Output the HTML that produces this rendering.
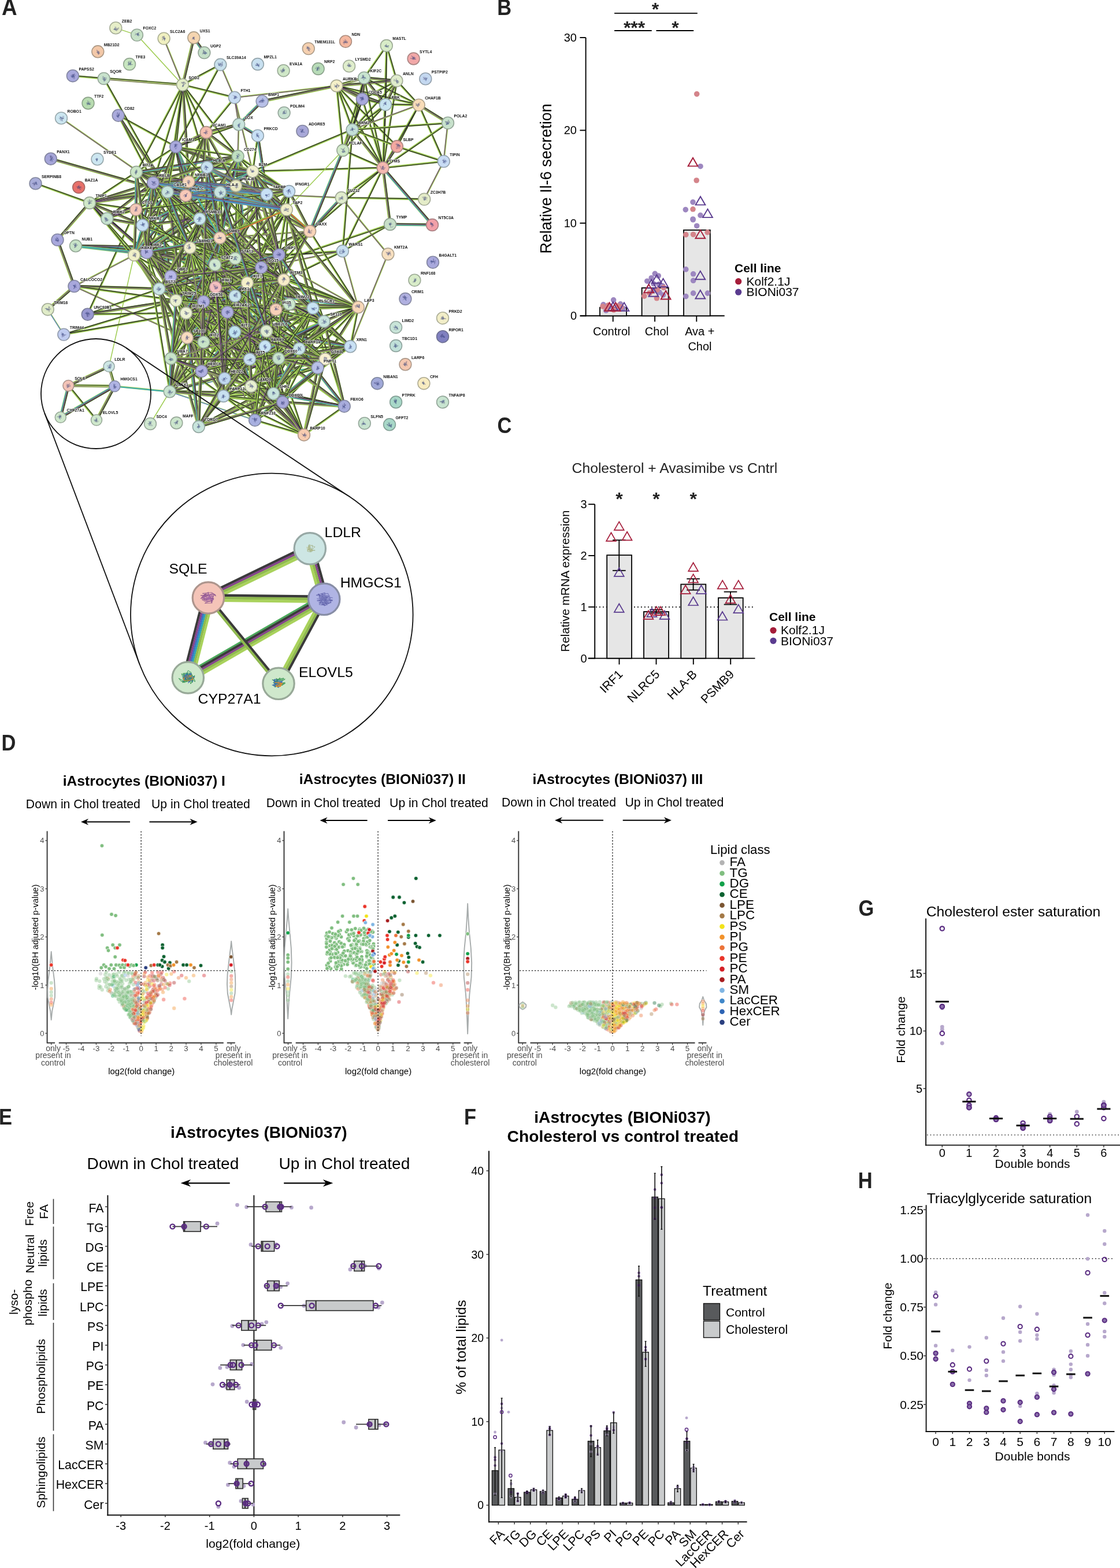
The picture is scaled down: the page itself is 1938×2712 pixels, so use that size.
<!DOCTYPE html>
<html><head><meta charset="utf-8"><title>Figure</title>
<style>html,body{margin:0;padding:0;background:#fff;} svg{display:block;} text{font-family:"Liberation Sans",Arial,Helvetica,sans-serif;}.n{r:3.3px;fill-opacity:.4;stroke:#fff;stroke-opacity:.45;stroke-width:.6}.s{r:3.3px;stroke:#fff;stroke-width:.7}.c0{fill:#b3b3b3}.c1{fill:#80be80}.c2{fill:#12a14a}.c3{fill:#0b6130}.c4{fill:#7b5532}.c5{fill:#a47947}.c6{fill:#f2e319}.c7{fill:#f2922b}.c8{fill:#ec7339}.c9{fill:#ea3429}.c10{fill:#d42027}.c11{fill:#a81d1f}.c12{fill:#7fb5e3}.c13{fill:#3f87c9}.c14{fill:#2d63b4}.c15{fill:#2b3f7f}</style>
</head><body>
<svg width="1938" height="2712" viewBox="0 0 1938 2712">
<rect width="1938" height="2712" fill="#fff"/>
<text x="0" y="0" font-size="35.5" font-weight="bold" fill="#222" transform="translate(860.3 25.7) scale(0.97 1.08)">B</text>
<line x1="1013.6" y1="65.0" x2="1013.6" y2="547.2" stroke="#000" stroke-width="1.9"/>
<line x1="1004.0" y1="546.3" x2="1253.7" y2="546.3" stroke="#000" stroke-width="1.9"/>
<line x1="1003.4" y1="546.3" x2="1013.6" y2="546.3" stroke="#000" stroke-width="1.9"/>
<text x="998.0" y="553.3" font-size="20" text-anchor="end">0</text>
<line x1="1003.4" y1="385.9" x2="1013.6" y2="385.9" stroke="#000" stroke-width="1.9"/>
<text x="998.0" y="392.9" font-size="20" text-anchor="end">10</text>
<line x1="1003.4" y1="225.4" x2="1013.6" y2="225.4" stroke="#000" stroke-width="1.9"/>
<text x="998.0" y="232.4" font-size="20" text-anchor="end">20</text>
<line x1="1003.4" y1="65.0" x2="1013.6" y2="65.0" stroke="#000" stroke-width="1.9"/>
<text x="998.0" y="72.0" font-size="20" text-anchor="end">30</text>
<line x1="1060.7" y1="546.3" x2="1060.7" y2="556.4" stroke="#000" stroke-width="1.9"/>
<line x1="1133.1" y1="546.3" x2="1133.1" y2="556.4" stroke="#000" stroke-width="1.9"/>
<line x1="1205.3" y1="546.3" x2="1205.3" y2="556.4" stroke="#000" stroke-width="1.9"/>
<text x="1058.3" y="580.4" font-size="20" text-anchor="middle">Control</text>
<text x="1136.4" y="580.4" font-size="20" text-anchor="middle">Chol</text>
<text x="1210.8" y="580.4" font-size="20" text-anchor="middle">Ava +</text>
<text x="1211.0" y="605.7" font-size="20" text-anchor="middle">Chol</text>
<text x="953.5" y="309.0" font-size="27" text-anchor="middle" transform="rotate(-90 953.5 309.0)">Relative Il-6 secretion</text>
<rect x="1038.0" y="531.8" width="46.1" height="14.5" fill="#e6e6e6" stroke="#000" stroke-width="1.8"/>
<rect x="1110.6" y="497.9" width="46.1" height="48.4" fill="#e6e6e6" stroke="#000" stroke-width="1.8"/>
<rect x="1183.0" y="397.9" width="45.8" height="148.4" fill="#e6e6e6" stroke="#000" stroke-width="1.8"/>
<line x1="1063.1" y1="22.9" x2="1206.8" y2="22.9" stroke="#000" stroke-width="1.9"/>
<line x1="1063.1" y1="53.0" x2="1127.7" y2="53.0" stroke="#000" stroke-width="1.9"/>
<line x1="1135.5" y1="53.0" x2="1200.2" y2="53.0" stroke="#000" stroke-width="1.9"/>
<text x="1134.0" y="26.5" font-size="32" text-anchor="middle" font-weight="bold" fill="#222">*</text>
<text x="1097.6" y="58.5" font-size="32" text-anchor="middle" font-weight="bold" fill="#222">***</text>
<text x="1168.4" y="58.5" font-size="32" text-anchor="middle" font-weight="bold" fill="#222">*</text>
<circle cx="1199.2" cy="380.0" r="4.8" fill="#9d87c0"/>
<circle cx="1205.7" cy="390.7" r="4.8" fill="#9d87c0"/>
<circle cx="1212.0" cy="287.7" r="4.8" fill="#9d87c0"/>
<circle cx="1199.0" cy="349.6" r="4.8" fill="#9d87c0"/>
<circle cx="1186.3" cy="362.6" r="4.8" fill="#9d87c0"/>
<circle cx="1212.0" cy="372.4" r="4.8" fill="#9d87c0"/>
<circle cx="1199.0" cy="379.0" r="4.8" fill="#9d87c0"/>
<circle cx="1186.8" cy="465.9" r="4.8" fill="#9d87c0"/>
<circle cx="1199.6" cy="473.8" r="4.8" fill="#9d87c0"/>
<circle cx="1199.6" cy="485.3" r="4.8" fill="#9d87c0"/>
<circle cx="1186.8" cy="512.6" r="4.8" fill="#9d87c0"/>
<circle cx="1199.6" cy="507.1" r="4.8" fill="#9d87c0"/>
<circle cx="1224.5" cy="507.1" r="4.8" fill="#9d87c0"/>
<circle cx="1133.3" cy="473.3" r="4.8" fill="#9d87c0"/>
<circle cx="1127.2" cy="480.7" r="4.8" fill="#9d87c0"/>
<circle cx="1139.2" cy="477.0" r="4.8" fill="#9d87c0"/>
<circle cx="1119.8" cy="486.2" r="4.8" fill="#9d87c0"/>
<circle cx="1130.9" cy="490.8" r="4.8" fill="#9d87c0"/>
<circle cx="1140.0" cy="491.8" r="4.8" fill="#9d87c0"/>
<circle cx="1146.6" cy="494.5" r="4.8" fill="#9d87c0"/>
<circle cx="1141.0" cy="505.6" r="4.8" fill="#9d87c0"/>
<circle cx="1147.5" cy="510.2" r="4.8" fill="#9d87c0"/>
<circle cx="1130.9" cy="502.8" r="4.8" fill="#9d87c0"/>
<circle cx="1044.0" cy="526.9" r="4.8" fill="#9d87c0"/>
<circle cx="1061.6" cy="518.9" r="4.8" fill="#9d87c0"/>
<circle cx="1073.6" cy="525.9" r="4.8" fill="#9d87c0"/>
<circle cx="1048.7" cy="537.0" r="4.8" fill="#9d87c0"/>
<circle cx="1078.2" cy="533.3" r="4.8" fill="#9d87c0"/>
<circle cx="1056.0" cy="530.0" r="4.8" fill="#9d87c0"/>
<circle cx="1068.0" cy="534.0" r="4.8" fill="#9d87c0"/>
<circle cx="1205.7" cy="162.6" r="4.8" fill="#d4848a"/>
<circle cx="1205.2" cy="312.0" r="4.8" fill="#d4848a"/>
<circle cx="1199.0" cy="361.8" r="4.8" fill="#d4848a"/>
<circle cx="1186.8" cy="405.9" r="4.8" fill="#d4848a"/>
<circle cx="1199.6" cy="405.5" r="4.8" fill="#d4848a"/>
<circle cx="1224.2" cy="401.8" r="4.8" fill="#d4848a"/>
<circle cx="1114.8" cy="512.1" r="4.8" fill="#d4848a"/>
<circle cx="1136.4" cy="515.8" r="4.8" fill="#d4848a"/>
<circle cx="1148.4" cy="497.3" r="4.8" fill="#d4848a"/>
<circle cx="1137.3" cy="501.0" r="4.8" fill="#d4848a"/>
<circle cx="1124.0" cy="507.0" r="4.8" fill="#d4848a"/>
<circle cx="1043.0" cy="530.0" r="4.8" fill="#d4848a"/>
<circle cx="1052.4" cy="528.0" r="4.8" fill="#d4848a"/>
<circle cx="1069.0" cy="529.0" r="4.8" fill="#d4848a"/>
<circle cx="1074.5" cy="531.0" r="4.8" fill="#d4848a"/>
<circle cx="1062.0" cy="536.0" r="4.8" fill="#d4848a"/>
<circle cx="1050.0" cy="534.0" r="4.8" fill="#d4848a"/>
<path d="M1203.6,354.4L1220.4,354.4L1212.0,339.9Z" fill="none" stroke="#5a3b8f" stroke-width="1.9" stroke-linejoin="miter"/>
<path d="M1216.1,376.1L1232.9,376.1L1224.5,361.6Z" fill="none" stroke="#5a3b8f" stroke-width="1.9" stroke-linejoin="miter"/>
<path d="M1203.4,483.3L1220.2,483.3L1211.8,468.8Z" fill="none" stroke="#5a3b8f" stroke-width="1.9" stroke-linejoin="miter"/>
<path d="M1203.4,516.5L1220.2,516.5L1211.8,502.0Z" fill="none" stroke="#5a3b8f" stroke-width="1.9" stroke-linejoin="miter"/>
<path d="M1128.0,489.8L1144.8,489.8L1136.4,475.3Z" fill="none" stroke="#5a3b8f" stroke-width="1.9" stroke-linejoin="miter"/>
<path d="M1139.1,496.3L1155.9,496.3L1147.5,481.8Z" fill="none" stroke="#5a3b8f" stroke-width="1.9" stroke-linejoin="miter"/>
<path d="M1118.8,498.2L1135.6,498.2L1127.2,483.7Z" fill="none" stroke="#5a3b8f" stroke-width="1.9" stroke-linejoin="miter"/>
<path d="M1122.5,512.8L1139.3,512.8L1130.9,498.3Z" fill="none" stroke="#5a3b8f" stroke-width="1.9" stroke-linejoin="miter"/>
<path d="M1052.3,537.0L1069.1,537.0L1060.7,522.5Z" fill="none" stroke="#5a3b8f" stroke-width="1.9" stroke-linejoin="miter"/>
<path d="M1071.6,537.8L1088.4,537.8L1080.0,523.3Z" fill="none" stroke="#5a3b8f" stroke-width="1.9" stroke-linejoin="miter"/>
<path d="M1190.6,287.4L1207.4,287.4L1199.0,272.9Z" fill="none" stroke="#a51d3a" stroke-width="1.9" stroke-linejoin="miter"/>
<path d="M1203.4,412.3L1220.2,412.3L1211.8,397.8Z" fill="none" stroke="#a51d3a" stroke-width="1.9" stroke-linejoin="miter"/>
<path d="M1114.2,506.3L1131.0,506.3L1122.6,491.8Z" fill="none" stroke="#a51d3a" stroke-width="1.9" stroke-linejoin="miter"/>
<path d="M1143.7,517.5L1160.5,517.5L1152.1,503.0Z" fill="none" stroke="#a51d3a" stroke-width="1.9" stroke-linejoin="miter"/>
<path d="M1046.2,537.8L1063.0,537.8L1054.6,523.3Z" fill="none" stroke="#a51d3a" stroke-width="1.9" stroke-linejoin="miter"/>
<path d="M1056.9,537.8L1073.7,537.8L1065.3,523.3Z" fill="none" stroke="#a51d3a" stroke-width="1.9" stroke-linejoin="miter"/>
<text x="1271.0" y="471.0" font-size="21" font-weight="bold">Cell line</text>
<circle cx="1277.7" cy="486.7" r="5.6" fill="#a51d3a"/>
<text x="1291.5" y="493.5" font-size="21">Kolf2.1J</text>
<circle cx="1277.7" cy="505.2" r="5.6" fill="#5a3b8f"/>
<text x="1291.5" y="512.0" font-size="21">BIONi037</text>
<text x="0" y="0" font-size="35.5" font-weight="bold" fill="#222" transform="translate(860.6 748.7) scale(0.97 1.08)">C</text>
<text x="1167.4" y="818.0" font-size="24.7" text-anchor="middle" fill="#222">Cholesterol + Avasimibe vs Cntrl</text>
<line x1="1029.2" y1="872.2" x2="1029.2" y2="1139.5" stroke="#000" stroke-width="1.9"/>
<line x1="1017.6" y1="1138.6" x2="1306.5" y2="1138.6" stroke="#000" stroke-width="1.9"/>
<line x1="1018.1" y1="1138.6" x2="1029.2" y2="1138.6" stroke="#000" stroke-width="1.9"/>
<text x="1015.5" y="1145.6" font-size="20" text-anchor="end">0</text>
<line x1="1018.1" y1="1049.8" x2="1029.2" y2="1049.8" stroke="#000" stroke-width="1.9"/>
<text x="1015.5" y="1056.8" font-size="20" text-anchor="end">1</text>
<line x1="1018.1" y1="961.0" x2="1029.2" y2="961.0" stroke="#000" stroke-width="1.9"/>
<text x="1015.5" y="968.0" font-size="20" text-anchor="end">2</text>
<line x1="1018.1" y1="872.2" x2="1029.2" y2="872.2" stroke="#000" stroke-width="1.9"/>
<text x="1015.5" y="879.2" font-size="20" text-anchor="end">3</text>
<line x1="1071.5" y1="1138.6" x2="1071.5" y2="1149.3" stroke="#000" stroke-width="1.9"/>
<line x1="1135.5" y1="1138.6" x2="1135.5" y2="1149.3" stroke="#000" stroke-width="1.9"/>
<line x1="1199.8" y1="1138.6" x2="1199.8" y2="1149.3" stroke="#000" stroke-width="1.9"/>
<line x1="1264.2" y1="1138.6" x2="1264.2" y2="1149.3" stroke="#000" stroke-width="1.9"/>
<line x1="1031.0" y1="1049.8" x2="1306.5" y2="1049.8" stroke="#000" stroke-width="1.8" stroke-dasharray="1.8 4.2"/>
<rect x="1050.2" y="960.2" width="42.8" height="178.4" fill="#e6e6e6" stroke="#000" stroke-width="1.8"/>
<rect x="1114.0" y="1058.0" width="43.0" height="80.6" fill="#e6e6e6" stroke="#000" stroke-width="1.8"/>
<rect x="1178.3" y="1010.6" width="43.0" height="128.0" fill="#e6e6e6" stroke="#000" stroke-width="1.8"/>
<rect x="1243.0" y="1034.1" width="42.7" height="104.5" fill="#e6e6e6" stroke="#000" stroke-width="1.8"/>
<text x="1071.5" y="874.0" font-size="32" text-anchor="middle" font-weight="bold" fill="#222">*</text>
<text x="1135.5" y="874.0" font-size="32" text-anchor="middle" font-weight="bold" fill="#222">*</text>
<text x="1199.8" y="874.0" font-size="32" text-anchor="middle" font-weight="bold" fill="#222">*</text>
<text x="984.5" y="1005.0" font-size="20.6" text-anchor="middle" transform="rotate(-90 984.5 1005.0)">Relative mRNA expression</text>
<line x1="1071.3" y1="986.8" x2="1071.3" y2="934.2" stroke="#000" stroke-width="1.8"/>
<line x1="1060.0" y1="986.8" x2="1082.6" y2="986.8" stroke="#000" stroke-width="1.8"/>
<line x1="1060.0" y1="934.2" x2="1082.6" y2="934.2" stroke="#000" stroke-width="1.8"/>
<line x1="1135.5" y1="1060.5" x2="1135.5" y2="1054.5" stroke="#000" stroke-width="1.8"/>
<line x1="1124.2" y1="1060.5" x2="1146.8" y2="1060.5" stroke="#000" stroke-width="1.8"/>
<line x1="1124.2" y1="1054.5" x2="1146.8" y2="1054.5" stroke="#000" stroke-width="1.8"/>
<line x1="1199.6" y1="1020.5" x2="1199.6" y2="1001.2" stroke="#000" stroke-width="1.8"/>
<line x1="1188.3" y1="1020.5" x2="1210.9" y2="1020.5" stroke="#000" stroke-width="1.8"/>
<line x1="1188.3" y1="1001.2" x2="1210.9" y2="1001.2" stroke="#000" stroke-width="1.8"/>
<line x1="1264.0" y1="1045.5" x2="1264.0" y2="1023.6" stroke="#000" stroke-width="1.8"/>
<line x1="1252.7" y1="1045.5" x2="1275.3" y2="1045.5" stroke="#000" stroke-width="1.8"/>
<line x1="1252.7" y1="1023.6" x2="1275.3" y2="1023.6" stroke="#000" stroke-width="1.8"/>
<path d="M1062.9,996.8L1079.7,996.8L1071.3,982.3Z" fill="none" stroke="#5a3b8f" stroke-width="1.7" stroke-linejoin="miter"/>
<path d="M1062.9,1058.8L1079.7,1058.8L1071.3,1044.3Z" fill="none" stroke="#5a3b8f" stroke-width="1.7" stroke-linejoin="miter"/>
<path d="M1205.0,1026.8L1221.8,1026.8L1213.4,1012.3Z" fill="none" stroke="#5a3b8f" stroke-width="1.7" stroke-linejoin="miter"/>
<path d="M1191.2,1047.0L1208.0,1047.0L1199.6,1032.5Z" fill="none" stroke="#5a3b8f" stroke-width="1.7" stroke-linejoin="miter"/>
<path d="M1269.4,1060.1L1286.2,1060.1L1277.8,1045.6Z" fill="none" stroke="#5a3b8f" stroke-width="1.7" stroke-linejoin="miter"/>
<path d="M1241.6,1072.5L1258.4,1072.5L1250.0,1058.0Z" fill="none" stroke="#5a3b8f" stroke-width="1.7" stroke-linejoin="miter"/>
<path d="M1119.6,1066.8L1136.4,1066.8L1128.0,1052.3Z" fill="none" stroke="#5a3b8f" stroke-width="1.7" stroke-linejoin="miter"/>
<path d="M1141.6,1070.8L1158.4,1070.8L1150.0,1056.3Z" fill="none" stroke="#5a3b8f" stroke-width="1.7" stroke-linejoin="miter"/>
<path d="M1062.9,916.9L1079.7,916.9L1071.3,902.4Z" fill="none" stroke="#a51d3a" stroke-width="1.7" stroke-linejoin="miter"/>
<path d="M1049.1,935.8L1065.9,935.8L1057.5,921.3Z" fill="none" stroke="#a51d3a" stroke-width="1.7" stroke-linejoin="miter"/>
<path d="M1076.7,934.3L1093.5,934.3L1085.1,919.8Z" fill="none" stroke="#a51d3a" stroke-width="1.7" stroke-linejoin="miter"/>
<path d="M1191.2,987.8L1208.0,987.8L1199.6,973.3Z" fill="none" stroke="#a51d3a" stroke-width="1.7" stroke-linejoin="miter"/>
<path d="M1191.2,1007.6L1208.0,1007.6L1199.6,993.1Z" fill="none" stroke="#a51d3a" stroke-width="1.7" stroke-linejoin="miter"/>
<path d="M1177.8,1026.8L1194.6,1026.8L1186.2,1012.3Z" fill="none" stroke="#a51d3a" stroke-width="1.7" stroke-linejoin="miter"/>
<path d="M1241.8,1018.4L1258.6,1018.4L1250.2,1003.9Z" fill="none" stroke="#a51d3a" stroke-width="1.7" stroke-linejoin="miter"/>
<path d="M1269.4,1018.4L1286.2,1018.4L1277.8,1003.9Z" fill="none" stroke="#a51d3a" stroke-width="1.7" stroke-linejoin="miter"/>
<path d="M1255.6,1043.1L1272.4,1043.1L1264.0,1028.6Z" fill="none" stroke="#a51d3a" stroke-width="1.7" stroke-linejoin="miter"/>
<path d="M1113.6,1070.8L1130.4,1070.8L1122.0,1056.3Z" fill="none" stroke="#a51d3a" stroke-width="1.7" stroke-linejoin="miter"/>
<path d="M1127.6,1063.8L1144.4,1063.8L1136.0,1049.3Z" fill="none" stroke="#a51d3a" stroke-width="1.7" stroke-linejoin="miter"/>
<path d="M1134.6,1063.8L1151.4,1063.8L1143.0,1049.3Z" fill="none" stroke="#a51d3a" stroke-width="1.7" stroke-linejoin="miter"/>
<text x="1078.8" y="1167.5" font-size="21" text-anchor="end" transform="rotate(-45 1078.8 1167.5)">IRF1</text>
<text x="1142.8" y="1167.5" font-size="21" text-anchor="end" transform="rotate(-45 1142.8 1167.5)">NLRC5</text>
<text x="1207.1" y="1167.5" font-size="21" text-anchor="end" transform="rotate(-45 1207.1 1167.5)">HLA-B</text>
<text x="1271.5" y="1167.5" font-size="21" text-anchor="end" transform="rotate(-45 1271.5 1167.5)">PSMB9</text>
<text x="1331.0" y="1073.6" font-size="21" font-weight="bold">Cell line</text>
<circle cx="1338.0" cy="1090.3" r="5.6" fill="#a51d3a"/>
<text x="1351.0" y="1097.0" font-size="21">Kolf2.1J</text>
<circle cx="1338.0" cy="1108.3" r="5.6" fill="#5a3b8f"/>
<text x="1351.0" y="1115.5" font-size="21">BIONi037</text>
<text x="0" y="0" font-size="38" font-weight="bold" fill="#222" transform="translate(3.0 25.9) scale(0.97 1.08)">A</text>
<path d="M200.3 48.4L237.0 60.6M237.0 60.6L316.0 146.7M188.6 633.8L232.1 441.1M260.0 733.0L293.7 677.3" stroke="#9ccb4e" stroke-width="1.5" fill="none"/>
<path d="M283.6 66.6L316.0 146.7M381.4 111.8L405.9 168.7M405.9 168.7L413.2 215.3M405.9 168.7L582.4 148.5M405.9 168.7L437.2 296.4M106.0 204.4L289.8 332.0M128.4 495.1L323.8 584.2M128.4 495.1L232.1 441.1M413.2 215.3L411.6 270.3" stroke="#9ccb4e" stroke-width="2.8" fill="none"/>
<path d="M335.3 65.3L316.0 146.7M316.0 146.7L326.5 314.4M453.6 175.2L582.4 148.5M204.7 199.7L289.8 332.0M87.8 274.7L289.8 332.0M99.5 414.9L155.0 351.0M99.5 414.9L128.4 495.1M128.4 495.1L82.7 535.2M128.4 495.1L275.4 499.7M151.7 543.7L304.5 519.6M356.8 229.0L413.2 215.3M356.8 229.0L411.6 270.3M356.8 229.0L304.3 254.0M582.4 148.5L686.4 139.7M582.4 148.5L626.9 171.3M582.4 148.5L667.0 180.9M630.0 134.6L686.4 139.7M630.0 134.6L626.9 171.3M630.0 134.6L667.0 180.9M686.4 139.7L667.0 180.9M724.7 181.6L775.0 212.7" stroke="#9ccb4e" stroke-width="5.0" fill="none"/>
<path d="M335.3 65.3L353.4 91.1M453.6 175.2L413.2 215.3M131.0 425.3L452.1 462.7M131.0 425.3L407.1 447.0M131.0 425.3L328.6 428.5M445.9 234.7L461.6 336.2M445.9 234.7L413.2 215.3" stroke="#9ccb4e" stroke-width="5.2" fill="none"/>
<path d="M125.9 131.2L179.7 135.9M179.7 135.9L289.8 332.0M316.0 146.7L405.9 168.7M316.0 146.7L381.4 111.8M316.0 146.7L304.3 254.0M316.0 146.7L356.8 229.0M316.0 146.7L358.2 289.3M316.0 146.7L289.8 332.0M316.0 146.7L265.0 316.0M316.0 146.7L411.6 270.3M316.0 146.7L236.0 297.8M381.4 111.8L304.3 254.0M405.9 168.7L356.8 229.0M204.7 199.7L304.3 254.0M204.7 199.7L265.0 316.0M61.5 317.4L155.0 351.0M128.4 495.1L304.5 519.6M151.7 543.7L235.2 362.6M151.7 543.7L322.0 541.5M151.7 543.7L275.4 499.7M110.3 578.6L304.5 519.6M110.3 578.6L322.0 541.5M413.2 215.3L304.3 254.0M445.9 234.7L437.2 296.4M437.2 296.4L609.6 224.3M437.2 296.4L662.6 290.3M668.8 79.0L630.0 134.6M668.8 79.0L686.4 139.7M668.8 79.0L667.0 180.9M668.8 79.0L662.6 290.3M582.4 148.5L609.6 224.3M582.4 148.5L593.3 260.0M582.4 148.5L662.6 290.3M582.4 148.5L724.7 181.6M582.4 148.5L686.9 253.3M630.0 134.6L724.7 181.6M630.0 134.6L609.6 224.3M630.0 134.6L662.6 290.3M630.0 134.6L593.3 260.0M686.4 139.7L626.9 171.3M686.4 139.7L724.7 181.6M686.4 139.7L609.6 224.3M686.4 139.7L662.6 290.3M626.9 171.3L667.0 180.9M626.9 171.3L609.6 224.3M626.9 171.3L593.3 260.0M626.9 171.3L662.6 290.3M667.0 180.9L724.7 181.6M667.0 180.9L609.6 224.3M667.0 180.9L662.6 290.3M667.0 180.9L593.3 260.0M724.7 181.6L767.8 279.1" stroke="#9ccb4e" stroke-width="3.6" fill="none"/>
<path d="M179.7 135.9L316.0 146.7M582.4 148.5L630.0 134.6" stroke="#9ccb4e" stroke-width="4.8" fill="none"/>
<path d="M82.7 535.2L110.3 578.6" stroke="#9ccb4e" stroke-width="2.2" fill="none"/>
<path d="M198.4 668.0L293.7 677.3" stroke="#9ccb4e" stroke-width="3.0" fill="none"/>
<path d="M283.2 66.7L315.6 146.8M381.0 112.0L405.5 168.9M405.5 168.8L412.8 215.4M405.9 169.1L582.4 148.9M405.5 168.8L436.8 296.5M105.8 204.7L289.6 332.3M128.2 495.5L323.6 584.6M128.6 495.5L232.3 441.5M412.8 215.3L411.2 270.3" stroke="#74507e" stroke-width="1.3" fill="none"/>
<path d="M336.7 65.6L317.4 147.0M126.0 130.6L179.8 135.3M180.2 135.6L290.3 331.7M316.1 146.1L406.0 168.1M315.7 146.2L381.1 111.3M316.6 146.8L304.9 254.1M316.5 146.4L357.3 228.7M317.4 146.6L327.9 314.3M316.6 146.5L358.8 289.1M316.6 146.8L290.4 332.1M316.6 146.9L265.6 316.2M316.5 146.3L412.1 269.9M316.5 147.0L236.5 298.1M381.9 112.1L304.8 254.3M406.4 169.1L357.3 229.4M453.3 173.8L582.1 147.1M205.0 199.2L304.6 253.5M205.9 198.9L291.0 331.2M205.2 199.4L265.5 315.7M88.2 273.3L290.2 330.6M61.7 316.8L155.2 350.4M98.4 413.9L153.9 350.0M100.9 414.4L129.8 494.6M129.4 496.2L83.7 536.3M128.4 493.7L275.4 498.3M128.5 494.5L304.6 519.0M151.2 543.4L234.7 362.3M151.5 542.3L304.3 518.2M151.7 543.1L322.0 540.9M151.5 543.1L275.2 499.1M110.1 578.0L304.3 519.0M110.2 578.0L321.9 540.9M356.5 227.6L412.9 213.9M357.7 227.8L412.5 269.1M357.4 230.3L304.9 255.3M413.4 215.9L304.5 254.6M446.5 234.8L437.8 296.5M437.0 295.8L609.4 223.7M437.2 295.8L662.6 289.7M669.3 79.3L630.5 134.9M669.4 78.8L687.0 139.5M669.4 79.0L667.6 180.9M669.4 79.0L663.2 290.3M582.3 147.1L686.3 138.3M583.1 147.2L627.6 170.0M582.9 147.1L667.5 179.5M583.0 148.3L610.2 224.1M583.0 148.4L593.9 259.9M582.9 148.2L663.1 290.0M582.5 147.9L724.8 181.0M582.8 148.1L687.3 252.9M630.1 133.2L686.5 138.3M631.4 134.7L628.3 171.4M631.1 133.7L668.1 180.0M630.3 134.1L725.0 181.1M630.6 134.7L610.2 224.4M630.6 134.5L663.2 290.2M630.6 134.8L593.9 260.2M687.7 140.3L668.3 181.5M686.7 140.2L627.2 171.8M686.8 139.3L725.1 181.2M686.8 140.1L610.0 224.7M687.0 139.8L663.2 290.4M627.0 170.7L667.1 180.3M627.5 171.5L610.2 224.5M627.5 171.5L593.9 260.2M627.5 171.1L663.2 290.1M667.0 180.3L724.7 181.0M667.4 181.4L610.0 224.8M667.6 180.9L663.2 290.3M667.4 181.3L593.7 260.4M725.5 180.4L775.8 211.5M725.2 181.4L768.3 278.9" stroke="#2e2e2e" stroke-width="1.4" fill="none"/>
<path d="M334.2 66.0L352.3 91.8M452.7 174.3L412.3 214.4M130.8 426.6L451.9 464.0M130.9 426.6L407.0 448.3M131.0 426.6L328.6 429.8M444.6 234.9L460.3 336.4M446.6 233.6L413.9 214.2" stroke="#38a9bb" stroke-width="1.3" fill="none"/>
<path d="M179.8 134.6L316.1 145.4M582.0 147.3L629.6 133.4" stroke="#2e2e2e" stroke-width="1.1" fill="none"/>
<path d="M82.4 535.4L110.0 578.8" stroke="#5a7fd6" stroke-width="1.2" fill="none"/>
<path d="M198.4 668.3L293.7 677.6" stroke="#38a9bb" stroke-width="1.8" fill="none"/>
<path d="M334.9 65.2L315.6 146.6M315.6 146.7L326.1 314.4M453.7 175.6L582.5 148.9M204.4 199.9L289.5 332.2M87.7 275.1L289.7 332.4M99.8 415.2L155.3 351.3M99.1 415.0L128.0 495.2M128.1 494.8L82.4 534.9M128.4 495.5L275.4 500.1M151.8 544.1L304.6 520.0M356.9 229.4L413.3 215.7M356.6 229.3L411.4 270.6M356.6 228.6L304.1 253.6M582.4 148.9L686.4 140.1M582.2 148.9L626.7 171.7M582.3 148.9L666.9 181.3M630.0 135.0L686.4 140.1M629.6 134.6L626.5 171.3M629.7 134.8L666.7 181.1M686.0 139.5L666.6 180.7M724.5 181.9L774.8 213.0" stroke="#74507e" stroke-width="1.2" fill="none"/>
<path d="M336.6 64.4L354.7 90.2M454.7 176.3L414.3 216.4M131.2 423.7L452.3 461.1M131.1 423.7L407.2 445.4M131.0 423.7L328.6 426.9M447.5 234.5L463.2 336.0M445.1 236.1L412.4 216.7" stroke="#2e2e2e" stroke-width="1.3" fill="none"/>
<path d="M179.6 137.1L315.9 147.9M582.7 149.7L630.3 135.8" stroke="#74507e" stroke-width="1.1" fill="none"/>
<path d="M335.4 65.2L353.5 91.0M453.7 175.3L413.3 215.4M131.0 425.2L452.1 462.6M131.0 425.2L407.1 446.9M131.0 425.2L328.6 428.4M446.0 234.7L461.7 336.2M445.8 234.8L413.1 215.4" stroke="#74507e" stroke-width="1.4" fill="none"/>
<path d="M179.7 136.3L316.0 147.1M582.5 148.9L630.1 135.0" stroke="#bcdc78" stroke-width="0.9" fill="none"/>
<path d="M724.7 181.6L686.9 253.3M724.7 181.6L662.6 290.3M775.0 212.7L609.6 224.3M775.0 212.7L662.6 290.3M767.8 279.1L662.6 290.3M767.8 279.1L686.9 253.3M609.6 224.3L686.9 253.3M609.6 224.3L592.8 434.3M593.3 260.0L662.6 290.3M662.6 290.3L590.7 342.0M662.6 290.3L592.8 434.3M662.6 290.3L536.2 400.0M590.7 342.0L734.2 344.6M675.0 388.0L592.8 434.3M675.0 388.0L452.1 462.7M592.8 434.3L482.7 440.6M592.8 434.3L407.1 447.0M592.8 434.3L491.1 484.0M155.0 351.0L235.2 362.6M155.0 351.0L236.0 297.8M155.0 351.0L304.5 519.6M155.0 351.0L275.4 499.7M185.3 378.2L235.2 362.6M185.3 378.2L295.4 478.0M118.4 667.0L167.0 726.5M500.6 526.0L323.8 584.2M473.1 680.6L386.7 685.0M541.5 533.0L606.2 599.3M477.5 535.5L489.2 695.7M406.7 512.0L406.2 574.2M235.2 362.6L393.5 540.0M380.5 411.5L393.5 540.0M477.5 535.5L434.5 668.2M323.8 584.2L517.7 603.1" stroke="#9ccb4e" stroke-width="3.6" fill="none"/>
<path d="M724.7 181.6L609.6 224.3M775.0 212.7L767.8 279.1M767.8 279.1L734.2 344.6M590.7 342.0L461.6 336.2M590.7 342.0L671.4 439.5M671.4 439.5L606.2 599.3M592.8 434.3L452.1 462.7M592.8 434.3L619.7 531.3M393.5 540.0L619.7 531.3M326.5 314.4L356.8 229.0M323.8 584.2L562.7 621.0" stroke="#9ccb4e" stroke-width="2.8" fill="none"/>
<path d="M609.6 224.3L593.3 260.0M609.6 224.3L662.6 290.3M686.9 253.3L662.6 290.3M662.6 290.3L675.0 388.0M155.0 351.0L185.3 378.2M155.0 351.0L246.5 389.5M155.0 351.0L289.8 332.0M155.0 351.0L265.0 316.0M155.0 351.0L326.5 314.4M155.0 351.0L253.9 436.9M185.3 378.2L289.8 332.0M185.3 378.2L246.5 389.5M185.3 378.2L326.5 314.4M185.3 378.2L265.0 316.0M185.3 378.2L253.9 436.9M188.6 633.8L118.4 667.0M198.4 668.0L167.0 726.5M427.9 489.1L406.2 574.2M406.7 512.0L482.0 620.0M235.2 362.6L345.4 378.5M295.4 478.0L352.4 591.7M253.9 436.9L372.0 458.0M323.8 584.2L432.0 621.3M358.2 289.3L236.0 297.8M432.0 621.3L441.1 726.7M289.8 332.0L352.3 521.7M358.2 289.3L246.5 389.5" stroke="#9ccb4e" stroke-width="5.0" fill="none"/>
<path d="M593.3 260.0L536.2 400.0M662.6 290.3L748.0 389.0M590.7 342.0L536.2 400.0M675.0 388.0L748.0 389.0M118.4 667.0L104.8 721.8M198.4 668.0L104.8 721.8M253.9 436.9L407.1 447.0M232.1 441.1L372.0 458.0M246.5 389.5L427.9 489.1M289.8 332.0L495.8 362.6M321.3 338.3L461.6 336.2M326.5 314.4L495.8 362.6M381.0 332.3L408.2 321.5M380.5 411.5L406.7 512.0M393.5 540.0L434.5 668.2" stroke="#9ccb4e" stroke-width="5.2" fill="none"/>
<path d="M593.3 260.0L495.8 362.6" stroke="#9ccb4e" stroke-width="1.5" fill="none"/>
<path d="M118.4 667.0L198.4 668.0M188.6 633.8L198.4 668.0" stroke="#9ccb4e" stroke-width="4.8" fill="none"/>
<path d="M253.9 436.9L452.1 462.7M246.5 389.5L372.0 458.0M321.3 338.3L495.8 362.6M289.8 332.0L461.6 336.2M388.7 654.6L549.6 636.2M131.0 425.3L253.9 436.9" stroke="#9ccb4e" stroke-width="3.0" fill="none"/>
<path d="M293.7 677.3L441.1 726.7M293.7 677.3L388.7 654.6" stroke="#9ccb4e" stroke-width="2.2" fill="none"/>
<path d="M725.2 181.9L687.4 253.6M725.2 181.9L663.1 290.6M775.0 213.3L609.6 224.9M775.3 213.2L662.9 290.8M767.9 279.7L662.7 290.9M767.6 279.7L686.7 253.9M610.9 224.9L594.6 260.6M610.7 223.4L663.7 289.4M609.8 223.7L687.1 252.7M610.2 224.3L593.4 434.3M593.5 259.5L662.8 289.8M688.1 254.1L663.8 291.1M663.0 290.8L591.1 342.5M664.0 290.1L676.4 387.8M663.1 290.6L593.3 434.6M663.0 290.8L536.6 400.5M590.7 341.4L734.2 344.0M675.3 388.5L593.1 434.8M675.2 388.6L452.3 463.3M592.8 434.9L482.7 441.2M592.8 434.9L407.1 447.6M593.1 434.8L491.4 484.5M156.0 349.9L186.3 377.1M155.6 349.7L247.1 388.2M154.8 349.6L289.6 330.6M154.6 349.6L264.6 314.6M154.7 349.6L326.2 313.0M155.1 350.4L235.3 362.0M156.0 349.9L254.9 435.8M154.7 350.5L235.7 297.3M155.4 350.6L304.9 519.2M155.5 350.6L275.9 499.3M184.7 376.9L289.2 330.7M185.6 376.8L246.8 388.1M184.7 376.9L325.9 313.1M184.4 377.1L264.1 314.9M186.2 377.1L254.8 435.8M185.1 377.6L235.0 362.0M185.7 377.8L295.8 477.6M189.2 635.1L119.0 668.3M118.9 666.6L167.5 726.1M199.7 668.7L168.3 727.2M429.3 489.5L407.6 574.6M500.8 526.6L324.0 584.8M407.9 511.2L483.2 619.2M235.4 361.2L345.6 377.1M473.1 681.2L386.7 685.6M541.9 532.6L606.6 598.9M478.1 535.5L489.8 695.7M296.7 477.4L353.7 591.1M254.2 435.5L372.3 456.6M407.3 512.0L406.8 574.2M324.3 582.8L432.5 619.9M235.6 362.2L393.9 539.6M381.1 411.4L394.1 539.9M358.3 290.7L236.1 299.2M478.1 535.7L435.1 668.4M433.4 621.2L442.5 726.6M291.2 331.5L353.7 521.2M359.2 290.4L247.5 390.6M323.9 583.6L517.8 602.5" stroke="#2e2e2e" stroke-width="1.4" fill="none"/>
<path d="M724.6 181.2L609.5 223.9M774.6 212.7L767.4 279.1M767.4 278.9L733.8 344.4M590.7 341.6L461.6 335.8M590.4 342.3L671.1 439.8M671.0 439.3L605.8 599.1M592.7 433.9L452.0 462.3M592.4 434.4L619.3 531.4M393.5 540.4L619.7 531.7M326.9 314.5L357.2 229.1M323.7 584.6L562.6 621.4" stroke="#74507e" stroke-width="1.3" fill="none"/>
<path d="M592.1 259.5L535.0 399.5M661.6 291.2L747.0 389.9M589.8 341.1L535.3 399.1M675.0 389.3L748.0 390.3M117.1 666.7L103.5 721.5M197.8 666.9L104.2 720.7M253.8 438.2L407.0 448.3M231.9 442.4L371.8 459.3M245.9 390.6L427.3 490.2M289.6 333.3L495.6 363.9M321.3 339.6L461.6 337.5M326.1 315.7L495.4 363.9M381.5 333.5L408.7 322.7M379.2 411.8L405.4 512.3M392.3 540.4L433.3 668.6" stroke="#38a9bb" stroke-width="1.3" fill="none"/>
<path d="M118.4 665.7L198.4 666.7M189.8 633.4L199.6 667.6" stroke="#2e2e2e" stroke-width="1.1" fill="none"/>
<path d="M253.9 437.2L452.1 463.0M246.4 389.8L371.9 458.3M321.3 338.6L495.8 362.9M289.8 332.3L461.6 336.5M388.7 654.9L549.6 636.5M131.0 425.6L253.9 437.2" stroke="#38a9bb" stroke-width="1.8" fill="none"/>
<path d="M293.6 677.6L441.0 727.0M293.8 677.6L388.8 654.9" stroke="#5a7fd6" stroke-width="1.2" fill="none"/>
<path d="M609.2 224.1L592.9 259.8M609.3 224.6L662.3 290.6M686.6 253.1L662.3 290.1M662.2 290.4L674.6 388.1M154.7 351.3L185.0 378.5M154.8 351.4L246.3 389.9M155.1 351.4L289.9 332.4M155.1 351.4L265.1 316.4M155.1 351.4L326.6 314.8M154.7 351.3L253.6 437.2M185.5 378.6L290.0 332.4M185.2 378.6L246.4 389.9M185.5 378.6L326.7 314.8M185.5 378.5L265.2 316.3M185.0 378.5L253.6 437.2M188.4 633.4L118.2 666.6M198.0 667.8L166.6 726.3M427.5 489.0L405.8 574.1M406.4 512.2L481.7 620.2M235.1 363.0L345.3 378.9M295.0 478.2L352.0 591.9M253.8 437.3L371.9 458.4M323.7 584.6L431.9 621.7M358.2 288.9L236.0 297.4M431.6 621.3L440.7 726.7M289.4 332.1L351.9 521.8M357.9 289.0L246.2 389.2" stroke="#74507e" stroke-width="1.2" fill="none"/>
<path d="M594.8 260.6L537.7 400.6M663.8 289.3L749.2 388.0M591.9 343.1L537.4 401.1M675.0 386.4L748.0 387.4M120.0 667.4L106.4 722.2M199.2 669.4L105.6 723.2M254.0 435.3L407.2 445.4M232.3 439.5L372.2 456.4M247.3 388.1L428.7 487.7M290.0 330.4L496.0 361.0M321.3 336.7L461.6 334.6M326.9 312.9L496.2 361.1M380.4 330.8L407.6 320.0M382.0 411.1L408.2 511.6M395.0 539.5L436.0 667.7" stroke="#2e2e2e" stroke-width="1.3" fill="none"/>
<path d="M118.4 668.2L198.4 669.2M187.4 634.1L197.2 668.3" stroke="#74507e" stroke-width="1.1" fill="none"/>
<path d="M593.4 260.0L536.3 400.0M662.7 290.2L748.1 388.9M590.8 342.1L536.3 400.1M675.0 387.9L748.0 388.9M118.5 667.0L104.9 721.8M198.4 668.1L104.8 721.9M253.9 436.8L407.1 446.9M232.1 441.0L372.0 457.9M246.5 389.4L427.9 489.0M289.8 331.9L495.8 362.5M321.3 338.2L461.6 336.1M326.5 314.3L495.8 362.5M381.0 332.2L408.2 321.4M380.6 411.5L406.8 512.0M393.6 540.0L434.6 668.2" stroke="#74507e" stroke-width="1.4" fill="none"/>
<path d="M118.4 667.4L198.4 668.4M188.2 633.9L198.0 668.1" stroke="#bcdc78" stroke-width="0.9" fill="none"/>
<path d="M407.1 447.0L606.2 599.3M372.9 496.8L348.8 641.9M491.1 484.0L393.5 540.0M380.5 411.5L406.2 574.2M236.0 297.8L328.6 428.5M560.7 556.0L619.7 531.3M408.2 321.5L541.5 533.0M491.1 484.0L411.6 270.3M345.4 378.5L461.0 572.8M326.5 314.4L345.4 378.5M293.7 677.3L473.1 680.6M323.8 584.2L482.0 620.0M458.6 599.2L388.7 654.6M482.7 440.6L304.5 519.6M265.0 316.0L482.7 440.6M328.6 428.5L372.0 458.0M393.5 540.0L352.4 591.7M253.9 436.9L232.1 441.1M323.8 584.2L293.7 677.3M372.9 496.8L406.2 574.2M295.8 620.0L388.7 654.6M253.9 436.9L372.9 496.8M458.6 599.2L562.7 621.0M358.2 289.3L393.5 540.0M393.5 540.0L500.6 526.0M323.8 584.2L343.8 738.0M495.8 362.6L406.7 512.0M407.1 447.0L293.7 677.3M380.5 411.5L372.0 458.0M407.1 447.0L500.6 526.0M381.0 332.3L328.6 428.5M407.1 447.0L323.8 584.2M500.6 526.0L352.4 591.7M275.4 499.7L304.5 519.6M517.7 603.1L489.2 695.7M461.6 336.2L536.2 400.0M482.7 440.6L406.7 512.0M482.0 620.0L595.7 702.7M321.3 338.3L407.1 447.0M452.1 462.7L304.5 519.6M322.0 541.5L536.2 400.0M406.2 574.2L356.8 229.0M323.8 584.2L388.7 654.6M345.4 378.5L500.6 526.0" stroke="#9ccb4e" stroke-width="5.0" fill="none"/>
<path d="M482.7 440.6L295.8 620.0M381.0 332.3L372.0 458.0M345.4 378.5L477.5 535.5M452.1 462.7L482.7 440.6M293.7 677.3L536.2 400.0M560.7 556.0L482.0 620.0M619.7 531.3L606.2 599.3M246.5 389.5L295.4 478.0M406.7 512.0L477.5 535.5M526.0 752.2L595.7 702.7M495.8 362.6L411.6 270.3M500.1 331.0L232.1 441.1M352.4 591.7L473.1 680.6M322.0 541.5L406.2 574.2M427.9 489.1L491.1 484.0M393.5 540.0L386.7 685.0M408.2 321.5L434.5 668.2M393.5 540.0L304.3 254.0M372.9 496.8L322.0 541.5M289.8 332.0L406.7 512.0M381.0 332.3L477.5 535.5M461.0 572.8L619.7 531.3M432.0 621.3L473.1 680.6M253.9 436.9L352.3 521.7M495.8 362.6L322.0 541.5M491.1 484.0L619.7 531.3M437.2 296.4L500.6 526.0M541.5 533.0L562.7 621.0M491.1 484.0L388.7 654.6M275.4 499.7L406.2 574.2M372.9 496.8L393.5 540.0M393.5 540.0L606.2 599.3M406.7 512.0L517.7 603.1M393.5 540.0L473.1 680.6M275.4 499.7L372.9 496.8M253.9 436.9L293.7 677.3M322.0 541.5L352.4 591.7" stroke="#9ccb4e" stroke-width="3.6" fill="none"/>
<path d="M500.1 331.0L495.8 362.6M437.2 296.4L461.6 336.2M500.1 331.0L304.3 254.0M265.0 316.0L326.5 314.4M345.4 378.5L372.9 496.8M427.9 489.1L411.6 270.3M265.0 316.0L295.4 478.0M500.6 526.0L458.6 599.2M406.7 512.0L432.0 621.3M541.5 533.0L406.2 574.2" stroke="#9ccb4e" stroke-width="5.2" fill="none"/>
<path d="M437.2 296.4L491.1 484.0M352.3 521.7L441.1 726.7M381.0 332.3L536.2 400.0M232.1 441.1L356.8 229.0M482.7 440.6L386.7 685.0M458.6 599.2L386.7 685.0M275.4 499.7L323.8 584.2" stroke="#9ccb4e" stroke-width="2.8" fill="none"/>
<path d="M408.0 445.8L607.1 598.1M374.3 497.0L350.2 642.1M491.8 485.3L394.2 541.3M483.1 441.0L296.2 620.4M381.9 411.3L407.6 574.0M237.2 297.0L329.8 427.7M381.6 332.3L372.6 458.0M560.1 554.7L619.1 530.0M409.4 320.7L542.7 532.2M489.7 484.5L410.2 270.8M346.6 377.8L462.2 572.1M345.9 378.1L478.0 535.1M327.9 314.0L346.8 378.1M293.7 675.9L473.1 679.2M451.7 462.2L482.3 440.1M324.1 582.8L482.3 618.6M459.5 600.3L389.6 655.7M293.2 676.9L535.7 399.6M561.1 556.5L482.4 620.5M483.3 441.9L305.1 520.9M265.7 314.7L483.4 439.3M620.3 531.4L606.8 599.4M247.0 389.2L295.9 477.7M406.9 511.4L477.7 534.9M525.7 751.7L595.4 702.2M329.4 427.3L372.8 456.8M394.6 540.9L353.5 592.6M495.4 363.0L411.2 270.7M254.2 438.3L232.4 442.5M325.2 584.6L295.1 677.7M500.3 331.6L232.3 441.7M352.8 591.2L473.5 680.1M374.2 496.2L407.5 573.6M296.3 618.6L389.2 653.2M254.6 435.6L373.6 495.5M458.9 597.8L563.0 619.6M322.2 540.9L406.4 573.6M359.6 289.1L394.9 539.8M393.3 538.6L500.4 524.6M427.9 488.5L491.1 483.4M325.2 584.0L345.2 737.8M394.1 540.0L387.3 685.0M497.0 363.3L407.9 512.7M408.4 447.6L295.0 677.9M408.8 321.5L435.1 668.2M392.9 540.2L303.7 254.2M373.3 497.3L322.4 542.0M381.9 411.8L373.4 458.3M408.0 445.9L501.5 524.9M382.3 333.0L329.9 429.2M290.3 331.7L407.2 511.7M381.5 332.0L478.0 535.2M460.8 572.2L619.5 530.7M432.5 621.0L473.6 680.3M254.3 436.4L352.7 521.2M408.3 447.8L325.0 585.0M501.2 527.3L353.0 593.0M276.2 498.5L305.3 518.4M519.1 603.5L490.6 696.1M496.2 363.0L322.4 541.9M491.3 483.4L619.9 530.7M437.8 296.2L501.2 525.8M462.5 335.1L537.1 398.9M483.7 441.7L407.7 513.1M542.1 532.9L563.3 620.9M491.6 484.3L389.2 654.9M482.9 618.8L596.6 701.5M275.7 499.2L406.5 573.7M373.4 496.5L394.0 539.7M322.4 337.4L408.2 446.1M393.7 539.4L606.4 598.7M452.6 464.1L305.0 521.0M321.2 540.3L535.4 398.8M404.8 574.4L355.4 229.2M324.9 583.2L389.8 653.6M346.4 377.4L501.6 524.9M407.1 511.5L518.1 602.6M394.0 539.7L473.6 680.3M275.4 499.1L372.9 496.2M254.5 436.8L294.3 677.2M322.5 541.2L352.9 591.4" stroke="#2e2e2e" stroke-width="1.4" fill="none"/>
<path d="M498.8 330.8L494.5 362.4M436.1 297.1L460.5 336.9M500.6 329.8L304.8 252.8M265.0 317.3L326.5 315.7M344.1 378.8L371.6 497.1M429.2 489.0L412.9 270.2M263.7 316.2L294.1 478.2M499.5 525.4L457.5 598.6M405.4 512.3L430.7 621.6M541.1 531.8L405.8 573.0" stroke="#38a9bb" stroke-width="1.3" fill="none"/>
<path d="M436.8 296.5L490.7 484.1M351.9 521.9L440.7 726.9M380.8 332.7L536.0 400.4M232.4 441.3L357.1 229.2M482.3 440.5L386.3 684.9M458.3 598.9L386.4 684.7M275.1 499.9L323.5 584.4" stroke="#74507e" stroke-width="1.3" fill="none"/>
<path d="M406.9 447.3L606.0 599.6M372.5 496.7L348.4 641.8M490.9 483.7L393.3 539.7M380.1 411.6L405.8 574.3M235.7 298.0L328.3 428.7M560.9 556.4L619.9 531.7M407.9 321.7L541.2 533.2M491.5 483.9L412.0 270.2M345.1 378.7L460.7 573.0M326.1 314.5L345.0 378.6M293.7 677.7L473.1 681.0M323.7 584.6L481.9 620.4M458.4 598.9L388.5 654.3M482.5 440.2L304.3 519.2M264.8 316.3L482.5 440.9M328.4 428.8L371.8 458.3M393.2 539.8L352.1 591.5M253.8 436.5L232.0 440.7M323.4 584.1L293.3 677.2M372.5 497.0L405.8 574.4M295.7 620.4L388.6 655.0M253.7 437.3L372.7 497.2M458.5 599.6L562.6 621.4M357.8 289.4L393.1 540.1M393.6 540.4L500.7 526.4M323.4 584.3L343.4 738.1M495.5 362.4L406.4 511.8M406.7 446.8L293.3 677.1M380.1 411.4L371.6 457.9M406.8 447.3L500.3 526.3M380.6 332.1L328.2 428.3M406.8 446.8L323.5 584.0M500.4 525.6L352.2 591.3M275.2 500.0L304.3 519.9M517.3 603.0L488.8 695.6M461.3 336.5L535.9 400.3M482.4 440.3L406.4 511.7M481.8 620.3L595.5 703.0M321.0 338.5L406.8 447.2M452.0 462.3L304.4 519.2M322.2 541.8L536.4 400.3M406.6 574.1L357.2 228.9M323.5 584.5L388.4 654.9M345.1 378.8L500.3 526.3" stroke="#74507e" stroke-width="1.2" fill="none"/>
<path d="M501.7 331.2L497.4 362.8M438.6 295.6L463.0 335.4M499.5 332.5L303.7 255.5M265.0 314.4L326.5 312.8M347.0 378.1L374.5 496.4M426.3 489.2L410.0 270.4M266.6 315.7L297.0 477.7M502.0 526.8L460.0 600.0M408.3 511.6L433.6 620.9M542.0 534.5L406.7 575.7" stroke="#2e2e2e" stroke-width="1.3" fill="none"/>
<path d="M500.2 331.0L495.9 362.6M437.3 296.3L461.7 336.1M500.1 331.1L304.3 254.1M265.0 315.9L326.5 314.3M345.5 378.5L373.0 496.8M427.8 489.1L411.5 270.3M265.1 316.0L295.5 478.0M500.7 526.0L458.7 599.2M406.8 512.0L432.1 621.3M541.5 533.1L406.2 574.3" stroke="#74507e" stroke-width="1.4" fill="none"/>
<path d="M406.2 574.2L388.7 654.6M253.9 436.9L356.8 229.0M345.4 378.5L393.5 540.0M380.5 411.5L491.1 484.0M253.9 436.9L304.3 254.0M427.9 489.1L348.8 641.9M408.2 321.5L427.9 489.1M265.0 316.0L321.3 338.3M328.6 428.5L253.9 436.9M345.4 378.5L473.1 680.6M458.6 599.2L482.0 620.0M406.7 512.0L322.0 541.5M517.7 603.1L606.2 599.3M549.6 636.2L386.7 685.0M458.6 599.2L549.6 636.2M326.5 314.4L372.0 458.0M541.5 533.0L595.7 702.7M275.4 499.7L406.7 512.0M495.8 362.6L560.7 556.0M406.2 574.2L293.7 677.3M372.0 458.0L304.5 519.6M328.6 428.5L393.5 540.0M495.8 362.6L352.4 591.7M495.8 362.6L348.8 641.9M372.0 458.0L372.9 496.8M380.5 411.5L295.4 478.0M407.1 447.0L491.1 484.0M434.5 668.2L473.1 680.6M295.8 620.0L386.7 685.0M326.5 314.4L235.2 362.6M321.3 338.3L526.0 752.2M323.8 584.2L434.5 668.2M441.1 726.7L526.0 752.2M236.0 297.8L246.5 389.5M407.1 447.0L406.7 512.0M352.4 591.7L388.7 654.6M427.9 489.1L482.0 620.0M427.9 489.1L536.2 400.0" stroke="#9ccb4e" stroke-width="3.6" fill="none"/>
<path d="M491.1 484.0L482.0 620.0M406.7 512.0L293.7 677.3M562.7 621.0L489.2 695.7M549.6 636.2L526.0 752.2M562.7 621.0L619.7 531.3M232.1 441.1L482.7 440.6M482.0 620.0L293.7 677.3M380.5 411.5L560.7 556.0M295.4 478.0L372.9 496.8M393.5 540.0L482.0 620.0M323.8 584.2L386.7 685.0M380.5 411.5L452.1 462.7M437.2 296.4L304.3 254.0M372.0 458.0L348.8 641.9M372.9 496.8L323.8 584.2M326.5 314.4L411.6 270.3M408.2 321.5L275.4 499.7M321.3 338.3L295.4 478.0M461.0 572.8L432.0 621.3M452.1 462.7L406.7 512.0M265.0 316.0L381.0 332.3M328.6 428.5L452.1 462.7M541.5 533.0L441.1 726.7M482.0 620.0L489.2 695.7M246.5 389.5L253.9 436.9M406.2 574.2L606.2 599.3M295.4 478.0L406.7 512.0M517.7 603.1L388.7 654.6M489.2 695.7L595.7 702.7M236.0 297.8L461.6 336.2M322.0 541.5L560.7 556.0M491.1 484.0L304.5 519.6M372.0 458.0L619.7 531.3M328.6 428.5L352.3 521.7M253.9 436.9L491.1 484.0M407.1 447.0L536.2 400.0M482.7 440.6L393.5 540.0M452.1 462.7L500.6 526.0M275.4 499.7L343.8 738.0M345.4 378.5L452.1 462.7M461.6 336.2L372.0 458.0M343.8 738.0L606.2 599.3M427.9 489.1L461.0 572.8M380.5 411.5L427.9 489.1M265.0 316.0L289.8 332.0M477.5 535.5L461.0 572.8M406.7 512.0L323.8 584.2M393.5 540.0L441.1 726.7" stroke="#9ccb4e" stroke-width="5.0" fill="none"/>
<path d="M434.5 668.2L606.2 599.3M477.5 535.5L562.7 621.0M458.6 599.2L304.3 254.0M381.0 332.3L253.9 436.9M289.8 332.0L246.5 389.5M458.6 599.2L348.8 641.9M427.9 489.1L432.0 621.3" stroke="#9ccb4e" stroke-width="5.2" fill="none"/>
<path d="M345.4 378.5L372.0 458.0M381.0 332.3L304.3 254.0M437.2 296.4L406.2 574.2M458.6 599.2L434.5 668.2" stroke="#9ccb4e" stroke-width="2.8" fill="none"/>
<path d="M408.2 321.5L246.5 389.5" stroke="#9ccb4e" stroke-width="3.0" fill="none"/>
<path d="M406.8 574.3L389.3 654.7M492.5 484.1L483.4 620.1M407.9 512.8L294.9 678.1M253.4 436.6L356.3 228.7M346.0 378.3L394.1 539.8M563.7 622.0L490.2 696.7M551.0 636.5L527.4 752.5M380.8 411.0L491.4 483.5M253.3 436.7L303.7 253.8M428.4 489.4L349.3 642.2M408.8 321.4L428.5 489.0M265.2 315.4L321.5 337.7M328.7 429.1L254.0 437.5M561.5 620.2L618.5 530.5M232.1 439.7L482.7 439.2M482.4 621.4L294.1 678.7M346.0 378.3L473.7 680.4M381.4 410.4L561.6 554.9M459.0 598.8L482.4 619.6M295.7 476.6L373.2 495.4M394.5 538.9L483.0 618.9M325.0 583.4L387.9 684.2M381.3 410.3L452.9 461.5M436.8 297.8L303.9 255.4M406.9 512.6L322.2 542.1M373.4 458.2L350.2 642.1M374.2 497.5L325.1 584.9M325.8 313.1L410.9 269.0M517.7 602.5L606.2 598.7M549.8 636.8L386.9 685.6M409.4 322.4L276.6 500.6M322.7 338.6L296.8 478.3M462.2 573.5L433.2 622.0M453.2 463.7L407.8 513.0M265.2 314.6L381.2 330.9M329.0 427.1L452.5 461.3M458.8 598.6L549.8 635.6M327.1 314.2L372.6 457.8M542.1 532.8L596.3 702.5M542.8 533.7L442.4 727.4M483.4 619.9L490.6 695.6M275.5 499.1L406.8 511.4M496.4 362.4L561.3 555.8M406.6 574.6L294.1 677.7M372.4 458.4L304.9 520.0M247.9 389.3L255.3 436.7M329.1 428.2L394.0 539.7M406.4 572.8L606.4 597.9M295.8 476.6L407.1 510.6M518.2 604.4L389.2 655.9M496.3 362.9L352.9 592.0M496.3 362.9L349.3 642.2M489.3 694.3L595.8 701.3M372.6 458.0L373.5 496.8M380.9 412.0L295.8 478.5M407.3 446.5L491.3 483.5M236.2 296.4L461.8 334.8M322.1 540.1L560.8 554.6M491.4 485.4L304.8 521.0M434.7 667.6L473.3 680.0M372.4 456.6L620.1 529.9M330.0 428.1L353.7 521.3M254.2 435.5L491.4 482.6M296.1 619.5L387.0 684.5M326.8 314.9L235.5 363.1M321.8 338.0L526.5 751.9M406.6 445.6L535.7 398.6M324.2 583.7L434.9 667.7M483.8 441.6L394.6 541.0M453.3 461.8L501.8 525.1M276.8 499.3L345.2 737.6M441.3 726.1L526.2 751.6M346.3 377.4L453.0 461.6M462.8 337.1L373.2 458.9M343.1 736.7L605.5 598.0M429.2 488.6L462.3 572.3M381.7 410.7L429.1 488.3M265.8 314.8L290.6 330.8M236.6 297.7L247.1 389.4M407.7 447.0L407.3 512.0M352.9 591.4L389.2 654.3M428.5 488.9L482.6 619.8M478.8 536.1L462.3 573.4M407.7 513.1L324.8 585.3M427.5 488.6L535.8 399.5M394.9 539.6L442.5 726.3" stroke="#2e2e2e" stroke-width="1.4" fill="none"/>
<path d="M435.0 669.4L606.7 600.5M476.6 536.4L561.8 621.9M459.8 598.7L305.5 253.5M380.2 331.3L253.1 435.9M288.8 331.2L245.5 388.7M458.1 598.0L348.3 640.7M426.6 489.1L430.7 621.3" stroke="#38a9bb" stroke-width="1.3" fill="none"/>
<path d="M345.0 378.6L371.6 458.1M381.3 332.0L304.6 253.7M436.8 296.4L405.8 574.2M458.2 599.1L434.1 668.1" stroke="#74507e" stroke-width="1.3" fill="none"/>
<path d="M408.1 321.2L246.4 389.2" stroke="#38a9bb" stroke-width="1.8" fill="none"/>
<path d="M490.7 484.0L481.6 620.0M406.4 511.8L293.4 677.1M562.4 620.7L488.9 695.4M549.2 636.1L525.6 752.1M563.0 621.2L620.0 531.5M232.1 441.5L482.7 441.0M481.9 619.6L293.6 676.9M380.2 411.8L560.4 556.3M295.3 478.4L372.8 497.2M393.2 540.3L481.7 620.3M323.5 584.4L386.4 685.2M380.3 411.8L451.9 463.0M437.3 296.0L304.4 253.6M371.6 457.9L348.4 641.8M372.6 496.6L323.5 584.0M326.7 314.8L411.8 270.7M407.9 321.3L275.1 499.5M320.9 338.2L295.0 477.9M460.7 572.6L431.7 621.1M451.8 462.4L406.4 511.7M264.9 316.4L380.9 332.7M328.5 428.9L452.0 463.1M541.1 532.8L440.7 726.5M481.6 620.0L488.8 695.7M246.1 389.6L253.5 437.0M406.2 574.6L606.2 599.7M295.3 478.4L406.6 512.4M517.6 602.7L388.6 654.2M489.2 696.1L595.7 703.1M235.9 298.2L461.5 336.6M322.0 541.9L560.7 556.4M491.0 483.6L304.4 519.2M371.9 458.4L619.6 531.7M328.2 428.6L351.9 521.8M253.8 437.3L491.0 484.4M407.2 447.4L536.3 400.4M482.4 440.3L393.2 539.7M451.8 462.9L500.3 526.2M275.0 499.8L343.4 738.1M345.2 378.8L451.9 463.0M461.3 336.0L371.7 457.8M344.0 738.4L606.4 599.7M427.5 489.2L460.6 572.9M380.2 411.7L427.6 489.3M264.8 316.3L289.6 332.3M477.1 535.3L460.6 572.6M406.4 511.7L323.5 583.9M393.1 540.1L440.7 726.8" stroke="#74507e" stroke-width="1.2" fill="none"/>
<path d="M433.9 666.7L605.6 597.8M478.6 534.4L563.8 619.9M457.1 599.9L302.8 254.7M382.0 333.5L254.9 438.1M291.1 333.0L247.8 390.5M459.2 600.7L349.4 643.4M429.5 489.1L433.6 621.3" stroke="#2e2e2e" stroke-width="1.3" fill="none"/>
<path d="M434.5 668.1L606.2 599.2M477.6 535.4L562.8 620.9M458.5 599.2L304.2 254.0M381.1 332.4L254.0 437.0M289.9 332.1L246.6 389.6M458.6 599.3L348.8 642.0M428.0 489.1L432.1 621.3" stroke="#74507e" stroke-width="1.4" fill="none"/>
<path d="M482.0 620.0L386.7 685.0M482.0 620.0L526.0 752.2M491.1 484.0L500.6 526.0M549.6 636.2L434.5 668.2M452.1 462.7L427.9 489.1M322.0 541.5L562.7 621.0M328.6 428.5L432.0 621.3M452.1 462.7L441.1 726.7M393.5 540.0L461.0 572.8M432.0 621.3L386.7 685.0M500.1 331.0L427.9 489.1M348.8 641.9L434.5 668.2M235.2 362.6L304.3 254.0M452.1 462.7L619.7 531.3M246.5 389.5L407.1 447.0M500.6 526.0L606.2 599.3M434.5 668.2L619.7 531.3M295.4 478.0L275.4 499.7M560.7 556.0L517.7 603.1M500.1 331.0L411.6 270.3M265.0 316.0L406.7 512.0M477.5 535.5L458.6 599.2M458.6 599.2L489.2 695.7M406.2 574.2L517.7 603.1M407.1 447.0L393.5 540.0M328.6 428.5L407.1 447.0M345.4 378.5L458.6 599.2M275.4 499.7L427.9 489.1M427.9 489.1L352.3 521.7M304.5 519.6L560.7 556.0M434.5 668.2L386.7 685.0M482.0 620.0L434.5 668.2M407.1 447.0L411.6 270.3" stroke="#9ccb4e" stroke-width="3.6" fill="none"/>
<path d="M437.2 296.4L495.8 362.6M321.3 338.3L356.8 229.0M253.9 436.9L322.0 541.5M372.0 458.0L477.5 535.5M473.1 680.6L343.8 738.0M235.2 362.6L295.4 478.0M352.3 521.7L388.7 654.6M321.3 338.3L380.5 411.5M541.5 533.0L458.6 599.2M253.9 436.9L406.7 512.0M407.1 447.0L482.7 440.6M321.3 338.3L304.5 519.6M560.7 556.0L348.8 641.9M393.5 540.0L526.0 752.2M323.8 584.2L458.6 599.2M358.2 289.3L461.6 336.2M293.7 677.3L489.2 695.7M352.4 591.7L386.7 685.0M352.3 521.7L406.2 574.2M388.7 654.6L343.8 738.0M381.0 332.3L495.8 362.6M461.0 572.8L343.8 738.0M345.4 378.5L356.8 229.0M437.2 296.4L289.8 332.0M482.7 440.6L295.4 478.0M321.3 338.3L489.2 695.7M427.9 489.1L406.7 512.0M236.0 297.8L265.0 316.0M452.1 462.7L477.5 535.5M461.6 336.2L380.5 411.5M461.6 336.2L352.3 521.7M236.0 297.8L326.5 314.4M275.4 499.7L348.8 641.9M437.2 296.4L265.0 316.0M321.3 338.3L304.3 254.0M500.1 331.0L536.2 400.0M372.0 458.0L323.8 584.2M388.7 654.6L473.1 680.6M458.6 599.2L595.7 702.7M393.5 540.0L432.0 621.3M381.0 332.3L427.9 489.1M491.1 484.0L549.6 636.2M328.6 428.5L293.7 677.3" stroke="#9ccb4e" stroke-width="5.0" fill="none"/>
<path d="M372.0 458.0L295.8 620.0M393.5 540.0L541.5 533.0M482.7 440.6L500.6 526.0M345.4 378.5L407.1 447.0M380.5 411.5L536.2 400.0M304.5 519.6L458.6 599.2" stroke="#9ccb4e" stroke-width="2.8" fill="none"/>
<path d="M452.1 462.7L323.8 584.2M236.0 297.8L411.6 270.3M437.2 296.4L246.5 389.5M461.0 572.8L606.2 599.3M372.9 496.8L619.7 531.3M321.3 338.3L345.4 378.5M549.6 636.2L441.1 726.7M408.2 321.5L380.5 411.5M345.4 378.5L232.1 441.1M372.9 496.8L500.6 526.0M358.2 289.3L232.1 441.1M434.5 668.2L304.3 254.0M406.2 574.2L323.8 584.2M517.7 603.1L595.7 702.7M265.0 316.0L246.5 389.5M372.0 458.0L322.0 541.5" stroke="#9ccb4e" stroke-width="5.2" fill="none"/>
<path d="M482.3 620.5L387.0 685.5M438.3 295.4L496.9 361.6M319.9 337.9L355.4 228.6M255.1 436.1L323.2 540.7M372.9 456.8L478.4 534.3M482.6 619.8L526.6 752.0M473.7 681.9L344.4 739.3M236.5 361.9L296.7 477.3M353.7 521.3L390.1 654.2M322.4 337.4L381.6 410.6M542.4 534.1L459.5 600.3M254.5 435.6L407.3 510.7M491.7 483.9L501.2 525.9M407.0 445.6L482.6 439.2M549.8 636.8L434.7 668.8M452.5 463.1L428.3 489.5M322.7 338.4L305.9 519.7M322.2 540.9L562.9 620.4M329.1 428.2L432.5 621.0M452.7 462.7L441.7 726.7M393.8 539.5L461.3 572.3M561.2 557.3L349.3 643.2M394.7 539.2L527.2 751.4M324.0 582.8L458.8 597.8M432.5 621.6L387.2 685.3M500.6 331.2L428.4 489.3M358.8 288.0L462.2 334.9M349.0 641.3L434.7 667.6M234.7 362.3L303.8 253.7M452.3 462.1L619.9 530.7M293.8 675.9L489.3 694.3M353.8 591.2L388.1 684.5M353.3 520.7L407.2 573.2M246.7 388.9L407.3 446.4M390.0 655.3L345.1 738.7M381.4 330.9L496.2 361.2M462.2 573.6L345.0 738.8M344.0 378.4L355.4 228.9M437.5 297.8L290.1 333.4M483.0 442.0L295.7 479.4M500.9 525.5L606.5 598.8M434.1 667.7L619.3 530.8M322.6 337.7L490.5 695.1M429.0 490.1L407.8 513.0M295.8 478.4L275.8 500.1M561.1 556.4L518.1 603.5M236.8 296.6L265.8 314.8M453.5 462.2L478.9 535.0M499.8 331.5L411.3 270.8M462.6 337.3L381.5 412.6M462.8 336.9L353.5 522.4M265.5 315.6L407.2 511.6M478.1 535.7L459.2 599.4M459.2 599.0L489.8 695.5M406.4 573.6L517.9 602.5M407.7 447.1L394.1 540.1M236.3 296.4L326.8 313.0M276.7 499.0L350.1 641.2M437.4 297.8L265.2 317.4M319.9 338.6L302.9 254.3M501.4 330.3L537.5 399.3M328.7 427.9L407.2 446.4M373.4 458.5L325.2 584.7M389.1 653.2L473.5 679.2M345.9 378.2L459.1 598.9M459.5 598.0L596.6 701.5M275.4 499.1L427.9 488.5M394.8 539.4L433.3 620.7M428.1 489.7L352.5 522.3M304.6 519.0L560.8 555.4M434.7 668.8L386.9 685.6M382.4 331.9L429.3 488.7M482.4 620.4L434.9 668.6M492.5 483.5L551.0 635.7M406.5 447.0L411.0 270.3M330.0 428.7L295.1 677.5" stroke="#2e2e2e" stroke-width="1.4" fill="none"/>
<path d="M371.6 457.8L295.4 619.8M393.5 540.4L541.5 533.4M482.3 440.7L500.2 526.1M345.1 378.8L406.8 447.3M380.5 411.9L536.2 400.4M304.3 520.0L458.4 599.6" stroke="#74507e" stroke-width="1.3" fill="none"/>
<path d="M451.2 461.8L322.9 583.3M236.2 299.1L411.8 271.6M436.6 295.2L245.9 388.3M460.8 574.1L606.0 600.6M372.7 498.1L619.5 532.6M320.2 339.0L344.3 379.2M548.8 635.2L440.3 725.7M407.0 321.1L379.3 411.1M344.8 377.4L231.5 440.0M372.6 498.1L500.3 527.3M357.2 288.5L231.1 440.3M435.7 667.8L305.5 253.6M406.0 572.9L323.6 582.9M516.7 603.9L594.7 703.5M263.7 315.7L245.2 389.2M370.9 457.3L320.9 540.8" stroke="#38a9bb" stroke-width="1.3" fill="none"/>
<path d="M436.9 296.7L495.5 362.9M321.7 338.4L357.2 229.1M253.6 437.1L321.7 541.7M371.8 458.3L477.3 535.8M472.9 680.2L343.6 737.6M234.8 362.8L295.0 478.2M351.9 521.8L388.3 654.7M321.0 338.6L380.2 411.8M541.3 532.7L458.4 598.9M253.7 437.3L406.5 512.4M407.1 447.4L482.7 441.0M320.9 338.3L304.1 519.6M560.5 555.6L348.6 641.5M393.2 540.2L525.7 752.4M323.8 584.6L458.6 599.6M358.0 289.7L461.4 336.6M293.7 677.7L489.2 696.1M352.0 591.8L386.3 685.1M352.0 522.0L405.9 574.5M388.3 654.4L343.4 737.8M380.9 332.7L495.7 363.0M460.7 572.6L343.5 737.8M345.8 378.5L357.2 229.0M437.1 296.0L289.7 331.6M482.6 440.2L295.3 477.6M320.9 338.5L488.8 695.9M427.6 488.8L406.4 511.7M235.8 298.1L264.8 316.3M451.7 462.8L477.1 535.6M461.3 335.9L380.2 411.2M461.3 336.0L352.0 521.5M235.9 298.2L326.4 314.8M275.0 499.9L348.4 642.1M437.2 296.0L265.0 315.6M321.7 338.2L304.7 253.9M499.7 331.2L535.8 400.2M371.6 457.9L323.4 584.1M388.6 655.0L473.0 681.0M458.4 599.5L595.5 703.0M393.1 540.2L431.6 621.5M380.6 332.4L427.5 489.2M490.7 484.1L549.2 636.3M328.2 428.4L293.3 677.2" stroke="#74507e" stroke-width="1.2" fill="none"/>
<path d="M453.2 463.9L324.9 585.4M235.8 296.2L411.4 268.7M437.9 297.8L247.2 390.9M461.3 571.2L606.5 597.7M373.1 495.2L619.9 529.7M322.7 337.5L346.8 377.7M550.6 637.4L442.1 727.9M409.7 322.0L382.0 412.0M346.2 379.9L232.9 442.5M373.3 495.2L501.0 524.4M359.4 290.3L233.3 442.1M433.0 668.7L302.8 254.5M406.4 575.8L324.0 585.8M519.0 602.1L597.0 701.7M266.6 316.4L248.1 389.9M373.4 458.8L323.4 542.3" stroke="#2e2e2e" stroke-width="1.3" fill="none"/>
<path d="M452.2 462.8L323.9 584.3M236.0 297.7L411.6 270.2M437.2 296.5L246.5 389.6M461.0 572.7L606.2 599.2M372.9 496.7L619.7 531.2M321.4 338.2L345.5 378.4M549.7 636.3L441.2 726.8M408.3 321.5L380.6 411.5M345.4 378.6L232.1 441.2M372.9 496.7L500.6 525.9M358.3 289.4L232.2 441.2M434.4 668.2L304.2 254.0M406.2 574.3L323.8 584.3M517.8 603.0L595.8 702.6M265.1 316.0L246.6 389.5M372.1 458.1L322.1 541.6" stroke="#74507e" stroke-width="1.4" fill="none"/>
<path d="M235.2 362.6L304.5 519.6M372.9 496.8L406.7 512.0M372.9 496.8L304.5 519.6M372.9 496.8L427.9 489.1M289.8 332.0L434.5 668.2M473.1 680.6L619.7 531.3M482.7 440.6L304.3 254.0M352.3 521.7L295.8 620.0M437.2 296.4L452.1 462.7M348.8 641.9L343.8 738.0M345.4 378.5L427.9 489.1M388.7 654.6L526.0 752.2M232.1 441.1L295.4 478.0M500.1 331.0L482.7 440.6M295.4 478.0L323.8 584.2M517.7 603.1L482.0 620.0M381.0 332.3L275.4 499.7M541.5 533.0L517.7 603.1M289.8 332.0L372.0 458.0M265.0 316.0L393.5 540.0M560.7 556.0L458.6 599.2M452.1 462.7L536.2 400.0M393.5 540.0L323.8 584.2M406.7 512.0L304.5 519.6M328.6 428.5L304.5 519.6M406.7 512.0L295.8 620.0M406.7 512.0L352.4 591.7M500.1 331.0L491.1 484.0M407.1 447.0L275.4 499.7M381.0 332.3L411.6 270.3M328.6 428.5L388.7 654.6" stroke="#9ccb4e" stroke-width="3.6" fill="none"/>
<path d="M352.4 591.7L293.7 677.3M437.2 296.4L500.1 331.0M517.7 603.1L434.5 668.2M381.0 332.3L461.6 336.2M253.9 436.9L304.5 519.6M380.5 411.5L411.6 270.3M482.0 620.0L473.1 680.6M352.3 521.7L434.5 668.2M253.9 436.9L406.2 574.2M321.3 338.3L427.9 489.1M304.5 519.6L393.5 540.0M434.5 668.2L489.2 695.7M560.7 556.0L595.7 702.7M491.1 484.0L477.5 535.5M386.7 685.0L343.8 738.0M500.6 526.0L482.0 620.0M372.9 496.8L489.2 695.7M372.9 496.8L461.0 572.8M322.0 541.5L348.8 641.9M560.7 556.0L388.7 654.6M517.7 603.1L562.7 621.0M541.5 533.0L461.0 572.8M408.2 321.5L253.9 436.9M358.2 289.3L495.8 362.6M326.5 314.4L560.7 556.0M407.1 447.0L295.4 478.0M352.3 521.7L411.6 270.3M321.3 338.3L295.8 620.0M482.0 620.0L606.2 599.3M437.2 296.4L461.0 572.8M380.5 411.5L328.6 428.5M461.6 336.2L322.0 541.5M461.0 572.8L388.7 654.6M289.8 332.0L323.8 584.2M323.8 584.2L348.8 641.9M437.2 296.4L232.1 441.1M246.5 389.5L345.4 378.5M321.3 338.3L408.2 321.5M265.0 316.0L380.5 411.5M406.2 574.2L489.2 695.7M352.4 591.7L482.0 620.0M500.6 526.0L619.7 531.3M500.6 526.0L406.2 574.2M432.0 621.3L388.7 654.6M452.1 462.7L541.5 533.0M246.5 389.5L323.8 584.2M407.1 447.0L427.9 489.1M232.1 441.1L323.8 584.2M321.3 338.3L372.0 458.0M265.0 316.0L411.6 270.3" stroke="#9ccb4e" stroke-width="5.0" fill="none"/>
<path d="M489.2 695.7L441.1 726.7M408.2 321.5L461.6 336.2M517.7 603.1L473.1 680.6M236.0 297.8L235.2 362.6M560.7 556.0L432.0 621.3M482.7 440.6L275.4 499.7M437.2 296.4L381.0 332.3M372.0 458.0L411.6 270.3M322.0 541.5L343.8 738.0M408.2 321.5L495.8 362.6M275.4 499.7L352.3 521.7M491.1 484.0L322.0 541.5" stroke="#9ccb4e" stroke-width="5.2" fill="none"/>
<path d="M345.4 378.5L619.7 531.3M352.3 521.7L541.5 533.0M328.6 428.5L549.6 636.2M477.5 535.5L293.7 677.3M326.5 314.4L491.1 484.0" stroke="#9ccb4e" stroke-width="2.8" fill="none"/>
<path d="M235.7 362.4L305.0 519.4M353.6 592.5L294.9 678.1M373.1 496.3L406.9 511.5M373.1 497.4L304.7 520.2M372.8 496.2L427.8 488.5M437.9 295.1L500.8 329.7M290.4 331.8L435.1 668.0M472.7 680.2L619.3 530.9M518.6 604.2L435.4 669.3M381.1 330.9L461.7 334.8M255.1 436.1L305.7 518.8M379.1 411.2L410.2 270.0M483.4 620.2L474.5 680.8M353.6 521.0L435.8 667.5M254.9 435.8L407.2 573.1M482.3 441.0L303.9 254.4M322.5 337.5L429.1 488.3M352.8 522.0L296.3 620.3M304.8 518.2L393.8 538.6M437.8 296.3L452.7 462.6M349.4 641.9L344.4 738.0M345.9 378.1L428.4 488.7M389.0 654.1L526.3 751.7M435.2 666.9L489.9 694.4M232.4 440.6L295.7 477.5M562.1 555.7L597.1 702.4M492.5 484.4L478.9 535.9M387.8 685.9L344.9 738.9M502.0 526.3L483.4 620.3M500.7 331.1L483.3 440.7M296.0 477.8L324.4 584.0M518.0 603.6L482.3 620.5M374.2 496.1L490.5 695.0M373.8 495.7L461.9 571.7M323.4 541.1L350.2 641.5M561.4 557.3L389.4 655.9M518.2 601.8L563.2 619.7M381.5 332.6L275.9 500.0M542.1 534.3L461.6 574.1M409.1 322.7L254.8 438.1M542.1 533.2L518.3 603.3M358.9 288.0L496.5 361.3M327.5 313.4L561.7 555.0M290.3 331.7L372.5 457.7M265.5 315.7L394.0 539.7M407.5 448.4L295.8 479.4M560.9 556.6L458.8 599.8M350.9 521.4L410.2 270.0M451.7 462.2L535.8 399.5M393.8 540.5L324.1 584.7M322.7 338.4L297.2 620.1M481.8 618.6L606.0 597.9M406.7 512.6L304.5 520.2M438.6 296.3L462.4 572.7M329.2 428.7L305.1 519.8M381.0 412.9L329.1 429.9M462.8 337.0L323.2 542.3M462.1 573.8L389.8 655.6M291.2 331.8L325.2 584.0M325.1 583.6L350.1 641.3M438.0 297.6L232.9 442.3M407.1 512.4L296.2 620.4M246.3 388.1L345.2 377.1M407.2 512.3L352.9 592.0M321.0 336.9L407.9 320.1M265.9 314.9L381.4 410.4M407.4 573.4L490.4 694.9M500.7 331.0L491.7 484.0M407.3 447.6L275.6 500.3M352.7 590.3L482.3 618.6M500.7 524.6L619.8 529.9M380.5 332.0L411.1 270.0M501.3 527.3L406.9 575.5M432.9 622.4L389.6 655.7M453.0 461.6L542.4 531.9M329.2 428.3L389.3 654.4M247.8 389.0L325.1 583.7M408.4 446.4L429.2 488.5M233.3 440.3L325.0 583.4M322.6 337.7L373.3 457.4M264.6 314.6L411.2 268.9" stroke="#2e2e2e" stroke-width="1.4" fill="none"/>
<path d="M488.5 694.6L440.4 725.6M407.9 322.8L461.3 337.5M516.6 602.5L472.0 680.0M234.7 297.8L233.9 362.6M560.1 554.8L431.4 620.1M482.3 439.3L275.0 498.4M436.5 295.3L380.3 331.2M373.3 458.3L412.9 270.6M320.7 541.6L342.5 738.1M407.6 322.7L495.2 363.8M275.0 500.9L351.9 522.9M490.7 482.8L321.6 540.3" stroke="#38a9bb" stroke-width="1.3" fill="none"/>
<path d="M345.2 378.8L619.5 531.6M352.3 522.1L541.5 533.4M328.3 428.8L549.3 636.5M477.3 535.2L293.5 677.0M326.2 314.7L490.8 484.3" stroke="#74507e" stroke-width="1.3" fill="none"/>
<path d="M352.1 591.5L293.4 677.1M437.0 296.8L499.9 331.4M517.5 602.8L434.3 667.9M381.0 332.7L461.6 336.6M253.6 437.1L304.2 519.8M380.9 411.6L412.0 270.4M481.6 619.9L472.7 680.5M352.0 521.9L434.2 668.4M253.6 437.2L405.9 574.5M321.0 338.5L427.6 489.3M304.4 520.0L393.4 540.4M434.3 668.6L489.0 696.1M560.3 556.1L595.3 702.8M490.7 483.9L477.1 535.4M386.4 684.7L343.5 737.7M500.2 525.9L481.6 619.9M372.6 497.0L488.9 695.9M372.6 497.1L460.7 573.1M321.6 541.6L348.4 642.0M560.5 555.7L388.5 654.3M517.6 603.5L562.6 621.4M541.3 532.6L460.8 572.4M408.0 321.2L253.7 436.6M358.0 289.7L495.6 363.0M326.2 314.7L560.4 556.3M407.0 446.6L295.3 477.6M352.7 521.8L412.0 270.4M320.9 338.3L295.4 620.0M482.1 620.4L606.3 599.7M436.8 296.4L460.6 572.8M380.4 411.1L328.5 428.1M461.3 336.0L321.7 541.3M460.7 572.5L388.4 654.3M289.4 332.1L323.4 584.3M323.4 584.4L348.4 642.1M437.0 296.1L231.9 440.8M246.5 389.9L345.4 378.9M321.4 338.7L408.3 321.9M264.7 316.3L380.2 411.8M405.9 574.4L488.9 695.9M352.3 592.1L481.9 620.4M500.6 526.4L619.7 531.7M500.4 525.6L406.0 573.8M431.8 621.0L388.5 654.3M451.9 463.0L541.3 533.3M246.1 389.6L323.4 584.3M406.7 447.2L427.5 489.3M231.8 441.3L323.5 584.4M320.9 338.5L371.6 458.2M265.1 316.4L411.7 270.7" stroke="#74507e" stroke-width="1.2" fill="none"/>
<path d="M490.1 697.0L442.0 728.0M408.6 320.0L462.0 334.7M519.1 603.9L474.5 681.4M237.6 297.8L236.8 362.6M561.4 557.4L432.7 622.7M483.1 442.1L275.8 501.2M438.1 297.7L381.9 333.6M370.4 457.7L410.0 270.0M323.6 541.3L345.4 737.8M408.9 320.1L496.5 361.2M275.8 498.2L352.7 520.2M491.6 485.5L322.5 543.0" stroke="#2e2e2e" stroke-width="1.3" fill="none"/>
<path d="M489.3 695.8L441.2 726.8M408.2 321.4L461.6 336.1M517.8 603.1L473.2 680.6M236.1 297.8L235.3 362.6M560.7 556.1L432.0 621.4M482.7 440.7L275.4 499.8M437.3 296.5L381.1 332.4M371.9 458.0L411.5 270.3M322.1 541.5L343.9 738.0M408.2 321.4L495.8 362.5M275.4 499.6L352.3 521.6M491.1 484.1L322.0 541.6" stroke="#74507e" stroke-width="1.4" fill="none"/>
<path d="M473.1 680.6L595.7 702.7M326.5 314.4L289.8 332.0M289.8 332.0L380.5 411.5M477.5 535.5L348.8 641.9M289.8 332.0L408.2 321.5M427.9 489.1L458.6 599.2M289.8 332.0L345.4 378.5M380.5 411.5L322.0 541.5M461.6 336.2L495.8 362.6M477.5 535.5L549.6 636.2M358.2 289.3L437.2 296.4M358.2 289.3L408.2 321.5M406.2 574.2L348.8 641.9M358.2 289.3L381.0 332.3" stroke="#9ccb4e" stroke-width="5.2" fill="none"/>
<path d="M295.4 478.0L461.0 572.8M381.0 332.3L393.5 540.0M541.5 533.0L388.7 654.6M323.8 584.2L473.1 680.6M495.8 362.6L328.6 428.5M345.4 378.5L328.6 428.5M386.7 685.0L526.0 752.2M541.5 533.0L434.5 668.2M482.7 440.6L432.0 621.3M295.4 478.0L434.5 668.2M236.0 297.8L304.3 254.0M328.6 428.5L491.1 484.0M500.6 526.0L560.7 556.0M372.0 458.0L432.0 621.3M265.0 316.0L407.1 447.0M295.4 478.0L304.5 519.6M265.0 316.0L235.2 362.6M352.3 521.7L432.0 621.3M407.1 447.0L452.1 462.7M477.5 535.5L432.0 621.3M560.7 556.0L489.2 695.7M432.0 621.3L562.7 621.0M434.5 668.2L595.7 702.7M372.0 458.0L406.7 512.0M253.9 436.9L275.4 499.7M562.7 621.0L549.6 636.2M380.5 411.5L500.6 526.0M322.0 541.5L393.5 540.0M345.4 378.5L491.1 484.0M541.5 533.0L619.7 531.3M386.7 685.0L489.2 695.7M345.4 378.5L295.8 620.0M562.7 621.0L606.2 599.3M328.6 428.5L434.5 668.2M289.8 332.0L411.6 270.3M393.5 540.0L458.6 599.2M452.1 462.7L348.8 641.9M381.0 332.3L482.7 440.6M322.0 541.5L295.8 620.0M372.0 458.0L491.1 484.0M517.7 603.1L549.6 636.2M406.2 574.2L482.0 620.0" stroke="#9ccb4e" stroke-width="3.6" fill="none"/>
<path d="M322.0 541.5L458.6 599.2M322.0 541.5L526.0 752.2M232.1 441.1L304.3 254.0M295.8 620.0L293.7 677.3M500.6 526.0L434.5 668.2M461.0 572.8L406.2 574.2M432.0 621.3L482.0 620.0M295.8 620.0L434.5 668.2M500.1 331.0L372.9 496.8M235.2 362.6L232.1 441.1M406.2 574.2L352.4 591.7M253.9 436.9L549.6 636.2M236.0 297.8L321.3 338.3M372.9 496.8L562.7 621.0M560.7 556.0L473.1 680.6M406.7 512.0L473.1 680.6M328.6 428.5L411.6 270.3M452.1 462.7L275.4 499.7M549.6 636.2L606.2 599.3M437.2 296.4L482.7 440.6M495.8 362.6L541.5 533.0M491.1 484.0L461.0 572.8M289.8 332.0L452.1 462.7M452.1 462.7L322.0 541.5M295.8 620.0L348.8 641.9M432.0 621.3L434.5 668.2M427.9 489.1L560.7 556.0M482.0 620.0L441.1 726.7M372.9 496.8L352.4 591.7M434.5 668.2L526.0 752.2M408.2 321.5L536.2 400.0M461.6 336.2L491.1 484.0M322.0 541.5L500.6 526.0M560.7 556.0L606.2 599.3M322.0 541.5L432.0 621.3M352.4 591.7L549.6 636.2M372.0 458.0L275.4 499.7M275.4 499.7L295.8 620.0" stroke="#9ccb4e" stroke-width="5.0" fill="none"/>
<path d="M246.5 389.5L232.1 441.1" stroke="#9ccb4e" stroke-width="3.0" fill="none"/>
<path d="M348.8 641.9L388.7 654.6M304.5 519.6L517.7 603.1M295.4 478.0L348.8 641.9" stroke="#9ccb4e" stroke-width="2.8" fill="none"/>
<path d="M472.9 681.9L595.5 704.0M325.9 313.2L289.2 330.8M288.9 333.0L379.6 412.5M476.7 534.5L348.0 640.9M289.9 333.3L408.3 322.8M426.6 489.4L457.3 599.5M289.0 333.0L344.6 379.5M379.3 411.0L320.8 541.0M460.8 337.2L495.0 363.6M476.4 536.3L548.5 637.0M358.1 290.6L437.1 297.7M357.5 290.4L407.5 322.6M405.2 573.4L347.8 641.1M357.1 289.9L379.9 332.9" stroke="#38a9bb" stroke-width="1.3" fill="none"/>
<path d="M295.7 477.5L461.3 572.3M322.6 540.2L459.2 597.9M323.0 540.5L527.0 751.2M381.6 332.3L394.1 540.0M541.9 533.5L389.1 655.1M324.1 583.7L473.4 680.1M496.0 363.2L328.8 429.1M230.7 440.6L302.9 253.5M346.0 378.7L329.2 428.7M387.0 684.5L526.3 751.7M297.2 620.1L295.1 677.4M501.9 526.6L435.8 668.8M461.0 574.2L406.2 575.6M542.0 533.4L435.0 668.6M432.0 619.9L482.0 618.6M296.3 618.6L435.0 666.8M501.3 331.9L374.1 497.7M236.6 362.7L233.5 441.2M406.6 575.6L352.8 593.1M254.7 435.7L550.4 635.0M236.6 296.5L321.9 337.0M483.3 440.8L432.6 621.5M295.9 477.6L435.0 667.8M235.7 297.3L304.0 253.5M328.8 427.9L491.3 483.4M500.9 525.5L561.0 555.5M373.7 495.6L563.5 619.8M372.6 457.8L432.6 621.1M265.4 315.6L407.5 446.6M296.0 477.9L305.1 519.5M265.5 316.3L235.7 362.9M352.8 521.3L432.5 620.9M407.3 446.4L452.3 462.1M561.9 556.8L474.3 681.4M408.0 511.5L474.4 680.1M327.3 427.8L410.3 269.6M452.4 464.1L275.7 501.1M478.0 535.8L432.5 621.6M561.2 556.3L489.7 696.0M548.8 635.0L605.4 598.1M438.6 296.0L484.1 440.2M432.0 620.7L562.7 620.4M497.2 362.2L542.9 532.6M492.5 484.5L462.4 573.3M290.7 330.9L453.0 461.6M434.6 667.6L595.8 702.1M372.5 457.7L407.2 511.7M254.5 436.7L276.0 499.5M452.9 463.9L322.8 542.7M296.4 618.7L349.4 640.6M433.4 621.2L435.9 668.1M563.2 621.4L550.1 636.6M380.9 411.1L501.0 525.6M428.6 487.8L561.4 554.7M322.0 540.9L393.5 539.4M345.8 378.0L491.5 483.5M541.5 532.4L619.7 530.7M386.8 684.4L489.3 695.1M483.4 620.5L442.5 727.2M374.3 497.1L353.8 592.0M346.0 378.6L296.4 620.1M435.5 667.1L527.0 751.1M409.0 320.3L537.0 398.8M562.4 620.5L605.9 598.8M329.1 428.3L435.0 668.0M289.5 331.5L411.3 269.8M463.0 335.9L492.5 483.7M393.9 539.6L459.0 598.8M321.9 540.1L500.5 524.6M452.6 463.0L349.3 642.2M561.7 554.9L607.2 598.2M381.4 331.9L483.1 440.2M322.6 541.7L296.4 620.2M322.9 540.3L432.9 620.1M372.1 457.4L491.2 483.4M352.7 590.3L549.9 634.8M518.1 602.7L550.0 635.8M406.5 573.7L482.3 619.5M372.6 459.3L276.0 501.0M276.8 499.5L297.2 619.8" stroke="#2e2e2e" stroke-width="1.4" fill="none"/>
<path d="M246.2 389.4L231.8 441.0" stroke="#38a9bb" stroke-width="1.8" fill="none"/>
<path d="M348.7 642.3L388.6 655.0M304.4 520.0L517.6 603.5M295.0 478.1L348.4 642.0" stroke="#74507e" stroke-width="1.3" fill="none"/>
<path d="M473.4 679.0L596.0 701.1M327.2 315.8L290.5 333.4M290.9 330.8L381.6 410.3M478.5 536.7L349.8 643.1M289.7 330.4L408.1 319.9M429.4 488.7L460.1 598.8M290.8 330.8L346.4 377.3M382.0 412.2L323.5 542.2M462.6 334.9L496.8 361.3M478.8 534.6L550.9 635.3M358.3 287.7L437.3 294.8M359.1 288.0L409.1 320.2M407.4 575.2L350.0 642.9M359.6 288.6L382.4 331.6" stroke="#2e2e2e" stroke-width="1.3" fill="none"/>
<path d="M321.8 541.9L458.4 599.6M321.7 541.8L525.7 752.5M232.5 441.2L304.7 254.1M295.4 620.0L293.3 677.3M500.2 525.8L434.1 668.0M461.0 572.4L406.2 573.8M432.0 621.7L482.0 620.4M295.7 620.4L434.4 668.6M499.8 330.8L372.6 496.6M234.8 362.6L231.7 441.1M406.1 573.8L352.3 591.3M253.7 437.2L549.4 636.5M235.8 298.2L321.1 338.7M372.7 497.1L562.5 621.3M560.4 555.8L472.8 680.4M406.3 512.1L472.7 680.7M329.0 428.7L412.0 270.5M452.0 462.3L275.3 499.3M549.8 636.5L606.4 599.6M436.8 296.5L482.3 440.7M495.4 362.7L541.1 533.1M490.7 483.9L460.6 572.7M289.5 332.3L451.8 463.0M451.9 462.4L321.8 541.2M295.6 620.4L348.6 642.3M431.6 621.3L434.1 668.2M427.7 489.5L560.5 556.4M481.6 619.9L440.7 726.6M372.5 496.7L352.0 591.6M434.2 668.5L525.7 752.5M408.0 321.8L536.0 400.3M461.2 336.3L490.7 484.1M322.0 541.9L500.6 526.4M560.4 556.3L605.9 599.6M321.8 541.8L431.8 621.6M352.3 592.1L549.5 636.6M371.8 457.6L275.2 499.3M275.0 499.8L295.4 620.1" stroke="#74507e" stroke-width="1.2" fill="none"/>
<path d="M473.1 680.5L595.7 702.6M326.5 314.5L289.8 332.1M289.9 331.9L380.6 411.4M477.6 535.6L348.9 642.0M289.8 331.9L408.2 321.4M428.0 489.1L458.7 599.2M289.9 331.9L345.5 378.4M380.6 411.5L322.1 541.5M461.7 336.1L495.9 362.5M477.6 535.4L549.7 636.1M358.2 289.2L437.2 296.3M358.3 289.2L408.3 321.4M406.3 574.3L348.9 642.0M358.3 289.3L381.1 332.3" stroke="#74507e" stroke-width="1.4" fill="none"/>
<path d="M295.4 478.0L322.0 541.5M411.6 270.3L304.3 254.0M372.9 496.8L352.3 521.7M265.0 316.0L473.1 680.6M517.7 603.1L432.0 621.3M452.1 462.7L352.4 591.7M372.9 496.8L295.8 620.0M372.0 458.0L352.3 521.7M477.5 535.5L560.7 556.0M235.2 362.6L562.7 621.0M322.0 541.5L323.8 584.2M304.5 519.6L477.5 535.5M536.2 400.0L619.7 531.3M265.0 316.0L345.4 378.5M246.5 389.5L619.7 531.3M304.5 519.6L434.5 668.2M458.6 599.2L441.1 726.7M441.1 726.7L606.2 599.3M491.1 484.0L473.1 680.6M517.7 603.1L619.7 531.3M386.7 685.0L441.1 726.7M289.8 332.0L304.3 254.0M452.1 462.7L482.0 620.0M541.5 533.0L560.7 556.0M432.0 621.3L348.8 641.9M406.7 512.0L549.6 636.2M458.6 599.2L473.1 680.6M495.8 362.6L482.7 440.6M461.6 336.2L235.2 362.6M461.0 572.8L517.7 603.1M541.5 533.0L482.0 620.0" stroke="#9ccb4e" stroke-width="3.6" fill="none"/>
<path d="M328.6 428.5L352.4 591.7M461.0 572.8L295.8 620.0M427.9 489.1L500.6 526.0M232.1 441.1L304.5 519.6M345.4 378.5L406.7 512.0" stroke="#9ccb4e" stroke-width="2.8" fill="none"/>
<path d="M304.5 519.6L293.7 677.3M358.2 289.3L380.5 411.5M482.7 440.6L560.7 556.0M289.8 332.0L328.6 428.5M380.5 411.5L232.1 441.1M358.2 289.3L321.3 338.3M381.0 332.3L461.0 572.8M289.8 332.0L321.3 338.3" stroke="#9ccb4e" stroke-width="5.2" fill="none"/>
<path d="M406.2 574.2L562.7 621.0M393.5 540.0L388.7 654.6M562.7 621.0L526.0 752.2M432.0 621.3L295.8 620.0M232.1 441.1L275.4 499.7M482.0 620.0L619.7 531.3M489.2 695.7L343.8 738.0M352.3 521.7L458.6 599.2M321.3 338.3L381.0 332.3M500.6 526.0L293.7 677.3M372.9 496.8L388.7 654.6M236.0 297.8L253.9 436.9M323.8 584.2L352.4 591.7M265.0 316.0L253.9 436.9M489.2 695.7L526.0 752.2M517.7 603.1L386.7 685.0M407.1 447.0L372.0 458.0M343.8 738.0L536.2 400.0M372.0 458.0L386.7 685.0M473.1 680.6L526.0 752.2M461.0 572.8L549.6 636.2M452.1 462.7L491.1 484.0M482.0 620.0L562.7 621.0M427.9 489.1L434.5 668.2M236.0 297.8L289.8 332.0M461.6 336.2L500.1 331.0M452.1 462.7L461.0 572.8M461.6 336.2L619.7 531.3M352.3 521.7L352.4 591.7M452.1 462.7L295.4 478.0M432.0 621.3L343.8 738.0M345.4 378.5L275.4 499.7M358.2 289.3L343.8 738.0M358.2 289.3L411.6 270.3M345.4 378.5L411.6 270.3M372.9 496.8L491.1 484.0M326.5 314.4L500.1 331.0M408.2 321.5L356.8 229.0M321.3 338.3L560.7 556.0M372.0 458.0L427.9 489.1" stroke="#9ccb4e" stroke-width="5.0" fill="none"/>
<path d="M326.5 314.4L380.5 411.5" stroke="#9ccb4e" stroke-width="3.0" fill="none"/>
<path d="M289.8 332.0L495.8 362.6M321.3 338.3L495.8 362.6M321.3 338.3L408.2 321.5M326.5 314.4L461.6 336.2M326.5 314.4L495.8 362.6M326.5 314.4L408.2 321.5M358.2 289.3L461.6 336.2M381.0 332.3L408.2 321.5M265.0 316.0L461.6 336.2M265.0 316.0L495.8 362.6" stroke="#9ccb4e" stroke-width="4.6" fill="none"/>
<path d="M358.2 289.3L461.6 336.2M380.5 411.5L495.8 362.6M495.8 362.6L536.2 400.0" stroke="#9ccb4e" stroke-width="2.6" fill="none"/>
<path d="M296.0 477.8L322.6 541.3M411.5 270.9L304.2 254.6M373.4 497.2L352.8 522.1M406.6 572.8L563.1 619.6M394.9 540.1L390.1 654.7M564.1 621.4L527.4 752.6M432.0 622.7L295.8 621.4M233.3 440.2L276.6 498.8M481.2 618.8L618.9 530.1M265.5 315.7L473.6 680.3M517.8 603.7L432.1 621.9M489.6 697.1L344.2 739.4M353.2 520.5L459.5 598.0M321.2 336.9L380.9 330.9M452.6 463.1L352.9 592.1M373.4 497.1L296.3 620.3M501.5 527.2L294.6 678.5M372.6 458.2L352.9 521.9M374.3 496.7L390.1 654.5M477.6 534.9L560.8 555.4M237.4 297.6L255.3 436.7M235.6 362.1L563.1 620.5M322.6 541.5L324.4 584.2M304.6 519.0L477.6 534.9M324.2 582.8L352.8 590.3M266.4 316.1L255.3 437.0M536.7 399.7L620.2 531.0M490.4 694.9L527.2 751.4M265.4 315.5L345.8 378.0M518.5 604.3L387.5 686.2M407.5 448.4L372.4 459.4M342.5 737.3L534.9 399.3M373.4 457.9L388.1 684.9M246.7 388.9L619.9 530.7M305.0 519.2L435.0 667.8M474.3 679.7L527.2 751.3M459.2 599.3L441.7 726.8M440.7 726.2L605.8 598.8M491.7 484.1L473.7 680.7M517.4 602.6L619.4 530.8M461.8 571.6L550.4 635.0M387.1 684.5L441.5 726.2M289.2 331.9L303.7 253.9M452.8 461.4L491.8 482.7M482.0 618.6L562.7 619.6M452.7 462.6L482.6 619.9M542.0 532.6L561.2 555.6M429.3 489.0L435.9 668.1M236.8 296.6L290.6 330.8M461.4 334.8L499.9 329.6M453.5 462.6L462.4 572.7M462.7 335.3L620.8 530.4M353.7 521.7L353.8 591.7M452.2 464.1L295.5 479.4M432.1 621.9L348.9 642.5M433.2 622.2L345.0 738.9M407.1 511.5L550.0 635.7M459.2 599.1L473.7 680.5M346.7 379.2L276.7 500.4M359.6 289.3L345.2 738.0M496.4 362.7L483.3 440.7M357.7 287.9L411.1 268.9M461.7 336.8L235.3 363.2M344.2 377.7L410.4 269.5M372.7 495.4L490.9 482.6M326.6 313.0L500.2 329.6M461.3 572.3L518.0 602.6M406.9 322.2L355.5 229.7M542.0 533.3L482.5 620.3M322.3 337.2L561.7 554.9M372.7 456.7L428.6 487.8" stroke="#2e2e2e" stroke-width="1.4" fill="none"/>
<path d="M328.2 428.6L352.0 591.8M460.9 572.4L295.7 619.6M427.7 489.5L500.4 526.4M231.8 441.4L304.2 519.9M345.0 378.7L406.3 512.2" stroke="#74507e" stroke-width="1.3" fill="none"/>
<path d="M303.2 519.5L292.4 677.2M356.9 289.5L379.2 411.7M481.6 441.3L559.6 556.7M288.6 332.5L327.4 429.0M380.2 410.2L231.8 439.8M357.2 288.5L320.3 337.5M379.8 332.7L459.8 573.2M289.5 333.3L321.0 339.6" stroke="#38a9bb" stroke-width="1.3" fill="none"/>
<path d="M326.2 314.5L380.2 411.6" stroke="#38a9bb" stroke-width="1.8" fill="none"/>
<path d="M289.6 333.2L495.6 363.8M321.1 339.5L495.6 363.8M321.5 339.5L408.4 322.7M326.3 315.6L461.4 337.4M326.2 315.6L495.5 363.8M326.4 315.6L408.1 322.7M357.7 290.4L461.1 337.3M381.4 333.4L408.6 322.6M264.9 317.2L461.5 337.4M264.8 317.2L495.6 363.8" stroke="#5a7fd6" stroke-width="1.2" fill="none"/>
<path d="M358.1 289.6L461.5 336.5M380.6 411.8L495.9 362.9M495.6 362.8L536.0 400.2" stroke="#e0552e" stroke-width="1.4" fill="none"/>
<path d="M306.1 519.7L295.3 677.4M359.8 289.0L382.1 411.2M484.0 439.7L562.0 555.1M291.3 331.4L330.1 427.9M380.8 413.1L232.4 442.7M359.5 290.3L322.6 339.3M382.5 331.8L462.5 572.3M290.1 330.4L321.6 336.7" stroke="#2e2e2e" stroke-width="1.3" fill="none"/>
<path d="M406.1 574.6L562.6 621.4M393.1 540.0L388.3 654.6M562.3 620.9L525.6 752.1M432.0 620.9L295.8 619.6M231.8 441.3L275.1 499.9M482.2 620.3L619.9 531.6M489.1 695.3L343.7 737.6M352.1 522.0L458.4 599.5M321.3 338.7L381.0 332.7M500.4 525.7L293.5 677.0M372.5 496.8L388.3 654.6M235.6 297.9L253.5 437.0M323.7 584.6L352.3 592.1M264.6 316.0L253.5 436.9M488.9 695.9L525.7 752.4M517.5 602.8L386.5 684.7M407.0 446.6L371.9 457.6M344.1 738.2L536.5 400.2M371.6 458.0L386.3 685.0M472.8 680.8L525.7 752.4M460.8 573.1L549.4 636.5M451.9 463.1L490.9 484.4M482.0 620.4L562.7 621.4M427.5 489.1L434.1 668.2M235.8 298.1L289.6 332.3M461.7 336.6L500.2 331.4M451.7 462.7L460.6 572.8M461.3 336.5L619.4 531.6M351.9 521.7L352.0 591.7M452.1 462.3L295.4 477.6M431.7 621.1L343.5 737.8M345.1 378.3L275.1 499.5M357.8 289.3L343.4 738.0M358.3 289.7L411.7 270.7M345.7 378.7L411.9 270.5M372.9 497.2L491.1 484.4M326.5 314.8L500.1 331.4M408.5 321.3L357.1 228.8M321.0 338.6L560.4 556.3M371.8 458.3L427.7 489.4" stroke="#74507e" stroke-width="1.2" fill="none"/>
<path d="M289.8 331.9L495.8 362.5M321.3 338.2L495.8 362.5M321.3 338.2L408.2 321.4M326.5 314.3L461.6 336.1M326.5 314.3L495.8 362.5M326.5 314.3L408.2 321.4M358.2 289.2L461.6 336.1M381.0 332.2L408.2 321.4M265.0 315.9L461.6 336.1M265.0 315.9L495.8 362.5" stroke="#38a9bb" stroke-width="1.1" fill="none"/>
<path d="M304.6 519.6L293.8 677.3M358.3 289.3L380.6 411.5M482.8 440.5L560.8 555.9M289.9 332.0L328.7 428.5M380.5 411.6L232.1 441.2M358.3 289.4L321.4 338.4M381.1 332.3L461.1 572.8M289.8 331.9L321.3 338.2" stroke="#74507e" stroke-width="1.4" fill="none"/>
<path d="M290.0 330.7L496.0 361.3M321.5 337.0L496.0 361.3M321.1 337.0L408.0 320.2M326.7 313.1L461.8 334.9M326.9 313.1L496.2 361.3M326.6 313.1L408.3 320.2M358.7 288.1L462.1 335.0M380.5 331.1L407.7 320.3M265.1 314.7L461.7 334.9M265.3 314.7L496.1 361.3" stroke="#74507e" stroke-width="1.1" fill="none"/>
<circle cx="200.3" cy="48.4" r="10.4" fill="#e6eec8" stroke="#a5ad96" stroke-width="1.6"/>
<path d="M203.8 48.3 202.3 50.7 199.2 49.3 199.3 50.8 197.7 50.0 202.5 50.1 203.1 52.3 201.0 49.5 202.5 48.5 201.4 53.8 205.4 47.4 205.5 50.3 200.6 51.2 197.3 49.9" stroke="#73768c" stroke-width="0.6" fill="none" stroke-opacity="0.8"/>
<path d="M201.6 52.3 196.1 50.6 198.9 51.1 198.7 48.9 199.9 52.6 198.9 46.6 201.2 47.2 198.5 49.4 198.4 51.3 201.3 52.0" stroke="#5b6a90" stroke-width="0.6" fill="none" stroke-opacity="0.8"/>
<circle cx="237.0" cy="60.6" r="10.4" fill="#c8e2c8" stroke="#94a696" stroke-width="1.6"/>
<path d="M239.8 63.5 238.8 58.0 233.3 60.6 237.7 57.7 239.4 56.7 237.7 58.7 240.1 59.6 237.3 58.6 240.3 56.8 237.6 59.9 241.4 56.6 237.5 57.7 237.5 59.8 233.4 56.9" stroke="#69728c" stroke-width="0.6" fill="none" stroke-opacity="0.8"/>
<path d="M237.6 60.1 238.0 61.1 238.6 58.1 241.6 61.2 236.7 59.2 239.0 61.1 238.5 59.9 240.5 60.5 236.8 61.7 237.5 61.8" stroke="#536790" stroke-width="0.6" fill="none" stroke-opacity="0.8"/>
<circle cx="283.6" cy="66.6" r="10.4" fill="#f0f0c0" stroke="#aaae92" stroke-width="1.6"/>
<path d="M284.5 65.2 285.8 68.8 281.1 63.2 281.0 69.7 282.2 66.1 283.8 67.4 287.0 66.9 284.4 66.0 282.3 62.4 283.3 67.9 284.0 62.2 285.0 63.0 280.6 65.0 281.8 63.5" stroke="#777789" stroke-width="0.6" fill="none" stroke-opacity="0.8"/>
<path d="M284.0 69.7 284.0 68.2 283.5 66.0 285.1 70.7 284.4 70.1 284.8 64.7 283.1 66.4 285.9 65.4 284.6 67.6 284.5 68.4" stroke="#5d6b8e" stroke-width="0.6" fill="none" stroke-opacity="0.8"/>
<circle cx="335.3" cy="65.3" r="10.4" fill="#f5d5b0" stroke="#ad9f89" stroke-width="1.6"/>
<path d="M334.7 65.2 333.8 64.6 336.2 67.3 334.5 64.5 335.0 64.5 334.5 67.8 336.1 64.1 336.7 63.8 334.9 66.1 336.7 64.5 336.0 64.7 334.5 66.5 335.0 65.6 335.3 68.4" stroke="#786d83" stroke-width="0.6" fill="none" stroke-opacity="0.8"/>
<path d="M334.3 66.8 334.9 63.6 333.1 66.7 336.6 68.7 336.6 66.6 335.6 65.9 335.7 64.6 335.5 66.2 333.7 64.9 332.5 68.6" stroke="#5f648a" stroke-width="0.6" fill="none" stroke-opacity="0.8"/>
<circle cx="353.4" cy="91.1" r="10.4" fill="#c5e0c8" stroke="#93a596" stroke-width="1.6"/>
<path d="M353.7 91.7 354.8 89.9 353.6 88.8 351.5 86.6 353.1 93.5 352.7 90.3 350.6 91.9 355.3 93.6 352.6 91.2 352.6 86.5 350.5 93.9 354.9 89.7 354.7 88.6 355.0 94.5" stroke="#68718c" stroke-width="0.6" fill="none" stroke-opacity="0.8"/>
<path d="M355.0 93.6 356.6 92.9 354.1 90.5 353.0 92.7 357.9 91.6 354.6 92.9 358.3 92.0 353.3 88.7 357.3 91.1 353.4 91.5" stroke="#536790" stroke-width="0.6" fill="none" stroke-opacity="0.8"/>
<circle cx="169.3" cy="89.3" r="10.4" fill="#f3c8a8" stroke="#ac9884" stroke-width="1.6"/>
<path d="M171.6 92.4 168.3 88.0 167.5 86.1 169.0 92.5 172.4 92.7 172.6 91.6 169.9 89.6 170.3 89.9 169.9 90.6 168.3 89.1 169.0 87.7 172.1 89.9 170.8 94.2 169.4 89.2" stroke="#786981" stroke-width="0.6" fill="none" stroke-opacity="0.8"/>
<path d="M171.1 88.3 170.0 90.8 167.0 90.3 170.6 91.1 170.3 94.3 169.3 92.2 170.4 90.9 170.9 90.8 170.2 89.4 169.8 90.2" stroke="#5e6188" stroke-width="0.6" fill="none" stroke-opacity="0.8"/>
<circle cx="224.1" cy="111.0" r="10.4" fill="#c8e6c0" stroke="#94a892" stroke-width="1.6"/>
<path d="M227.0 106.7 225.8 111.4 221.7 110.9 225.2 109.3 225.3 108.7 220.6 112.7 224.6 111.7 227.5 106.1 222.3 106.1 227.8 112.1 229.7 111.5 226.1 111.6 221.2 107.3 224.4 108.7" stroke="#697389" stroke-width="0.6" fill="none" stroke-opacity="0.8"/>
<path d="M226.3 111.1 225.7 107.4 226.2 113.2 224.9 111.6 224.7 110.9 222.7 113.1 222.4 107.9 221.8 109.6 226.3 110.2 222.7 112.3" stroke="#53688e" stroke-width="0.6" fill="none" stroke-opacity="0.8"/>
<circle cx="381.4" cy="111.8" r="10.4" fill="#c8e0ec" stroke="#94a5aa" stroke-width="1.6"/>
<path d="M381.3 109.4 379.9 113.7 378.5 113.6 376.9 108.6 385.3 111.8 384.6 114.5 384.8 106.7 384.4 111.8 382.3 115.9 383.2 111.0 380.6 108.9 382.2 113.1 382.8 108.2 383.5 108.7" stroke="#697198" stroke-width="0.6" fill="none" stroke-opacity="0.8"/>
<path d="M380.0 111.5 378.4 112.9 380.6 111.8 378.4 110.3 379.6 113.6 381.0 114.3 381.6 111.4 381.1 112.1 378.2 112.4 378.9 110.5" stroke="#536799" stroke-width="0.6" fill="none" stroke-opacity="0.8"/>
<circle cx="125.9" cy="131.2" r="10.4" fill="#a8a8dc" stroke="#8386a1" stroke-width="1.6"/>
<path d="M129.5 134.6 126.7 133.7 128.9 127.2 125.6 134.6 126.3 131.6 126.8 132.5 125.5 128.0 129.0 133.9 128.3 136.6 124.4 133.4 127.1 128.0 128.1 133.3 130.5 129.8 122.8 129.6" stroke="#5d5d93" stroke-width="0.6" fill="none" stroke-opacity="0.8"/>
<path d="M126.2 131.5 123.7 131.7 129.2 132.8 126.7 130.1 122.2 131.5 126.7 133.7 125.7 131.2 124.0 133.2 127.2 130.4 122.9 134.2" stroke="#4b5995" stroke-width="0.6" fill="none" stroke-opacity="0.8"/>
<circle cx="179.7" cy="135.9" r="10.4" fill="#c8e2cc" stroke="#94a698" stroke-width="1.6"/>
<path d="M180.2 141.9 183.4 136.2 182.5 138.4 179.7 132.8 179.8 140.4 183.4 133.7 184.1 135.3 182.0 140.0 180.5 138.5 178.4 131.9 177.8 132.4 177.1 136.6 180.7 137.3 179.4 138.8" stroke="#69728d" stroke-width="0.6" fill="none" stroke-opacity="0.8"/>
<path d="M177.4 137.8 180.5 135.5 181.7 133.8 179.8 136.4 181.5 138.4 180.8 139.1 180.5 137.3 179.9 139.6 179.5 135.3 179.9 136.3" stroke="#536791" stroke-width="0.6" fill="none" stroke-opacity="0.8"/>
<circle cx="316.0" cy="146.7" r="10.4" fill="#e4eec8" stroke="#a4ad96" stroke-width="1.6"/>
<path d="M319.7 142.5 319.6 142.4 315.7 145.0 317.9 141.2 316.1 149.1 318.8 144.6 322.1 144.0 315.8 148.3 318.3 145.6 313.8 142.6 320.1 142.2 320.2 143.5 314.4 142.2 313.8 144.6" stroke="#72768c" stroke-width="0.6" fill="none" stroke-opacity="0.8"/>
<path d="M316.6 148.7 316.5 147.4 317.7 149.8 315.6 149.2 316.4 147.9 316.0 147.6 315.5 150.5 317.2 148.6 316.7 148.3 319.0 147.1" stroke="#5a6a90" stroke-width="0.6" fill="none" stroke-opacity="0.8"/>
<circle cx="405.9" cy="168.7" r="10.4" fill="#c8dcf2" stroke="#94a3ad" stroke-width="1.6"/>
<path d="M404.6 167.8 406.8 167.0 406.6 169.7 408.9 169.8 403.8 170.2 407.4 169.3 406.8 170.4 405.6 169.6 406.4 165.8 410.9 168.6 406.4 168.7 405.2 166.5 409.2 166.8 402.6 165.0" stroke="#69709a" stroke-width="0.6" fill="none" stroke-opacity="0.8"/>
<path d="M409.6 166.3 404.9 169.5 405.7 171.6 407.1 166.9 407.0 166.5 409.8 169.1 407.1 170.0 407.1 168.0 408.4 167.6 406.7 168.2" stroke="#53669b" stroke-width="0.6" fill="none" stroke-opacity="0.8"/>
<circle cx="152.5" cy="178.5" r="10.4" fill="#b8dcb0" stroke="#8ca389" stroke-width="1.6"/>
<path d="M154.5 177.6 155.4 181.1 151.4 174.2 153.6 175.8 156.8 177.8 154.4 181.4 152.8 179.7 157.1 180.8 150.1 178.2 153.2 180.7 150.4 181.6 152.9 179.4 151.6 176.7 150.9 176.7" stroke="#637083" stroke-width="0.6" fill="none" stroke-opacity="0.8"/>
<path d="M153.2 178.5 153.6 178.6 153.5 177.6 155.8 180.3 151.9 179.3 152.3 177.2 152.8 178.6 150.9 180.7 149.7 177.7 154.9 180.8" stroke="#4f668a" stroke-width="0.6" fill="none" stroke-opacity="0.8"/>
<circle cx="106.0" cy="204.4" r="10.4" fill="#cce6f0" stroke="#97a8ac" stroke-width="1.6"/>
<path d="M107.0 203.3 110.1 204.3 106.6 205.1 110.5 205.4 102.2 204.1 105.9 209.2 108.8 204.2 104.2 207.1 106.4 205.2 108.1 209.8 107.6 206.2 108.7 200.8 110.3 201.2 109.8 205.2" stroke="#6a739a" stroke-width="0.6" fill="none" stroke-opacity="0.8"/>
<path d="M106.5 203.9 105.9 201.9 105.9 204.2 105.9 203.5 103.6 201.4 105.4 205.4 105.3 203.0 104.3 202.7 105.3 204.7 106.1 203.8" stroke="#54689a" stroke-width="0.6" fill="none" stroke-opacity="0.8"/>
<circle cx="204.7" cy="199.7" r="10.4" fill="#aaaadc" stroke="#8487a1" stroke-width="1.6"/>
<path d="M203.8 196.5 204.3 198.2 203.4 194.1 202.0 199.3 202.9 201.7 205.4 201.8 206.5 194.9 205.8 201.1 203.5 203.7 204.3 199.1 206.7 199.2 207.1 199.5 201.3 200.7 206.5 197.2" stroke="#5e5e93" stroke-width="0.6" fill="none" stroke-opacity="0.8"/>
<path d="M201.9 201.7 204.3 201.8 205.2 198.4 204.4 202.9 203.3 201.1 202.3 201.2 206.6 198.7 204.3 200.8 203.1 201.0 206.4 204.5" stroke="#4c5995" stroke-width="0.6" fill="none" stroke-opacity="0.8"/>
<circle cx="413.2" cy="215.3" r="10.4" fill="#c8e4dc" stroke="#94a7a1" stroke-width="1.6"/>
<path d="M413.4 214.1 412.9 217.6 413.3 216.7 413.5 216.9 415.0 221.5 412.0 218.7 413.4 216.8 415.4 216.5 412.9 214.0 415.9 212.7 413.4 219.7 415.3 219.9 411.3 219.4 415.1 214.3" stroke="#697293" stroke-width="0.6" fill="none" stroke-opacity="0.8"/>
<path d="M411.5 216.4 414.1 215.1 410.5 216.8 412.3 216.5 413.0 216.8 412.3 215.9 413.4 217.8 412.7 216.1 413.2 219.6 412.5 214.7" stroke="#536895" stroke-width="0.6" fill="none" stroke-opacity="0.8"/>
<circle cx="356.8" cy="229.0" r="10.4" fill="#f6c0b0" stroke="#ae9389" stroke-width="1.6"/>
<path d="M359.2 232.0 357.0 228.2 355.9 227.7 356.6 228.0 356.5 228.0 356.7 229.1 359.9 227.3 356.6 228.1 356.0 224.6 356.6 228.6 351.6 229.9 357.4 227.4 358.3 225.2 358.0 223.8" stroke="#796683" stroke-width="0.6" fill="none" stroke-opacity="0.8"/>
<path d="M355.6 232.3 354.9 230.9 355.1 229.0 355.5 229.8 356.8 232.6 354.2 229.4 356.1 229.8 353.5 229.8 358.8 230.2 355.4 229.5" stroke="#5f5f8a" stroke-width="0.6" fill="none" stroke-opacity="0.8"/>
<circle cx="304.3" cy="254.0" r="10.4" fill="#a9a9dd" stroke="#8387a2" stroke-width="1.6"/>
<path d="M300.6 250.1 307.6 250.3 302.5 250.6 304.1 253.1 303.0 252.7 305.6 248.8 301.9 255.1 304.0 248.7 304.1 252.4 306.0 254.8 304.8 257.6 303.3 257.6 303.4 253.5 303.1 248.7" stroke="#5e5e93" stroke-width="0.6" fill="none" stroke-opacity="0.8"/>
<path d="M307.1 253.0 304.1 251.7 304.1 253.3 304.0 252.1 305.5 251.6 303.8 253.6 303.3 250.2 302.0 254.4 303.1 253.0 303.6 252.5" stroke="#4c5995" stroke-width="0.6" fill="none" stroke-opacity="0.8"/>
<circle cx="445.9" cy="234.7" r="10.4" fill="#c8e0f5" stroke="#94a5af" stroke-width="1.6"/>
<path d="M444.2 230.3 447.5 231.4 445.3 231.8 445.0 233.4 445.8 236.4 443.7 236.8 444.0 230.6 448.1 238.7 445.8 234.2 448.4 238.3 445.0 234.4 445.4 234.7 447.4 234.7 448.7 233.9" stroke="#69719b" stroke-width="0.6" fill="none" stroke-opacity="0.8"/>
<path d="M443.0 233.2 447.0 233.1 445.2 235.6 444.2 232.8 445.9 235.5 444.4 234.2 446.0 236.0 446.9 235.5 446.6 235.3 449.0 235.3" stroke="#53679b" stroke-width="0.6" fill="none" stroke-opacity="0.8"/>
<circle cx="411.6" cy="270.3" r="10.4" fill="#c0e0c0" stroke="#90a592" stroke-width="1.6"/>
<path d="M408.7 268.5 411.1 269.6 412.5 270.8 413.6 265.6 408.1 274.3 410.6 273.3 412.9 274.8 409.9 269.3 410.7 270.3 412.6 270.7 415.3 268.5 415.8 268.7 412.4 267.1 409.3 265.0" stroke="#667189" stroke-width="0.6" fill="none" stroke-opacity="0.8"/>
<path d="M412.0 267.4 410.1 271.6 411.7 271.1 412.0 271.3 409.2 268.3 411.4 270.3 410.3 274.5 411.8 271.1 412.3 270.3 414.0 272.5" stroke="#51678e" stroke-width="0.6" fill="none" stroke-opacity="0.8"/>
<circle cx="87.8" cy="274.7" r="10.4" fill="#a5a5d8" stroke="#81849f" stroke-width="1.6"/>
<path d="M91.1 272.3 85.8 277.3 88.1 278.6 86.7 268.9 87.7 273.4 88.3 268.6 89.1 274.5 88.8 276.8 89.1 273.9 92.0 271.6 87.0 270.5 89.0 270.5 91.3 274.1 86.8 271.6" stroke="#5c5c91" stroke-width="0.6" fill="none" stroke-opacity="0.8"/>
<path d="M90.5 274.5 92.8 275.5 89.1 276.7 89.1 275.8 89.8 274.1 87.4 275.4 87.2 277.5 91.0 279.2 88.7 274.2 89.2 275.8" stroke="#4b5894" stroke-width="0.6" fill="none" stroke-opacity="0.8"/>
<circle cx="168.5" cy="275.3" r="10.4" fill="#cce6f0" stroke="#97a8ac" stroke-width="1.6"/>
<path d="M166.1 278.5 167.5 278.6 167.8 278.1 166.1 274.2 166.5 275.6 167.0 273.6 168.6 274.3 167.9 276.2 166.5 275.0 168.8 276.4 167.8 277.9 167.0 276.1 168.4 275.3 168.0 274.6" stroke="#6a739a" stroke-width="0.6" fill="none" stroke-opacity="0.8"/>
<path d="M169.7 275.2 167.9 273.8 167.8 278.8 167.1 276.2 168.4 276.6 169.2 275.1 167.3 275.5 167.8 278.0 165.2 275.5 168.5 276.9" stroke="#54689a" stroke-width="0.6" fill="none" stroke-opacity="0.8"/>
<circle cx="358.2" cy="289.3" r="10.4" fill="#c8e2f0" stroke="#94a6ac" stroke-width="1.6"/>
<path d="M358.1 290.1 353.9 288.8 359.0 294.2 354.8 293.3 353.0 290.7 358.7 289.1 356.3 293.8 357.6 291.1 357.7 288.7 354.9 288.1 357.3 290.1 357.7 291.5 356.4 291.9 356.7 293.9" stroke="#69729a" stroke-width="0.6" fill="none" stroke-opacity="0.8"/>
<path d="M358.4 288.1 354.3 287.2 356.9 289.5 360.3 289.5 355.6 286.1 357.4 288.8 357.7 289.5 360.6 290.5 357.4 289.1 355.2 290.9" stroke="#53679a" stroke-width="0.6" fill="none" stroke-opacity="0.8"/>
<circle cx="437.2" cy="296.4" r="10.4" fill="#f2f0d0" stroke="#abae9a" stroke-width="1.6"/>
<path d="M438.0 298.7 437.2 294.6 436.0 297.3 435.4 295.2 436.0 295.6 433.5 291.6 434.8 298.0 438.9 295.2 435.6 298.1 439.7 294.9 437.4 298.6 433.6 293.1 433.3 294.6 434.9 294.4" stroke="#77778f" stroke-width="0.6" fill="none" stroke-opacity="0.8"/>
<path d="M437.3 294.9 436.1 297.3 436.7 296.5 438.0 293.5 435.7 298.0 440.3 296.7 438.5 295.9 438.4 296.6 436.5 297.4 438.2 296.6" stroke="#5e6b92" stroke-width="0.6" fill="none" stroke-opacity="0.8"/>
<circle cx="236.0" cy="297.8" r="10.4" fill="#cce6c8" stroke="#97a896" stroke-width="1.6"/>
<path d="M235.0 298.5 235.6 295.8 234.7 299.0 234.6 298.6 236.2 293.0 237.1 294.5 234.9 302.0 236.5 295.9 236.3 297.2 234.9 301.4 234.6 297.0 235.0 297.3 236.0 298.0 234.7 297.8" stroke="#6a738c" stroke-width="0.6" fill="none" stroke-opacity="0.8"/>
<path d="M234.2 294.4 234.9 297.7 233.5 297.2 233.6 300.0 236.6 297.1 235.1 295.9 236.8 294.1 237.6 298.1 236.4 297.9 236.0 300.1" stroke="#546890" stroke-width="0.6" fill="none" stroke-opacity="0.8"/>
<circle cx="265.0" cy="316.0" r="10.4" fill="#b0b0e0" stroke="#878aa3" stroke-width="1.6"/>
<path d="M269.0 319.9 266.0 321.2 262.2 318.4 268.4 317.5 266.3 314.1 268.5 316.7 265.2 315.4 264.4 320.1 270.9 318.3 264.6 316.8 265.2 316.2 269.6 313.9 266.1 317.6 264.8 315.7" stroke="#606094" stroke-width="0.6" fill="none" stroke-opacity="0.8"/>
<path d="M266.2 317.4 264.2 315.3 264.4 313.5 262.8 314.5 264.5 315.7 266.0 316.6 267.5 313.7 263.8 315.2 262.3 313.2 264.1 314.9" stroke="#4d5b96" stroke-width="0.6" fill="none" stroke-opacity="0.8"/>
<circle cx="326.5" cy="314.4" r="10.4" fill="#f8d5b8" stroke="#af9f8d" stroke-width="1.6"/>
<path d="M326.7 311.8 326.5 313.6 327.0 319.4 325.2 316.4 327.8 314.3 324.2 316.5 325.4 314.9 326.4 317.6 325.5 314.3 328.1 311.5 325.3 315.7 326.6 317.2 325.5 317.9 329.2 315.9" stroke="#796d86" stroke-width="0.6" fill="none" stroke-opacity="0.8"/>
<path d="M329.4 313.8 326.3 312.5 325.7 311.0 324.7 313.1 324.2 313.2 323.9 312.7 325.1 315.7 327.7 314.7 329.1 314.8 328.4 315.9" stroke="#5f648c" stroke-width="0.6" fill="none" stroke-opacity="0.8"/>
<circle cx="61.5" cy="317.4" r="10.4" fill="#a8acd8" stroke="#83889f" stroke-width="1.6"/>
<path d="M63.2 319.2 62.5 314.3 56.8 316.7 60.5 319.4 60.3 317.1 61.6 316.9 55.7 317.6 64.5 319.5 63.5 318.5 62.7 316.5 58.0 320.2 61.3 316.0 61.0 317.5 58.9 322.3" stroke="#5d5f91" stroke-width="0.6" fill="none" stroke-opacity="0.8"/>
<path d="M62.6 314.2 63.6 318.1 62.9 318.6 64.1 318.8 62.5 316.4 62.0 315.1 60.4 316.9 63.4 315.8 63.5 317.6 62.6 316.7" stroke="#4b5a94" stroke-width="0.6" fill="none" stroke-opacity="0.8"/>
<circle cx="136.2" cy="323.9" r="10.4" fill="#e8706a" stroke="#a66762" stroke-width="1.6"/>
<path d="M136.7 325.1 139.5 323.6 134.8 326.8 134.1 325.4 135.3 321.8 138.6 327.8 138.9 323.1 140.1 323.1 134.5 326.1 141.0 323.4 132.3 323.1 137.2 325.3 138.5 328.4 142.2 324.3" stroke="#744a6b" stroke-width="0.6" fill="none" stroke-opacity="0.8"/>
<path d="M134.7 322.5 137.3 323.0 138.1 323.5 137.7 324.3 136.0 322.8 136.9 322.9 133.9 325.3 136.5 320.5 136.9 322.6 138.0 320.9" stroke="#5b4b79" stroke-width="0.6" fill="none" stroke-opacity="0.8"/>
<circle cx="408.2" cy="321.5" r="10.4" fill="#e8e8c0" stroke="#a6a992" stroke-width="1.6"/>
<path d="M407.1 321.8 408.0 319.6 408.7 322.9 408.7 320.8 409.4 320.6 411.6 319.2 409.0 326.3 408.4 322.7 408.8 320.6 408.4 322.9 407.6 322.5 407.2 322.7 412.3 324.0 406.5 324.3" stroke="#747489" stroke-width="0.6" fill="none" stroke-opacity="0.8"/>
<path d="M408.7 322.6 408.1 321.8 410.4 322.6 409.9 322.0 410.1 322.5 408.6 321.0 409.9 323.1 406.0 321.7 409.3 323.8 408.4 320.6" stroke="#5b698e" stroke-width="0.6" fill="none" stroke-opacity="0.8"/>
<circle cx="289.8" cy="332.0" r="10.4" fill="#c8e4dc" stroke="#94a7a1" stroke-width="1.6"/>
<path d="M286.3 337.4 291.6 334.8 286.8 333.7 287.1 335.8 290.2 333.1 291.9 332.6 290.9 332.7 288.7 333.0 289.0 331.8 285.6 335.8 288.9 332.3 293.4 334.6 292.8 330.7 288.5 332.8" stroke="#697293" stroke-width="0.6" fill="none" stroke-opacity="0.8"/>
<path d="M290.3 330.9 290.9 332.8 291.0 332.8 290.3 332.7 290.3 330.3 290.4 330.8 288.2 329.6 291.0 331.0 289.7 333.8 290.2 330.7" stroke="#536895" stroke-width="0.6" fill="none" stroke-opacity="0.8"/>
<circle cx="321.3" cy="338.3" r="10.4" fill="#f8c8b8" stroke="#af988d" stroke-width="1.6"/>
<path d="M320.6 337.8 323.9 333.9 321.8 336.7 324.2 334.2 322.0 338.9 322.3 336.7 319.9 341.2 320.8 336.6 319.2 336.8 321.9 336.8 321.8 339.7 320.7 338.7 322.8 338.4 319.7 339.6" stroke="#796986" stroke-width="0.6" fill="none" stroke-opacity="0.8"/>
<path d="M317.4 339.7 318.1 337.3 322.9 337.7 322.6 340.1 320.4 340.3 322.5 338.2 321.8 340.5 322.8 339.2 319.9 339.1 320.5 340.3" stroke="#5f618c" stroke-width="0.6" fill="none" stroke-opacity="0.8"/>
<circle cx="381.0" cy="332.3" r="10.4" fill="#c8e4e0" stroke="#94a7a3" stroke-width="1.6"/>
<path d="M381.0 336.2 382.6 334.3 378.2 332.4 383.5 332.2 381.6 330.8 386.0 337.6 383.2 333.4 387.0 331.5 381.2 336.3 383.0 333.3 380.4 337.9 381.8 329.4 384.1 332.0 380.3 334.8" stroke="#697294" stroke-width="0.6" fill="none" stroke-opacity="0.8"/>
<path d="M383.3 333.1 382.4 333.1 383.5 336.2 381.5 332.8 381.5 333.1 382.6 336.1 380.6 335.5 380.4 333.8 380.1 331.8 380.0 335.8" stroke="#536896" stroke-width="0.6" fill="none" stroke-opacity="0.8"/>
<circle cx="155.0" cy="351.0" r="10.4" fill="#d0e8c8" stroke="#99a996" stroke-width="1.6"/>
<path d="M155.0 350.1 155.0 349.8 154.7 352.2 154.7 344.5 155.0 349.5 159.8 347.5 156.8 347.9 153.8 352.2 155.0 352.1 158.9 351.0 153.7 351.1 151.8 347.3 152.6 348.3 158.0 346.9" stroke="#6b748c" stroke-width="0.6" fill="none" stroke-opacity="0.8"/>
<path d="M155.1 350.7 157.1 350.8 152.8 352.6 153.2 350.2 154.9 350.7 154.7 352.3 154.0 353.9 153.5 351.2 154.9 350.7 154.5 350.8" stroke="#556990" stroke-width="0.6" fill="none" stroke-opacity="0.8"/>
<circle cx="235.2" cy="362.6" r="10.4" fill="#f5c8b8" stroke="#ad988d" stroke-width="1.6"/>
<path d="M236.1 361.8 237.1 357.4 235.9 361.8 234.1 363.7 237.6 365.4 235.9 361.4 234.9 362.8 234.4 357.8 237.3 358.7 236.6 362.9 234.3 363.1 234.1 362.1 236.9 359.7 238.2 361.8" stroke="#786986" stroke-width="0.6" fill="none" stroke-opacity="0.8"/>
<path d="M236.7 362.3 234.5 362.9 235.3 362.9 234.5 361.8 233.8 366.2 232.6 364.2 235.2 363.7 235.5 365.7 234.8 365.2 236.1 361.8" stroke="#5f618c" stroke-width="0.6" fill="none" stroke-opacity="0.8"/>
<circle cx="185.3" cy="378.2" r="10.4" fill="#c8e4d0" stroke="#94a79a" stroke-width="1.6"/>
<path d="M184.1 382.6 181.6 379.7 186.7 380.9 183.9 382.4 181.6 377.3 183.9 379.1 186.0 382.2 188.4 380.4 181.5 375.4 182.3 384.2 186.0 380.0 185.4 382.7 180.9 376.9 180.2 376.9" stroke="#69728f" stroke-width="0.6" fill="none" stroke-opacity="0.8"/>
<path d="M181.2 376.4 185.3 378.7 183.3 379.1 185.8 378.7 183.3 377.7 186.1 380.1 184.0 380.1 181.7 377.7 184.0 377.8 184.0 375.7" stroke="#536892" stroke-width="0.6" fill="none" stroke-opacity="0.8"/>
<circle cx="246.5" cy="389.5" r="10.4" fill="#c8e0f5" stroke="#94a5af" stroke-width="1.6"/>
<path d="M246.0 384.7 249.5 389.3 246.6 388.4 242.6 388.6 247.5 390.0 245.3 388.4 246.1 387.5 249.4 392.5 246.6 384.2 248.1 389.5 247.5 389.0 250.5 385.9 250.2 389.4 246.4 392.1" stroke="#69719b" stroke-width="0.6" fill="none" stroke-opacity="0.8"/>
<path d="M247.2 389.1 247.2 386.9 245.7 388.0 249.6 388.1 245.4 390.4 246.8 388.0 247.5 389.2 245.6 390.2 249.6 386.5 245.8 386.6" stroke="#53679b" stroke-width="0.6" fill="none" stroke-opacity="0.8"/>
<circle cx="345.4" cy="378.5" r="10.4" fill="#cce8f0" stroke="#97a9ac" stroke-width="1.6"/>
<path d="M344.0 379.3 346.3 377.4 345.6 375.1 344.6 383.5 344.6 382.4 346.8 383.3 347.3 375.0 342.6 383.9 345.7 379.8 349.2 379.3 347.5 377.0 343.3 381.8 348.5 376.6 345.3 378.0" stroke="#6a749a" stroke-width="0.6" fill="none" stroke-opacity="0.8"/>
<path d="M343.1 378.3 340.5 379.3 344.2 379.4 346.3 380.2 344.6 374.8 343.9 378.3 342.1 378.5 345.3 381.5 343.8 376.2 344.1 377.7" stroke="#54699a" stroke-width="0.6" fill="none" stroke-opacity="0.8"/>
<circle cx="461.6" cy="336.2" r="10.4" fill="#c8e0f5" stroke="#94a5af" stroke-width="1.6"/>
<path d="M466.2 335.7 465.4 340.1 458.9 338.2 462.7 337.2 466.2 335.6 462.3 336.9 462.5 337.2 459.1 336.7 461.5 340.1 460.9 341.7 462.3 338.1 462.4 338.9 462.1 337.4 463.6 338.4" stroke="#69719b" stroke-width="0.6" fill="none" stroke-opacity="0.8"/>
<path d="M459.4 336.5 459.4 337.6 461.9 338.7 460.0 337.5 462.3 337.6 459.2 338.0 461.4 337.9 460.0 336.2 461.7 337.1 461.1 338.6" stroke="#53679b" stroke-width="0.6" fill="none" stroke-opacity="0.8"/>
<circle cx="500.1" cy="331.0" r="10.4" fill="#c8e0f5" stroke="#94a5af" stroke-width="1.6"/>
<path d="M499.3 328.8 498.7 336.2 499.5 328.4 495.1 330.9 500.5 329.4 503.4 335.3 502.6 330.8 496.8 333.1 499.7 329.5 500.5 333.2 502.6 329.4 502.2 330.9 499.2 328.5 501.5 327.3" stroke="#69719b" stroke-width="0.6" fill="none" stroke-opacity="0.8"/>
<path d="M498.6 329.8 499.3 329.8 500.2 327.3 500.2 329.9 501.2 326.8 498.8 331.8 500.5 327.6 498.7 330.5 498.4 328.1 501.4 329.3" stroke="#53679b" stroke-width="0.6" fill="none" stroke-opacity="0.8"/>
<circle cx="495.8" cy="362.6" r="10.4" fill="#f0eec8" stroke="#aaad96" stroke-width="1.6"/>
<path d="M491.7 361.2 491.3 365.3 494.1 363.2 495.1 363.2 498.2 362.2 492.1 363.8 492.4 364.3 495.7 362.7 495.7 363.4 498.8 366.4 495.6 361.5 491.7 363.7 499.1 366.0 499.1 360.3" stroke="#77768c" stroke-width="0.6" fill="none" stroke-opacity="0.8"/>
<path d="M496.6 361.6 494.7 360.8 495.5 360.7 495.7 360.0 493.0 359.6 495.0 364.5 492.7 362.6 496.0 361.4 500.0 361.3 495.8 361.4" stroke="#5d6a90" stroke-width="0.6" fill="none" stroke-opacity="0.8"/>
<circle cx="536.2" cy="400.0" r="10.4" fill="#f8d4b8" stroke="#af9e8d" stroke-width="1.6"/>
<path d="M535.3 399.5 534.3 395.3 532.6 403.3 536.4 398.6 534.9 397.5 534.7 401.5 533.4 401.6 534.2 397.4 536.4 401.6 539.7 397.5 538.7 404.1 535.2 399.0 535.7 399.6 535.1 397.0" stroke="#796d86" stroke-width="0.6" fill="none" stroke-opacity="0.8"/>
<path d="M538.1 402.7 534.5 402.4 536.6 399.2 535.4 401.8 533.9 401.3 534.7 401.9 536.9 403.6 533.1 399.9 536.2 403.4 534.2 402.6" stroke="#5f648c" stroke-width="0.6" fill="none" stroke-opacity="0.8"/>
<circle cx="598.0" cy="71.7" r="10.4" fill="#f5b8a0" stroke="#ad8f80" stroke-width="1.6"/>
<path d="M594.1 71.5 599.6 74.9 597.3 72.4 597.0 67.8 601.9 72.7 597.2 73.2 598.0 72.8 593.6 73.8 598.0 73.0 594.7 69.9 597.5 73.4 595.2 76.7 594.8 73.7 593.6 73.9" stroke="#78637e" stroke-width="0.6" fill="none" stroke-opacity="0.8"/>
<path d="M598.1 72.0 601.2 73.9 597.7 70.3 597.5 73.0 597.1 73.2 601.4 74.3 598.6 70.8 597.7 73.4 594.5 73.0 597.7 73.6" stroke="#5f5d86" stroke-width="0.6" fill="none" stroke-opacity="0.8"/>
<circle cx="533.8" cy="84.1" r="10.4" fill="#f5d0b0" stroke="#ad9c89" stroke-width="1.6"/>
<path d="M533.8 85.2 534.6 88.1 534.6 87.2 533.7 83.8 532.3 82.6 534.6 80.7 532.9 85.6 536.3 89.2 534.7 87.4 537.4 85.0 533.3 87.6 532.4 84.3 533.0 83.3 530.5 81.9" stroke="#786b83" stroke-width="0.6" fill="none" stroke-opacity="0.8"/>
<path d="M531.7 83.8 532.6 80.2 531.2 82.8 532.1 81.3 534.7 85.8 536.2 83.4 530.2 83.9 535.2 82.5 536.1 84.0 530.3 80.3" stroke="#5f638a" stroke-width="0.6" fill="none" stroke-opacity="0.8"/>
<circle cx="668.8" cy="79.0" r="10.4" fill="#d8ecc8" stroke="#9dab96" stroke-width="1.6"/>
<path d="M669.8 78.8 668.5 80.8 667.4 78.5 669.2 76.2 668.3 77.0 669.2 82.0 668.2 79.3 665.1 79.2 668.6 80.2 669.1 80.6 667.5 80.7 668.4 81.3 669.1 80.3 671.9 78.9" stroke="#6e758c" stroke-width="0.6" fill="none" stroke-opacity="0.8"/>
<path d="M668.0 78.3 672.2 82.6 671.5 82.2 671.6 79.1 673.2 79.6 669.5 79.4 666.3 81.1 667.5 77.6 669.5 82.0 672.2 78.7" stroke="#576a90" stroke-width="0.6" fill="none" stroke-opacity="0.8"/>
<circle cx="715.6" cy="101.5" r="10.4" fill="#f2a8a8" stroke="#ab8684" stroke-width="1.6"/>
<path d="M718.9 102.4 713.7 101.7 720.0 102.4 714.8 102.9 710.0 100.8 714.3 99.9 714.3 100.5 715.2 99.3 711.9 96.6 714.9 99.9 717.9 101.9 715.1 102.9 715.7 100.0 711.8 96.5" stroke="#775d81" stroke-width="0.6" fill="none" stroke-opacity="0.8"/>
<path d="M715.0 97.5 714.3 99.9 717.8 100.1 713.1 102.1 716.7 97.8 716.1 100.8 719.1 99.9 713.9 101.0 717.4 100.2 715.5 99.4" stroke="#5e5988" stroke-width="0.6" fill="none" stroke-opacity="0.8"/>
<circle cx="445.9" cy="111.0" r="10.4" fill="#c8e0f0" stroke="#94a5ac" stroke-width="1.6"/>
<path d="M448.8 114.0 446.7 112.3 442.2 113.4 445.7 111.6 448.3 112.9 447.7 115.9 449.1 110.3 446.0 112.7 443.6 109.4 447.0 113.2 445.7 109.2 446.0 112.4 444.7 112.0 441.8 111.4" stroke="#69719a" stroke-width="0.6" fill="none" stroke-opacity="0.8"/>
<path d="M446.0 112.5 445.8 112.3 448.0 114.6 444.9 111.0 444.3 109.5 447.1 114.3 445.9 112.4 447.3 114.4 442.3 113.1 448.3 113.3" stroke="#53679a" stroke-width="0.6" fill="none" stroke-opacity="0.8"/>
<circle cx="490.6" cy="122.2" r="10.4" fill="#d0e8c8" stroke="#99a996" stroke-width="1.6"/>
<path d="M491.1 121.7 490.2 118.8 491.0 124.1 489.7 120.7 485.1 121.3 490.3 125.6 485.5 123.2 493.2 120.8 487.1 126.0 488.8 120.9 491.7 117.5 489.8 118.0 489.2 121.8 490.9 123.0" stroke="#6b748c" stroke-width="0.6" fill="none" stroke-opacity="0.8"/>
<path d="M487.9 123.7 491.6 122.5 492.5 120.4 491.2 122.3 491.2 122.4 491.3 122.7 489.2 119.6 488.5 123.9 491.6 119.7 491.9 124.7" stroke="#556990" stroke-width="0.6" fill="none" stroke-opacity="0.8"/>
<circle cx="550.6" cy="119.0" r="10.4" fill="#b8dcb8" stroke="#8ca38d" stroke-width="1.6"/>
<path d="M553.8 117.5 551.6 119.0 545.4 118.7 547.7 115.7 550.7 118.8 550.7 119.4 550.2 118.6 548.0 121.9 549.5 118.4 551.1 115.1 550.5 119.8 551.7 115.1 553.2 118.2 552.3 122.0" stroke="#637086" stroke-width="0.6" fill="none" stroke-opacity="0.8"/>
<path d="M548.9 121.1 547.7 122.1 549.2 119.3 549.0 115.9 550.6 122.1 548.8 119.5 551.4 117.7 548.2 118.7 550.1 121.9 547.9 122.1" stroke="#4f668c" stroke-width="0.6" fill="none" stroke-opacity="0.8"/>
<circle cx="604.1" cy="114.4" r="10.4" fill="#e0eecc" stroke="#a2ad98" stroke-width="1.6"/>
<path d="M603.2 108.4 602.7 114.1 601.0 113.7 604.2 112.7 605.8 112.1 603.0 113.7 602.9 109.8 604.7 113.0 606.2 115.9 604.3 113.5 605.1 111.2 604.5 114.9 606.1 111.0 604.4 109.8" stroke="#71768d" stroke-width="0.6" fill="none" stroke-opacity="0.8"/>
<path d="M607.7 112.8 607.3 115.1 600.6 113.7 601.7 111.7 603.9 116.2 604.4 112.5 603.4 115.4 606.2 112.0 605.7 115.2 608.2 113.5" stroke="#596a91" stroke-width="0.6" fill="none" stroke-opacity="0.8"/>
<circle cx="630.0" cy="134.6" r="10.4" fill="#c8e4d0" stroke="#94a79a" stroke-width="1.6"/>
<path d="M628.6 134.3 626.0 134.0 630.0 130.2 627.4 134.9 628.6 134.5 628.0 129.3 629.7 135.7 628.3 134.1 627.0 134.7 627.2 130.0 628.6 134.4 624.5 135.7 630.2 132.9 629.1 132.5" stroke="#69728f" stroke-width="0.6" fill="none" stroke-opacity="0.8"/>
<path d="M630.1 134.8 630.9 134.2 631.5 135.3 629.4 138.6 626.9 134.2 630.0 134.7 632.0 133.1 633.3 136.2 628.3 132.0 631.0 135.9" stroke="#536892" stroke-width="0.6" fill="none" stroke-opacity="0.8"/>
<circle cx="686.4" cy="139.7" r="10.4" fill="#e0eccc" stroke="#a2ab98" stroke-width="1.6"/>
<path d="M688.1 142.0 690.3 140.9 688.3 144.5 686.8 139.9 681.6 140.0 682.1 136.8 687.8 143.3 687.1 141.2 686.4 143.0 686.7 139.6 685.3 141.5 686.1 139.2 685.8 135.7 685.2 139.0" stroke="#71758d" stroke-width="0.6" fill="none" stroke-opacity="0.8"/>
<path d="M689.7 139.5 687.0 140.5 688.1 139.5 689.8 142.3 685.9 144.2 687.6 141.3 686.1 138.8 688.2 139.2 686.0 139.8 688.8 140.2" stroke="#596a91" stroke-width="0.6" fill="none" stroke-opacity="0.8"/>
<circle cx="736.3" cy="136.4" r="10.4" fill="#c4d8f0" stroke="#92a0ac" stroke-width="1.6"/>
<path d="M731.9 137.2 735.1 136.3 736.1 135.0 738.5 134.8 733.6 136.9 734.1 134.5 732.0 133.8 736.5 133.9 735.0 136.6 735.4 135.0 735.0 138.6 739.4 135.2 737.1 136.5 734.3 136.2" stroke="#676e9a" stroke-width="0.6" fill="none" stroke-opacity="0.8"/>
<path d="M736.8 140.7 739.0 134.8 737.3 136.5 737.6 137.2 737.4 137.5 737.5 137.7 737.4 137.0 737.0 138.2 736.1 138.5 738.2 138.0" stroke="#52659a" stroke-width="0.6" fill="none" stroke-opacity="0.8"/>
<circle cx="582.4" cy="148.5" r="10.4" fill="#f5f0c8" stroke="#adae96" stroke-width="1.6"/>
<path d="M582.9 148.2 582.0 148.7 587.7 148.3 585.5 147.9 582.9 145.7 582.4 153.2 586.8 147.8 585.5 150.7 585.7 146.9 582.2 144.5 584.3 147.8 582.1 147.7 579.9 150.9 583.2 148.4" stroke="#78778c" stroke-width="0.6" fill="none" stroke-opacity="0.8"/>
<path d="M580.3 148.5 582.0 148.5 583.1 149.2 578.6 149.8 582.7 150.0 581.5 150.1 578.2 146.7 582.2 148.2 583.0 151.6 580.1 150.0" stroke="#5f6b90" stroke-width="0.6" fill="none" stroke-opacity="0.8"/>
<circle cx="453.6" cy="175.2" r="10.4" fill="#b8c0e8" stroke="#8c93a8" stroke-width="1.6"/>
<path d="M457.7 174.1 456.4 176.8 447.8 176.6 453.5 173.3 454.8 169.7 448.6 177.0 455.0 177.2 453.9 175.3 448.2 175.5 453.3 174.7 457.0 173.7 454.9 175.9 454.9 173.6 449.3 173.4" stroke="#636697" stroke-width="0.6" fill="none" stroke-opacity="0.8"/>
<path d="M454.9 175.5 454.2 174.1 455.8 171.3 453.7 176.1 454.3 174.1 455.4 174.1 457.5 173.2 451.9 174.5 455.6 173.1 451.7 174.2" stroke="#4f5f98" stroke-width="0.6" fill="none" stroke-opacity="0.8"/>
<circle cx="626.9" cy="171.3" r="10.4" fill="#a8a8dc" stroke="#8386a1" stroke-width="1.6"/>
<path d="M625.2 175.5 629.9 171.8 623.4 168.6 628.5 167.6 622.4 170.7 628.2 172.1 622.0 168.0 626.3 170.4 624.1 174.5 626.7 170.8 625.8 172.4 627.8 169.1 625.4 173.0 628.7 169.0" stroke="#5d5d93" stroke-width="0.6" fill="none" stroke-opacity="0.8"/>
<path d="M630.1 172.0 624.5 169.4 628.9 168.0 626.9 172.9 627.6 170.0 624.9 168.8 629.7 170.5 626.4 171.7 625.8 173.3 628.2 170.7" stroke="#4b5995" stroke-width="0.6" fill="none" stroke-opacity="0.8"/>
<circle cx="667.0" cy="180.9" r="10.4" fill="#c8e4f0" stroke="#94a7ac" stroke-width="1.6"/>
<path d="M668.8 177.9 667.6 177.4 663.2 179.4 666.2 179.3 665.8 180.1 668.3 175.3 664.5 180.2 663.2 183.4 668.7 177.9 666.3 178.1 666.1 179.8 666.6 178.8 666.6 179.4 666.3 180.6" stroke="#69729a" stroke-width="0.6" fill="none" stroke-opacity="0.8"/>
<path d="M664.8 176.8 668.5 181.0 665.9 179.5 668.3 181.5 665.7 179.6 666.6 180.3 668.2 180.7 666.0 176.6 666.6 179.3 666.5 179.2" stroke="#53689a" stroke-width="0.6" fill="none" stroke-opacity="0.8"/>
<circle cx="724.7" cy="181.6" r="10.4" fill="#f8dcb8" stroke="#afa38d" stroke-width="1.6"/>
<path d="M727.2 176.1 726.1 179.8 725.7 182.7 724.1 179.1 723.8 180.1 724.2 180.3 724.5 181.4 723.3 185.2 719.0 179.1 725.2 181.1 720.4 180.3 722.1 182.8 719.4 182.3 725.1 182.1" stroke="#797086" stroke-width="0.6" fill="none" stroke-opacity="0.8"/>
<path d="M724.4 181.2 724.8 180.7 724.7 181.1 724.5 178.0 724.2 180.7 724.1 181.1 723.9 183.0 722.9 184.2 722.3 181.5 723.5 183.9" stroke="#5f668c" stroke-width="0.6" fill="none" stroke-opacity="0.8"/>
<circle cx="491.6" cy="195.1" r="10.4" fill="#c8e2d0" stroke="#94a69a" stroke-width="1.6"/>
<path d="M492.1 191.6 490.2 192.9 493.4 193.8 492.6 195.3 490.4 193.4 492.0 195.5 490.2 193.5 495.5 191.4 495.6 195.9 488.9 196.6 491.3 193.8 492.8 190.4 490.0 197.7 489.4 193.1" stroke="#69728f" stroke-width="0.6" fill="none" stroke-opacity="0.8"/>
<path d="M491.0 196.6 491.2 194.6 491.4 195.6 492.5 195.1 492.5 197.4 492.1 195.2 492.6 195.7 494.8 196.6 493.9 195.3 492.2 195.0" stroke="#536792" stroke-width="0.6" fill="none" stroke-opacity="0.8"/>
<circle cx="775.0" cy="212.7" r="10.4" fill="#c8e2cc" stroke="#94a698" stroke-width="1.6"/>
<path d="M779.0 213.4 775.8 207.2 776.5 215.0 773.9 211.6 772.7 215.4 770.3 210.0 777.7 212.0 777.2 210.4 774.6 213.4 775.2 211.5 770.9 209.8 774.1 215.2 774.6 211.5 774.8 208.9" stroke="#69728d" stroke-width="0.6" fill="none" stroke-opacity="0.8"/>
<path d="M772.4 211.0 772.2 212.4 775.0 211.7 772.4 214.4 776.2 212.8 771.6 216.2 773.8 213.3 776.9 214.1 772.2 215.6 777.2 213.8" stroke="#536791" stroke-width="0.6" fill="none" stroke-opacity="0.8"/>
<circle cx="523.4" cy="226.9" r="10.4" fill="#a8a8d8" stroke="#83869f" stroke-width="1.6"/>
<path d="M521.8 227.3 520.8 228.6 523.0 229.3 518.7 223.0 524.5 226.4 522.9 225.8 521.8 227.9 525.0 223.3 524.1 224.8 521.8 222.6 525.0 225.5 520.5 227.7 523.1 225.2 522.1 224.0" stroke="#5d5d91" stroke-width="0.6" fill="none" stroke-opacity="0.8"/>
<path d="M522.1 229.7 522.3 229.0 520.1 227.8 524.1 224.5 522.3 227.4 527.1 228.8 522.7 228.2 523.4 227.3 523.6 227.4 523.3 227.9" stroke="#4b5994" stroke-width="0.6" fill="none" stroke-opacity="0.8"/>
<circle cx="609.6" cy="224.3" r="10.4" fill="#c4e0d8" stroke="#92a59f" stroke-width="1.6"/>
<path d="M611.6 228.5 609.5 222.9 611.3 222.0 609.4 224.0 607.7 226.2 606.5 225.4 610.5 224.3 609.1 219.7 609.5 223.7 614.5 223.3 605.5 225.3 607.2 223.5 610.8 221.9 607.3 222.8" stroke="#677191" stroke-width="0.6" fill="none" stroke-opacity="0.8"/>
<path d="M610.0 224.4 609.2 222.8 608.5 224.4 609.8 223.7 610.1 225.4 610.8 221.7 609.6 226.2 609.3 224.1 610.0 224.8 610.5 222.3" stroke="#526794" stroke-width="0.6" fill="none" stroke-opacity="0.8"/>
<circle cx="593.3" cy="260.0" r="10.4" fill="#d0e8c8" stroke="#99a996" stroke-width="1.6"/>
<path d="M593.4 259.6 593.9 260.4 593.3 264.2 593.0 259.0 596.7 255.6 593.4 259.8 593.8 259.5 589.6 257.0 595.3 258.5 591.1 262.5 597.9 262.6 593.4 259.0 596.6 262.4 596.1 258.6" stroke="#6b748c" stroke-width="0.6" fill="none" stroke-opacity="0.8"/>
<path d="M595.2 260.9 595.0 260.7 596.5 263.5 593.2 263.3 592.1 263.2 594.4 263.0 594.7 261.9 595.9 261.0 594.2 263.6 592.8 261.4" stroke="#556990" stroke-width="0.6" fill="none" stroke-opacity="0.8"/>
<circle cx="686.9" cy="253.3" r="10.4" fill="#f4a8a0" stroke="#ad8680" stroke-width="1.6"/>
<path d="M684.9 254.5 693.0 251.6 690.1 252.0 687.3 248.3 693.5 253.5 684.6 249.9 685.5 248.3 686.7 248.7 688.4 255.8 686.3 257.7 685.3 256.1 691.7 256.1 689.6 251.1 690.1 251.6" stroke="#785d7e" stroke-width="0.6" fill="none" stroke-opacity="0.8"/>
<path d="M691.0 254.3 688.4 253.4 691.0 250.3 686.0 250.1 688.5 251.0 691.6 253.3 689.9 249.3 686.8 252.9 689.8 250.2 690.6 250.4" stroke="#5e5986" stroke-width="0.6" fill="none" stroke-opacity="0.8"/>
<circle cx="767.8" cy="279.1" r="10.4" fill="#c8dcf4" stroke="#94a3ae" stroke-width="1.6"/>
<path d="M766.8 279.6 765.2 277.0 768.6 277.2 769.1 279.7 766.6 277.0 769.0 279.0 766.0 281.7 768.6 280.1 770.3 282.1 773.3 278.8 769.1 275.1 767.1 275.7 767.7 282.1 768.6 278.3" stroke="#69709b" stroke-width="0.6" fill="none" stroke-opacity="0.8"/>
<path d="M768.6 279.4 767.8 280.4 770.9 277.5 769.0 279.5 771.7 278.9 766.9 278.2 771.5 278.0 769.2 282.6 769.1 281.4 767.5 280.5" stroke="#53669b" stroke-width="0.6" fill="none" stroke-opacity="0.8"/>
<circle cx="662.6" cy="290.3" r="10.4" fill="#f4b8b0" stroke="#ad8f89" stroke-width="1.6"/>
<path d="M662.0 289.7 660.9 287.6 663.6 288.7 661.1 289.3 661.1 288.9 664.1 286.6 660.7 292.5 664.6 293.3 656.9 286.7 660.6 293.5 659.4 291.0 662.3 291.2 661.1 293.3 663.1 288.8" stroke="#786383" stroke-width="0.6" fill="none" stroke-opacity="0.8"/>
<path d="M663.7 290.2 662.0 292.6 662.1 287.6 662.4 287.4 663.1 290.5 664.3 290.6 663.5 293.7 666.8 290.1 665.4 289.7 663.2 290.0" stroke="#5e5d8a" stroke-width="0.6" fill="none" stroke-opacity="0.8"/>
<circle cx="590.7" cy="342.0" r="10.4" fill="#e0eccc" stroke="#a2ab98" stroke-width="1.6"/>
<path d="M589.3 344.4 586.3 346.2 587.0 341.2 589.8 345.1 594.3 340.3 591.1 343.6 589.2 342.2 590.1 342.5 593.3 345.8 592.0 338.8 591.4 341.7 592.4 340.0 590.1 340.9 588.1 346.9" stroke="#71758d" stroke-width="0.6" fill="none" stroke-opacity="0.8"/>
<path d="M590.2 342.9 591.7 341.5 590.2 343.3 590.7 344.2 591.1 343.7 589.7 341.9 593.7 343.4 591.5 343.8 589.7 341.7 586.9 343.6" stroke="#596a91" stroke-width="0.6" fill="none" stroke-opacity="0.8"/>
<circle cx="734.2" cy="344.6" r="10.4" fill="#e4ecc8" stroke="#a4ab96" stroke-width="1.6"/>
<path d="M739.3 346.1 735.7 344.3 733.8 343.4 737.8 341.4 730.7 340.8 732.2 343.0 734.9 343.7 735.7 339.8 735.4 343.4 733.7 340.1 732.7 345.5 739.7 342.1 735.6 343.8 737.1 340.3" stroke="#72758c" stroke-width="0.6" fill="none" stroke-opacity="0.8"/>
<path d="M734.0 346.0 736.5 345.5 735.3 345.6 733.7 343.2 736.2 345.4 734.1 346.1 733.3 345.0 734.3 346.1 735.5 345.5 733.5 346.4" stroke="#5a6a90" stroke-width="0.6" fill="none" stroke-opacity="0.8"/>
<circle cx="675.0" cy="388.0" r="10.4" fill="#c8e0c8" stroke="#94a596" stroke-width="1.6"/>
<path d="M680.4 391.6 678.6 392.8 675.5 393.1 676.0 388.6 674.0 389.2 677.0 387.5 676.1 388.4 674.1 385.2 673.7 388.9 678.4 387.4 674.2 388.2 676.6 384.6 674.6 387.5 676.2 389.2" stroke="#69718c" stroke-width="0.6" fill="none" stroke-opacity="0.8"/>
<path d="M675.0 390.5 675.6 389.5 673.1 386.4 674.1 389.5 676.1 386.9 674.8 388.3 677.2 386.0 673.4 387.7 674.8 388.0 674.9 388.0" stroke="#536790" stroke-width="0.6" fill="none" stroke-opacity="0.8"/>
<circle cx="748.0" cy="389.0" r="10.4" fill="#f2a0a8" stroke="#ab8284" stroke-width="1.6"/>
<path d="M746.1 385.1 747.7 389.2 750.2 389.1 750.5 390.2 748.2 388.7 747.4 388.1 748.9 386.6 745.6 386.5 746.1 384.8 747.3 393.1 748.5 387.0 749.4 391.6 744.0 384.9 750.1 389.6" stroke="#775b81" stroke-width="0.6" fill="none" stroke-opacity="0.8"/>
<path d="M747.4 389.5 745.3 384.7 748.8 387.3 744.1 388.1 747.9 387.6 745.3 385.5 745.6 388.6 746.6 387.9 746.6 387.9 749.8 387.2" stroke="#5e5788" stroke-width="0.6" fill="none" stroke-opacity="0.8"/>
<circle cx="99.5" cy="414.9" r="10.4" fill="#a8a8dc" stroke="#8386a1" stroke-width="1.6"/>
<path d="M97.2 413.4 95.6 412.3 99.2 416.9 96.1 415.9 99.5 415.5 100.9 418.5 101.2 414.8 100.7 412.9 99.6 418.3 98.8 415.1 102.1 415.5 97.4 410.1 101.0 412.0 96.1 413.6" stroke="#5d5d93" stroke-width="0.6" fill="none" stroke-opacity="0.8"/>
<path d="M96.6 415.1 96.9 413.2 99.6 413.1 98.4 412.9 97.8 415.4 102.0 416.2 97.3 415.8 95.3 415.0 97.3 417.1 100.0 415.0" stroke="#4b5995" stroke-width="0.6" fill="none" stroke-opacity="0.8"/>
<circle cx="131.0" cy="425.3" r="10.4" fill="#c8e4c8" stroke="#94a796" stroke-width="1.6"/>
<path d="M130.2 426.0 131.6 423.8 126.4 422.1 129.7 424.2 129.0 428.6 134.5 423.7 128.2 421.3 131.3 420.6 132.0 422.0 129.2 428.9 129.7 424.2 131.1 428.0 131.9 426.2 131.7 424.8" stroke="#69728c" stroke-width="0.6" fill="none" stroke-opacity="0.8"/>
<path d="M133.5 424.3 129.7 424.4 131.7 420.9 130.4 424.0 128.0 424.9 130.8 424.5 130.1 425.2 130.0 424.1 130.9 423.2 131.7 426.1" stroke="#536890" stroke-width="0.6" fill="none" stroke-opacity="0.8"/>
<circle cx="232.1" cy="441.1" r="10.4" fill="#f0f0c8" stroke="#aaae96" stroke-width="1.6"/>
<path d="M230.8 436.7 229.8 442.6 232.5 441.1 234.8 443.7 233.2 436.5 232.2 441.4 234.9 443.7 235.6 438.0 233.0 442.9 229.6 442.6 232.1 441.1 231.0 440.1 235.2 445.2 230.0 442.5" stroke="#77778c" stroke-width="0.6" fill="none" stroke-opacity="0.8"/>
<path d="M233.4 439.1 232.6 440.3 230.9 442.4 231.3 442.3 234.6 442.7 232.1 440.8 233.4 438.8 231.4 441.3 234.7 437.9 232.8 440.4" stroke="#5d6b90" stroke-width="0.6" fill="none" stroke-opacity="0.8"/>
<circle cx="253.9" cy="436.9" r="10.4" fill="#b0b0e0" stroke="#878aa3" stroke-width="1.6"/>
<path d="M254.6 430.6 254.3 436.3 253.7 435.3 256.7 437.0 250.9 432.5 253.1 435.2 250.2 432.5 251.3 433.0 252.2 437.6 251.5 432.7 251.5 439.3 252.9 435.4 252.3 438.3 256.2 433.6" stroke="#606094" stroke-width="0.6" fill="none" stroke-opacity="0.8"/>
<path d="M250.8 435.2 252.2 433.8 256.0 434.1 253.1 436.4 253.7 436.2 252.3 438.4 253.7 435.5 254.8 436.0 255.5 437.2 250.8 435.6" stroke="#4d5b96" stroke-width="0.6" fill="none" stroke-opacity="0.8"/>
<circle cx="328.6" cy="428.5" r="10.4" fill="#f2f0cc" stroke="#abae98" stroke-width="1.6"/>
<path d="M328.5 424.0 327.8 431.3 326.8 421.7 327.8 427.3 325.2 429.6 327.4 427.3 327.2 426.5 326.4 431.0 322.4 428.7 329.4 422.0 323.1 425.1 325.5 425.0 326.0 426.0 326.7 431.3" stroke="#77778d" stroke-width="0.6" fill="none" stroke-opacity="0.8"/>
<path d="M328.8 427.1 329.3 430.3 326.5 427.5 329.0 429.3 328.5 425.9 329.5 429.1 330.6 427.8 327.9 429.5 327.0 428.6 327.7 428.8" stroke="#5e6b91" stroke-width="0.6" fill="none" stroke-opacity="0.8"/>
<circle cx="380.5" cy="411.5" r="10.4" fill="#f8d8c0" stroke="#afa092" stroke-width="1.6"/>
<path d="M377.6 412.6 382.2 410.4 384.3 410.7 380.2 412.0 379.6 410.8 378.4 406.9 380.7 412.3 375.7 412.2 381.7 410.8 382.9 410.5 379.2 411.9 379.6 411.4 381.0 413.2 381.5 411.4" stroke="#796e89" stroke-width="0.6" fill="none" stroke-opacity="0.8"/>
<path d="M381.9 414.1 383.7 413.4 381.1 411.8 381.2 410.7 381.4 413.3 381.6 411.2 378.5 411.4 382.9 410.6 377.7 412.8 378.1 410.6" stroke="#5f658e" stroke-width="0.6" fill="none" stroke-opacity="0.8"/>
<circle cx="407.1" cy="447.0" r="10.4" fill="#d0e8d0" stroke="#99a99a" stroke-width="1.6"/>
<path d="M404.8 447.7 408.3 445.5 408.2 443.4 406.0 447.6 404.8 448.7 411.8 445.6 406.8 443.3 409.7 444.0 403.2 445.0 406.3 443.9 409.3 449.0 408.3 450.1 406.9 446.7 406.2 446.4" stroke="#6b748f" stroke-width="0.6" fill="none" stroke-opacity="0.8"/>
<path d="M409.7 450.7 407.1 448.3 407.2 447.3 406.1 444.9 404.1 449.3 405.8 447.2 410.2 449.1 408.7 448.4 404.2 449.9 406.6 449.1" stroke="#556992" stroke-width="0.6" fill="none" stroke-opacity="0.8"/>
<circle cx="372.0" cy="458.0" r="10.4" fill="#d0e8d0" stroke="#99a99a" stroke-width="1.6"/>
<path d="M371.2 457.5 370.8 457.3 370.1 458.9 372.5 459.8 370.8 456.9 372.8 457.6 369.9 458.9 369.9 458.6 371.2 456.2 372.1 460.8 368.5 455.4 370.9 454.7 371.1 457.0 368.7 457.3" stroke="#6b748f" stroke-width="0.6" fill="none" stroke-opacity="0.8"/>
<path d="M372.3 461.1 371.5 461.4 371.5 456.9 369.1 456.7 371.4 459.2 374.1 459.0 373.0 461.3 369.3 460.4 372.4 455.7 368.8 459.3" stroke="#556992" stroke-width="0.6" fill="none" stroke-opacity="0.8"/>
<circle cx="452.1" cy="462.7" r="10.4" fill="#b0b0e0" stroke="#878aa3" stroke-width="1.6"/>
<path d="M447.5 462.2 450.7 466.4 457.1 461.2 448.7 461.6 453.1 459.4 449.9 464.0 449.5 459.8 455.9 462.3 450.4 460.6 451.4 461.6 453.9 463.6 451.5 463.5 447.9 457.8 450.4 464.6" stroke="#606094" stroke-width="0.6" fill="none" stroke-opacity="0.8"/>
<path d="M451.7 460.2 451.7 465.8 450.7 463.5 451.6 461.9 450.7 459.7 453.5 462.0 453.7 460.5 448.7 463.8 450.8 459.2 448.7 461.3" stroke="#4d5b96" stroke-width="0.6" fill="none" stroke-opacity="0.8"/>
<circle cx="482.7" cy="440.6" r="10.4" fill="#a8a8dc" stroke="#8386a1" stroke-width="1.6"/>
<path d="M487.6 440.2 481.4 436.1 480.5 442.9 484.1 437.6 485.0 443.1 483.1 439.3 478.1 440.5 482.0 439.7 484.7 439.5 484.9 438.4 486.0 441.1 481.9 443.1 483.4 442.0 482.1 440.5" stroke="#5d5d93" stroke-width="0.6" fill="none" stroke-opacity="0.8"/>
<path d="M484.1 442.0 484.6 439.8 485.4 439.6 481.8 441.3 482.7 439.4 483.0 439.2 484.4 441.4 484.8 441.6 483.1 440.8 480.9 440.8" stroke="#4b5995" stroke-width="0.6" fill="none" stroke-opacity="0.8"/>
<circle cx="295.4" cy="478.0" r="10.4" fill="#b8b8e8" stroke="#8c8fa8" stroke-width="1.6"/>
<path d="M298.3 478.3 293.1 478.3 292.2 477.6 297.7 477.2 294.7 478.4 296.7 477.6 296.0 478.5 293.4 476.2 291.8 481.7 295.4 477.7 294.1 480.8 294.4 478.5 294.6 479.0 294.3 478.5" stroke="#636397" stroke-width="0.6" fill="none" stroke-opacity="0.8"/>
<path d="M295.9 479.6 296.1 480.1 295.2 481.7 297.6 480.5 296.9 477.3 295.2 478.5 296.1 479.8 296.2 480.7 297.3 479.9 297.1 475.9" stroke="#4f5d98" stroke-width="0.6" fill="none" stroke-opacity="0.8"/>
<circle cx="128.4" cy="495.1" r="10.4" fill="#a8a8dc" stroke="#8386a1" stroke-width="1.6"/>
<path d="M129.5 492.0 128.8 495.2 129.4 495.5 127.4 499.8 129.9 495.7 131.3 494.3 128.1 498.7 132.6 497.0 127.7 494.9 128.8 495.8 129.2 494.2 126.3 493.3 131.3 495.6 130.6 490.8" stroke="#5d5d93" stroke-width="0.6" fill="none" stroke-opacity="0.8"/>
<path d="M131.5 493.5 127.5 495.0 128.9 495.0 128.5 494.5 128.9 493.9 126.6 493.5 128.7 496.2 128.5 492.9 128.9 497.7 129.9 495.1" stroke="#4b5995" stroke-width="0.6" fill="none" stroke-opacity="0.8"/>
<circle cx="275.4" cy="499.7" r="10.4" fill="#cce6e4" stroke="#97a8a5" stroke-width="1.6"/>
<path d="M275.3 499.4 278.4 498.3 276.2 502.4 274.1 502.8 278.4 501.2 275.1 500.8 270.6 500.9 276.7 499.3 275.6 502.1 278.8 498.7 273.2 504.2 273.4 496.0 273.7 500.0 270.5 498.6" stroke="#6a7396" stroke-width="0.6" fill="none" stroke-opacity="0.8"/>
<path d="M276.7 500.9 275.8 499.3 275.8 499.5 275.9 500.3 275.1 498.8 275.4 495.8 274.4 501.9 275.9 500.1 277.1 499.4 275.9 499.5" stroke="#546897" stroke-width="0.6" fill="none" stroke-opacity="0.8"/>
<circle cx="372.9" cy="496.8" r="10.4" fill="#f5c0c0" stroke="#ad9392" stroke-width="1.6"/>
<path d="M372.8 499.2 371.8 495.9 372.8 496.4 374.0 500.5 371.4 494.3 370.8 495.8 376.3 496.8 371.8 496.1 370.8 494.3 371.9 495.6 373.3 495.5 372.0 500.6 369.0 491.8 377.2 495.4" stroke="#786689" stroke-width="0.6" fill="none" stroke-opacity="0.8"/>
<path d="M374.6 498.2 376.8 496.5 374.6 499.3 372.4 499.6 375.0 497.8 376.3 498.6 374.8 499.8 374.4 496.7 376.9 498.9 376.3 495.6" stroke="#5f5f8e" stroke-width="0.6" fill="none" stroke-opacity="0.8"/>
<circle cx="427.9" cy="489.1" r="10.4" fill="#f5f0c8" stroke="#adae96" stroke-width="1.6"/>
<path d="M429.4 490.7 425.7 490.9 431.9 491.4 429.3 486.7 426.6 490.1 427.6 490.7 426.6 493.0 428.7 487.6 429.1 492.4 432.1 488.7 430.5 490.5 430.7 494.8 428.0 491.3 431.7 488.2" stroke="#78778c" stroke-width="0.6" fill="none" stroke-opacity="0.8"/>
<path d="M428.7 488.6 430.7 489.6 427.9 490.5 426.9 489.2 427.6 489.5 426.6 490.4 428.6 490.1 429.6 489.5 428.4 487.6 432.0 490.3" stroke="#5f6b90" stroke-width="0.6" fill="none" stroke-opacity="0.8"/>
<circle cx="491.1" cy="484.0" r="10.4" fill="#f8ecc8" stroke="#afab96" stroke-width="1.6"/>
<path d="M492.3 479.5 491.5 484.7 492.2 484.7 491.7 486.1 489.7 488.7 490.5 483.1 489.6 479.2 495.3 484.4 490.8 479.4 492.8 484.5 493.0 480.6 489.3 485.7 488.0 482.7 488.4 484.9" stroke="#79758c" stroke-width="0.6" fill="none" stroke-opacity="0.8"/>
<path d="M491.2 483.5 491.9 481.1 488.9 482.7 492.0 480.2 488.9 483.7 491.6 483.6 492.2 480.3 492.3 484.6 490.5 482.4 491.4 482.7" stroke="#5f6a90" stroke-width="0.6" fill="none" stroke-opacity="0.8"/>
<circle cx="406.7" cy="512.0" r="10.4" fill="#c8e4ec" stroke="#94a7aa" stroke-width="1.6"/>
<path d="M409.7 506.3 406.8 512.5 407.2 508.5 408.6 507.6 408.0 510.6 409.1 505.6 411.0 514.8 406.4 513.6 405.4 508.5 411.6 506.5 408.6 512.6 407.0 510.3 410.5 512.5 403.3 512.0" stroke="#697298" stroke-width="0.6" fill="none" stroke-opacity="0.8"/>
<path d="M405.4 510.8 404.8 509.1 405.6 511.1 406.5 510.6 405.8 513.3 405.7 510.9 404.8 510.7 406.5 509.6 405.7 511.2 403.7 510.4" stroke="#536899" stroke-width="0.6" fill="none" stroke-opacity="0.8"/>
<circle cx="304.5" cy="519.6" r="10.4" fill="#eaf0d0" stroke="#a7ae9a" stroke-width="1.6"/>
<path d="M303.7 520.4 303.9 523.3 302.5 518.4 299.1 517.8 300.8 519.5 302.6 519.6 304.0 521.0 305.2 521.8 304.2 518.3 307.3 518.4 300.1 521.8 303.1 519.4 305.0 519.3 302.0 517.2" stroke="#75778f" stroke-width="0.6" fill="none" stroke-opacity="0.8"/>
<path d="M304.1 519.3 303.9 523.4 303.7 518.2 304.5 519.6 302.5 519.3 304.8 519.6 304.6 519.2 303.1 519.1 306.2 518.6 303.7 519.1" stroke="#5c6b92" stroke-width="0.6" fill="none" stroke-opacity="0.8"/>
<circle cx="352.3" cy="521.7" r="10.4" fill="#b0b0e0" stroke="#878aa3" stroke-width="1.6"/>
<path d="M347.1 521.4 352.8 523.4 352.5 521.4 351.0 523.6 349.7 523.1 355.7 524.9 352.3 521.1 352.1 518.5 352.2 523.2 356.1 526.5 350.4 526.8 351.9 523.2 351.0 522.8 353.0 522.9" stroke="#606094" stroke-width="0.6" fill="none" stroke-opacity="0.8"/>
<path d="M353.3 522.8 354.2 523.4 351.8 522.4 355.9 524.1 353.0 522.2 352.7 523.4 355.8 523.3 353.8 525.3 354.9 520.0 351.5 520.6" stroke="#4d5b96" stroke-width="0.6" fill="none" stroke-opacity="0.8"/>
<circle cx="82.7" cy="535.2" r="10.4" fill="#e0ecc8" stroke="#a2ab96" stroke-width="1.6"/>
<path d="M83.8 535.1 88.1 535.0 84.4 529.8 83.0 535.8 85.8 536.1 85.7 534.7 85.2 538.3 84.8 539.6 85.2 530.5 84.3 535.7 83.4 535.2 82.5 537.6 84.3 535.9 78.9 533.5" stroke="#71758c" stroke-width="0.6" fill="none" stroke-opacity="0.8"/>
<path d="M81.1 534.9 80.6 535.0 80.2 535.5 84.4 535.6 80.7 533.2 82.3 534.7 80.8 536.5 82.0 534.3 77.8 533.5 82.0 533.8" stroke="#596a90" stroke-width="0.6" fill="none" stroke-opacity="0.8"/>
<circle cx="151.7" cy="543.7" r="10.4" fill="#9898d0" stroke="#7a7d9a" stroke-width="1.6"/>
<path d="M156.9 543.5 150.7 539.2 152.4 542.3 149.9 540.4 151.1 548.3 151.2 544.2 150.6 542.0 150.5 546.4 153.4 547.2 154.4 543.9 149.4 540.7 151.6 547.8 153.2 540.6 155.0 544.8" stroke="#58588f" stroke-width="0.6" fill="none" stroke-opacity="0.8"/>
<path d="M151.1 542.8 153.1 541.6 153.8 541.7 150.6 543.6 149.3 540.4 147.4 542.2 150.4 541.8 154.3 543.1 150.6 543.5 147.7 541.8" stroke="#475592" stroke-width="0.6" fill="none" stroke-opacity="0.8"/>
<circle cx="322.0" cy="541.5" r="10.4" fill="#eef2d4" stroke="#a9af9d" stroke-width="1.6"/>
<path d="M321.0 537.1 320.9 539.4 321.4 542.9 327.3 540.9 323.5 541.2 322.0 540.2 322.6 541.2 318.7 538.2 323.7 540.2 326.0 542.6 321.0 544.4 322.5 541.7 322.5 542.3 319.2 541.9" stroke="#767790" stroke-width="0.6" fill="none" stroke-opacity="0.8"/>
<path d="M324.6 544.1 320.8 542.7 319.5 543.0 321.0 539.4 322.6 539.6 322.8 542.5 323.1 540.0 323.3 541.3 322.9 544.6 321.2 544.1" stroke="#5d6b93" stroke-width="0.6" fill="none" stroke-opacity="0.8"/>
<circle cx="393.5" cy="540.0" r="10.4" fill="#b0b0e0" stroke="#878aa3" stroke-width="1.6"/>
<path d="M393.0 539.4 395.0 541.6 393.9 540.5 396.1 539.8 392.9 537.0 398.0 537.3 395.4 539.2 389.8 539.9 391.4 538.4 398.3 540.8 391.0 541.7 394.2 541.9 393.2 544.6 392.9 536.9" stroke="#606094" stroke-width="0.6" fill="none" stroke-opacity="0.8"/>
<path d="M392.6 538.2 396.0 539.3 393.5 540.7 394.4 538.3 392.3 538.2 392.8 539.8 390.9 541.3 393.4 542.9 396.6 539.6 396.4 540.8" stroke="#4d5b96" stroke-width="0.6" fill="none" stroke-opacity="0.8"/>
<circle cx="500.6" cy="526.0" r="10.4" fill="#cce8cc" stroke="#97a998" stroke-width="1.6"/>
<path d="M498.5 529.2 503.3 525.6 501.9 529.4 501.7 526.0 499.3 532.3 499.9 525.5 500.2 529.4 503.9 524.4 504.0 529.1 501.3 525.4 503.6 530.5 503.0 526.3 499.1 532.3 501.0 527.2" stroke="#6a748d" stroke-width="0.6" fill="none" stroke-opacity="0.8"/>
<path d="M496.8 526.2 499.2 525.9 497.4 528.5 499.5 527.3 501.0 526.0 499.6 525.9 500.0 526.8 499.4 525.6 500.6 525.7 497.6 524.9" stroke="#546991" stroke-width="0.6" fill="none" stroke-opacity="0.8"/>
<circle cx="477.5" cy="535.5" r="10.4" fill="#f8d0b8" stroke="#af9c8d" stroke-width="1.6"/>
<path d="M478.1 536.5 478.3 536.4 476.3 533.2 478.3 534.0 482.4 536.0 481.8 534.6 479.1 534.5 478.6 534.5 474.3 531.2 479.0 529.4 476.8 534.8 476.8 535.4 482.8 531.0 480.7 529.8" stroke="#796b86" stroke-width="0.6" fill="none" stroke-opacity="0.8"/>
<path d="M479.3 535.6 477.8 535.5 475.4 535.9 477.5 531.8 479.5 536.9 478.7 534.3 477.0 532.2 476.4 536.9 477.0 533.6 477.4 535.5" stroke="#5f638c" stroke-width="0.6" fill="none" stroke-opacity="0.8"/>
<circle cx="541.5" cy="533.0" r="10.4" fill="#c8e4f4" stroke="#94a7ae" stroke-width="1.6"/>
<path d="M543.0 534.3 542.8 534.6 543.6 532.7 539.8 535.5 540.2 536.4 545.0 535.5 547.6 532.2 547.7 534.0 546.3 532.1 542.7 535.4 544.7 536.6 538.7 532.3 542.3 534.4 543.4 532.8" stroke="#69729b" stroke-width="0.6" fill="none" stroke-opacity="0.8"/>
<path d="M542.5 532.7 541.6 533.3 541.5 532.4 542.7 536.0 541.8 532.9 539.5 534.2 543.9 536.2 544.4 531.4 542.2 534.1 538.6 533.7" stroke="#53689b" stroke-width="0.6" fill="none" stroke-opacity="0.8"/>
<circle cx="619.7" cy="531.3" r="10.4" fill="#f8d8b8" stroke="#afa08d" stroke-width="1.6"/>
<path d="M614.7 529.4 621.8 532.3 622.1 526.5 618.9 526.9 617.3 528.6 617.7 526.2 616.0 532.6 614.2 528.4 619.0 529.1 618.9 530.5 622.0 532.4 622.3 528.6 620.1 531.6 621.7 526.0" stroke="#796e86" stroke-width="0.6" fill="none" stroke-opacity="0.8"/>
<path d="M621.8 530.6 622.1 526.7 619.3 531.1 618.6 527.0 617.6 529.5 620.2 531.3 618.2 529.4 622.2 532.7 620.9 528.2 617.7 530.4" stroke="#5f658c" stroke-width="0.6" fill="none" stroke-opacity="0.8"/>
<circle cx="592.8" cy="434.3" r="10.4" fill="#c8e0f0" stroke="#94a5ac" stroke-width="1.6"/>
<path d="M593.0 431.1 590.4 433.8 592.4 434.8 595.6 434.7 587.2 435.4 587.9 434.9 587.9 438.6 589.5 438.7 592.7 438.7 593.2 431.2 596.2 436.3 592.9 437.2 587.5 438.2 589.2 430.9" stroke="#69719a" stroke-width="0.6" fill="none" stroke-opacity="0.8"/>
<path d="M592.9 436.7 597.2 434.3 592.7 435.7 593.7 437.1 595.4 437.5 593.9 434.8 594.3 432.2 595.4 431.4 593.8 432.7 594.5 434.9" stroke="#53679a" stroke-width="0.6" fill="none" stroke-opacity="0.8"/>
<circle cx="671.4" cy="439.5" r="10.4" fill="#f8e0c0" stroke="#afa592" stroke-width="1.6"/>
<path d="M672.7 439.8 671.9 434.8 676.0 439.1 668.7 437.2 672.8 438.8 674.2 438.1 674.8 434.6 676.4 441.9 672.1 439.1 675.5 438.4 667.5 435.9 670.4 437.3 673.3 439.2 668.2 439.1" stroke="#797189" stroke-width="0.6" fill="none" stroke-opacity="0.8"/>
<path d="M670.9 441.8 673.5 437.5 673.3 436.7 672.1 439.1 672.0 438.8 673.0 440.2 670.2 440.1 672.7 440.0 670.8 439.0 672.3 442.8" stroke="#5f678e" stroke-width="0.6" fill="none" stroke-opacity="0.8"/>
<circle cx="749.0" cy="453.7" r="10.4" fill="#a8a8dc" stroke="#8386a1" stroke-width="1.6"/>
<path d="M746.4 453.1 747.0 454.0 750.2 452.9 753.6 450.4 751.7 456.8 752.9 453.1 745.5 451.7 747.0 453.0 746.5 450.8 750.1 452.1 750.0 447.4 750.7 452.1 749.1 452.2 745.7 451.3" stroke="#5d5d93" stroke-width="0.6" fill="none" stroke-opacity="0.8"/>
<path d="M748.0 453.2 744.8 451.3 751.6 453.4 746.5 452.5 746.3 452.1 747.9 452.6 746.7 456.0 744.9 452.2 746.9 451.1 745.5 451.3" stroke="#4b5995" stroke-width="0.6" fill="none" stroke-opacity="0.8"/>
<circle cx="717.4" cy="484.7" r="10.4" fill="#d8ecc8" stroke="#9dab96" stroke-width="1.6"/>
<path d="M715.7 488.5 717.6 486.7 718.0 485.0 718.1 487.7 720.1 481.6 716.5 485.4 717.0 486.7 717.2 485.9 717.4 488.3 719.3 484.9 718.7 486.9 714.1 487.9 717.1 486.1 716.9 480.7" stroke="#6e758c" stroke-width="0.6" fill="none" stroke-opacity="0.8"/>
<path d="M716.2 485.6 719.0 481.7 717.5 484.1 719.7 483.7 720.3 484.2 718.4 484.0 719.6 485.1 720.2 484.8 717.2 484.8 717.5 487.1" stroke="#576a90" stroke-width="0.6" fill="none" stroke-opacity="0.8"/>
<circle cx="701.4" cy="517.0" r="10.4" fill="#b0b0e0" stroke="#878aa3" stroke-width="1.6"/>
<path d="M696.8 519.3 700.2 515.9 701.4 515.1 700.3 513.9 701.7 513.1 696.8 514.8 702.6 513.3 696.7 512.5 703.1 520.1 699.1 516.7 700.3 510.2 697.4 514.9 702.1 513.4 700.6 515.6" stroke="#606094" stroke-width="0.6" fill="none" stroke-opacity="0.8"/>
<path d="M702.5 517.0 701.4 515.8 700.9 512.3 701.2 515.0 699.3 514.3 703.0 519.4 702.0 514.1 701.2 517.6 704.6 514.7 701.9 514.9" stroke="#4d5b96" stroke-width="0.6" fill="none" stroke-opacity="0.8"/>
<circle cx="766.0" cy="550.2" r="10.4" fill="#f2eec8" stroke="#abad96" stroke-width="1.6"/>
<path d="M765.6 552.5 767.4 551.8 766.4 546.4 767.2 551.8 766.9 548.5 762.3 551.8 769.3 551.0 763.1 551.3 764.3 551.9 772.0 551.5 766.4 549.4 763.3 548.2 767.0 547.6 765.9 547.6" stroke="#77768c" stroke-width="0.6" fill="none" stroke-opacity="0.8"/>
<path d="M768.2 549.9 766.7 549.5 763.4 549.4 767.8 550.3 766.7 549.6 765.3 551.2 766.3 549.2 766.8 550.4 764.2 551.9 767.9 553.2" stroke="#5e6a90" stroke-width="0.6" fill="none" stroke-opacity="0.8"/>
<circle cx="110.3" cy="578.6" r="10.4" fill="#c0ccf0" stroke="#909aac" stroke-width="1.6"/>
<path d="M109.6 578.1 109.1 580.3 110.5 582.7 108.5 578.2 107.8 583.5 106.7 575.2 112.0 579.3 107.6 576.9 107.5 581.4 108.6 580.4 114.4 578.9 110.3 580.5 111.7 580.3 112.0 580.2" stroke="#666a9a" stroke-width="0.6" fill="none" stroke-opacity="0.8"/>
<path d="M108.7 577.5 108.8 576.7 108.3 578.2 108.6 577.8 109.4 577.1 106.3 578.7 110.0 578.6 108.0 578.0 109.8 576.9 109.3 577.6" stroke="#51629a" stroke-width="0.6" fill="none" stroke-opacity="0.8"/>
<circle cx="323.8" cy="584.2" r="10.4" fill="#f8dcc0" stroke="#afa392" stroke-width="1.6"/>
<path d="M324.2 584.4 324.3 587.4 322.7 583.7 320.8 586.4 324.7 581.2 321.6 588.7 325.5 583.1 327.6 582.8 323.0 585.3 323.6 585.0 325.0 587.2 323.6 583.6 322.7 583.2 327.5 584.3" stroke="#797089" stroke-width="0.6" fill="none" stroke-opacity="0.8"/>
<path d="M320.7 583.8 323.6 584.2 322.6 583.5 323.9 580.3 324.6 583.5 323.9 582.9 322.8 580.6 323.0 581.7 325.2 587.0 321.5 582.2" stroke="#5f668e" stroke-width="0.6" fill="none" stroke-opacity="0.8"/>
<circle cx="352.4" cy="591.7" r="10.4" fill="#c8e4c8" stroke="#94a796" stroke-width="1.6"/>
<path d="M356.9 591.9 353.7 589.6 351.2 590.3 353.7 591.3 350.4 593.9 351.8 592.4 348.8 591.0 350.6 589.3 351.4 592.1 350.2 592.4 351.5 590.8 351.9 590.7 351.5 589.4 346.7 591.5" stroke="#69728c" stroke-width="0.6" fill="none" stroke-opacity="0.8"/>
<path d="M352.5 590.3 351.1 591.1 353.3 590.9 352.0 589.8 351.1 589.4 351.6 588.8 349.5 592.6 351.6 592.2 351.6 590.4 351.2 590.3" stroke="#536890" stroke-width="0.6" fill="none" stroke-opacity="0.8"/>
<circle cx="406.2" cy="574.2" r="10.4" fill="#c0e4f0" stroke="#90a7ac" stroke-width="1.6"/>
<path d="M405.9 574.6 405.0 570.6 409.1 576.8 404.3 578.8 407.6 575.4 406.4 575.2 407.5 578.3 406.4 580.3 409.5 571.5 411.3 574.7 402.7 576.7 406.8 575.2 402.0 577.9 406.3 575.4" stroke="#66729a" stroke-width="0.6" fill="none" stroke-opacity="0.8"/>
<path d="M406.6 574.9 403.7 573.6 405.5 572.1 404.4 576.4 409.1 572.1 408.0 577.3 404.3 576.8 405.6 575.4 406.7 575.4 407.0 577.4" stroke="#51689a" stroke-width="0.6" fill="none" stroke-opacity="0.8"/>
<circle cx="461.0" cy="572.8" r="10.4" fill="#e0ecd0" stroke="#a2ab9a" stroke-width="1.6"/>
<path d="M458.4 574.8 460.5 573.4 462.9 577.5 461.2 573.4 463.4 574.0 462.9 573.9 465.9 570.3 461.6 578.0 461.3 572.6 463.4 571.0 464.0 573.7 460.5 572.4 465.5 575.6 458.4 572.5" stroke="#71758f" stroke-width="0.6" fill="none" stroke-opacity="0.8"/>
<path d="M460.6 573.3 462.0 570.2 461.4 576.8 462.4 576.5 457.1 572.3 461.2 570.2 463.0 574.9 458.9 574.8 462.4 571.3 457.7 572.2" stroke="#596a92" stroke-width="0.6" fill="none" stroke-opacity="0.8"/>
<circle cx="560.7" cy="556.0" r="10.4" fill="#c8e4dc" stroke="#94a7a1" stroke-width="1.6"/>
<path d="M556.0 553.1 559.9 554.5 560.3 559.3 556.5 559.0 560.7 555.9 561.7 559.7 560.9 557.8 559.4 551.8 560.8 555.4 560.8 557.3 559.6 555.1 561.1 555.9 564.3 552.4 562.2 557.0" stroke="#697293" stroke-width="0.6" fill="none" stroke-opacity="0.8"/>
<path d="M560.2 556.0 564.5 557.3 561.6 554.5 562.3 557.2 561.9 557.2 561.3 556.9 565.0 556.1 563.6 558.7 559.9 559.2 561.9 558.7" stroke="#536895" stroke-width="0.6" fill="none" stroke-opacity="0.8"/>
<circle cx="685.1" cy="566.2" r="10.4" fill="#c8e4d8" stroke="#94a79f" stroke-width="1.6"/>
<path d="M686.2 567.6 685.5 566.3 684.1 562.8 688.5 569.2 686.6 567.0 680.7 565.7 688.4 569.9 687.6 566.4 687.5 568.9 686.0 570.8 681.6 569.3 685.6 565.5 685.6 566.6 689.5 569.2" stroke="#697291" stroke-width="0.6" fill="none" stroke-opacity="0.8"/>
<path d="M687.3 569.0 687.7 564.9 684.1 566.1 682.4 566.1 684.4 566.0 684.1 565.5 685.2 565.3 687.5 568.7 682.8 563.5 685.7 564.0" stroke="#536894" stroke-width="0.6" fill="none" stroke-opacity="0.8"/>
<circle cx="766.0" cy="582.2" r="10.4" fill="#8080c0" stroke="#6d7092" stroke-width="1.6"/>
<path d="M765.5 580.4 763.7 579.2 761.7 583.2 765.3 578.1 767.6 582.0 766.2 580.3 769.3 583.6 765.6 582.6 763.7 582.8 763.9 578.6 765.2 578.9 765.9 577.3 764.8 583.0 761.8 580.8" stroke="#4f4f89" stroke-width="0.6" fill="none" stroke-opacity="0.8"/>
<path d="M764.4 584.6 764.1 584.2 765.1 580.5 765.8 582.3 769.9 583.2 768.2 583.4 769.5 582.2 767.3 583.7 768.0 580.4 766.6 582.1" stroke="#414f8e" stroke-width="0.6" fill="none" stroke-opacity="0.8"/>
<circle cx="458.6" cy="599.2" r="10.4" fill="#c8e4f4" stroke="#94a7ae" stroke-width="1.6"/>
<path d="M462.5 599.4 457.8 604.8 458.2 600.5 461.3 599.3 457.4 600.4 459.5 599.8 456.4 596.8 461.7 602.3 457.6 600.1 457.2 600.6 460.3 601.7 457.9 599.5 459.2 604.0 457.5 596.4" stroke="#69729b" stroke-width="0.6" fill="none" stroke-opacity="0.8"/>
<path d="M456.4 601.5 457.6 597.9 459.9 601.8 460.8 599.5 458.0 598.9 459.3 596.7 459.5 597.4 459.7 595.8 455.3 598.9 457.5 599.2" stroke="#53689b" stroke-width="0.6" fill="none" stroke-opacity="0.8"/>
<circle cx="517.7" cy="603.1" r="10.4" fill="#c8e4e8" stroke="#94a7a8" stroke-width="1.6"/>
<path d="M519.8 603.1 519.9 606.5 519.3 604.2 519.0 600.1 521.6 599.4 517.4 603.5 516.3 599.6 521.4 607.0 518.5 602.3 519.5 603.4 515.4 600.4 520.6 603.4 518.8 603.1 515.7 600.8" stroke="#697297" stroke-width="0.6" fill="none" stroke-opacity="0.8"/>
<path d="M517.0 603.2 516.7 607.0 515.1 602.4 517.2 603.1 515.7 606.6 518.5 603.3 516.8 604.8 518.1 606.0 516.5 599.6 517.0 602.9" stroke="#536898" stroke-width="0.6" fill="none" stroke-opacity="0.8"/>
<circle cx="606.2" cy="599.3" r="10.4" fill="#c8e0f4" stroke="#94a5ae" stroke-width="1.6"/>
<path d="M609.5 602.7 607.8 602.6 603.5 602.2 606.9 598.7 607.4 602.1 606.3 599.7 605.0 595.3 607.2 596.7 606.0 599.1 608.7 599.4 605.4 596.5 607.6 599.2 606.3 598.2 602.9 603.6" stroke="#69719b" stroke-width="0.6" fill="none" stroke-opacity="0.8"/>
<path d="M606.2 599.0 606.6 602.7 606.5 600.7 604.7 599.1 606.2 600.0 607.4 598.9 608.9 599.9 606.3 600.7 604.6 603.8 606.6 601.4" stroke="#53679b" stroke-width="0.6" fill="none" stroke-opacity="0.8"/>
<circle cx="685.1" cy="598.0" r="10.4" fill="#c0e0d8" stroke="#90a59f" stroke-width="1.6"/>
<path d="M686.5 600.6 684.6 599.4 684.5 601.6 684.2 596.1 686.9 599.0 689.3 597.9 680.9 599.5 685.3 596.4 681.6 600.2 686.7 596.2 683.5 594.2 684.3 601.6 683.3 593.7 682.2 593.6" stroke="#667191" stroke-width="0.6" fill="none" stroke-opacity="0.8"/>
<path d="M687.6 599.1 684.2 599.6 684.1 599.1 683.0 600.1 685.8 600.0 682.2 596.3 684.0 599.0 683.9 595.5 686.9 597.6 684.7 600.2" stroke="#516794" stroke-width="0.6" fill="none" stroke-opacity="0.8"/>
<circle cx="295.8" cy="620.0" r="10.4" fill="#c8e4c8" stroke="#94a796" stroke-width="1.6"/>
<path d="M291.4 621.8 293.7 621.7 296.1 621.7 291.8 622.2 295.2 621.6 293.6 620.3 297.1 620.7 292.9 622.6 299.8 623.1 298.8 620.4 294.8 625.0 295.6 621.7 293.9 622.4 294.1 616.8" stroke="#69728c" stroke-width="0.6" fill="none" stroke-opacity="0.8"/>
<path d="M295.7 623.7 298.8 622.4 294.3 622.9 296.6 621.7 294.3 621.4 295.6 619.9 295.4 619.2 295.3 619.1 298.9 620.7 295.6 620.3" stroke="#536890" stroke-width="0.6" fill="none" stroke-opacity="0.8"/>
<circle cx="432.0" cy="621.3" r="10.4" fill="#c8e0f0" stroke="#94a5ac" stroke-width="1.6"/>
<path d="M430.1 626.5 436.3 620.1 432.4 619.9 434.0 623.7 435.4 625.4 436.5 625.1 430.1 623.2 435.0 621.7 432.8 621.0 427.4 623.3 433.5 622.3 434.8 621.3 431.6 621.4 431.1 623.0" stroke="#69719a" stroke-width="0.6" fill="none" stroke-opacity="0.8"/>
<path d="M433.3 622.7 433.4 622.7 434.9 621.5 435.2 620.7 432.3 621.3 432.2 623.4 431.4 622.2 433.4 622.3 434.1 624.2 434.4 624.8" stroke="#53679a" stroke-width="0.6" fill="none" stroke-opacity="0.8"/>
<circle cx="482.0" cy="620.0" r="10.4" fill="#c8e4cc" stroke="#94a798" stroke-width="1.6"/>
<path d="M484.3 616.5 480.7 620.2 478.4 616.2 485.5 615.4 482.3 619.1 480.1 616.9 479.8 621.1 482.2 614.5 484.1 621.1 482.0 619.6 481.6 621.9 482.6 622.1 481.3 620.4 481.5 619.8" stroke="#69728d" stroke-width="0.6" fill="none" stroke-opacity="0.8"/>
<path d="M480.7 622.9 482.6 618.5 484.8 621.3 483.6 622.3 484.1 620.5 485.0 618.6 482.6 621.7 484.7 620.3 484.0 621.3 481.2 623.5" stroke="#536891" stroke-width="0.6" fill="none" stroke-opacity="0.8"/>
<circle cx="562.7" cy="621.0" r="10.4" fill="#f8f0d0" stroke="#afae9a" stroke-width="1.6"/>
<path d="M561.0 625.8 565.0 621.2 564.7 621.1 560.8 617.7 564.7 618.3 566.1 623.8 564.6 621.2 566.0 619.7 563.2 621.5 564.5 618.7 560.7 618.1 565.6 618.4 563.5 624.3 564.7 620.9" stroke="#79778f" stroke-width="0.6" fill="none" stroke-opacity="0.8"/>
<path d="M559.9 619.2 564.2 621.3 561.7 620.7 559.4 622.7 562.7 622.1 560.5 619.8 561.7 624.3 560.9 622.8 561.6 623.8 562.1 617.9" stroke="#5f6b92" stroke-width="0.6" fill="none" stroke-opacity="0.8"/>
<circle cx="549.6" cy="636.2" r="10.4" fill="#b8c0e8" stroke="#8c93a8" stroke-width="1.6"/>
<path d="M553.2 634.1 548.0 633.1 552.1 637.1 549.6 635.2 549.1 640.3 552.3 637.0 547.1 639.1 548.0 637.2 550.5 635.6 550.5 635.4 549.3 633.6 548.1 640.1 550.4 634.6 551.1 635.6" stroke="#636697" stroke-width="0.6" fill="none" stroke-opacity="0.8"/>
<path d="M553.5 637.3 551.7 636.4 548.2 635.1 551.4 638.9 550.5 636.2 549.9 636.5 549.2 636.5 550.1 636.2 550.1 637.8 550.3 639.3" stroke="#4f5f98" stroke-width="0.6" fill="none" stroke-opacity="0.8"/>
<circle cx="701.4" cy="630.3" r="10.4" fill="#f5c8b0" stroke="#ad9889" stroke-width="1.6"/>
<path d="M697.5 630.2 701.0 632.1 701.6 633.5 699.9 629.7 701.9 630.2 704.5 632.9 703.9 628.6 700.2 631.6 702.9 627.9 704.1 624.6 697.9 630.0 699.1 631.5 704.1 626.5 700.9 628.1" stroke="#786983" stroke-width="0.6" fill="none" stroke-opacity="0.8"/>
<path d="M701.4 629.7 701.7 630.0 699.3 629.8 700.7 633.0 699.3 627.0 701.5 630.0 702.1 631.0 701.9 628.6 703.9 631.0 699.5 632.1" stroke="#5f618a" stroke-width="0.6" fill="none" stroke-opacity="0.8"/>
<circle cx="348.8" cy="641.9" r="10.4" fill="#b0b0e0" stroke="#878aa3" stroke-width="1.6"/>
<path d="M349.5 641.5 343.4 642.3 350.1 639.5 345.2 643.5 347.1 641.3 347.1 644.6 351.2 638.2 352.0 643.6 344.0 643.3 346.9 643.0 349.1 645.5 342.2 641.4 347.1 641.7 348.5 642.9" stroke="#606094" stroke-width="0.6" fill="none" stroke-opacity="0.8"/>
<path d="M347.9 644.5 350.8 639.1 349.4 641.5 349.3 640.8 351.2 640.0 350.9 642.7 348.8 642.3 349.3 639.5 348.0 645.0 346.7 643.4" stroke="#4d5b96" stroke-width="0.6" fill="none" stroke-opacity="0.8"/>
<circle cx="388.7" cy="654.6" r="10.4" fill="#c0d8f0" stroke="#90a0ac" stroke-width="1.6"/>
<path d="M385.1 657.3 383.7 656.3 388.8 654.8 385.8 657.4 388.4 655.0 388.7 655.0 386.5 658.3 387.3 655.3 389.9 659.6 384.8 658.6 393.3 654.6 389.1 653.9 388.3 654.3 388.5 654.8" stroke="#666e9a" stroke-width="0.6" fill="none" stroke-opacity="0.8"/>
<path d="M388.6 654.0 388.4 655.4 387.7 655.1 390.1 652.7 391.0 652.5 386.7 655.8 389.6 656.4 385.9 653.7 389.4 654.8 388.1 654.1" stroke="#51659a" stroke-width="0.6" fill="none" stroke-opacity="0.8"/>
<circle cx="652.8" cy="663.2" r="10.4" fill="#a0a8d8" stroke="#7e869f" stroke-width="1.6"/>
<path d="M654.8 664.1 654.6 660.0 652.0 661.5 656.8 665.1 652.2 662.6 653.0 667.0 652.3 663.1 652.9 665.7 647.4 661.8 652.2 660.9 651.3 662.8 647.1 662.5 652.5 664.6 656.8 661.8" stroke="#5b5d91" stroke-width="0.6" fill="none" stroke-opacity="0.8"/>
<path d="M653.2 665.0 653.4 665.1 654.5 662.2 654.9 666.7 652.8 663.1 653.4 663.6 655.3 664.5 651.9 664.3 653.1 663.9 652.3 664.3" stroke="#495994" stroke-width="0.6" fill="none" stroke-opacity="0.8"/>
<circle cx="733.4" cy="663.2" r="10.4" fill="#f8ecc0" stroke="#afab92" stroke-width="1.6"/>
<path d="M734.8 663.7 736.3 665.3 733.1 660.9 732.8 665.4 731.0 661.6 731.0 663.3 731.9 660.0 734.6 662.9 733.6 663.3 733.4 663.6 734.4 664.0 730.5 660.5 733.0 663.6 732.9 658.4" stroke="#797589" stroke-width="0.6" fill="none" stroke-opacity="0.8"/>
<path d="M733.0 661.0 732.2 664.5 732.7 662.0 730.0 662.3 731.5 662.5 733.5 661.8 732.6 662.6 734.0 665.5 732.7 662.4 731.4 662.5" stroke="#5f6a8e" stroke-width="0.6" fill="none" stroke-opacity="0.8"/>
<circle cx="434.5" cy="668.2" r="10.4" fill="#e8f0d0" stroke="#a6ae9a" stroke-width="1.6"/>
<path d="M436.8 669.2 435.5 664.9 436.7 666.9 432.2 667.6 437.0 670.3 428.6 665.3 435.0 665.0 433.9 668.2 434.9 668.4 433.3 665.0 433.0 662.1 433.4 670.2 433.5 667.5 431.2 670.6" stroke="#74778f" stroke-width="0.6" fill="none" stroke-opacity="0.8"/>
<path d="M437.8 666.3 435.3 668.8 434.6 666.4 439.4 669.5 437.2 667.0 436.9 670.5 435.8 671.9 437.0 668.8 435.6 668.3 438.0 668.3" stroke="#5b6b92" stroke-width="0.6" fill="none" stroke-opacity="0.8"/>
<circle cx="293.7" cy="677.3" r="10.4" fill="#c8e4d0" stroke="#94a79a" stroke-width="1.6"/>
<path d="M292.9 674.0 290.1 680.1 293.7 678.2 293.0 674.0 293.3 679.9 296.8 678.4 297.9 679.2 293.2 681.2 292.8 679.5 299.4 677.6 293.8 683.6 291.3 678.5 294.3 678.6 298.5 677.7" stroke="#69728f" stroke-width="0.6" fill="none" stroke-opacity="0.8"/>
<path d="M293.5 679.7 294.3 676.7 293.7 678.9 295.3 677.1 291.9 677.8 295.2 676.7 293.6 677.6 295.8 674.7 294.3 676.1 295.1 677.2" stroke="#536892" stroke-width="0.6" fill="none" stroke-opacity="0.8"/>
<circle cx="473.1" cy="680.6" r="10.4" fill="#c8e4dc" stroke="#94a7a1" stroke-width="1.6"/>
<path d="M474.2 679.5 475.1 682.2 471.9 683.2 473.1 677.9 475.1 679.6 474.5 681.3 473.4 682.6 473.8 678.1 471.3 677.9 474.8 680.4 473.0 679.1 477.3 681.3 472.5 677.5 471.2 683.1" stroke="#697293" stroke-width="0.6" fill="none" stroke-opacity="0.8"/>
<path d="M471.8 679.9 475.4 678.4 471.3 679.8 471.5 680.3 475.0 679.9 474.5 679.1 473.0 677.1 472.6 680.4 472.4 679.5 470.8 678.9" stroke="#536895" stroke-width="0.6" fill="none" stroke-opacity="0.8"/>
<circle cx="386.7" cy="685.0" r="10.4" fill="#c8e0f0" stroke="#94a5ac" stroke-width="1.6"/>
<path d="M384.4 687.2 390.5 685.9 387.9 684.0 386.4 685.9 387.8 682.6 385.8 686.2 385.4 688.3 385.9 686.1 385.8 682.1 386.1 685.5 386.3 686.5 385.9 683.0 386.7 689.4 387.1 684.4" stroke="#69719a" stroke-width="0.6" fill="none" stroke-opacity="0.8"/>
<path d="M388.0 686.5 386.0 686.1 388.5 686.5 386.4 686.7 386.7 688.2 387.0 685.0 386.6 686.6 383.0 688.6 387.5 683.5 383.1 685.6" stroke="#53679a" stroke-width="0.6" fill="none" stroke-opacity="0.8"/>
<circle cx="489.2" cy="695.7" r="10.4" fill="#a8a8dc" stroke="#8386a1" stroke-width="1.6"/>
<path d="M488.0 695.2 489.1 696.0 491.2 693.5 491.7 700.4 487.2 696.0 488.8 700.3 492.4 696.1 488.7 694.9 489.6 696.2 487.7 697.9 492.2 697.2 489.7 696.8 488.6 700.1 492.4 694.7" stroke="#5d5d93" stroke-width="0.6" fill="none" stroke-opacity="0.8"/>
<path d="M489.6 696.5 487.6 695.9 489.2 696.8 489.0 695.4 486.2 699.1 487.6 697.1 487.1 695.8 487.6 695.6 487.2 694.0 487.3 699.8" stroke="#4b5995" stroke-width="0.6" fill="none" stroke-opacity="0.8"/>
<circle cx="595.7" cy="702.7" r="10.4" fill="#a8acdc" stroke="#8388a1" stroke-width="1.6"/>
<path d="M598.2 700.6 593.3 704.2 593.4 699.7 598.9 700.5 594.4 702.3 592.8 707.1 593.1 705.2 594.9 702.5 595.6 701.7 595.6 702.7 597.5 701.3 595.4 697.0 596.5 698.6 595.5 707.3" stroke="#5d5f93" stroke-width="0.6" fill="none" stroke-opacity="0.8"/>
<path d="M594.8 702.3 596.9 704.8 597.2 706.0 597.4 705.2 592.2 701.9 595.8 703.3 594.3 702.5 596.9 703.7 595.0 704.8 593.7 704.3" stroke="#4b5a95" stroke-width="0.6" fill="none" stroke-opacity="0.8"/>
<circle cx="685.1" cy="695.5" r="10.4" fill="#a8d8c8" stroke="#83a096" stroke-width="1.6"/>
<path d="M685.9 690.4 685.3 697.5 681.7 691.8 685.5 698.8 685.7 693.3 681.7 696.1 685.1 694.9 683.6 689.5 682.5 692.4 685.7 691.8 682.3 694.8 681.9 692.4 684.4 694.8 682.3 695.4" stroke="#5d6e8c" stroke-width="0.6" fill="none" stroke-opacity="0.8"/>
<path d="M684.0 693.1 684.5 694.8 682.8 693.5 684.4 697.8 684.7 693.8 683.7 694.0 686.4 691.5 685.8 695.2 686.0 691.4 682.3 694.2" stroke="#4b6590" stroke-width="0.6" fill="none" stroke-opacity="0.8"/>
<circle cx="766.0" cy="695.5" r="10.4" fill="#c8e4d0" stroke="#94a79a" stroke-width="1.6"/>
<path d="M766.7 697.8 765.9 695.4 766.5 696.4 764.5 697.9 764.7 695.3 760.8 694.9 767.9 694.4 765.6 695.2 769.3 698.4 767.9 693.9 764.7 695.9 769.9 695.5 761.9 694.1 767.3 697.6" stroke="#69728f" stroke-width="0.6" fill="none" stroke-opacity="0.8"/>
<path d="M767.5 694.8 764.8 694.7 766.3 695.3 769.5 691.8 767.6 694.8 767.8 691.7 764.1 694.1 766.2 692.2 767.1 694.7 767.6 692.1" stroke="#536892" stroke-width="0.6" fill="none" stroke-opacity="0.8"/>
<circle cx="441.1" cy="726.7" r="10.4" fill="#a8b0e0" stroke="#838aa3" stroke-width="1.6"/>
<path d="M442.5 728.3 445.2 723.2 440.2 727.3 440.6 726.6 441.3 729.7 441.5 730.5 444.2 723.7 435.9 724.2 444.8 726.9 441.0 726.1 441.6 727.2 442.7 727.0 440.1 725.4 440.0 729.7" stroke="#5d6094" stroke-width="0.6" fill="none" stroke-opacity="0.8"/>
<path d="M441.9 726.0 439.2 725.1 440.9 724.2 441.8 725.1 440.2 722.0 441.2 724.5 439.9 723.9 440.7 728.2 440.8 725.6 443.2 724.0" stroke="#4b5b96" stroke-width="0.6" fill="none" stroke-opacity="0.8"/>
<circle cx="260.0" cy="733.0" r="10.4" fill="#d0e8d0" stroke="#99a99a" stroke-width="1.6"/>
<path d="M260.6 733.1 261.6 732.1 260.3 731.2 257.2 735.6 263.7 736.5 259.2 729.0 259.8 732.5 260.2 732.3 260.0 734.4 260.6 731.9 259.8 735.6 255.6 732.5 260.2 732.5 260.6 733.3" stroke="#6b748f" stroke-width="0.6" fill="none" stroke-opacity="0.8"/>
<path d="M259.1 733.6 259.7 731.7 257.1 729.5 262.9 730.0 260.6 729.5 259.8 730.3 260.6 730.2 257.3 732.9 259.8 731.4 260.9 732.6" stroke="#556992" stroke-width="0.6" fill="none" stroke-opacity="0.8"/>
<circle cx="305.4" cy="731.5" r="10.4" fill="#cce6cc" stroke="#97a898" stroke-width="1.6"/>
<path d="M309.3 728.0 303.0 732.8 303.5 730.9 307.2 733.8 305.9 727.0 306.1 732.1 307.7 727.1 307.2 732.7 304.3 731.5 303.4 734.1 303.7 734.8 307.0 727.7 305.5 731.6 304.5 731.3" stroke="#6a738d" stroke-width="0.6" fill="none" stroke-opacity="0.8"/>
<path d="M303.0 730.9 301.1 731.3 301.5 730.9 304.7 730.8 305.7 730.1 303.8 729.8 305.3 730.8 304.8 729.5 305.0 730.2 304.3 730.1" stroke="#546891" stroke-width="0.6" fill="none" stroke-opacity="0.8"/>
<circle cx="343.8" cy="738.0" r="10.4" fill="#c8e4dc" stroke="#94a7a1" stroke-width="1.6"/>
<path d="M344.3 736.8 342.2 732.3 344.0 736.5 344.1 736.3 343.8 735.3 344.0 740.4 345.4 735.1 343.5 733.4 343.9 737.0 341.5 737.6 344.3 738.4 341.0 739.9 341.1 738.4 344.7 736.1" stroke="#697293" stroke-width="0.6" fill="none" stroke-opacity="0.8"/>
<path d="M342.5 740.2 342.2 737.4 345.6 738.5 343.4 739.0 346.5 737.4 345.6 739.2 344.0 737.0 343.7 736.9 342.1 738.2 344.0 742.0" stroke="#536895" stroke-width="0.6" fill="none" stroke-opacity="0.8"/>
<circle cx="630.8" cy="732.2" r="10.4" fill="#c8e4d0" stroke="#94a79a" stroke-width="1.6"/>
<path d="M625.4 736.6 629.8 733.1 630.5 732.4 626.2 732.8 627.2 732.2 628.9 728.2 629.1 732.8 626.6 733.4 628.0 733.4 630.2 731.5 629.4 734.2 629.6 730.9 625.4 734.0 630.4 733.8" stroke="#69728f" stroke-width="0.6" fill="none" stroke-opacity="0.8"/>
<path d="M630.6 734.4 628.0 733.2 630.2 731.4 630.0 733.9 628.6 732.0 633.0 734.8 631.8 731.8 631.0 733.1 631.4 734.4 631.4 733.6" stroke="#536892" stroke-width="0.6" fill="none" stroke-opacity="0.8"/>
<circle cx="674.0" cy="734.3" r="10.4" fill="#a8d8c8" stroke="#83a096" stroke-width="1.6"/>
<path d="M670.7 734.2 674.5 730.8 673.8 735.7 674.8 736.7 668.9 734.0 673.7 735.1 676.1 736.3 671.7 730.7 677.0 739.3 678.1 733.3 672.4 737.5 670.1 734.4 677.4 739.1 676.4 733.8" stroke="#5d6e8c" stroke-width="0.6" fill="none" stroke-opacity="0.8"/>
<path d="M677.1 736.6 673.3 737.1 672.9 736.7 674.9 734.8 673.8 735.9 675.5 738.5 677.5 734.0 677.3 737.5 673.2 735.0 673.5 734.6" stroke="#4b6590" stroke-width="0.6" fill="none" stroke-opacity="0.8"/>
<circle cx="526.0" cy="752.2" r="10.4" fill="#f8ccb0" stroke="#af9a89" stroke-width="1.6"/>
<path d="M521.4 749.5 527.2 753.2 524.1 754.8 528.4 750.3 527.1 750.3 525.0 753.8 526.2 752.9 527.4 748.5 527.0 752.1 522.7 751.9 525.4 751.9 525.7 752.9 525.5 754.6 527.0 751.2" stroke="#796a83" stroke-width="0.6" fill="none" stroke-opacity="0.8"/>
<path d="M527.3 750.1 527.0 753.2 528.1 756.8 527.3 753.6 530.3 751.5 524.3 752.9 530.5 753.8 528.0 753.8 529.3 752.9 527.0 751.7" stroke="#5f628a" stroke-width="0.6" fill="none" stroke-opacity="0.8"/>
<circle cx="188.6" cy="633.8" r="9.5" fill="#cde6e4" stroke="#97a8a5" stroke-width="1.6"/>
<path d="M192.6 635.7 191.0 631.2 188.3 633.8 193.2 629.1 189.5 632.5 189.3 633.5 190.7 629.3 188.3 635.7 189.0 636.6 185.3 632.8 189.1 631.5 191.7 632.1 193.6 631.4 187.7 637.4" stroke="#6a7396" stroke-width="0.6" fill="none" stroke-opacity="0.8"/>
<path d="M191.5 635.5 189.6 635.0 186.5 637.5 188.6 634.0 190.9 637.5 189.0 633.9 190.2 638.1 192.2 633.9 189.1 634.9 191.0 635.8" stroke="#556897" stroke-width="0.6" fill="none" stroke-opacity="0.8"/>
<circle cx="118.4" cy="667.0" r="9.5" fill="#f4c4b8" stroke="#ad958d" stroke-width="1.6"/>
<path d="M116.3 666.7 115.2 668.2 115.8 664.0 117.0 665.2 117.1 667.2 116.8 668.6 118.1 664.0 115.9 668.1 118.0 666.4 120.6 663.2 116.3 671.2 115.9 669.3 119.4 667.7 117.3 666.6" stroke="#786786" stroke-width="0.6" fill="none" stroke-opacity="0.8"/>
<path d="M119.3 665.8 119.6 665.8 118.2 668.1 118.5 669.5 121.3 665.7 121.7 668.7 118.9 668.8 117.7 668.7 116.2 669.7 118.7 670.4" stroke="#5e608c" stroke-width="0.6" fill="none" stroke-opacity="0.8"/>
<circle cx="198.4" cy="668.0" r="9.5" fill="#b0b4e4" stroke="#878da5" stroke-width="1.6"/>
<path d="M197.1 671.1 197.1 668.6 198.9 672.3 201.1 667.9 196.3 671.9 201.9 669.5 198.1 668.5 196.5 664.1 198.2 665.9 196.3 666.6 197.2 669.8 199.5 671.4 198.7 668.0 199.5 664.2" stroke="#606296" stroke-width="0.6" fill="none" stroke-opacity="0.8"/>
<path d="M197.5 663.5 198.0 667.2 198.3 667.0 196.4 668.3 198.5 668.1 198.3 670.1 197.9 668.2 200.0 669.3 197.6 666.7 197.8 666.1" stroke="#4d5c97" stroke-width="0.6" fill="none" stroke-opacity="0.8"/>
<circle cx="104.8" cy="721.8" r="9.5" fill="#cfe8cc" stroke="#98a998" stroke-width="1.6"/>
<path d="M102.8 716.4 103.5 720.6 105.2 717.6 105.9 723.8 103.8 719.5 102.2 719.5 102.3 723.0 105.0 720.7 104.0 721.9 102.1 718.4 103.4 721.0 106.6 719.9 98.6 721.1 102.2 720.2" stroke="#6b748d" stroke-width="0.6" fill="none" stroke-opacity="0.8"/>
<path d="M102.2 722.7 103.0 721.7 104.0 725.5 102.6 722.3 101.9 723.4 102.6 720.8 104.7 718.3 103.9 722.2 104.6 720.4 103.4 722.3" stroke="#556991" stroke-width="0.6" fill="none" stroke-opacity="0.8"/>
<circle cx="167.0" cy="726.5" r="9.5" fill="#cfe8cc" stroke="#98a998" stroke-width="1.6"/>
<path d="M166.8 723.3 167.8 730.6 167.3 728.1 166.9 727.1 166.0 729.2 167.3 726.4 165.8 722.6 168.2 723.5 166.0 729.7 165.7 729.9 162.6 726.0 167.8 726.4 170.4 728.8 164.4 729.4" stroke="#6b748d" stroke-width="0.6" fill="none" stroke-opacity="0.8"/>
<path d="M166.8 728.7 166.1 727.2 165.4 727.5 166.6 725.5 166.0 725.1 165.1 727.9 164.9 727.7 168.3 726.0 163.6 726.9 164.3 729.1" stroke="#556991" stroke-width="0.6" fill="none" stroke-opacity="0.8"/>
<g font-size="6.8" font-weight="bold" fill="#111" stroke="#fff" stroke-width="1.4" paint-order="stroke" stroke-opacity="0.85"><text x="210.8" y="38.8">ZEB2</text><text x="247.5" y="51.0">FOXC2</text><text x="294.1" y="57.0">SLC2A6</text><text x="345.8" y="55.7">UXS1</text><text x="363.9" y="81.5">UGP2</text><text x="179.8" y="79.7">MB21D2</text><text x="234.6" y="101.4">TFE3</text><text x="391.9" y="102.2">SLC39A14</text><text x="136.4" y="121.6">PAPSS2</text><text x="190.2" y="126.3">SQOR</text><text x="326.5" y="137.1">SOD2</text><text x="416.4" y="159.1">FTH1</text><text x="163.0" y="168.9">TTF2</text><text x="116.5" y="194.8">ROBO1</text><text x="215.2" y="190.1">CD82</text><text x="423.7" y="205.7">LOX</text><text x="367.3" y="219.4">VCAM1</text><text x="314.8" y="244.4">ICAM1</text><text x="456.4" y="225.1">PRKCD</text><text x="422.1" y="260.7">CD274</text><text x="98.3" y="265.1">PANX1</text><text x="179.0" y="265.7">SYDE1</text><text x="368.7" y="279.7">HLA-A</text><text x="447.7" y="286.8">B2M</text><text x="246.5" y="288.2">MT2A</text><text x="275.5" y="306.4">RELB</text><text x="337.0" y="304.8">NFKB1</text><text x="72.0" y="307.8">SERPINB8</text><text x="146.7" y="314.3">BAZ1A</text><text x="418.9" y="311.7">HLA-B</text><text x="300.3" y="322.4">CASP1</text><text x="331.8" y="328.7">HLA-C</text><text x="391.7" y="322.3">HLA-E</text><text x="165.5" y="341.4">TNIP1</text><text x="245.7" y="353.0">CTSS</text><text x="195.8" y="368.6">RIPK2</text><text x="257.0" y="379.9">NFKB2</text><text x="355.9" y="368.9">PSMB10</text><text x="472.3" y="325.5">TAPBP</text><text x="510.6" y="321.4">IFNGR1</text><text x="506.3" y="353.0">TAP2</text><text x="546.7" y="390.4">DAXX</text><text x="608.5" y="62.1">NDN</text><text x="544.3" y="74.5">TMEM131L</text><text x="679.3" y="69.4">MASTL</text><text x="726.1" y="91.9">SYTL4</text><text x="456.4" y="101.4">MPZL1</text><text x="501.1" y="112.6">EVA1A</text><text x="561.1" y="109.4">NRP2</text><text x="614.6" y="104.8">LYSMD2</text><text x="640.5" y="125.0">KIF2C</text><text x="696.9" y="130.1">ANLN</text><text x="746.8" y="126.8">PSTPIP2</text><text x="592.9" y="138.9">AURKB</text><text x="464.1" y="165.6">BMP1</text><text x="637.4" y="161.7">CDCA5</text><text x="677.5" y="171.3">PBK</text><text x="735.2" y="172.0">CHAF1B</text><text x="502.1" y="185.5">PDLIM4</text><text x="785.5" y="203.1">POLA2</text><text x="533.9" y="217.3">ADGRE5</text><text x="620.1" y="214.7">RRM2</text><text x="603.8" y="250.4">PCLAF</text><text x="697.4" y="243.7">SLBP</text><text x="778.3" y="269.5">TIPIN</text><text x="673.1" y="280.7">TYMS</text><text x="601.2" y="332.4">SUZ12</text><text x="744.7" y="335.0">ZC3H7B</text><text x="685.5" y="378.4">TYMP</text><text x="758.5" y="379.4">NT5C3A</text><text x="110.0" y="405.3">OPTN</text><text x="141.5" y="415.7">NUB1</text><text x="265.0" y="426.0">IRF2</text><text x="243.0" y="431.3">IKBKE</text><text x="339.1" y="418.9">SAMHD1</text><text x="391.0" y="401.9">PSMB9</text><text x="417.6" y="437.4">STAT1</text><text x="382.5" y="448.4">STAT2</text><text x="462.6" y="453.1">ISG15</text><text x="493.2" y="431.0">GBP1</text><text x="305.9" y="468.4">GBP2</text><text x="138.9" y="485.5">CALCOCO2</text><text x="285.9" y="490.1">BST2</text><text x="383.4" y="487.2">IFIH1</text><text x="438.4" y="479.5">IFIT1</text><text x="501.6" y="474.4">IFITM3</text><text x="417.2" y="502.4">MX1</text><text x="315.0" y="510.0">TRIM25</text><text x="362.8" y="512.1">DDX58</text><text x="93.2" y="525.6">TRIM16</text><text x="162.2" y="534.1">UNC93B1</text><text x="332.5" y="531.9">IFITM1</text><text x="404.0" y="530.4">EIF2AK2</text><text x="511.1" y="516.4">TRIM22</text><text x="488.0" y="525.9">IFI35</text><text x="552.0" y="523.4">PLSCR1</text><text x="630.2" y="521.7">LAP3</text><text x="603.3" y="424.7">WARS1</text><text x="681.9" y="429.9">KMT2A</text><text x="759.5" y="444.1">B4GALT1</text><text x="727.9" y="475.1">RNF168</text><text x="711.9" y="507.4">CRIM1</text><text x="776.5" y="540.6">PRKD2</text><text x="120.8" y="569.0">TRIM44</text><text x="334.3" y="574.6">SP100</text><text x="362.9" y="582.1">IFIT2</text><text x="416.7" y="564.6">IFIT3</text><text x="471.5" y="563.2">UBE2L6</text><text x="571.2" y="546.4">SP110</text><text x="695.6" y="556.6">LIMD2</text><text x="776.5" y="572.6">RIPOR1</text><text x="469.1" y="589.6">PARP9</text><text x="528.2" y="593.5">PARP14</text><text x="616.7" y="589.7">XRN1</text><text x="695.6" y="588.4">TBC1D1</text><text x="306.3" y="610.4">UBA7</text><text x="442.5" y="611.7">IFIT5</text><text x="492.5" y="610.4">DDX60</text><text x="573.2" y="611.4">DTX3L</text><text x="560.1" y="626.6">PNPT1</text><text x="711.9" y="620.7">LARP6</text><text x="359.3" y="632.3">HERC6</text><text x="399.2" y="645.0">HELZ2</text><text x="663.3" y="653.6">NIBAN1</text><text x="743.9" y="653.6">CFH</text><text x="445.0" y="658.6">SAMD9</text><text x="304.2" y="667.7">ZNFX1</text><text x="483.6" y="671.0">SHFL</text><text x="397.2" y="675.4">PARP12</text><text x="499.7" y="686.1">DDX60L</text><text x="606.2" y="693.1">FBXO6</text><text x="695.6" y="685.9">PTPRK</text><text x="776.5" y="685.9">TNFAIP8</text><text x="451.6" y="717.1">RNF213</text><text x="270.5" y="723.4">SDC4</text><text x="315.9" y="721.9">MAFF</text><text x="354.3" y="728.4">TDRD7</text><text x="641.3" y="722.6">SLFN5</text><text x="684.5" y="724.7">GFPT2</text><text x="536.5" y="742.6">PARP10</text><text x="198.3" y="624.0">LDLR</text><text x="129.2" y="657.0">SQLE</text><text x="208.6" y="658.0">HMGCS1</text><text x="115.5" y="711.5">CYP27A1</text><text x="177.8" y="716.0">ELOVL5</text><text x="437.7" y="479.5">IFIT1</text><text x="363.3" y="512">DDX58</text></g>
<circle cx="166.0" cy="681.0" r="95.0" fill="none" stroke="#111" stroke-width="1.8"/>
<line x1="77.2" y1="714.6" x2="241.8" y2="1149.5" stroke="#111" stroke-width="1.8"/>
<line x1="218.7" y1="601.9" x2="605.7" y2="859.7" stroke="#111" stroke-width="1.8"/>
<circle cx="470.3" cy="1063.0" r="244.3" fill="#fff" stroke="#111" stroke-width="1.8"/>
<path d="M357.7 1028.5L533.6 943.3" stroke="#3a3a3a" stroke-width="4.4479999999999995" fill="none"/>
<path d="M359.4 1032.0L535.3 946.8" stroke="#85468c" stroke-width="3.96" fill="none"/>
<path d="M361.1 1035.5L537.0 950.3" stroke="#8fb94f" stroke-width="4.4479999999999995" fill="none"/>
<path d="M363.0 1039.4L538.9 954.2" stroke="#a9d25c" stroke-width="4.692" fill="none"/>
<path d="M542.2 947.2L566.6 1034.7" stroke="#3a3a3a" stroke-width="4.4479999999999995" fill="none"/>
<path d="M538.4 948.2L562.8 1035.7" stroke="#85468c" stroke-width="3.96" fill="none"/>
<path d="M534.7 949.3L559.1 1036.8" stroke="#8fb94f" stroke-width="4.4479999999999995" fill="none"/>
<path d="M530.5 950.4L554.9 1037.9" stroke="#a9d25c" stroke-width="4.692" fill="none"/>
<path d="M360.5 1029.6L560.8 1031.9" stroke="#3a3a3a" stroke-width="4.692" fill="none"/>
<path d="M360.4 1034.0L560.7 1036.3" stroke="#8fb94f" stroke-width="4.692" fill="none"/>
<path d="M360.3 1038.4L560.6 1040.7" stroke="#a9d25c" stroke-width="4.692" fill="none"/>
<path d="M317.3 1170.0L352.4 1032.0" stroke="#3a3a3a" stroke-width="4.204" fill="none"/>
<path d="M320.8 1170.9L355.9 1032.9" stroke="#85468c" stroke-width="3.7159999999999997" fill="none"/>
<path d="M323.9 1171.6L359.0 1033.6" stroke="#3d6fc4" stroke-width="3.2279999999999998" fill="none"/>
<path d="M326.7 1172.4L361.8 1034.4" stroke="#2fa3b5" stroke-width="3.2279999999999998" fill="none"/>
<path d="M329.9 1173.2L365.0 1035.2" stroke="#8fb94f" stroke-width="3.96" fill="none"/>
<path d="M333.5 1174.1L368.6 1036.1" stroke="#a9d25c" stroke-width="3.96" fill="none"/>
<path d="M321.5 1165.4L556.9 1029.7" stroke="#4aa85a" stroke-width="3.2279999999999998" fill="none"/>
<path d="M323.2 1168.4L558.6 1032.7" stroke="#3a3a3a" stroke-width="4.204" fill="none"/>
<path d="M325.1 1171.6L560.5 1035.9" stroke="#85468c" stroke-width="3.7159999999999997" fill="none"/>
<path d="M326.9 1174.7L562.3 1039.0" stroke="#8fb94f" stroke-width="4.204" fill="none"/>
<path d="M328.8 1178.1L564.2 1042.4" stroke="#a9d25c" stroke-width="4.204" fill="none"/>
<path d="M361.9 1032.8L483.5 1181.1" stroke="#3a3a3a" stroke-width="4.4479999999999995" fill="none"/>
<path d="M358.8 1035.3L480.4 1183.6" stroke="#8fb94f" stroke-width="4.204" fill="none"/>
<path d="M564.4 1038.3L485.7 1184.3" stroke="#3a3a3a" stroke-width="4.4479999999999995" fill="none"/>
<path d="M560.7 1036.3L482.0 1182.3" stroke="#8fb94f" stroke-width="4.4479999999999995" fill="none"/>
<path d="M557.0 1034.3L478.3 1180.3" stroke="#a9d25c" stroke-width="4.4479999999999995" fill="none"/>
<circle cx="536.3" cy="948.8" r="27.2" fill="#cde6e4" stroke="#97a8a5" stroke-width="3.2"/>
<path d="M540.8 953.1 538.5 954.5 534.7 943.4 536.3 954.0 545.1 945.9 534.6 941.9 541.0 953.0 536.8 948.1 533.0 950.3 545.2 951.9 534.7 951.9 533.8 943.5 535.1 950.5 532.5 949.4 531.9 953.4 537.5 954.8 541.0 947.0 540.2 942.4" stroke="#9aa878" stroke-width="0.7" fill="none" stroke-linejoin="round"/>
<path d="M532.6 947.1 532.8 946.1 536.1 953.2 535.1 947.4 540.1 953.0 535.6 951.8 541.8 952.0 530.5 946.1 533.0 953.4 532.9 947.1 538.8 943.6 533.7 945.2" stroke="#b8c090" stroke-width="0.6" fill="none" stroke-linejoin="round"/>
<circle cx="360.4" cy="1034.0" r="27.2" fill="#f4c4b8" stroke="#ad958d" stroke-width="3.2"/>
<path d="M366.6 1042.5 364.7 1033.8 362.2 1030.0 367.2 1042.9 354.4 1043.4 370.1 1036.5 349.6 1037.3 355.7 1040.9 368.3 1039.6 354.0 1038.8 352.5 1035.0 350.1 1032.9 370.1 1027.2 373.7 1031.0 366.4 1025.9 366.1 1027.0 347.7 1034.6 356.2 1026.4 352.7 1036.6 368.9 1035.1 349.0 1035.9 359.5 1028.9 347.1 1030.0 368.6 1031.4 365.7 1042.6 369.9 1034.5 359.3 1033.9 358.8 1037.1 355.5 1038.1 370.2 1029.9 367.7 1035.2 357.4 1034.3 358.0 1028.8 350.4 1026.3 366.3 1024.8 373.2 1029.1 353.6 1028.3 347.2 1035.7 360.4 1024.1 362.8 1034.4" stroke="#8a4f8e" stroke-width="0.8" fill="none" stroke-linejoin="round"/>
<path d="M363.8 1031.9 359.5 1026.1 365.2 1038.1 361.9 1032.3 358.6 1032.4 367.0 1037.6 365.2 1033.6 359.3 1033.3 365.7 1027.3 356.7 1040.5 367.4 1030.3 367.8 1031.9 366.9 1032.0 365.1 1028.1 369.6 1037.1 351.0 1033.9 366.7 1036.8 359.6 1037.7 355.8 1033.9 360.2 1026.2 366.2 1034.1 356.6 1038.0 352.0 1031.1 353.5 1031.7 362.9 1035.7" stroke="#a86aa8" stroke-width="0.7" fill="none" stroke-linejoin="round"/>
<circle cx="560.7" cy="1036.3" r="27.2" fill="#b0b4e4" stroke="#878da5" stroke-width="3.2"/>
<path d="M559.8 1030.9 547.1 1029.5 562.2 1025.0 562.8 1043.9 573.0 1041.6 561.0 1048.0 550.9 1026.9 565.9 1046.6 563.3 1038.5 558.8 1031.1 566.6 1041.8 561.8 1041.8 565.9 1032.7 556.9 1046.5 559.7 1045.2 552.1 1032.7 553.7 1029.7 550.4 1027.8 575.4 1039.0 551.6 1042.5 564.1 1046.7 552.2 1045.7 562.8 1030.7 557.0 1027.7 567.7 1026.3 572.9 1042.4 560.1 1045.0 566.2 1037.1 556.8 1031.7 568.8 1043.8 553.7 1041.9 558.1 1035.1 556.7 1026.7 561.7 1035.5 552.3 1039.8 557.6 1033.1 568.5 1032.6 553.7 1037.4 575.4 1037.9 548.6 1038.9 551.1 1039.5 564.9 1030.8 554.0 1041.6 556.8 1030.0 575.9 1034.1" stroke="#5d5fa8" stroke-width="0.8" fill="none" stroke-linejoin="round"/>
<path d="M561.7 1026.7 552.1 1036.0 562.6 1026.4 558.9 1037.3 548.1 1035.6 570.5 1029.7 566.2 1034.7 572.0 1034.7 565.9 1040.6 573.3 1033.8 556.5 1044.6 563.5 1029.7 560.9 1036.6 568.2 1044.0 559.5 1039.0 561.2 1040.9 566.2 1039.0 555.8 1027.7 554.3 1041.3 555.6 1042.1 556.4 1028.4 569.9 1031.9 566.1 1028.8 561.0 1033.2 568.7 1042.7 568.5 1043.0 570.3 1030.8 559.6 1029.7 557.9 1038.0 549.4 1037.0" stroke="#7d7fc0" stroke-width="0.7" fill="none" stroke-linejoin="round"/>
<circle cx="325.3" cy="1172.0" r="27.2" fill="#cfe8cc" stroke="#98a998" stroke-width="3.2"/>
<path d="M318.6 1168.9 314.1 1165.0 318.8 1177.5 331.0 1163.1 325.4 1159.8 321.5 1168.3 328.2 1177.4 316.5 1174.9 319.2 1165.2 323.1 1179.7 326.6 1169.9 335.6 1169.8 332.4 1181.0 331.0 1164.5 337.2 1177.2 337.6 1179.0 325.9 1170.7 320.1 1180.8 317.0 1177.7 309.2 1173.1 313.5 1178.5 322.6 1178.1 316.7 1164.6 328.9 1163.9 317.4 1178.3 319.2 1180.0 315.7 1180.5 337.2 1170.8 315.2 1179.0 330.9 1178.0 336.9 1168.0 330.1 1182.9 323.7 1163.5 333.7 1174.0 333.6 1178.2" stroke="#3d9a55" stroke-width="1.0" fill="none" stroke-linejoin="round"/>
<path d="M317.0 1179.1 322.7 1167.3 321.6 1176.7 329.4 1165.2 328.7 1177.5 332.8 1172.6 318.6 1166.1 323.7 1173.5 324.8 1166.9 328.8 1173.6 323.7 1164.0 319.0 1174.2 336.1 1170.5 325.8 1181.3 331.0 1164.5 316.5 1171.0 332.4 1174.9 333.2 1180.0" stroke="#3a66c0" stroke-width="1.0" fill="none" stroke-linejoin="round"/>
<path d="M319.3 1166.5 318.1 1177.1 333.7 1175.5 325.3 1167.0 334.9 1173.0 325.0 1178.2 332.0 1167.3 322.2 1173.1 327.1 1175.6 323.0 1177.2 328.3 1169.0 327.1 1167.5 316.8 1173.1 317.4 1174.6" stroke="#e08a30" stroke-width="1.0" fill="none" stroke-linejoin="round"/>
<path d="M326.3 1167.6 321.2 1166.2 332.9 1168.2 324.3 1177.4 332.3 1172.6 329.2 1175.2 316.5 1167.1 323.2 1175.6 331.5 1172.5 330.7 1173.8 322.9 1164.5 317.8 1168.5 322.0 1176.7 326.4 1171.6" stroke="#2a8a7a" stroke-width="0.8" fill="none" stroke-linejoin="round"/>
<circle cx="482.0" cy="1182.3" r="27.2" fill="#cfe8cc" stroke="#98a998" stroke-width="3.2"/>
<path d="M477.1 1188.2 472.2 1185.1 481.7 1176.8 477.9 1173.1 481.9 1184.4 491.0 1172.9 474.2 1175.8 478.1 1186.8 491.3 1181.6 479.8 1188.8 480.8 1180.5 477.5 1178.9 476.0 1188.6 484.4 1182.2 493.3 1180.8 474.6 1182.6 486.9 1180.2 470.9 1175.5 487.9 1185.5 493.6 1181.8 484.7 1186.6 484.2 1172.2 474.0 1186.7 482.1 1174.6 474.9 1178.4 478.7 1185.2 493.3 1174.6 482.6 1175.6 472.6 1180.7 488.8 1175.8" stroke="#3d9a55" stroke-width="1.0" fill="none" stroke-linejoin="round"/>
<path d="M471.3 1184.2 471.0 1185.1 484.9 1186.8 475.2 1181.2 477.1 1183.2 488.2 1179.1 475.1 1174.7 473.8 1186.3 478.7 1179.9 473.2 1175.9 473.6 1177.6 488.5 1180.5 482.0 1189.4 478.4 1182.8 474.9 1188.2 489.3 1177.2" stroke="#3a66c0" stroke-width="1.0" fill="none" stroke-linejoin="round"/>
<path d="M475.2 1180.5 483.8 1180.4 477.1 1186.4 485.4 1187.4 485.8 1180.7 480.1 1187.7 483.4 1186.2 482.2 1186.9 488.9 1181.9 487.4 1181.6 486.6 1185.3 478.4 1187.3" stroke="#e08a30" stroke-width="1.2" fill="none" stroke-linejoin="round"/>
<text x="561.6" y="928.7" font-size="24.8">LDLR</text>
<text x="292.5" y="991.8" font-size="24.8">SQLE</text>
<text x="588.7" y="1016.2" font-size="24.8">HMGCS1</text>
<text x="517.0" y="1170.6" font-size="24.8">ELOVL5</text>
<text x="342.6" y="1217.4" font-size="24.8">CYP27A1</text>
<text x="0" y="0" font-size="35.5" font-weight="bold" fill="#222" transform="translate(2.4 1298.0) scale(0.97 1.08)">D</text>
<text x="249.3" y="1358.5" font-size="24.7" text-anchor="middle" font-weight="bold">iAstrocytes (BIONi037) I</text>
<text x="143.8" y="1398.2" font-size="21.2" text-anchor="middle">Down in Chol treated</text>
<text x="347.4" y="1398.2" font-size="21.2" text-anchor="middle">Up in Chol treated</text>
<line x1="225.0" y1="1421.5" x2="147.8" y2="1421.5" stroke="#000" stroke-width="1.9"/>
<path d="M140.0,1421.5L153.0,1416.0L149.1,1421.5L153.0,1427.0Z" fill="#000"/>
<line x1="258.5" y1="1421.5" x2="333.8" y2="1421.5" stroke="#000" stroke-width="1.9"/>
<path d="M341.6,1421.5L328.6,1416.0L332.5,1421.5L328.6,1427.0Z" fill="#000"/>
<line x1="81.6" y1="1437.5" x2="81.6" y2="1804.5" stroke="#333" stroke-width="1.9"/>
<line x1="81.6" y1="1803.7" x2="95.1" y2="1803.7" stroke="#333" stroke-width="1.9"/>
<line x1="101.8" y1="1803.7" x2="386.8" y2="1803.7" stroke="#333" stroke-width="1.9"/>
<line x1="392.8" y1="1803.7" x2="406.8" y2="1803.7" stroke="#333" stroke-width="1.9"/>
<line x1="78.3" y1="1787.2" x2="81.6" y2="1787.2" stroke="#333" stroke-width="1.2"/>
<text x="76.6" y="1791.8" font-size="13" text-anchor="end" fill="#4d4d4d">0</text>
<line x1="78.3" y1="1703.9" x2="81.6" y2="1703.9" stroke="#333" stroke-width="1.2"/>
<text x="76.6" y="1708.5" font-size="13" text-anchor="end" fill="#4d4d4d">1</text>
<line x1="78.3" y1="1620.5" x2="81.6" y2="1620.5" stroke="#333" stroke-width="1.2"/>
<text x="76.6" y="1625.1" font-size="13" text-anchor="end" fill="#4d4d4d">2</text>
<line x1="78.3" y1="1537.2" x2="81.6" y2="1537.2" stroke="#333" stroke-width="1.2"/>
<text x="76.6" y="1541.8" font-size="13" text-anchor="end" fill="#4d4d4d">3</text>
<line x1="78.3" y1="1453.8" x2="81.6" y2="1453.8" stroke="#333" stroke-width="1.2"/>
<text x="76.6" y="1458.4" font-size="13" text-anchor="end" fill="#4d4d4d">4</text>
<line x1="88.6" y1="1803.7" x2="88.6" y2="1807.2" stroke="#333" stroke-width="1.2"/>
<line x1="114.5" y1="1803.7" x2="114.5" y2="1807.2" stroke="#333" stroke-width="1.2"/>
<text x="114.5" y="1817.6" font-size="13.3" text-anchor="middle" fill="#4d4d4d">-5</text>
<line x1="140.5" y1="1803.7" x2="140.5" y2="1807.2" stroke="#333" stroke-width="1.2"/>
<text x="140.5" y="1817.6" font-size="13.3" text-anchor="middle" fill="#4d4d4d">-4</text>
<line x1="166.4" y1="1803.7" x2="166.4" y2="1807.2" stroke="#333" stroke-width="1.2"/>
<text x="166.4" y="1817.6" font-size="13.3" text-anchor="middle" fill="#4d4d4d">-3</text>
<line x1="192.3" y1="1803.7" x2="192.3" y2="1807.2" stroke="#333" stroke-width="1.2"/>
<text x="192.3" y="1817.6" font-size="13.3" text-anchor="middle" fill="#4d4d4d">-2</text>
<line x1="218.3" y1="1803.7" x2="218.3" y2="1807.2" stroke="#333" stroke-width="1.2"/>
<text x="218.3" y="1817.6" font-size="13.3" text-anchor="middle" fill="#4d4d4d">-1</text>
<line x1="244.2" y1="1803.7" x2="244.2" y2="1807.2" stroke="#333" stroke-width="1.2"/>
<text x="244.2" y="1817.6" font-size="13.3" text-anchor="middle" fill="#4d4d4d">0</text>
<line x1="270.1" y1="1803.7" x2="270.1" y2="1807.2" stroke="#333" stroke-width="1.2"/>
<text x="270.1" y="1817.6" font-size="13.3" text-anchor="middle" fill="#4d4d4d">1</text>
<line x1="296.1" y1="1803.7" x2="296.1" y2="1807.2" stroke="#333" stroke-width="1.2"/>
<text x="296.1" y="1817.6" font-size="13.3" text-anchor="middle" fill="#4d4d4d">2</text>
<line x1="322.0" y1="1803.7" x2="322.0" y2="1807.2" stroke="#333" stroke-width="1.2"/>
<text x="322.0" y="1817.6" font-size="13.3" text-anchor="middle" fill="#4d4d4d">3</text>
<line x1="347.9" y1="1803.7" x2="347.9" y2="1807.2" stroke="#333" stroke-width="1.2"/>
<text x="347.9" y="1817.6" font-size="13.3" text-anchor="middle" fill="#4d4d4d">4</text>
<line x1="373.9" y1="1803.7" x2="373.9" y2="1807.2" stroke="#333" stroke-width="1.2"/>
<text x="373.9" y="1817.6" font-size="13.3" text-anchor="middle" fill="#4d4d4d">5</text>
<line x1="399.8" y1="1803.7" x2="399.8" y2="1807.2" stroke="#333" stroke-width="1.2"/>
<text x="92.1" y="1817.6" font-size="14" text-anchor="middle" fill="#4d4d4d">only</text>
<text x="92.1" y="1830.3" font-size="14" text-anchor="middle" fill="#4d4d4d">present in</text>
<text x="92.1" y="1843.2" font-size="14" text-anchor="middle" fill="#4d4d4d">control</text>
<text x="403.6" y="1817.6" font-size="14" text-anchor="middle" fill="#4d4d4d">only</text>
<text x="403.6" y="1830.3" font-size="14" text-anchor="middle" fill="#4d4d4d">present in</text>
<text x="403.6" y="1843.2" font-size="14" text-anchor="middle" fill="#4d4d4d">cholesterol</text>
<text x="244.7" y="1857.5" font-size="14.9" text-anchor="middle">log2(fold change)</text>
<text x="66.1" y="1621.0" font-size="14.7" text-anchor="middle" transform="rotate(-90 66.1 1621.0)">-log10(BH adjusted p-value)</text>
<polygon points="88.7,1646.0 87.5,1660.0 86.1,1674.0 83.3,1696.0 82.3,1712.0 82.5,1725.0 85.4,1740.0 87.3,1749.0 88.7,1764.0 88.7,1764.0 90.1,1749.0 92.0,1740.0 94.9,1725.0 95.1,1712.0 94.1,1696.0 91.3,1674.0 89.9,1660.0 88.7,1646.0" fill="none" stroke="#a6abab" stroke-width="1.9" stroke-linejoin="round"/>
<polygon points="400.2,1628.0 399.0,1640.0 397.4,1652.0 393.6,1685.0 393.0,1702.0 393.8,1718.0 397.2,1736.0 399.0,1745.0 400.2,1755.0 400.2,1755.0 401.4,1745.0 403.2,1736.0 406.6,1718.0 407.4,1702.0 406.8,1685.0 403.0,1652.0 401.4,1640.0 400.2,1628.0" fill="none" stroke="#a6abab" stroke-width="1.9" stroke-linejoin="round"/>
<circle cx="236.9" cy="1763.9" r="3.3" class="n c14"/>
<circle cx="212.9" cy="1723.5" r="3.3" class="n c1"/>
<circle cx="214.6" cy="1738.6" r="3.3" class="n c1"/>
<circle cx="237.1" cy="1722.4" r="3.3" class="n c1"/>
<circle cx="182.1" cy="1685.5" r="3.3" class="n c1"/>
<circle cx="197.0" cy="1692.6" r="3.3" class="n c1"/>
<circle cx="234.8" cy="1759.7" r="3.3" class="n c12"/>
<circle cx="210.1" cy="1697.0" r="3.3" class="n c1"/>
<circle cx="226.2" cy="1754.9" r="3.3" class="n c1"/>
<circle cx="238.8" cy="1751.8" r="3.3" class="n c9"/>
<circle cx="232.0" cy="1718.4" r="3.3" class="n c12"/>
<circle cx="201.7" cy="1710.1" r="3.3" class="n c1"/>
<circle cx="166.6" cy="1695.8" r="3.3" class="n c1"/>
<circle cx="221.7" cy="1744.9" r="3.3" class="n c1"/>
<circle cx="241.5" cy="1767.9" r="3.3" class="n c8"/>
<circle cx="226.8" cy="1715.9" r="3.3" class="n c1"/>
<circle cx="229.4" cy="1761.2" r="3.3" class="n c1"/>
<circle cx="235.5" cy="1720.3" r="3.3" class="n c8"/>
<circle cx="238.1" cy="1754.3" r="3.3" class="n c8"/>
<circle cx="220.1" cy="1725.2" r="3.3" class="n c1"/>
<circle cx="242.5" cy="1744.0" r="3.3" class="n c1"/>
<circle cx="229.3" cy="1731.4" r="3.3" class="n c1"/>
<circle cx="205.0" cy="1699.5" r="3.3" class="n c1"/>
<circle cx="221.6" cy="1683.8" r="3.3" class="n c1"/>
<circle cx="228.5" cy="1745.0" r="3.3" class="n c1"/>
<circle cx="239.9" cy="1697.5" r="3.3" class="n c7"/>
<circle cx="214.5" cy="1743.6" r="3.3" class="n c1"/>
<circle cx="238.0" cy="1766.5" r="3.3" class="n c1"/>
<circle cx="239.9" cy="1773.6" r="3.3" class="n c8"/>
<circle cx="228.8" cy="1735.9" r="3.3" class="n c1"/>
<circle cx="212.0" cy="1736.6" r="3.3" class="n c1"/>
<circle cx="219.7" cy="1725.6" r="3.3" class="n c1"/>
<circle cx="219.6" cy="1740.8" r="3.3" class="n c1"/>
<circle cx="206.9" cy="1722.2" r="3.3" class="n c1"/>
<circle cx="231.8" cy="1746.9" r="3.3" class="n c12"/>
<circle cx="230.3" cy="1765.0" r="3.3" class="n c1"/>
<circle cx="232.2" cy="1739.2" r="3.3" class="n c8"/>
<circle cx="243.0" cy="1768.3" r="3.3" class="n c14"/>
<circle cx="176.7" cy="1711.9" r="3.3" class="n c1"/>
<circle cx="220.2" cy="1746.1" r="3.3" class="n c1"/>
<circle cx="223.3" cy="1746.0" r="3.3" class="n c1"/>
<circle cx="228.3" cy="1755.6" r="3.3" class="n c0"/>
<circle cx="226.4" cy="1760.6" r="3.3" class="n c1"/>
<circle cx="225.4" cy="1758.9" r="3.3" class="n c1"/>
<circle cx="223.8" cy="1748.7" r="3.3" class="n c0"/>
<circle cx="240.1" cy="1762.3" r="3.3" class="n c1"/>
<circle cx="227.8" cy="1682.6" r="3.3" class="n c1"/>
<circle cx="201.5" cy="1716.1" r="3.3" class="n c1"/>
<circle cx="227.0" cy="1737.9" r="3.3" class="n c1"/>
<circle cx="226.7" cy="1737.7" r="3.3" class="n c0"/>
<circle cx="210.5" cy="1716.0" r="3.3" class="n c1"/>
<circle cx="201.8" cy="1711.2" r="3.3" class="n c0"/>
<circle cx="241.7" cy="1732.0" r="3.3" class="n c8"/>
<circle cx="208.5" cy="1697.5" r="3.3" class="n c1"/>
<circle cx="229.2" cy="1732.5" r="3.3" class="n c1"/>
<circle cx="237.6" cy="1749.3" r="3.3" class="n c1"/>
<circle cx="201.8" cy="1709.1" r="3.3" class="n c1"/>
<circle cx="214.3" cy="1682.4" r="3.3" class="n c1"/>
<circle cx="206.3" cy="1681.2" r="3.3" class="n c1"/>
<circle cx="215.6" cy="1741.3" r="3.3" class="n c1"/>
<circle cx="223.1" cy="1754.8" r="3.3" class="n c1"/>
<circle cx="219.0" cy="1713.4" r="3.3" class="n c1"/>
<circle cx="198.3" cy="1700.8" r="3.3" class="n c1"/>
<circle cx="199.5" cy="1699.8" r="3.3" class="n c1"/>
<circle cx="227.6" cy="1721.0" r="3.3" class="n c8"/>
<circle cx="227.3" cy="1697.0" r="3.3" class="n c1"/>
<circle cx="237.5" cy="1717.5" r="3.3" class="n c9"/>
<circle cx="228.4" cy="1737.4" r="3.3" class="n c0"/>
<circle cx="234.4" cy="1755.3" r="3.3" class="n c10"/>
<circle cx="226.0" cy="1728.6" r="3.3" class="n c1"/>
<circle cx="230.5" cy="1761.1" r="3.3" class="n c8"/>
<circle cx="222.4" cy="1755.2" r="3.3" class="n c1"/>
<circle cx="209.5" cy="1723.8" r="3.3" class="n c1"/>
<circle cx="232.2" cy="1759.0" r="3.3" class="n c10"/>
<circle cx="229.9" cy="1740.4" r="3.3" class="n c1"/>
<circle cx="217.7" cy="1726.4" r="3.3" class="n c1"/>
<circle cx="206.9" cy="1732.9" r="3.3" class="n c1"/>
<circle cx="228.7" cy="1684.5" r="3.3" class="n c1"/>
<circle cx="231.5" cy="1758.9" r="3.3" class="n c5"/>
<circle cx="215.2" cy="1744.3" r="3.3" class="n c1"/>
<circle cx="225.1" cy="1715.8" r="3.3" class="n c1"/>
<circle cx="202.7" cy="1704.6" r="3.3" class="n c1"/>
<circle cx="221.3" cy="1687.4" r="3.3" class="n c0"/>
<circle cx="211.7" cy="1687.9" r="3.3" class="n c1"/>
<circle cx="243.4" cy="1779.0" r="3.3" class="n c8"/>
<circle cx="220.6" cy="1709.0" r="3.3" class="n c1"/>
<circle cx="214.8" cy="1727.4" r="3.3" class="n c1"/>
<circle cx="240.4" cy="1712.1" r="3.3" class="n c10"/>
<circle cx="232.4" cy="1768.7" r="3.3" class="n c7"/>
<circle cx="195.6" cy="1686.4" r="3.3" class="n c1"/>
<circle cx="216.0" cy="1680.9" r="3.3" class="n c1"/>
<circle cx="224.0" cy="1717.2" r="3.3" class="n c1"/>
<circle cx="234.2" cy="1753.6" r="3.3" class="n c7"/>
<circle cx="239.9" cy="1764.4" r="3.3" class="n c8"/>
<circle cx="240.4" cy="1700.4" r="3.3" class="n c1"/>
<circle cx="198.1" cy="1720.7" r="3.3" class="n c1"/>
<circle cx="222.9" cy="1754.7" r="3.3" class="n c1"/>
<circle cx="231.5" cy="1744.6" r="3.3" class="n c1"/>
<circle cx="220.2" cy="1735.9" r="3.3" class="n c1"/>
<circle cx="239.7" cy="1771.1" r="3.3" class="n c12"/>
<circle cx="205.1" cy="1728.5" r="3.3" class="n c1"/>
<circle cx="240.1" cy="1780.7" r="3.3" class="n c5"/>
<circle cx="227.2" cy="1752.8" r="3.3" class="n c1"/>
<circle cx="223.8" cy="1742.4" r="3.3" class="n c1"/>
<circle cx="239.1" cy="1774.5" r="3.3" class="n c1"/>
<circle cx="171.6" cy="1709.1" r="3.3" class="n c1"/>
<circle cx="240.6" cy="1773.4" r="3.3" class="n c9"/>
<circle cx="226.4" cy="1698.6" r="3.3" class="n c1"/>
<circle cx="243.1" cy="1774.8" r="3.3" class="n c9"/>
<circle cx="231.9" cy="1684.3" r="3.3" class="n c1"/>
<circle cx="205.9" cy="1721.0" r="3.3" class="n c1"/>
<circle cx="186.9" cy="1713.2" r="3.3" class="n c1"/>
<circle cx="211.5" cy="1735.2" r="3.3" class="n c2"/>
<circle cx="237.5" cy="1751.1" r="3.3" class="n c14"/>
<circle cx="241.7" cy="1729.6" r="3.3" class="n c9"/>
<circle cx="226.8" cy="1732.6" r="3.3" class="n c1"/>
<circle cx="204.8" cy="1728.2" r="3.3" class="n c1"/>
<circle cx="233.0" cy="1733.5" r="3.3" class="n c9"/>
<circle cx="211.0" cy="1726.9" r="3.3" class="n c1"/>
<circle cx="214.2" cy="1691.3" r="3.3" class="n c1"/>
<circle cx="216.0" cy="1711.7" r="3.3" class="n c1"/>
<circle cx="242.4" cy="1757.0" r="3.3" class="n c9"/>
<circle cx="222.5" cy="1706.9" r="3.3" class="n c1"/>
<circle cx="216.2" cy="1745.8" r="3.3" class="n c1"/>
<circle cx="242.1" cy="1776.7" r="3.3" class="n c8"/>
<circle cx="223.8" cy="1726.1" r="3.3" class="n c1"/>
<circle cx="240.1" cy="1754.2" r="3.3" class="n c9"/>
<circle cx="242.3" cy="1776.8" r="3.3" class="n c8"/>
<circle cx="210.9" cy="1707.6" r="3.3" class="n c1"/>
<circle cx="242.7" cy="1780.7" r="3.3" class="n c14"/>
<circle cx="242.1" cy="1765.4" r="3.3" class="n c9"/>
<circle cx="237.2" cy="1768.3" r="3.3" class="n c7"/>
<circle cx="229.7" cy="1762.3" r="3.3" class="n c1"/>
<circle cx="241.6" cy="1771.5" r="3.3" class="n c8"/>
<circle cx="231.0" cy="1759.0" r="3.3" class="n c5"/>
<circle cx="239.2" cy="1748.5" r="3.3" class="n c1"/>
<circle cx="229.3" cy="1736.9" r="3.3" class="n c1"/>
<circle cx="196.7" cy="1684.8" r="3.3" class="n c1"/>
<circle cx="237.4" cy="1754.0" r="3.3" class="n c1"/>
<circle cx="186.6" cy="1692.0" r="3.3" class="n c8"/>
<circle cx="231.6" cy="1765.5" r="3.3" class="n c8"/>
<circle cx="244.1" cy="1767.4" r="3.3" class="n c12"/>
<circle cx="237.6" cy="1703.7" r="3.3" class="n c14"/>
<circle cx="214.8" cy="1743.2" r="3.3" class="n c1"/>
<circle cx="235.3" cy="1764.0" r="3.3" class="n c1"/>
<circle cx="233.9" cy="1687.2" r="3.3" class="n c8"/>
<circle cx="224.2" cy="1700.8" r="3.3" class="n c1"/>
<circle cx="232.4" cy="1711.3" r="3.3" class="n c14"/>
<circle cx="237.2" cy="1766.0" r="3.3" class="n c14"/>
<circle cx="216.4" cy="1686.7" r="3.3" class="n c12"/>
<circle cx="225.6" cy="1749.8" r="3.3" class="n c1"/>
<circle cx="229.9" cy="1718.7" r="3.3" class="n c1"/>
<circle cx="242.7" cy="1765.7" r="3.3" class="n c1"/>
<circle cx="224.9" cy="1741.5" r="3.3" class="n c1"/>
<circle cx="225.7" cy="1738.2" r="3.3" class="n c1"/>
<circle cx="226.1" cy="1720.5" r="3.3" class="n c1"/>
<circle cx="230.3" cy="1689.4" r="3.3" class="n c8"/>
<circle cx="190.5" cy="1703.1" r="3.3" class="n c1"/>
<circle cx="195.8" cy="1705.2" r="3.3" class="n c12"/>
<circle cx="218.6" cy="1732.9" r="3.3" class="n c1"/>
<circle cx="185.2" cy="1692.0" r="3.3" class="n c1"/>
<circle cx="197.2" cy="1719.4" r="3.3" class="n c1"/>
<circle cx="184.0" cy="1681.5" r="3.3" class="n c1"/>
<circle cx="201.6" cy="1712.2" r="3.3" class="n c12"/>
<circle cx="234.7" cy="1767.0" r="3.3" class="n c8"/>
<circle cx="237.2" cy="1721.2" r="3.3" class="n c8"/>
<circle cx="219.7" cy="1729.9" r="3.3" class="n c12"/>
<circle cx="235.9" cy="1769.0" r="3.3" class="n c5"/>
<circle cx="240.8" cy="1727.6" r="3.3" class="n c1"/>
<circle cx="193.9" cy="1690.5" r="3.3" class="n c1"/>
<circle cx="197.5" cy="1718.5" r="3.3" class="n c1"/>
<circle cx="242.2" cy="1782.4" r="3.3" class="n c5"/>
<circle cx="238.6" cy="1756.6" r="3.3" class="n c12"/>
<circle cx="243.1" cy="1741.4" r="3.3" class="n c9"/>
<circle cx="236.8" cy="1748.4" r="3.3" class="n c1"/>
<circle cx="223.2" cy="1694.3" r="3.3" class="n c1"/>
<circle cx="171.7" cy="1705.3" r="3.3" class="n c1"/>
<circle cx="184.6" cy="1701.2" r="3.3" class="n c1"/>
<circle cx="243.7" cy="1779.3" r="3.3" class="n c5"/>
<circle cx="239.0" cy="1777.4" r="3.3" class="n c5"/>
<circle cx="234.7" cy="1770.6" r="3.3" class="n c1"/>
<circle cx="233.5" cy="1685.6" r="3.3" class="n c8"/>
<circle cx="224.2" cy="1733.3" r="3.3" class="n c1"/>
<circle cx="230.0" cy="1745.6" r="3.3" class="n c8"/>
<circle cx="235.3" cy="1734.9" r="3.3" class="n c1"/>
<circle cx="236.9" cy="1770.5" r="3.3" class="n c2"/>
<circle cx="218.4" cy="1716.5" r="3.3" class="n c1"/>
<circle cx="220.8" cy="1739.1" r="3.3" class="n c1"/>
<circle cx="235.1" cy="1739.2" r="3.3" class="n c5"/>
<circle cx="237.8" cy="1774.5" r="3.3" class="n c9"/>
<circle cx="242.1" cy="1742.8" r="3.3" class="n c7"/>
<circle cx="208.2" cy="1694.4" r="3.3" class="n c1"/>
<circle cx="183.3" cy="1706.6" r="3.3" class="n c1"/>
<circle cx="237.4" cy="1744.2" r="3.3" class="n c1"/>
<circle cx="223.6" cy="1754.7" r="3.3" class="n c1"/>
<circle cx="217.2" cy="1719.0" r="3.3" class="n c1"/>
<circle cx="236.1" cy="1728.4" r="3.3" class="n c7"/>
<circle cx="222.5" cy="1717.2" r="3.3" class="n c1"/>
<circle cx="223.8" cy="1736.4" r="3.3" class="n c1"/>
<circle cx="227.6" cy="1755.3" r="3.3" class="n c1"/>
<circle cx="209.6" cy="1717.4" r="3.3" class="n c1"/>
<circle cx="221.9" cy="1747.8" r="3.3" class="n c1"/>
<circle cx="242.5" cy="1769.5" r="3.3" class="n c8"/>
<circle cx="241.1" cy="1763.7" r="3.3" class="n c1"/>
<circle cx="202.1" cy="1723.0" r="3.3" class="n c1"/>
<circle cx="220.8" cy="1724.8" r="3.3" class="n c1"/>
<circle cx="210.8" cy="1731.6" r="3.3" class="n c1"/>
<circle cx="225.0" cy="1739.8" r="3.3" class="n c1"/>
<circle cx="232.2" cy="1747.9" r="3.3" class="n c10"/>
<circle cx="194.3" cy="1702.6" r="3.3" class="n c2"/>
<circle cx="172.3" cy="1697.1" r="3.3" class="n c1"/>
<circle cx="221.2" cy="1740.0" r="3.3" class="n c2"/>
<circle cx="238.2" cy="1756.7" r="3.3" class="n c1"/>
<circle cx="232.5" cy="1764.5" r="3.3" class="n c12"/>
<circle cx="202.5" cy="1709.9" r="3.3" class="n c1"/>
<circle cx="211.1" cy="1696.3" r="3.3" class="n c1"/>
<circle cx="223.3" cy="1714.6" r="3.3" class="n c1"/>
<circle cx="234.4" cy="1699.5" r="3.3" class="n c10"/>
<circle cx="221.5" cy="1743.9" r="3.3" class="n c1"/>
<circle cx="203.8" cy="1716.2" r="3.3" class="n c1"/>
<circle cx="235.0" cy="1681.6" r="3.3" class="n c5"/>
<circle cx="220.6" cy="1746.8" r="3.3" class="n c1"/>
<circle cx="239.5" cy="1778.0" r="3.3" class="n c1"/>
<circle cx="229.2" cy="1765.0" r="3.3" class="n c1"/>
<circle cx="200.7" cy="1715.2" r="3.3" class="n c1"/>
<circle cx="217.9" cy="1746.9" r="3.3" class="n c1"/>
<circle cx="240.0" cy="1700.0" r="3.3" class="n c12"/>
<circle cx="242.8" cy="1768.2" r="3.3" class="n c10"/>
<circle cx="226.7" cy="1722.0" r="3.3" class="n c0"/>
<circle cx="230.7" cy="1694.7" r="3.3" class="n c8"/>
<circle cx="194.4" cy="1697.1" r="3.3" class="n c1"/>
<circle cx="197.1" cy="1689.1" r="3.3" class="n c2"/>
<circle cx="212.6" cy="1718.9" r="3.3" class="n c1"/>
<circle cx="198.6" cy="1697.6" r="3.3" class="n c1"/>
<circle cx="236.6" cy="1773.2" r="3.3" class="n c12"/>
<circle cx="228.8" cy="1751.8" r="3.3" class="n c1"/>
<circle cx="208.7" cy="1727.7" r="3.3" class="n c1"/>
<circle cx="231.7" cy="1749.9" r="3.3" class="n c7"/>
<circle cx="229.7" cy="1732.9" r="3.3" class="n c1"/>
<circle cx="224.5" cy="1753.6" r="3.3" class="n c1"/>
<circle cx="241.9" cy="1757.2" r="3.3" class="n c8"/>
<circle cx="237.5" cy="1768.1" r="3.3" class="n c12"/>
<circle cx="217.4" cy="1725.8" r="3.3" class="n c1"/>
<circle cx="227.4" cy="1750.1" r="3.3" class="n c1"/>
<circle cx="240.4" cy="1708.8" r="3.3" class="n c14"/>
<circle cx="211.4" cy="1717.5" r="3.3" class="n c1"/>
<circle cx="236.8" cy="1761.4" r="3.3" class="n c8"/>
<circle cx="226.4" cy="1694.0" r="3.3" class="n c1"/>
<circle cx="202.2" cy="1698.0" r="3.3" class="n c1"/>
<circle cx="193.2" cy="1703.5" r="3.3" class="n c1"/>
<circle cx="238.3" cy="1752.9" r="3.3" class="n c12"/>
<circle cx="231.0" cy="1756.1" r="3.3" class="n c7"/>
<circle cx="218.3" cy="1695.4" r="3.3" class="n c1"/>
<circle cx="227.3" cy="1733.6" r="3.3" class="n c1"/>
<circle cx="234.1" cy="1710.3" r="3.3" class="n c5"/>
<circle cx="189.3" cy="1703.1" r="3.3" class="n c1"/>
<circle cx="224.2" cy="1731.1" r="3.3" class="n c1"/>
<circle cx="206.9" cy="1700.8" r="3.3" class="n c1"/>
<circle cx="234.3" cy="1683.7" r="3.3" class="n c1"/>
<circle cx="211.3" cy="1735.2" r="3.3" class="n c1"/>
<circle cx="197.2" cy="1697.3" r="3.3" class="n c1"/>
<circle cx="220.6" cy="1717.6" r="3.3" class="n c1"/>
<circle cx="230.8" cy="1766.0" r="3.3" class="n c10"/>
<circle cx="243.9" cy="1761.6" r="3.3" class="n c8"/>
<circle cx="237.9" cy="1717.2" r="3.3" class="n c8"/>
<circle cx="193.1" cy="1718.0" r="3.3" class="n c1"/>
<circle cx="210.7" cy="1718.5" r="3.3" class="n c0"/>
<circle cx="237.7" cy="1732.5" r="3.3" class="n c14"/>
<circle cx="214.3" cy="1722.9" r="3.3" class="n c1"/>
<circle cx="201.4" cy="1684.9" r="3.3" class="n c1"/>
<circle cx="226.4" cy="1759.3" r="3.3" class="n c1"/>
<circle cx="243.4" cy="1777.4" r="3.3" class="n c14"/>
<circle cx="233.7" cy="1758.3" r="3.3" class="n c14"/>
<circle cx="226.5" cy="1740.8" r="3.3" class="n c1"/>
<circle cx="235.4" cy="1690.9" r="3.3" class="n c1"/>
<circle cx="221.8" cy="1735.8" r="3.3" class="n c1"/>
<circle cx="222.6" cy="1706.5" r="3.3" class="n c1"/>
<circle cx="242.2" cy="1780.2" r="3.3" class="n c7"/>
<circle cx="230.9" cy="1764.8" r="3.3" class="n c14"/>
<circle cx="208.1" cy="1718.8" r="3.3" class="n c1"/>
<circle cx="181.3" cy="1697.8" r="3.3" class="n c1"/>
<circle cx="242.8" cy="1766.9" r="3.3" class="n c1"/>
<circle cx="228.2" cy="1755.7" r="3.3" class="n c1"/>
<circle cx="240.0" cy="1726.6" r="3.3" class="n c14"/>
<circle cx="190.6" cy="1711.5" r="3.3" class="n c8"/>
<circle cx="174.0" cy="1684.1" r="3.3" class="n c0"/>
<circle cx="232.4" cy="1714.3" r="3.3" class="n c8"/>
<circle cx="240.1" cy="1687.7" r="3.3" class="n c8"/>
<circle cx="238.9" cy="1766.2" r="3.3" class="n c9"/>
<circle cx="241.2" cy="1782.1" r="3.3" class="n c12"/>
<circle cx="233.7" cy="1684.7" r="3.3" class="n c10"/>
<circle cx="209.3" cy="1708.0" r="3.3" class="n c1"/>
<circle cx="229.1" cy="1762.4" r="3.3" class="n c8"/>
<circle cx="232.1" cy="1769.5" r="3.3" class="n c1"/>
<circle cx="232.0" cy="1760.7" r="3.3" class="n c9"/>
<circle cx="237.1" cy="1743.1" r="3.3" class="n c1"/>
<circle cx="219.4" cy="1736.4" r="3.3" class="n c1"/>
<circle cx="225.7" cy="1739.8" r="3.3" class="n c1"/>
<circle cx="212.4" cy="1711.5" r="3.3" class="n c1"/>
<circle cx="237.5" cy="1709.1" r="3.3" class="n c9"/>
<circle cx="232.3" cy="1724.3" r="3.3" class="n c5"/>
<circle cx="225.0" cy="1759.3" r="3.3" class="n c1"/>
<circle cx="211.1" cy="1738.5" r="3.3" class="n c0"/>
<circle cx="211.1" cy="1731.3" r="3.3" class="n c1"/>
<circle cx="240.0" cy="1764.2" r="3.3" class="n c10"/>
<circle cx="199.1" cy="1709.2" r="3.3" class="n c1"/>
<circle cx="231.8" cy="1760.8" r="3.3" class="n c1"/>
<circle cx="239.2" cy="1691.6" r="3.3" class="n c9"/>
<circle cx="234.3" cy="1747.9" r="3.3" class="n c9"/>
<circle cx="230.3" cy="1762.5" r="3.3" class="n c9"/>
<circle cx="229.5" cy="1693.9" r="3.3" class="n c1"/>
<circle cx="223.5" cy="1744.9" r="3.3" class="n c1"/>
<circle cx="215.7" cy="1734.6" r="3.3" class="n c1"/>
<circle cx="237.1" cy="1767.2" r="3.3" class="n c8"/>
<circle cx="212.1" cy="1701.3" r="3.3" class="n c1"/>
<circle cx="237.0" cy="1764.9" r="3.3" class="n c10"/>
<circle cx="222.6" cy="1706.3" r="3.3" class="n c1"/>
<circle cx="241.0" cy="1717.5" r="3.3" class="n c9"/>
<circle cx="213.9" cy="1739.5" r="3.3" class="n c8"/>
<circle cx="243.2" cy="1775.5" r="3.3" class="n c8"/>
<circle cx="212.7" cy="1725.9" r="3.3" class="n c1"/>
<circle cx="205.5" cy="1708.0" r="3.3" class="n c1"/>
<circle cx="232.7" cy="1738.9" r="3.3" class="n c1"/>
<circle cx="234.0" cy="1721.7" r="3.3" class="n c9"/>
<circle cx="226.7" cy="1729.5" r="3.3" class="n c1"/>
<circle cx="241.5" cy="1744.5" r="3.3" class="n c5"/>
<circle cx="235.0" cy="1734.3" r="3.3" class="n c5"/>
<circle cx="205.1" cy="1703.7" r="3.3" class="n c1"/>
<circle cx="195.1" cy="1722.6" r="3.3" class="n c2"/>
<circle cx="167.0" cy="1692.9" r="3.3" class="n c1"/>
<circle cx="239.3" cy="1764.1" r="3.3" class="n c8"/>
<circle cx="238.5" cy="1772.8" r="3.3" class="n c12"/>
<circle cx="210.7" cy="1687.4" r="3.3" class="n c1"/>
<circle cx="207.2" cy="1721.5" r="3.3" class="n c1"/>
<circle cx="212.9" cy="1715.0" r="3.3" class="n c1"/>
<circle cx="217.5" cy="1721.4" r="3.3" class="n c1"/>
<circle cx="187.7" cy="1693.7" r="3.3" class="n c1"/>
<circle cx="230.8" cy="1703.1" r="3.3" class="n c1"/>
<circle cx="226.3" cy="1697.6" r="3.3" class="n c1"/>
<circle cx="241.6" cy="1770.1" r="3.3" class="n c0"/>
<circle cx="238.6" cy="1763.5" r="3.3" class="n c8"/>
<circle cx="219.6" cy="1723.2" r="3.3" class="n c2"/>
<circle cx="214.9" cy="1709.7" r="3.3" class="n c0"/>
<circle cx="230.9" cy="1752.0" r="3.3" class="n c5"/>
<circle cx="230.1" cy="1740.9" r="3.3" class="n c1"/>
<circle cx="243.4" cy="1764.9" r="3.3" class="n c10"/>
<circle cx="229.6" cy="1746.1" r="3.3" class="n c8"/>
<circle cx="235.2" cy="1767.1" r="3.3" class="n c8"/>
<circle cx="218.4" cy="1745.5" r="3.3" class="n c1"/>
<circle cx="174.1" cy="1707.1" r="3.3" class="n c1"/>
<circle cx="215.0" cy="1724.4" r="3.3" class="n c1"/>
<circle cx="239.9" cy="1690.1" r="3.3" class="n c1"/>
<circle cx="218.3" cy="1723.6" r="3.3" class="n c1"/>
<circle cx="213.1" cy="1729.8" r="3.3" class="n c1"/>
<circle cx="202.8" cy="1688.0" r="3.3" class="n c1"/>
<circle cx="217.3" cy="1732.4" r="3.3" class="n c1"/>
<circle cx="219.8" cy="1725.0" r="3.3" class="n c1"/>
<circle cx="232.7" cy="1770.2" r="3.3" class="n c9"/>
<circle cx="227.1" cy="1736.2" r="3.3" class="n c1"/>
<circle cx="205.2" cy="1716.6" r="3.3" class="n c1"/>
<circle cx="187.1" cy="1708.7" r="3.3" class="n c1"/>
<circle cx="219.8" cy="1708.4" r="3.3" class="n c1"/>
<circle cx="235.3" cy="1681.7" r="3.3" class="n c8"/>
<circle cx="183.6" cy="1690.7" r="3.3" class="n c1"/>
<circle cx="238.3" cy="1769.5" r="3.3" class="n c12"/>
<circle cx="209.8" cy="1732.6" r="3.3" class="n c1"/>
<circle cx="238.6" cy="1774.0" r="3.3" class="n c12"/>
<circle cx="218.7" cy="1726.0" r="3.3" class="n c1"/>
<circle cx="225.0" cy="1750.0" r="3.3" class="n c1"/>
<circle cx="228.3" cy="1753.5" r="3.3" class="n c1"/>
<circle cx="222.4" cy="1682.6" r="3.3" class="n c1"/>
<circle cx="242.5" cy="1777.7" r="3.3" class="n c1"/>
<circle cx="218.5" cy="1746.8" r="3.3" class="n c2"/>
<circle cx="231.3" cy="1740.1" r="3.3" class="n c1"/>
<circle cx="217.8" cy="1723.0" r="3.3" class="n c1"/>
<circle cx="217.4" cy="1741.0" r="3.3" class="n c1"/>
<circle cx="235.9" cy="1734.2" r="3.3" class="n c8"/>
<circle cx="231.5" cy="1758.8" r="3.3" class="n c1"/>
<circle cx="238.0" cy="1758.9" r="3.3" class="n c7"/>
<circle cx="199.2" cy="1722.6" r="3.3" class="n c1"/>
<circle cx="237.3" cy="1740.6" r="3.3" class="n c14"/>
<circle cx="192.5" cy="1716.7" r="3.3" class="n c0"/>
<circle cx="205.5" cy="1712.9" r="3.3" class="n c1"/>
<circle cx="216.1" cy="1744.3" r="3.3" class="n c1"/>
<circle cx="212.0" cy="1737.3" r="3.3" class="n c1"/>
<circle cx="216.2" cy="1732.7" r="3.3" class="n c1"/>
<circle cx="241.4" cy="1782.9" r="3.3" class="n c10"/>
<circle cx="241.3" cy="1770.6" r="3.3" class="n c9"/>
<circle cx="199.3" cy="1712.8" r="3.3" class="n c1"/>
<circle cx="237.4" cy="1738.3" r="3.3" class="n c10"/>
<circle cx="234.4" cy="1742.3" r="3.3" class="n c7"/>
<circle cx="236.2" cy="1769.8" r="3.3" class="n c1"/>
<circle cx="239.3" cy="1761.2" r="3.3" class="n c8"/>
<circle cx="232.4" cy="1752.7" r="3.3" class="n c8"/>
<circle cx="210.5" cy="1705.9" r="3.3" class="n c1"/>
<circle cx="179.9" cy="1693.1" r="3.3" class="n c1"/>
<circle cx="212.4" cy="1736.5" r="3.3" class="n c1"/>
<circle cx="213.4" cy="1723.6" r="3.3" class="n c1"/>
<circle cx="234.5" cy="1747.0" r="3.3" class="n c9"/>
<circle cx="202.5" cy="1709.8" r="3.3" class="n c1"/>
<circle cx="229.7" cy="1765.6" r="3.3" class="n c1"/>
<circle cx="216.0" cy="1710.3" r="3.3" class="n c1"/>
<circle cx="212.8" cy="1733.1" r="3.3" class="n c1"/>
<circle cx="223.9" cy="1736.8" r="3.3" class="n c1"/>
<circle cx="189.6" cy="1714.5" r="3.3" class="n c8"/>
<circle cx="228.1" cy="1763.3" r="3.3" class="n c0"/>
<circle cx="229.0" cy="1729.6" r="3.3" class="n c1"/>
<circle cx="209.5" cy="1730.3" r="3.3" class="n c1"/>
<circle cx="229.6" cy="1726.5" r="3.3" class="n c1"/>
<circle cx="240.6" cy="1774.0" r="3.3" class="n c7"/>
<circle cx="240.8" cy="1780.6" r="3.3" class="n c14"/>
<circle cx="227.1" cy="1715.0" r="3.3" class="n c1"/>
<circle cx="198.2" cy="1696.5" r="3.3" class="n c1"/>
<circle cx="239.8" cy="1759.4" r="3.3" class="n c7"/>
<circle cx="220.3" cy="1728.1" r="3.3" class="n c1"/>
<circle cx="230.8" cy="1753.2" r="3.3" class="n c10"/>
<circle cx="222.2" cy="1731.7" r="3.3" class="n c1"/>
<circle cx="221.2" cy="1715.8" r="3.3" class="n c1"/>
<circle cx="228.2" cy="1754.6" r="3.3" class="n c1"/>
<circle cx="207.4" cy="1692.3" r="3.3" class="n c1"/>
<circle cx="241.0" cy="1737.0" r="3.3" class="n c8"/>
<circle cx="244.0" cy="1767.7" r="3.3" class="n c9"/>
<circle cx="236.3" cy="1740.5" r="3.3" class="n c8"/>
<circle cx="185.0" cy="1695.4" r="3.3" class="n c1"/>
<circle cx="223.8" cy="1754.8" r="3.3" class="n c1"/>
<circle cx="232.3" cy="1730.2" r="3.3" class="n c5"/>
<circle cx="189.0" cy="1686.4" r="3.3" class="n c1"/>
<circle cx="225.4" cy="1756.9" r="3.3" class="n c1"/>
<circle cx="234.9" cy="1770.6" r="3.3" class="n c9"/>
<circle cx="242.5" cy="1754.8" r="3.3" class="n c1"/>
<circle cx="255.1" cy="1755.3" r="3.3" class="n c6"/>
<circle cx="244.5" cy="1747.5" r="3.3" class="n c4"/>
<circle cx="251.4" cy="1726.9" r="3.3" class="n c1"/>
<circle cx="258.5" cy="1699.9" r="3.3" class="n c4"/>
<circle cx="266.7" cy="1730.4" r="3.3" class="n c10"/>
<circle cx="249.5" cy="1738.7" r="3.3" class="n c8"/>
<circle cx="257.7" cy="1721.5" r="3.3" class="n c10"/>
<circle cx="262.5" cy="1738.4" r="3.3" class="n c8"/>
<circle cx="253.4" cy="1763.6" r="3.3" class="n c7"/>
<circle cx="254.4" cy="1757.9" r="3.3" class="n c1"/>
<circle cx="261.3" cy="1718.6" r="3.3" class="n c7"/>
<circle cx="258.5" cy="1733.2" r="3.3" class="n c9"/>
<circle cx="255.0" cy="1752.4" r="3.3" class="n c6"/>
<circle cx="280.1" cy="1681.3" r="3.3" class="n c9"/>
<circle cx="269.0" cy="1689.7" r="3.3" class="n c1"/>
<circle cx="261.1" cy="1733.2" r="3.3" class="n c8"/>
<circle cx="246.6" cy="1779.8" r="3.3" class="n c6"/>
<circle cx="259.5" cy="1687.8" r="3.3" class="n c9"/>
<circle cx="272.6" cy="1695.8" r="3.3" class="n c4"/>
<circle cx="294.2" cy="1700.6" r="3.3" class="n c9"/>
<circle cx="253.8" cy="1741.6" r="3.3" class="n c6"/>
<circle cx="250.1" cy="1765.4" r="3.3" class="n c1"/>
<circle cx="270.7" cy="1722.1" r="3.3" class="n c1"/>
<circle cx="257.0" cy="1749.7" r="3.3" class="n c1"/>
<circle cx="248.4" cy="1763.8" r="3.3" class="n c6"/>
<circle cx="279.1" cy="1701.9" r="3.3" class="n c10"/>
<circle cx="251.1" cy="1714.9" r="3.3" class="n c1"/>
<circle cx="249.1" cy="1746.9" r="3.3" class="n c4"/>
<circle cx="278.5" cy="1703.4" r="3.3" class="n c0"/>
<circle cx="285.8" cy="1708.3" r="3.3" class="n c9"/>
<circle cx="250.4" cy="1728.1" r="3.3" class="n c6"/>
<circle cx="251.6" cy="1699.5" r="3.3" class="n c7"/>
<circle cx="266.8" cy="1709.0" r="3.3" class="n c8"/>
<circle cx="282.2" cy="1691.1" r="3.3" class="n c10"/>
<circle cx="264.2" cy="1687.9" r="3.3" class="n c11"/>
<circle cx="269.1" cy="1726.1" r="3.3" class="n c1"/>
<circle cx="254.5" cy="1711.7" r="3.3" class="n c7"/>
<circle cx="255.8" cy="1694.9" r="3.3" class="n c6"/>
<circle cx="274.6" cy="1687.2" r="3.3" class="n c6"/>
<circle cx="259.4" cy="1705.6" r="3.3" class="n c10"/>
<circle cx="248.8" cy="1760.8" r="3.3" class="n c6"/>
<circle cx="251.4" cy="1746.1" r="3.3" class="n c6"/>
<circle cx="244.3" cy="1766.8" r="3.3" class="n c8"/>
<circle cx="248.1" cy="1777.5" r="3.3" class="n c6"/>
<circle cx="256.6" cy="1708.2" r="3.3" class="n c1"/>
<circle cx="263.2" cy="1682.3" r="3.3" class="n c9"/>
<circle cx="247.4" cy="1746.4" r="3.3" class="n c1"/>
<circle cx="262.8" cy="1696.6" r="3.3" class="n c9"/>
<circle cx="264.1" cy="1731.9" r="3.3" class="n c6"/>
<circle cx="254.6" cy="1762.0" r="3.3" class="n c8"/>
<circle cx="265.9" cy="1724.6" r="3.3" class="n c8"/>
<circle cx="266.6" cy="1725.8" r="3.3" class="n c5"/>
<circle cx="254.2" cy="1724.9" r="3.3" class="n c10"/>
<circle cx="255.5" cy="1703.3" r="3.3" class="n c10"/>
<circle cx="254.6" cy="1756.8" r="3.3" class="n c1"/>
<circle cx="269.9" cy="1719.9" r="3.3" class="n c9"/>
<circle cx="290.8" cy="1702.0" r="3.3" class="n c6"/>
<circle cx="264.8" cy="1734.1" r="3.3" class="n c10"/>
<circle cx="260.5" cy="1745.8" r="3.3" class="n c1"/>
<circle cx="264.5" cy="1725.2" r="3.3" class="n c10"/>
<circle cx="249.9" cy="1750.8" r="3.3" class="n c1"/>
<circle cx="264.6" cy="1711.9" r="3.3" class="n c11"/>
<circle cx="271.4" cy="1693.1" r="3.3" class="n c4"/>
<circle cx="257.0" cy="1745.2" r="3.3" class="n c9"/>
<circle cx="266.5" cy="1732.4" r="3.3" class="n c1"/>
<circle cx="258.9" cy="1723.1" r="3.3" class="n c10"/>
<circle cx="248.2" cy="1763.7" r="3.3" class="n c6"/>
<circle cx="255.9" cy="1690.1" r="3.3" class="n c7"/>
<circle cx="254.3" cy="1757.4" r="3.3" class="n c4"/>
<circle cx="248.4" cy="1774.2" r="3.3" class="n c6"/>
<circle cx="269.3" cy="1711.8" r="3.3" class="n c8"/>
<circle cx="259.7" cy="1735.8" r="3.3" class="n c1"/>
<circle cx="266.8" cy="1688.9" r="3.3" class="n c11"/>
<circle cx="247.6" cy="1738.0" r="3.3" class="n c5"/>
<circle cx="245.5" cy="1782.0" r="3.3" class="n c6"/>
<circle cx="296.4" cy="1684.6" r="3.3" class="n c7"/>
<circle cx="283.4" cy="1693.9" r="3.3" class="n c4"/>
<circle cx="256.9" cy="1750.2" r="3.3" class="n c8"/>
<circle cx="263.0" cy="1714.9" r="3.3" class="n c8"/>
<circle cx="251.2" cy="1703.4" r="3.3" class="n c5"/>
<circle cx="256.6" cy="1750.8" r="3.3" class="n c8"/>
<circle cx="262.8" cy="1691.6" r="3.3" class="n c8"/>
<circle cx="252.1" cy="1737.2" r="3.3" class="n c7"/>
<circle cx="276.9" cy="1710.1" r="3.3" class="n c10"/>
<circle cx="290.9" cy="1710.3" r="3.3" class="n c1"/>
<circle cx="260.4" cy="1726.7" r="3.3" class="n c11"/>
<circle cx="252.4" cy="1740.9" r="3.3" class="n c7"/>
<circle cx="247.1" cy="1757.4" r="3.3" class="n c1"/>
<circle cx="245.1" cy="1749.8" r="3.3" class="n c5"/>
<circle cx="254.4" cy="1724.7" r="3.3" class="n c8"/>
<circle cx="254.9" cy="1761.2" r="3.3" class="n c7"/>
<circle cx="253.3" cy="1749.1" r="3.3" class="n c7"/>
<circle cx="266.3" cy="1695.9" r="3.3" class="n c10"/>
<circle cx="301.2" cy="1680.5" r="3.3" class="n c9"/>
<circle cx="262.7" cy="1723.7" r="3.3" class="n c8"/>
<circle cx="244.6" cy="1726.5" r="3.3" class="n c1"/>
<circle cx="273.7" cy="1705.2" r="3.3" class="n c0"/>
<circle cx="245.4" cy="1710.6" r="3.3" class="n c7"/>
<circle cx="251.8" cy="1766.4" r="3.3" class="n c1"/>
<circle cx="249.9" cy="1730.8" r="3.3" class="n c1"/>
<circle cx="276.1" cy="1708.2" r="3.3" class="n c8"/>
<circle cx="249.8" cy="1766.6" r="3.3" class="n c1"/>
<circle cx="244.5" cy="1756.2" r="3.3" class="n c6"/>
<circle cx="248.7" cy="1702.5" r="3.3" class="n c8"/>
<circle cx="245.4" cy="1719.0" r="3.3" class="n c1"/>
<circle cx="260.8" cy="1734.4" r="3.3" class="n c1"/>
<circle cx="249.4" cy="1768.1" r="3.3" class="n c6"/>
<circle cx="271.0" cy="1722.2" r="3.3" class="n c10"/>
<circle cx="254.9" cy="1759.9" r="3.3" class="n c4"/>
<circle cx="246.2" cy="1723.1" r="3.3" class="n c6"/>
<circle cx="275.8" cy="1705.2" r="3.3" class="n c11"/>
<circle cx="262.7" cy="1727.4" r="3.3" class="n c11"/>
<circle cx="280.8" cy="1711.3" r="3.3" class="n c8"/>
<circle cx="247.8" cy="1718.2" r="3.3" class="n c7"/>
<circle cx="246.3" cy="1727.9" r="3.3" class="n c6"/>
<circle cx="266.7" cy="1713.7" r="3.3" class="n c4"/>
<circle cx="247.4" cy="1713.7" r="3.3" class="n c1"/>
<circle cx="259.1" cy="1742.0" r="3.3" class="n c7"/>
<circle cx="249.1" cy="1733.4" r="3.3" class="n c0"/>
<circle cx="283.3" cy="1703.1" r="3.3" class="n c7"/>
<circle cx="247.7" cy="1750.9" r="3.3" class="n c6"/>
<circle cx="259.1" cy="1750.7" r="3.3" class="n c8"/>
<circle cx="267.2" cy="1702.9" r="3.3" class="n c8"/>
<circle cx="258.2" cy="1728.3" r="3.3" class="n c1"/>
<circle cx="261.6" cy="1741.0" r="3.3" class="n c9"/>
<circle cx="279.4" cy="1695.8" r="3.3" class="n c5"/>
<circle cx="251.6" cy="1752.2" r="3.3" class="n c1"/>
<circle cx="277.9" cy="1690.6" r="3.3" class="n c8"/>
<circle cx="261.1" cy="1745.5" r="3.3" class="n c11"/>
<circle cx="257.8" cy="1752.3" r="3.3" class="n c11"/>
<circle cx="254.9" cy="1726.8" r="3.3" class="n c8"/>
<circle cx="275.7" cy="1711.1" r="3.3" class="n c7"/>
<circle cx="252.7" cy="1735.2" r="3.3" class="n c11"/>
<circle cx="256.9" cy="1732.3" r="3.3" class="n c11"/>
<circle cx="265.5" cy="1724.9" r="3.3" class="n c7"/>
<circle cx="249.4" cy="1688.7" r="3.3" class="n c11"/>
<circle cx="253.5" cy="1738.1" r="3.3" class="n c7"/>
<circle cx="263.1" cy="1702.0" r="3.3" class="n c6"/>
<circle cx="252.6" cy="1752.9" r="3.3" class="n c8"/>
<circle cx="291.1" cy="1702.5" r="3.3" class="n c1"/>
<circle cx="244.7" cy="1784.9" r="3.3" class="n c7"/>
<circle cx="278.6" cy="1684.6" r="3.3" class="n c11"/>
<circle cx="259.0" cy="1695.3" r="3.3" class="n c7"/>
<circle cx="248.8" cy="1739.7" r="3.3" class="n c8"/>
<circle cx="282.1" cy="1716.2" r="3.3" class="n c7"/>
<circle cx="285.4" cy="1696.3" r="3.3" class="n c11"/>
<circle cx="264.9" cy="1715.1" r="3.3" class="n c9"/>
<circle cx="260.6" cy="1735.7" r="3.3" class="n c9"/>
<circle cx="274.0" cy="1687.8" r="3.3" class="n c9"/>
<circle cx="269.5" cy="1709.3" r="3.3" class="n c8"/>
<circle cx="267.8" cy="1689.4" r="3.3" class="n c1"/>
<circle cx="249.8" cy="1683.9" r="3.3" class="n c7"/>
<circle cx="256.0" cy="1748.4" r="3.3" class="n c8"/>
<circle cx="253.5" cy="1733.7" r="3.3" class="n c9"/>
<circle cx="266.6" cy="1730.1" r="3.3" class="n c8"/>
<circle cx="247.8" cy="1763.8" r="3.3" class="n c1"/>
<circle cx="263.3" cy="1694.7" r="3.3" class="n c0"/>
<circle cx="273.3" cy="1681.4" r="3.3" class="n c9"/>
<circle cx="255.5" cy="1753.0" r="3.3" class="n c7"/>
<circle cx="253.1" cy="1705.9" r="3.3" class="n c6"/>
<circle cx="256.1" cy="1745.0" r="3.3" class="n c8"/>
<circle cx="247.5" cy="1757.5" r="3.3" class="n c6"/>
<circle cx="251.4" cy="1681.2" r="3.3" class="n c10"/>
<circle cx="244.5" cy="1760.2" r="3.3" class="n c8"/>
<circle cx="266.3" cy="1704.9" r="3.3" class="n c9"/>
<circle cx="245.7" cy="1763.3" r="3.3" class="n c11"/>
<circle cx="253.4" cy="1764.8" r="3.3" class="n c6"/>
<circle cx="259.8" cy="1722.3" r="3.3" class="n c8"/>
<circle cx="248.0" cy="1760.1" r="3.3" class="n c10"/>
<circle cx="248.2" cy="1765.3" r="3.3" class="n c1"/>
<circle cx="250.3" cy="1755.9" r="3.3" class="n c7"/>
<circle cx="244.4" cy="1701.5" r="3.3" class="n c11"/>
<circle cx="251.4" cy="1750.6" r="3.3" class="n c8"/>
<circle cx="248.7" cy="1747.6" r="3.3" class="n c6"/>
<circle cx="253.6" cy="1711.1" r="3.3" class="n c6"/>
<circle cx="255.8" cy="1738.9" r="3.3" class="n c6"/>
<circle cx="246.1" cy="1751.1" r="3.3" class="n c7"/>
<circle cx="273.0" cy="1720.5" r="3.3" class="n c11"/>
<circle cx="260.8" cy="1734.6" r="3.3" class="n c6"/>
<circle cx="256.6" cy="1752.3" r="3.3" class="n c5"/>
<circle cx="250.6" cy="1741.6" r="3.3" class="n c1"/>
<circle cx="269.7" cy="1718.7" r="3.3" class="n c5"/>
<circle cx="288.9" cy="1701.2" r="3.3" class="n c5"/>
<circle cx="272.2" cy="1713.7" r="3.3" class="n c9"/>
<circle cx="247.4" cy="1753.8" r="3.3" class="n c6"/>
<circle cx="266.9" cy="1722.7" r="3.3" class="n c7"/>
<circle cx="261.1" cy="1719.6" r="3.3" class="n c9"/>
<circle cx="255.9" cy="1718.2" r="3.3" class="n c10"/>
<circle cx="260.7" cy="1716.9" r="3.3" class="n c5"/>
<circle cx="254.0" cy="1746.9" r="3.3" class="n c1"/>
<circle cx="309.0" cy="1691.3" r="3.3" class="n c8"/>
<circle cx="314.2" cy="1687.2" r="3.3" class="n c10"/>
<circle cx="322.0" cy="1691.3" r="3.3" class="n c7"/>
<circle cx="327.2" cy="1697.2" r="3.3" class="n c1"/>
<circle cx="301.2" cy="1699.7" r="3.3" class="n c11"/>
<circle cx="353.1" cy="1687.2" r="3.3" class="n c10"/>
<circle cx="335.0" cy="1687.2" r="3.3" class="n c7"/>
<circle cx="319.4" cy="1727.2" r="3.3" class="n c9"/>
<circle cx="283.1" cy="1728.9" r="3.3" class="n c9"/>
<circle cx="301.2" cy="1743.9" r="3.3" class="n c7"/>
<circle cx="288.3" cy="1685.5" r="3.3" class="n c6"/>
<circle cx="293.5" cy="1703.9" r="3.3" class="n c10"/>
<circle cx="88.7" cy="1710.0" r="3.3" class="n c7"/>
<circle cx="88.7" cy="1716.0" r="3.3" class="n c1"/>
<circle cx="88.7" cy="1722.0" r="3.3" class="n c1"/>
<circle cx="88.7" cy="1728.0" r="3.3" class="n c8"/>
<circle cx="88.7" cy="1734.0" r="3.3" class="n c9"/>
<circle cx="88.7" cy="1700.0" r="3.3" class="n c1"/>
<circle cx="88.7" cy="1738.0" r="3.3" class="n c7"/>
<circle cx="400.2" cy="1680.0" r="3.3" class="n c1"/>
<circle cx="400.2" cy="1688.0" r="3.3" class="n c9"/>
<circle cx="400.2" cy="1694.0" r="3.3" class="n c8"/>
<circle cx="400.2" cy="1700.0" r="3.3" class="n c7"/>
<circle cx="400.2" cy="1706.0" r="3.3" class="n c5"/>
<circle cx="400.2" cy="1712.0" r="3.3" class="n c6"/>
<circle cx="400.2" cy="1718.0" r="3.3" class="n c1"/>
<circle cx="400.2" cy="1724.0" r="3.3" class="n c7"/>
<circle cx="400.2" cy="1730.0" r="3.3" class="n c9"/>
<line x1="244.2" y1="1438" x2="244.2" y2="1792" stroke="#000" stroke-width="1.6" stroke-dasharray="1.6 3.6"/>
<line x1="83.6" y1="1678.8" x2="406.8" y2="1678.8" stroke="#000" stroke-width="1.6" stroke-dasharray="1.6 3.6"/>
<circle cx="176.4" cy="1462.8" r="3.3" class="s c1"/>
<circle cx="193.0" cy="1581.4" r="3.3" class="s c1"/>
<circle cx="200.1" cy="1583.6" r="3.3" class="s c1"/>
<circle cx="176.8" cy="1617.3" r="3.3" class="s c1"/>
<circle cx="185.7" cy="1639.5" r="3.3" class="s c1"/>
<circle cx="187.5" cy="1644.0" r="3.3" class="s c1"/>
<circle cx="195.2" cy="1634.4" r="3.3" class="s c1"/>
<circle cx="199.2" cy="1639.5" r="3.3" class="s c1"/>
<circle cx="207.0" cy="1634.4" r="3.3" class="s c1"/>
<circle cx="203.0" cy="1639.5" r="3.3" class="s c9"/>
<circle cx="199.2" cy="1655.0" r="3.3" class="s c1"/>
<circle cx="175.3" cy="1673.8" r="3.3" class="s c1"/>
<circle cx="179.7" cy="1669.0" r="3.3" class="s c1"/>
<circle cx="183.0" cy="1672.0" r="3.3" class="s c1"/>
<circle cx="189.0" cy="1675.5" r="3.3" class="s c1"/>
<circle cx="192.3" cy="1669.0" r="3.3" class="s c1"/>
<circle cx="197.4" cy="1675.5" r="3.3" class="s c1"/>
<circle cx="200.8" cy="1669.0" r="3.3" class="s c1"/>
<circle cx="206.3" cy="1669.4" r="3.3" class="s c1"/>
<circle cx="209.0" cy="1673.0" r="3.3" class="s c1"/>
<circle cx="212.0" cy="1669.0" r="3.3" class="s c1"/>
<circle cx="215.0" cy="1673.5" r="3.3" class="s c1"/>
<circle cx="218.0" cy="1669.0" r="3.3" class="s c1"/>
<circle cx="224.4" cy="1671.0" r="3.3" class="s c1"/>
<circle cx="227.5" cy="1669.0" r="3.3" class="s c1"/>
<circle cx="213.0" cy="1660.5" r="3.3" class="s c9"/>
<circle cx="216.3" cy="1661.2" r="3.3" class="s c9"/>
<circle cx="221.4" cy="1669.0" r="3.3" class="s c9"/>
<circle cx="235.8" cy="1669.0" r="3.3" class="s c2"/>
<circle cx="231.0" cy="1670.0" r="3.3" class="s c1"/>
<circle cx="274.6" cy="1614.7" r="3.3" class="s c5"/>
<circle cx="281.2" cy="1634.4" r="3.3" class="s c3"/>
<circle cx="281.2" cy="1639.5" r="3.3" class="s c3"/>
<circle cx="283.5" cy="1654.6" r="3.3" class="s c3"/>
<circle cx="280.6" cy="1661.0" r="3.3" class="s c3"/>
<circle cx="285.0" cy="1663.9" r="3.3" class="s c3"/>
<circle cx="280.6" cy="1671.6" r="3.3" class="s c3"/>
<circle cx="291.7" cy="1675.0" r="3.3" class="s c3"/>
<circle cx="293.9" cy="1665.0" r="3.3" class="s c3"/>
<circle cx="317.1" cy="1669.0" r="3.3" class="s c3"/>
<circle cx="323.1" cy="1669.0" r="3.3" class="s c3"/>
<circle cx="347.5" cy="1670.0" r="3.3" class="s c3"/>
<circle cx="273.3" cy="1669.0" r="3.3" class="s c3"/>
<circle cx="276.5" cy="1669.0" r="3.3" class="s c3"/>
<circle cx="252.2" cy="1673.8" r="3.3" class="s c15"/>
<circle cx="261.3" cy="1670.0" r="3.3" class="s c5"/>
<circle cx="305.6" cy="1663.9" r="3.3" class="s c5"/>
<circle cx="336.0" cy="1673.8" r="3.3" class="s c5"/>
<circle cx="290.5" cy="1669.0" r="3.3" class="s c5"/>
<circle cx="295.0" cy="1670.5" r="3.3" class="s c5"/>
<circle cx="266.6" cy="1669.0" r="3.3" class="s c9"/>
<circle cx="300.5" cy="1669.0" r="3.3" class="s c7"/>
<circle cx="330.0" cy="1669.0" r="3.3" class="s c7"/>
<circle cx="88.7" cy="1669.0" r="3.3" class="s c9"/>
<circle cx="399.8" cy="1655.0" r="3.3" class="s c4"/>
<circle cx="399.8" cy="1669.0" r="3.3" class="s c10"/>
<text x="661.8" y="1355.5" font-size="24.7" text-anchor="middle" font-weight="bold">iAstrocytes (BIONi037) II</text>
<text x="559.6" y="1395.7" font-size="21.2" text-anchor="middle">Down in Chol treated</text>
<text x="759.5" y="1395.7" font-size="21.2" text-anchor="middle">Up in Chol treated</text>
<line x1="635.6" y1="1419.0" x2="561.3" y2="1419.0" stroke="#000" stroke-width="1.9"/>
<path d="M553.5,1419.0L566.5,1413.5L562.6,1419.0L566.5,1424.5Z" fill="#000"/>
<line x1="671.0" y1="1419.0" x2="747.0" y2="1419.0" stroke="#000" stroke-width="1.9"/>
<path d="M754.8,1419.0L741.8,1413.5L745.7,1419.0L741.8,1424.5Z" fill="#000"/>
<line x1="491.5" y1="1437.5" x2="491.5" y2="1804.5" stroke="#333" stroke-width="1.9"/>
<line x1="491.5" y1="1803.7" x2="505.0" y2="1803.7" stroke="#333" stroke-width="1.9"/>
<line x1="511.7" y1="1803.7" x2="796.7" y2="1803.7" stroke="#333" stroke-width="1.9"/>
<line x1="802.7" y1="1803.7" x2="816.7" y2="1803.7" stroke="#333" stroke-width="1.9"/>
<line x1="488.2" y1="1787.2" x2="491.5" y2="1787.2" stroke="#333" stroke-width="1.2"/>
<text x="486.5" y="1791.8" font-size="13" text-anchor="end" fill="#4d4d4d">0</text>
<line x1="488.2" y1="1703.9" x2="491.5" y2="1703.9" stroke="#333" stroke-width="1.2"/>
<text x="486.5" y="1708.5" font-size="13" text-anchor="end" fill="#4d4d4d">1</text>
<line x1="488.2" y1="1620.5" x2="491.5" y2="1620.5" stroke="#333" stroke-width="1.2"/>
<text x="486.5" y="1625.1" font-size="13" text-anchor="end" fill="#4d4d4d">2</text>
<line x1="488.2" y1="1537.2" x2="491.5" y2="1537.2" stroke="#333" stroke-width="1.2"/>
<text x="486.5" y="1541.8" font-size="13" text-anchor="end" fill="#4d4d4d">3</text>
<line x1="488.2" y1="1453.8" x2="491.5" y2="1453.8" stroke="#333" stroke-width="1.2"/>
<text x="486.5" y="1458.4" font-size="13" text-anchor="end" fill="#4d4d4d">4</text>
<line x1="498.5" y1="1803.7" x2="498.5" y2="1807.2" stroke="#333" stroke-width="1.2"/>
<line x1="524.5" y1="1803.7" x2="524.5" y2="1807.2" stroke="#333" stroke-width="1.2"/>
<text x="524.5" y="1817.6" font-size="13.3" text-anchor="middle" fill="#4d4d4d">-5</text>
<line x1="550.4" y1="1803.7" x2="550.4" y2="1807.2" stroke="#333" stroke-width="1.2"/>
<text x="550.4" y="1817.6" font-size="13.3" text-anchor="middle" fill="#4d4d4d">-4</text>
<line x1="576.3" y1="1803.7" x2="576.3" y2="1807.2" stroke="#333" stroke-width="1.2"/>
<text x="576.3" y="1817.6" font-size="13.3" text-anchor="middle" fill="#4d4d4d">-3</text>
<line x1="602.2" y1="1803.7" x2="602.2" y2="1807.2" stroke="#333" stroke-width="1.2"/>
<text x="602.2" y="1817.6" font-size="13.3" text-anchor="middle" fill="#4d4d4d">-2</text>
<line x1="628.2" y1="1803.7" x2="628.2" y2="1807.2" stroke="#333" stroke-width="1.2"/>
<text x="628.2" y="1817.6" font-size="13.3" text-anchor="middle" fill="#4d4d4d">-1</text>
<line x1="654.1" y1="1803.7" x2="654.1" y2="1807.2" stroke="#333" stroke-width="1.2"/>
<text x="654.1" y="1817.6" font-size="13.3" text-anchor="middle" fill="#4d4d4d">0</text>
<line x1="680.0" y1="1803.7" x2="680.0" y2="1807.2" stroke="#333" stroke-width="1.2"/>
<text x="680.0" y="1817.6" font-size="13.3" text-anchor="middle" fill="#4d4d4d">1</text>
<line x1="706.0" y1="1803.7" x2="706.0" y2="1807.2" stroke="#333" stroke-width="1.2"/>
<text x="706.0" y="1817.6" font-size="13.3" text-anchor="middle" fill="#4d4d4d">2</text>
<line x1="731.9" y1="1803.7" x2="731.9" y2="1807.2" stroke="#333" stroke-width="1.2"/>
<text x="731.9" y="1817.6" font-size="13.3" text-anchor="middle" fill="#4d4d4d">3</text>
<line x1="757.8" y1="1803.7" x2="757.8" y2="1807.2" stroke="#333" stroke-width="1.2"/>
<text x="757.8" y="1817.6" font-size="13.3" text-anchor="middle" fill="#4d4d4d">4</text>
<line x1="783.8" y1="1803.7" x2="783.8" y2="1807.2" stroke="#333" stroke-width="1.2"/>
<text x="783.8" y="1817.6" font-size="13.3" text-anchor="middle" fill="#4d4d4d">5</text>
<line x1="809.7" y1="1803.7" x2="809.7" y2="1807.2" stroke="#333" stroke-width="1.2"/>
<text x="502.0" y="1817.6" font-size="14" text-anchor="middle" fill="#4d4d4d">only</text>
<text x="502.0" y="1830.3" font-size="14" text-anchor="middle" fill="#4d4d4d">present in</text>
<text x="502.0" y="1843.2" font-size="14" text-anchor="middle" fill="#4d4d4d">control</text>
<text x="813.5" y="1817.6" font-size="14" text-anchor="middle" fill="#4d4d4d">only</text>
<text x="813.5" y="1830.3" font-size="14" text-anchor="middle" fill="#4d4d4d">present in</text>
<text x="813.5" y="1843.2" font-size="14" text-anchor="middle" fill="#4d4d4d">cholesterol</text>
<text x="654.6" y="1857.5" font-size="14.9" text-anchor="middle">log2(fold change)</text>
<text x="476.0" y="1621.0" font-size="14.7" text-anchor="middle" transform="rotate(-90 476.0 1621.0)">-log10(BH adjusted p-value)</text>
<polygon points="498.2,1572.0 497.0,1590.0 495.2,1610.0 492.6,1640.0 491.8,1665.0 492.6,1690.0 495.0,1715.0 496.8,1735.0 498.2,1762.0 498.2,1762.0 499.6,1735.0 501.4,1715.0 503.8,1690.0 504.6,1665.0 503.8,1640.0 501.2,1610.0 499.4,1590.0 498.2,1572.0" fill="none" stroke="#a6abab" stroke-width="1.9" stroke-linejoin="round"/>
<polygon points="809.2,1563.0 808.2,1585.0 806.6,1610.0 803.6,1640.0 802.2,1665.0 802.8,1690.0 806.0,1720.0 807.8,1750.0 809.2,1788.0 809.2,1788.0 810.6,1750.0 812.4,1720.0 815.6,1690.0 816.2,1665.0 814.8,1640.0 811.8,1610.0 810.2,1585.0 809.2,1563.0" fill="none" stroke="#a6abab" stroke-width="1.9" stroke-linejoin="round"/>
<circle cx="642.3" cy="1711.0" r="3.3" class="n c9"/>
<circle cx="650.1" cy="1737.4" r="3.3" class="n c12"/>
<circle cx="617.1" cy="1685.4" r="3.3" class="n c1"/>
<circle cx="637.8" cy="1712.8" r="3.3" class="n c1"/>
<circle cx="623.5" cy="1706.9" r="3.3" class="n c1"/>
<circle cx="621.0" cy="1694.9" r="3.3" class="n c7"/>
<circle cx="639.8" cy="1736.0" r="3.3" class="n c7"/>
<circle cx="632.0" cy="1721.3" r="3.3" class="n c1"/>
<circle cx="635.6" cy="1708.4" r="3.3" class="n c1"/>
<circle cx="637.2" cy="1695.7" r="3.3" class="n c2"/>
<circle cx="638.2" cy="1737.6" r="3.3" class="n c8"/>
<circle cx="622.7" cy="1701.8" r="3.3" class="n c7"/>
<circle cx="642.3" cy="1729.5" r="3.3" class="n c1"/>
<circle cx="626.3" cy="1702.3" r="3.3" class="n c1"/>
<circle cx="652.6" cy="1777.0" r="3.3" class="n c5"/>
<circle cx="644.2" cy="1755.0" r="3.3" class="n c7"/>
<circle cx="615.8" cy="1681.9" r="3.3" class="n c1"/>
<circle cx="640.7" cy="1734.7" r="3.3" class="n c1"/>
<circle cx="650.8" cy="1775.6" r="3.3" class="n c7"/>
<circle cx="648.9" cy="1770.5" r="3.3" class="n c7"/>
<circle cx="641.1" cy="1707.4" r="3.3" class="n c10"/>
<circle cx="646.2" cy="1733.1" r="3.3" class="n c8"/>
<circle cx="637.6" cy="1726.4" r="3.3" class="n c12"/>
<circle cx="644.0" cy="1742.1" r="3.3" class="n c1"/>
<circle cx="635.9" cy="1722.4" r="3.3" class="n c1"/>
<circle cx="641.9" cy="1721.1" r="3.3" class="n c7"/>
<circle cx="642.9" cy="1748.5" r="3.3" class="n c8"/>
<circle cx="629.5" cy="1709.4" r="3.3" class="n c1"/>
<circle cx="647.2" cy="1737.1" r="3.3" class="n c5"/>
<circle cx="646.8" cy="1714.0" r="3.3" class="n c2"/>
<circle cx="627.7" cy="1680.6" r="3.3" class="n c0"/>
<circle cx="650.1" cy="1749.3" r="3.3" class="n c1"/>
<circle cx="610.1" cy="1697.2" r="3.3" class="n c1"/>
<circle cx="645.9" cy="1746.1" r="3.3" class="n c1"/>
<circle cx="628.8" cy="1712.8" r="3.3" class="n c1"/>
<circle cx="644.2" cy="1748.6" r="3.3" class="n c7"/>
<circle cx="629.9" cy="1708.9" r="3.3" class="n c1"/>
<circle cx="647.6" cy="1741.7" r="3.3" class="n c1"/>
<circle cx="645.7" cy="1696.6" r="3.3" class="n c10"/>
<circle cx="651.5" cy="1757.1" r="3.3" class="n c8"/>
<circle cx="653.8" cy="1780.3" r="3.3" class="n c7"/>
<circle cx="649.1" cy="1738.2" r="3.3" class="n c9"/>
<circle cx="626.7" cy="1713.5" r="3.3" class="n c12"/>
<circle cx="648.0" cy="1755.3" r="3.3" class="n c1"/>
<circle cx="638.1" cy="1696.1" r="3.3" class="n c12"/>
<circle cx="650.1" cy="1757.8" r="3.3" class="n c1"/>
<circle cx="641.0" cy="1728.3" r="3.3" class="n c1"/>
<circle cx="614.9" cy="1683.7" r="3.3" class="n c1"/>
<circle cx="629.0" cy="1695.1" r="3.3" class="n c1"/>
<circle cx="639.9" cy="1741.6" r="3.3" class="n c1"/>
<circle cx="645.6" cy="1733.0" r="3.3" class="n c0"/>
<circle cx="650.5" cy="1736.0" r="3.3" class="n c9"/>
<circle cx="651.2" cy="1753.6" r="3.3" class="n c1"/>
<circle cx="635.8" cy="1725.7" r="3.3" class="n c1"/>
<circle cx="652.2" cy="1778.5" r="3.3" class="n c1"/>
<circle cx="637.0" cy="1704.2" r="3.3" class="n c1"/>
<circle cx="646.6" cy="1753.8" r="3.3" class="n c5"/>
<circle cx="646.4" cy="1749.1" r="3.3" class="n c1"/>
<circle cx="635.1" cy="1729.9" r="3.3" class="n c1"/>
<circle cx="629.9" cy="1723.3" r="3.3" class="n c1"/>
<circle cx="637.4" cy="1721.1" r="3.3" class="n c1"/>
<circle cx="627.8" cy="1694.4" r="3.3" class="n c5"/>
<circle cx="627.5" cy="1701.2" r="3.3" class="n c1"/>
<circle cx="634.5" cy="1722.1" r="3.3" class="n c2"/>
<circle cx="643.8" cy="1740.8" r="3.3" class="n c9"/>
<circle cx="653.1" cy="1756.9" r="3.3" class="n c8"/>
<circle cx="643.1" cy="1746.5" r="3.3" class="n c1"/>
<circle cx="643.3" cy="1749.8" r="3.3" class="n c9"/>
<circle cx="610.6" cy="1693.7" r="3.3" class="n c2"/>
<circle cx="619.8" cy="1696.2" r="3.3" class="n c1"/>
<circle cx="619.8" cy="1698.2" r="3.3" class="n c1"/>
<circle cx="644.1" cy="1754.6" r="3.3" class="n c8"/>
<circle cx="634.3" cy="1694.9" r="3.3" class="n c1"/>
<circle cx="633.7" cy="1726.3" r="3.3" class="n c5"/>
<circle cx="625.4" cy="1698.0" r="3.3" class="n c1"/>
<circle cx="642.1" cy="1740.7" r="3.3" class="n c10"/>
<circle cx="639.0" cy="1740.6" r="3.3" class="n c9"/>
<circle cx="612.2" cy="1683.1" r="3.3" class="n c1"/>
<circle cx="636.7" cy="1713.8" r="3.3" class="n c10"/>
<circle cx="649.9" cy="1738.4" r="3.3" class="n c1"/>
<circle cx="615.1" cy="1695.4" r="3.3" class="n c1"/>
<circle cx="645.7" cy="1744.9" r="3.3" class="n c1"/>
<circle cx="652.2" cy="1763.5" r="3.3" class="n c9"/>
<circle cx="652.0" cy="1772.0" r="3.3" class="n c1"/>
<circle cx="622.5" cy="1713.5" r="3.3" class="n c0"/>
<circle cx="650.4" cy="1750.2" r="3.3" class="n c1"/>
<circle cx="639.5" cy="1727.4" r="3.3" class="n c1"/>
<circle cx="651.2" cy="1718.1" r="3.3" class="n c5"/>
<circle cx="625.7" cy="1719.8" r="3.3" class="n c1"/>
<circle cx="642.5" cy="1707.4" r="3.3" class="n c2"/>
<circle cx="624.3" cy="1681.7" r="3.3" class="n c1"/>
<circle cx="632.1" cy="1709.5" r="3.3" class="n c1"/>
<circle cx="636.9" cy="1729.6" r="3.3" class="n c12"/>
<circle cx="640.0" cy="1718.0" r="3.3" class="n c1"/>
<circle cx="651.2" cy="1737.6" r="3.3" class="n c12"/>
<circle cx="633.2" cy="1686.0" r="3.3" class="n c0"/>
<circle cx="651.0" cy="1722.1" r="3.3" class="n c7"/>
<circle cx="639.6" cy="1739.9" r="3.3" class="n c8"/>
<circle cx="644.9" cy="1744.1" r="3.3" class="n c12"/>
<circle cx="636.0" cy="1688.2" r="3.3" class="n c5"/>
<circle cx="649.9" cy="1768.1" r="3.3" class="n c1"/>
<circle cx="645.5" cy="1749.2" r="3.3" class="n c8"/>
<circle cx="641.0" cy="1716.9" r="3.3" class="n c1"/>
<circle cx="631.6" cy="1719.3" r="3.3" class="n c8"/>
<circle cx="635.7" cy="1699.9" r="3.3" class="n c8"/>
<circle cx="638.6" cy="1705.5" r="3.3" class="n c1"/>
<circle cx="640.3" cy="1742.9" r="3.3" class="n c10"/>
<circle cx="645.0" cy="1725.3" r="3.3" class="n c8"/>
<circle cx="649.5" cy="1762.2" r="3.3" class="n c1"/>
<circle cx="645.0" cy="1695.2" r="3.3" class="n c9"/>
<circle cx="650.1" cy="1751.1" r="3.3" class="n c1"/>
<circle cx="641.8" cy="1726.7" r="3.3" class="n c1"/>
<circle cx="614.0" cy="1696.2" r="3.3" class="n c1"/>
<circle cx="644.7" cy="1736.1" r="3.3" class="n c1"/>
<circle cx="637.3" cy="1719.1" r="3.3" class="n c1"/>
<circle cx="633.3" cy="1708.5" r="3.3" class="n c1"/>
<circle cx="633.9" cy="1716.1" r="3.3" class="n c1"/>
<circle cx="645.2" cy="1750.4" r="3.3" class="n c10"/>
<circle cx="652.8" cy="1753.8" r="3.3" class="n c0"/>
<circle cx="644.2" cy="1731.6" r="3.3" class="n c5"/>
<circle cx="620.2" cy="1688.2" r="3.3" class="n c1"/>
<circle cx="645.7" cy="1745.1" r="3.3" class="n c1"/>
<circle cx="648.3" cy="1737.1" r="3.3" class="n c1"/>
<circle cx="647.8" cy="1754.5" r="3.3" class="n c12"/>
<circle cx="642.7" cy="1731.5" r="3.3" class="n c7"/>
<circle cx="651.6" cy="1757.1" r="3.3" class="n c5"/>
<circle cx="647.8" cy="1740.2" r="3.3" class="n c1"/>
<circle cx="640.1" cy="1689.3" r="3.3" class="n c1"/>
<circle cx="650.4" cy="1761.2" r="3.3" class="n c1"/>
<circle cx="636.0" cy="1697.8" r="3.3" class="n c1"/>
<circle cx="639.8" cy="1681.2" r="3.3" class="n c8"/>
<circle cx="646.3" cy="1762.9" r="3.3" class="n c1"/>
<circle cx="648.6" cy="1719.1" r="3.3" class="n c12"/>
<circle cx="637.8" cy="1719.6" r="3.3" class="n c10"/>
<circle cx="633.4" cy="1721.2" r="3.3" class="n c1"/>
<circle cx="650.6" cy="1776.4" r="3.3" class="n c1"/>
<circle cx="623.0" cy="1716.8" r="3.3" class="n c1"/>
<circle cx="645.9" cy="1727.9" r="3.3" class="n c1"/>
<circle cx="631.0" cy="1725.5" r="3.3" class="n c1"/>
<circle cx="633.6" cy="1723.4" r="3.3" class="n c1"/>
<circle cx="648.0" cy="1738.3" r="3.3" class="n c1"/>
<circle cx="616.0" cy="1692.7" r="3.3" class="n c1"/>
<circle cx="627.9" cy="1687.4" r="3.3" class="n c1"/>
<circle cx="648.2" cy="1748.3" r="3.3" class="n c5"/>
<circle cx="646.5" cy="1745.7" r="3.3" class="n c10"/>
<circle cx="644.8" cy="1742.6" r="3.3" class="n c9"/>
<circle cx="646.3" cy="1748.3" r="3.3" class="n c9"/>
<circle cx="649.1" cy="1758.8" r="3.3" class="n c8"/>
<circle cx="637.1" cy="1733.7" r="3.3" class="n c1"/>
<circle cx="650.8" cy="1752.8" r="3.3" class="n c1"/>
<circle cx="643.6" cy="1737.2" r="3.3" class="n c1"/>
<circle cx="638.7" cy="1728.4" r="3.3" class="n c9"/>
<circle cx="636.3" cy="1728.4" r="3.3" class="n c12"/>
<circle cx="647.5" cy="1756.5" r="3.3" class="n c0"/>
<circle cx="621.1" cy="1700.9" r="3.3" class="n c1"/>
<circle cx="635.1" cy="1716.3" r="3.3" class="n c8"/>
<circle cx="635.3" cy="1720.6" r="3.3" class="n c1"/>
<circle cx="637.0" cy="1724.7" r="3.3" class="n c1"/>
<circle cx="634.7" cy="1700.9" r="3.3" class="n c1"/>
<circle cx="648.6" cy="1760.1" r="3.3" class="n c9"/>
<circle cx="650.8" cy="1741.0" r="3.3" class="n c7"/>
<circle cx="630.0" cy="1719.7" r="3.3" class="n c1"/>
<circle cx="648.6" cy="1734.0" r="3.3" class="n c0"/>
<circle cx="610.5" cy="1698.4" r="3.3" class="n c1"/>
<circle cx="617.5" cy="1705.5" r="3.3" class="n c1"/>
<circle cx="643.2" cy="1744.7" r="3.3" class="n c1"/>
<circle cx="634.5" cy="1711.9" r="3.3" class="n c1"/>
<circle cx="630.6" cy="1708.8" r="3.3" class="n c7"/>
<circle cx="650.2" cy="1740.8" r="3.3" class="n c1"/>
<circle cx="630.7" cy="1698.0" r="3.3" class="n c1"/>
<circle cx="623.9" cy="1693.7" r="3.3" class="n c1"/>
<circle cx="605.0" cy="1689.2" r="3.3" class="n c1"/>
<circle cx="618.3" cy="1700.0" r="3.3" class="n c8"/>
<circle cx="649.0" cy="1756.4" r="3.3" class="n c10"/>
<circle cx="626.0" cy="1701.3" r="3.3" class="n c1"/>
<circle cx="617.4" cy="1708.2" r="3.3" class="n c1"/>
<circle cx="635.8" cy="1731.5" r="3.3" class="n c7"/>
<circle cx="645.1" cy="1744.9" r="3.3" class="n c1"/>
<circle cx="626.5" cy="1696.9" r="3.3" class="n c1"/>
<circle cx="646.2" cy="1730.8" r="3.3" class="n c8"/>
<circle cx="652.9" cy="1728.3" r="3.3" class="n c1"/>
<circle cx="631.8" cy="1702.5" r="3.3" class="n c8"/>
<circle cx="644.4" cy="1752.7" r="3.3" class="n c1"/>
<circle cx="653.9" cy="1730.1" r="3.3" class="n c0"/>
<circle cx="652.1" cy="1747.2" r="3.3" class="n c1"/>
<circle cx="625.8" cy="1689.3" r="3.3" class="n c2"/>
<circle cx="651.3" cy="1752.1" r="3.3" class="n c1"/>
<circle cx="631.4" cy="1684.0" r="3.3" class="n c7"/>
<circle cx="636.1" cy="1718.7" r="3.3" class="n c7"/>
<circle cx="644.1" cy="1755.2" r="3.3" class="n c7"/>
<circle cx="650.5" cy="1760.7" r="3.3" class="n c9"/>
<circle cx="638.0" cy="1705.3" r="3.3" class="n c8"/>
<circle cx="637.4" cy="1681.5" r="3.3" class="n c1"/>
<circle cx="631.3" cy="1698.8" r="3.3" class="n c1"/>
<circle cx="639.7" cy="1726.6" r="3.3" class="n c8"/>
<circle cx="632.2" cy="1704.9" r="3.3" class="n c1"/>
<circle cx="647.6" cy="1743.4" r="3.3" class="n c7"/>
<circle cx="639.6" cy="1691.8" r="3.3" class="n c1"/>
<circle cx="648.2" cy="1758.4" r="3.3" class="n c2"/>
<circle cx="654.0" cy="1759.7" r="3.3" class="n c8"/>
<circle cx="648.5" cy="1756.5" r="3.3" class="n c9"/>
<circle cx="628.3" cy="1706.2" r="3.3" class="n c1"/>
<circle cx="634.4" cy="1700.9" r="3.3" class="n c1"/>
<circle cx="619.2" cy="1691.5" r="3.3" class="n c5"/>
<circle cx="634.4" cy="1733.3" r="3.3" class="n c1"/>
<circle cx="641.3" cy="1730.4" r="3.3" class="n c7"/>
<circle cx="654.1" cy="1779.4" r="3.3" class="n c8"/>
<circle cx="637.1" cy="1707.0" r="3.3" class="n c9"/>
<circle cx="641.3" cy="1713.6" r="3.3" class="n c1"/>
<circle cx="647.4" cy="1731.5" r="3.3" class="n c5"/>
<circle cx="597.9" cy="1688.2" r="3.3" class="n c1"/>
<circle cx="636.4" cy="1687.3" r="3.3" class="n c7"/>
<circle cx="647.6" cy="1754.1" r="3.3" class="n c1"/>
<circle cx="645.1" cy="1726.8" r="3.3" class="n c12"/>
<circle cx="648.1" cy="1741.5" r="3.3" class="n c1"/>
<circle cx="648.0" cy="1707.7" r="3.3" class="n c1"/>
<circle cx="628.4" cy="1699.7" r="3.3" class="n c1"/>
<circle cx="641.2" cy="1686.5" r="3.3" class="n c5"/>
<circle cx="649.5" cy="1737.5" r="3.3" class="n c1"/>
<circle cx="653.8" cy="1762.9" r="3.3" class="n c8"/>
<circle cx="639.0" cy="1688.1" r="3.3" class="n c9"/>
<circle cx="616.6" cy="1693.9" r="3.3" class="n c1"/>
<circle cx="638.4" cy="1723.0" r="3.3" class="n c0"/>
<circle cx="630.9" cy="1706.1" r="3.3" class="n c1"/>
<circle cx="642.8" cy="1745.2" r="3.3" class="n c1"/>
<circle cx="650.9" cy="1748.6" r="3.3" class="n c1"/>
<circle cx="634.3" cy="1713.4" r="3.3" class="n c1"/>
<circle cx="651.4" cy="1763.1" r="3.3" class="n c8"/>
<circle cx="641.5" cy="1729.0" r="3.3" class="n c7"/>
<circle cx="627.0" cy="1722.3" r="3.3" class="n c1"/>
<circle cx="631.8" cy="1708.3" r="3.3" class="n c2"/>
<circle cx="644.6" cy="1704.2" r="3.3" class="n c1"/>
<circle cx="609.7" cy="1697.8" r="3.3" class="n c5"/>
<circle cx="641.6" cy="1732.6" r="3.3" class="n c1"/>
<circle cx="641.4" cy="1733.4" r="3.3" class="n c8"/>
<circle cx="652.0" cy="1760.9" r="3.3" class="n c12"/>
<circle cx="629.3" cy="1721.2" r="3.3" class="n c1"/>
<circle cx="649.6" cy="1741.7" r="3.3" class="n c7"/>
<circle cx="633.1" cy="1720.3" r="3.3" class="n c1"/>
<circle cx="616.4" cy="1694.2" r="3.3" class="n c1"/>
<circle cx="640.8" cy="1680.7" r="3.3" class="n c1"/>
<circle cx="646.7" cy="1713.9" r="3.3" class="n c12"/>
<circle cx="649.1" cy="1770.2" r="3.3" class="n c7"/>
<circle cx="651.8" cy="1752.2" r="3.3" class="n c9"/>
<circle cx="636.0" cy="1721.1" r="3.3" class="n c1"/>
<circle cx="636.5" cy="1710.7" r="3.3" class="n c12"/>
<circle cx="643.1" cy="1751.4" r="3.3" class="n c7"/>
<circle cx="635.9" cy="1728.4" r="3.3" class="n c1"/>
<circle cx="636.4" cy="1694.1" r="3.3" class="n c1"/>
<circle cx="641.3" cy="1741.0" r="3.3" class="n c8"/>
<circle cx="643.6" cy="1708.4" r="3.3" class="n c5"/>
<circle cx="652.7" cy="1772.6" r="3.3" class="n c5"/>
<circle cx="632.4" cy="1693.3" r="3.3" class="n c0"/>
<circle cx="646.5" cy="1750.2" r="3.3" class="n c1"/>
<circle cx="627.3" cy="1694.0" r="3.3" class="n c1"/>
<circle cx="623.9" cy="1687.3" r="3.3" class="n c1"/>
<circle cx="631.5" cy="1681.4" r="3.3" class="n c1"/>
<circle cx="645.5" cy="1759.9" r="3.3" class="n c5"/>
<circle cx="614.1" cy="1696.0" r="3.3" class="n c1"/>
<circle cx="639.9" cy="1742.8" r="3.3" class="n c10"/>
<circle cx="641.7" cy="1681.3" r="3.3" class="n c12"/>
<circle cx="652.2" cy="1764.4" r="3.3" class="n c10"/>
<circle cx="639.8" cy="1741.7" r="3.3" class="n c9"/>
<circle cx="651.4" cy="1759.7" r="3.3" class="n c1"/>
<circle cx="640.1" cy="1712.7" r="3.3" class="n c1"/>
<circle cx="640.1" cy="1743.5" r="3.3" class="n c1"/>
<circle cx="645.0" cy="1751.3" r="3.3" class="n c7"/>
<circle cx="626.4" cy="1700.9" r="3.3" class="n c1"/>
<circle cx="624.2" cy="1699.1" r="3.3" class="n c1"/>
<circle cx="629.0" cy="1700.3" r="3.3" class="n c1"/>
<circle cx="649.3" cy="1740.3" r="3.3" class="n c1"/>
<circle cx="630.5" cy="1706.7" r="3.3" class="n c1"/>
<circle cx="640.7" cy="1688.0" r="3.3" class="n c1"/>
<circle cx="631.4" cy="1693.5" r="3.3" class="n c1"/>
<circle cx="642.5" cy="1741.1" r="3.3" class="n c9"/>
<circle cx="651.2" cy="1711.1" r="3.3" class="n c0"/>
<circle cx="651.8" cy="1775.7" r="3.3" class="n c12"/>
<circle cx="644.6" cy="1749.0" r="3.3" class="n c1"/>
<circle cx="625.4" cy="1689.0" r="3.3" class="n c1"/>
<circle cx="649.5" cy="1770.1" r="3.3" class="n c7"/>
<circle cx="633.8" cy="1706.0" r="3.3" class="n c1"/>
<circle cx="645.8" cy="1720.4" r="3.3" class="n c12"/>
<circle cx="619.8" cy="1710.3" r="3.3" class="n c8"/>
<circle cx="645.4" cy="1730.9" r="3.3" class="n c1"/>
<circle cx="632.6" cy="1712.8" r="3.3" class="n c1"/>
<circle cx="649.1" cy="1715.5" r="3.3" class="n c8"/>
<circle cx="651.4" cy="1754.2" r="3.3" class="n c7"/>
<circle cx="618.9" cy="1704.6" r="3.3" class="n c1"/>
<circle cx="623.8" cy="1706.5" r="3.3" class="n c1"/>
<circle cx="631.4" cy="1725.3" r="3.3" class="n c7"/>
<circle cx="641.4" cy="1739.2" r="3.3" class="n c1"/>
<circle cx="620.4" cy="1684.4" r="3.3" class="n c1"/>
<circle cx="648.7" cy="1757.0" r="3.3" class="n c1"/>
<circle cx="649.8" cy="1752.7" r="3.3" class="n c8"/>
<circle cx="645.0" cy="1747.7" r="3.3" class="n c5"/>
<circle cx="622.1" cy="1695.4" r="3.3" class="n c1"/>
<circle cx="651.7" cy="1758.1" r="3.3" class="n c10"/>
<circle cx="635.4" cy="1727.6" r="3.3" class="n c1"/>
<circle cx="649.5" cy="1723.2" r="3.3" class="n c0"/>
<circle cx="651.2" cy="1771.6" r="3.3" class="n c8"/>
<circle cx="636.8" cy="1710.3" r="3.3" class="n c7"/>
<circle cx="625.2" cy="1706.2" r="3.3" class="n c1"/>
<circle cx="631.3" cy="1714.5" r="3.3" class="n c5"/>
<circle cx="642.0" cy="1739.4" r="3.3" class="n c1"/>
<circle cx="649.2" cy="1742.0" r="3.3" class="n c7"/>
<circle cx="624.9" cy="1703.0" r="3.3" class="n c1"/>
<circle cx="653.8" cy="1764.2" r="3.3" class="n c12"/>
<circle cx="634.3" cy="1702.4" r="3.3" class="n c5"/>
<circle cx="636.9" cy="1706.7" r="3.3" class="n c1"/>
<circle cx="651.6" cy="1769.5" r="3.3" class="n c8"/>
<circle cx="630.5" cy="1711.2" r="3.3" class="n c5"/>
<circle cx="623.0" cy="1708.8" r="3.3" class="n c1"/>
<circle cx="649.9" cy="1762.4" r="3.3" class="n c12"/>
<circle cx="639.3" cy="1717.1" r="3.3" class="n c9"/>
<circle cx="647.0" cy="1747.3" r="3.3" class="n c2"/>
<circle cx="639.2" cy="1706.7" r="3.3" class="n c9"/>
<circle cx="637.5" cy="1702.3" r="3.3" class="n c1"/>
<circle cx="631.3" cy="1719.8" r="3.3" class="n c1"/>
<circle cx="631.7" cy="1701.4" r="3.3" class="n c1"/>
<circle cx="638.0" cy="1729.7" r="3.3" class="n c1"/>
<circle cx="632.3" cy="1695.4" r="3.3" class="n c1"/>
<circle cx="645.5" cy="1748.2" r="3.3" class="n c1"/>
<circle cx="649.6" cy="1745.7" r="3.3" class="n c10"/>
<circle cx="627.5" cy="1691.3" r="3.3" class="n c1"/>
<circle cx="639.3" cy="1716.5" r="3.3" class="n c12"/>
<circle cx="639.8" cy="1724.0" r="3.3" class="n c9"/>
<circle cx="636.9" cy="1715.8" r="3.3" class="n c9"/>
<circle cx="607.3" cy="1688.4" r="3.3" class="n c1"/>
<circle cx="644.4" cy="1752.3" r="3.3" class="n c9"/>
<circle cx="652.8" cy="1756.8" r="3.3" class="n c1"/>
<circle cx="654.8" cy="1746.7" r="3.3" class="n c10"/>
<circle cx="658.4" cy="1756.8" r="3.3" class="n c1"/>
<circle cx="670.4" cy="1720.8" r="3.3" class="n c8"/>
<circle cx="655.5" cy="1769.1" r="3.3" class="n c10"/>
<circle cx="677.7" cy="1706.6" r="3.3" class="n c0"/>
<circle cx="666.0" cy="1731.1" r="3.3" class="n c6"/>
<circle cx="655.4" cy="1770.7" r="3.3" class="n c4"/>
<circle cx="663.0" cy="1744.9" r="3.3" class="n c6"/>
<circle cx="665.7" cy="1680.6" r="3.3" class="n c6"/>
<circle cx="655.2" cy="1746.3" r="3.3" class="n c4"/>
<circle cx="658.1" cy="1755.5" r="3.3" class="n c5"/>
<circle cx="662.6" cy="1727.0" r="3.3" class="n c8"/>
<circle cx="654.9" cy="1778.7" r="3.3" class="n c11"/>
<circle cx="662.8" cy="1738.1" r="3.3" class="n c4"/>
<circle cx="681.0" cy="1710.6" r="3.3" class="n c8"/>
<circle cx="683.4" cy="1681.7" r="3.3" class="n c6"/>
<circle cx="660.9" cy="1732.7" r="3.3" class="n c10"/>
<circle cx="671.0" cy="1727.1" r="3.3" class="n c4"/>
<circle cx="658.7" cy="1748.7" r="3.3" class="n c7"/>
<circle cx="658.9" cy="1748.6" r="3.3" class="n c4"/>
<circle cx="659.2" cy="1685.8" r="3.3" class="n c9"/>
<circle cx="665.0" cy="1725.1" r="3.3" class="n c9"/>
<circle cx="676.3" cy="1704.4" r="3.3" class="n c9"/>
<circle cx="673.6" cy="1728.7" r="3.3" class="n c4"/>
<circle cx="671.8" cy="1725.3" r="3.3" class="n c7"/>
<circle cx="654.5" cy="1770.5" r="3.3" class="n c8"/>
<circle cx="681.5" cy="1697.5" r="3.3" class="n c8"/>
<circle cx="675.6" cy="1707.0" r="3.3" class="n c4"/>
<circle cx="670.5" cy="1732.0" r="3.3" class="n c7"/>
<circle cx="672.6" cy="1707.8" r="3.3" class="n c11"/>
<circle cx="657.1" cy="1712.3" r="3.3" class="n c10"/>
<circle cx="664.2" cy="1732.6" r="3.3" class="n c0"/>
<circle cx="657.2" cy="1752.4" r="3.3" class="n c1"/>
<circle cx="664.9" cy="1726.6" r="3.3" class="n c11"/>
<circle cx="674.1" cy="1711.9" r="3.3" class="n c6"/>
<circle cx="661.2" cy="1743.2" r="3.3" class="n c1"/>
<circle cx="666.5" cy="1733.8" r="3.3" class="n c10"/>
<circle cx="659.4" cy="1720.7" r="3.3" class="n c7"/>
<circle cx="672.8" cy="1709.9" r="3.3" class="n c9"/>
<circle cx="674.0" cy="1685.4" r="3.3" class="n c0"/>
<circle cx="657.9" cy="1745.2" r="3.3" class="n c0"/>
<circle cx="658.5" cy="1756.3" r="3.3" class="n c8"/>
<circle cx="661.3" cy="1751.5" r="3.3" class="n c7"/>
<circle cx="669.1" cy="1721.8" r="3.3" class="n c11"/>
<circle cx="658.6" cy="1764.6" r="3.3" class="n c6"/>
<circle cx="691.4" cy="1695.6" r="3.3" class="n c1"/>
<circle cx="658.9" cy="1740.2" r="3.3" class="n c10"/>
<circle cx="662.4" cy="1724.8" r="3.3" class="n c1"/>
<circle cx="657.7" cy="1762.0" r="3.3" class="n c8"/>
<circle cx="668.8" cy="1719.7" r="3.3" class="n c0"/>
<circle cx="680.8" cy="1698.1" r="3.3" class="n c6"/>
<circle cx="671.7" cy="1689.5" r="3.3" class="n c8"/>
<circle cx="667.5" cy="1729.6" r="3.3" class="n c9"/>
<circle cx="664.5" cy="1699.0" r="3.3" class="n c0"/>
<circle cx="660.0" cy="1759.0" r="3.3" class="n c1"/>
<circle cx="656.5" cy="1770.0" r="3.3" class="n c0"/>
<circle cx="655.4" cy="1760.5" r="3.3" class="n c9"/>
<circle cx="673.6" cy="1700.2" r="3.3" class="n c0"/>
<circle cx="681.4" cy="1704.5" r="3.3" class="n c10"/>
<circle cx="655.0" cy="1772.9" r="3.3" class="n c10"/>
<circle cx="669.3" cy="1721.3" r="3.3" class="n c4"/>
<circle cx="667.5" cy="1703.3" r="3.3" class="n c7"/>
<circle cx="682.4" cy="1683.2" r="3.3" class="n c11"/>
<circle cx="664.9" cy="1700.2" r="3.3" class="n c8"/>
<circle cx="675.2" cy="1707.9" r="3.3" class="n c10"/>
<circle cx="654.6" cy="1768.5" r="3.3" class="n c9"/>
<circle cx="676.5" cy="1690.3" r="3.3" class="n c7"/>
<circle cx="669.1" cy="1705.0" r="3.3" class="n c10"/>
<circle cx="661.2" cy="1738.9" r="3.3" class="n c0"/>
<circle cx="675.0" cy="1710.9" r="3.3" class="n c9"/>
<circle cx="672.4" cy="1715.7" r="3.3" class="n c7"/>
<circle cx="657.2" cy="1761.4" r="3.3" class="n c4"/>
<circle cx="680.8" cy="1717.9" r="3.3" class="n c1"/>
<circle cx="669.0" cy="1715.0" r="3.3" class="n c9"/>
<circle cx="657.7" cy="1760.4" r="3.3" class="n c11"/>
<circle cx="673.8" cy="1721.9" r="3.3" class="n c7"/>
<circle cx="662.6" cy="1736.5" r="3.3" class="n c9"/>
<circle cx="658.6" cy="1759.6" r="3.3" class="n c11"/>
<circle cx="680.6" cy="1704.1" r="3.3" class="n c5"/>
<circle cx="678.7" cy="1720.4" r="3.3" class="n c1"/>
<circle cx="658.8" cy="1758.9" r="3.3" class="n c7"/>
<circle cx="666.3" cy="1683.9" r="3.3" class="n c4"/>
<circle cx="666.3" cy="1716.3" r="3.3" class="n c11"/>
<circle cx="676.7" cy="1694.7" r="3.3" class="n c1"/>
<circle cx="671.3" cy="1693.6" r="3.3" class="n c1"/>
<circle cx="663.6" cy="1722.4" r="3.3" class="n c6"/>
<circle cx="655.2" cy="1727.9" r="3.3" class="n c11"/>
<circle cx="662.8" cy="1738.1" r="3.3" class="n c0"/>
<circle cx="671.1" cy="1695.0" r="3.3" class="n c10"/>
<circle cx="662.1" cy="1695.1" r="3.3" class="n c8"/>
<circle cx="657.8" cy="1731.0" r="3.3" class="n c7"/>
<circle cx="658.3" cy="1742.5" r="3.3" class="n c8"/>
<circle cx="670.9" cy="1707.2" r="3.3" class="n c10"/>
<circle cx="661.4" cy="1753.6" r="3.3" class="n c10"/>
<circle cx="657.7" cy="1761.8" r="3.3" class="n c10"/>
<circle cx="659.2" cy="1747.8" r="3.3" class="n c5"/>
<circle cx="671.7" cy="1708.3" r="3.3" class="n c5"/>
<circle cx="675.6" cy="1686.3" r="3.3" class="n c4"/>
<circle cx="676.9" cy="1707.7" r="3.3" class="n c11"/>
<circle cx="661.5" cy="1748.5" r="3.3" class="n c7"/>
<circle cx="668.0" cy="1716.9" r="3.3" class="n c4"/>
<circle cx="661.3" cy="1739.7" r="3.3" class="n c11"/>
<circle cx="678.1" cy="1709.7" r="3.3" class="n c9"/>
<circle cx="655.9" cy="1777.1" r="3.3" class="n c1"/>
<circle cx="657.3" cy="1756.3" r="3.3" class="n c9"/>
<circle cx="654.6" cy="1766.7" r="3.3" class="n c9"/>
<circle cx="675.4" cy="1714.9" r="3.3" class="n c9"/>
<circle cx="667.8" cy="1733.2" r="3.3" class="n c0"/>
<circle cx="667.1" cy="1688.1" r="3.3" class="n c8"/>
<circle cx="673.1" cy="1704.6" r="3.3" class="n c8"/>
<circle cx="680.9" cy="1697.8" r="3.3" class="n c7"/>
<circle cx="663.7" cy="1734.7" r="3.3" class="n c5"/>
<circle cx="685.0" cy="1709.4" r="3.3" class="n c10"/>
<circle cx="672.4" cy="1684.2" r="3.3" class="n c10"/>
<circle cx="666.6" cy="1736.2" r="3.3" class="n c7"/>
<circle cx="680.2" cy="1705.9" r="3.3" class="n c7"/>
<circle cx="667.7" cy="1710.8" r="3.3" class="n c9"/>
<circle cx="657.2" cy="1758.8" r="3.3" class="n c8"/>
<circle cx="659.4" cy="1719.0" r="3.3" class="n c11"/>
<circle cx="662.4" cy="1705.2" r="3.3" class="n c8"/>
<circle cx="659.7" cy="1758.3" r="3.3" class="n c10"/>
<circle cx="667.5" cy="1733.5" r="3.3" class="n c0"/>
<circle cx="657.0" cy="1746.6" r="3.3" class="n c4"/>
<circle cx="668.5" cy="1725.1" r="3.3" class="n c5"/>
<circle cx="669.2" cy="1706.4" r="3.3" class="n c6"/>
<circle cx="656.1" cy="1752.1" r="3.3" class="n c10"/>
<circle cx="664.0" cy="1717.4" r="3.3" class="n c8"/>
<circle cx="673.9" cy="1697.8" r="3.3" class="n c9"/>
<circle cx="665.8" cy="1710.0" r="3.3" class="n c9"/>
<circle cx="660.6" cy="1748.0" r="3.3" class="n c8"/>
<circle cx="662.5" cy="1711.0" r="3.3" class="n c9"/>
<circle cx="663.3" cy="1739.2" r="3.3" class="n c1"/>
<circle cx="656.0" cy="1763.1" r="3.3" class="n c10"/>
<circle cx="655.2" cy="1773.2" r="3.3" class="n c11"/>
<circle cx="670.7" cy="1724.2" r="3.3" class="n c0"/>
<circle cx="679.4" cy="1698.6" r="3.3" class="n c10"/>
<circle cx="671.1" cy="1724.6" r="3.3" class="n c8"/>
<circle cx="665.6" cy="1705.6" r="3.3" class="n c0"/>
<circle cx="657.0" cy="1766.4" r="3.3" class="n c5"/>
<circle cx="661.0" cy="1707.9" r="3.3" class="n c8"/>
<circle cx="663.6" cy="1708.9" r="3.3" class="n c10"/>
<circle cx="677.7" cy="1680.7" r="3.3" class="n c7"/>
<circle cx="670.3" cy="1728.3" r="3.3" class="n c4"/>
<circle cx="663.8" cy="1728.7" r="3.3" class="n c6"/>
<circle cx="657.0" cy="1758.5" r="3.3" class="n c11"/>
<circle cx="655.6" cy="1775.6" r="3.3" class="n c1"/>
<circle cx="668.8" cy="1687.6" r="3.3" class="n c0"/>
<circle cx="662.3" cy="1740.3" r="3.3" class="n c7"/>
<circle cx="677.3" cy="1718.0" r="3.3" class="n c7"/>
<circle cx="680.4" cy="1703.9" r="3.3" class="n c1"/>
<circle cx="659.5" cy="1737.7" r="3.3" class="n c1"/>
<circle cx="664.2" cy="1733.8" r="3.3" class="n c10"/>
<circle cx="681.1" cy="1717.5" r="3.3" class="n c9"/>
<circle cx="654.2" cy="1739.7" r="3.3" class="n c6"/>
<circle cx="664.9" cy="1732.4" r="3.3" class="n c7"/>
<circle cx="662.0" cy="1725.9" r="3.3" class="n c7"/>
<circle cx="675.0" cy="1718.8" r="3.3" class="n c8"/>
<circle cx="682.6" cy="1711.5" r="3.3" class="n c7"/>
<circle cx="662.1" cy="1726.8" r="3.3" class="n c10"/>
<circle cx="669.0" cy="1721.2" r="3.3" class="n c4"/>
<circle cx="669.0" cy="1707.0" r="3.3" class="n c7"/>
<circle cx="662.9" cy="1734.9" r="3.3" class="n c8"/>
<circle cx="672.2" cy="1727.7" r="3.3" class="n c5"/>
<circle cx="667.3" cy="1714.5" r="3.3" class="n c5"/>
<circle cx="661.7" cy="1737.4" r="3.3" class="n c6"/>
<circle cx="680.3" cy="1695.1" r="3.3" class="n c9"/>
<circle cx="668.1" cy="1728.7" r="3.3" class="n c1"/>
<circle cx="670.0" cy="1707.5" r="3.3" class="n c5"/>
<circle cx="661.0" cy="1732.4" r="3.3" class="n c11"/>
<circle cx="671.4" cy="1716.1" r="3.3" class="n c8"/>
<circle cx="656.6" cy="1755.1" r="3.3" class="n c1"/>
<circle cx="661.6" cy="1715.6" r="3.3" class="n c1"/>
<circle cx="683.1" cy="1702.6" r="3.3" class="n c8"/>
<circle cx="663.6" cy="1742.3" r="3.3" class="n c8"/>
<circle cx="657.3" cy="1751.2" r="3.3" class="n c1"/>
<circle cx="658.3" cy="1747.4" r="3.3" class="n c10"/>
<circle cx="668.3" cy="1722.2" r="3.3" class="n c7"/>
<circle cx="656.8" cy="1735.4" r="3.3" class="n c7"/>
<circle cx="670.0" cy="1730.1" r="3.3" class="n c0"/>
<circle cx="659.2" cy="1741.7" r="3.3" class="n c8"/>
<circle cx="656.9" cy="1705.7" r="3.3" class="n c5"/>
<circle cx="655.2" cy="1778.9" r="3.3" class="n c0"/>
<circle cx="658.8" cy="1758.5" r="3.3" class="n c5"/>
<circle cx="663.4" cy="1740.5" r="3.3" class="n c10"/>
<circle cx="676.7" cy="1701.9" r="3.3" class="n c10"/>
<circle cx="668.3" cy="1702.5" r="3.3" class="n c9"/>
<circle cx="676.0" cy="1707.6" r="3.3" class="n c10"/>
<circle cx="665.0" cy="1735.1" r="3.3" class="n c8"/>
<circle cx="662.8" cy="1738.6" r="3.3" class="n c10"/>
<circle cx="655.2" cy="1760.9" r="3.3" class="n c8"/>
<circle cx="673.5" cy="1719.3" r="3.3" class="n c1"/>
<circle cx="661.8" cy="1734.6" r="3.3" class="n c10"/>
<circle cx="657.5" cy="1745.2" r="3.3" class="n c7"/>
<circle cx="659.8" cy="1755.2" r="3.3" class="n c6"/>
<circle cx="654.4" cy="1777.4" r="3.3" class="n c8"/>
<circle cx="662.1" cy="1721.3" r="3.3" class="n c4"/>
<circle cx="668.9" cy="1731.6" r="3.3" class="n c4"/>
<circle cx="657.5" cy="1768.4" r="3.3" class="n c4"/>
<circle cx="655.7" cy="1758.8" r="3.3" class="n c5"/>
<circle cx="661.8" cy="1747.2" r="3.3" class="n c0"/>
<circle cx="657.7" cy="1759.8" r="3.3" class="n c5"/>
<circle cx="661.0" cy="1735.3" r="3.3" class="n c10"/>
<circle cx="667.4" cy="1733.6" r="3.3" class="n c0"/>
<circle cx="654.2" cy="1781.4" r="3.3" class="n c5"/>
<circle cx="663.0" cy="1685.1" r="3.3" class="n c1"/>
<circle cx="673.7" cy="1709.6" r="3.3" class="n c5"/>
<circle cx="662.3" cy="1730.1" r="3.3" class="n c6"/>
<circle cx="654.5" cy="1746.7" r="3.3" class="n c11"/>
<circle cx="668.4" cy="1715.8" r="3.3" class="n c1"/>
<circle cx="670.0" cy="1723.0" r="3.3" class="n c10"/>
<circle cx="686.0" cy="1708.6" r="3.3" class="n c5"/>
<circle cx="658.0" cy="1712.8" r="3.3" class="n c1"/>
<circle cx="667.9" cy="1735.3" r="3.3" class="n c1"/>
<circle cx="655.4" cy="1762.7" r="3.3" class="n c10"/>
<circle cx="661.0" cy="1700.6" r="3.3" class="n c0"/>
<circle cx="665.8" cy="1733.7" r="3.3" class="n c10"/>
<circle cx="674.6" cy="1715.1" r="3.3" class="n c10"/>
<circle cx="664.5" cy="1735.6" r="3.3" class="n c10"/>
<circle cx="667.6" cy="1700.8" r="3.3" class="n c0"/>
<circle cx="654.2" cy="1769.1" r="3.3" class="n c4"/>
<circle cx="744.9" cy="1687.2" r="3.3" class="n c6"/>
<circle cx="750.0" cy="1699.7" r="3.3" class="n c9"/>
<circle cx="763.0" cy="1703.9" r="3.3" class="n c8"/>
<circle cx="737.1" cy="1683.0" r="3.3" class="n c5"/>
<circle cx="721.5" cy="1683.0" r="3.3" class="n c6"/>
<circle cx="706.0" cy="1680.5" r="3.3" class="n c11"/>
<circle cx="695.6" cy="1720.5" r="3.3" class="n c4"/>
<circle cx="690.4" cy="1733.0" r="3.3" class="n c10"/>
<circle cx="498.2" cy="1685.0" r="3.3" class="n c1"/>
<circle cx="498.2" cy="1690.0" r="3.3" class="n c9"/>
<circle cx="498.2" cy="1697.0" r="3.3" class="n c1"/>
<circle cx="498.2" cy="1703.0" r="3.3" class="n c7"/>
<circle cx="498.2" cy="1710.0" r="3.3" class="n c6"/>
<circle cx="498.2" cy="1716.0" r="3.3" class="n c1"/>
<circle cx="498.2" cy="1722.0" r="3.3" class="n c1"/>
<circle cx="498.2" cy="1730.0" r="3.3" class="n c1"/>
<circle cx="809.2" cy="1685.0" r="3.3" class="n c5"/>
<circle cx="809.2" cy="1700.0" r="3.3" class="n c11"/>
<circle cx="809.2" cy="1712.0" r="3.3" class="n c9"/>
<circle cx="809.2" cy="1730.0" r="3.3" class="n c8"/>
<circle cx="809.2" cy="1740.0" r="3.3" class="n c7"/>
<circle cx="809.2" cy="1746.0" r="3.3" class="n c6"/>
<circle cx="809.2" cy="1752.0" r="3.3" class="n c8"/>
<line x1="654.1" y1="1438" x2="654.1" y2="1792" stroke="#000" stroke-width="1.6" stroke-dasharray="1.6 3.6"/>
<line x1="493.5" y1="1678.8" x2="816.7" y2="1678.8" stroke="#000" stroke-width="1.6" stroke-dasharray="1.6 3.6"/>
<circle cx="602.0" cy="1644.3" r="3.3" class="s c1"/>
<circle cx="641.6" cy="1637.5" r="3.3" class="s c1"/>
<circle cx="606.7" cy="1646.3" r="3.3" class="s c1"/>
<circle cx="579.5" cy="1640.9" r="3.3" class="s c1"/>
<circle cx="616.9" cy="1661.1" r="3.3" class="s c1"/>
<circle cx="571.9" cy="1625.8" r="3.3" class="s c1"/>
<circle cx="571.6" cy="1662.3" r="3.3" class="s c1"/>
<circle cx="622.2" cy="1607.0" r="3.3" class="s c1"/>
<circle cx="646.5" cy="1673.5" r="3.3" class="s c1"/>
<circle cx="618.9" cy="1648.3" r="3.3" class="s c1"/>
<circle cx="608.4" cy="1608.3" r="3.3" class="s c1"/>
<circle cx="580.0" cy="1621.4" r="3.3" class="s c1"/>
<circle cx="566.5" cy="1637.4" r="3.3" class="s c1"/>
<circle cx="601.0" cy="1664.7" r="3.3" class="s c1"/>
<circle cx="607.6" cy="1650.1" r="3.3" class="s c1"/>
<circle cx="606.0" cy="1651.7" r="3.3" class="s c1"/>
<circle cx="602.4" cy="1624.0" r="3.3" class="s c1"/>
<circle cx="647.8" cy="1675.7" r="3.3" class="s c1"/>
<circle cx="634.6" cy="1655.0" r="3.3" class="s c1"/>
<circle cx="590.5" cy="1620.5" r="3.3" class="s c1"/>
<circle cx="628.4" cy="1632.8" r="3.3" class="s c1"/>
<circle cx="635.1" cy="1631.8" r="3.3" class="s c1"/>
<circle cx="644.5" cy="1665.0" r="3.3" class="s c1"/>
<circle cx="564.0" cy="1619.1" r="3.3" class="s c1"/>
<circle cx="640.5" cy="1637.8" r="3.3" class="s c1"/>
<circle cx="646.4" cy="1632.6" r="3.3" class="s c1"/>
<circle cx="570.1" cy="1649.3" r="3.3" class="s c1"/>
<circle cx="629.4" cy="1623.4" r="3.3" class="s c1"/>
<circle cx="571.3" cy="1627.9" r="3.3" class="s c1"/>
<circle cx="645.0" cy="1658.6" r="3.3" class="s c1"/>
<circle cx="573.9" cy="1621.7" r="3.3" class="s c1"/>
<circle cx="630.9" cy="1616.8" r="3.3" class="s c1"/>
<circle cx="611.0" cy="1636.2" r="3.3" class="s c1"/>
<circle cx="580.0" cy="1656.7" r="3.3" class="s c1"/>
<circle cx="575.0" cy="1650.3" r="3.3" class="s c1"/>
<circle cx="573.8" cy="1634.3" r="3.3" class="s c1"/>
<circle cx="581.9" cy="1623.4" r="3.3" class="s c1"/>
<circle cx="645.6" cy="1661.8" r="3.3" class="s c1"/>
<circle cx="589.5" cy="1667.7" r="3.3" class="s c1"/>
<circle cx="581.7" cy="1632.4" r="3.3" class="s c1"/>
<circle cx="635.8" cy="1650.2" r="3.3" class="s c1"/>
<circle cx="572.4" cy="1675.2" r="3.3" class="s c1"/>
<circle cx="581.9" cy="1622.6" r="3.3" class="s c1"/>
<circle cx="628.9" cy="1627.7" r="3.3" class="s c1"/>
<circle cx="588.9" cy="1609.3" r="3.3" class="s c1"/>
<circle cx="571.6" cy="1646.0" r="3.3" class="s c1"/>
<circle cx="584.4" cy="1647.3" r="3.3" class="s c1"/>
<circle cx="595.2" cy="1636.6" r="3.3" class="s c1"/>
<circle cx="644.6" cy="1638.8" r="3.3" class="s c1"/>
<circle cx="612.3" cy="1666.4" r="3.3" class="s c1"/>
<circle cx="579.4" cy="1615.1" r="3.3" class="s c1"/>
<circle cx="640.3" cy="1662.9" r="3.3" class="s c1"/>
<circle cx="585.0" cy="1617.7" r="3.3" class="s c1"/>
<circle cx="626.1" cy="1671.7" r="3.3" class="s c1"/>
<circle cx="580.5" cy="1672.4" r="3.3" class="s c1"/>
<circle cx="638.1" cy="1647.5" r="3.3" class="s c1"/>
<circle cx="599.4" cy="1611.5" r="3.3" class="s c1"/>
<circle cx="567.3" cy="1673.3" r="3.3" class="s c1"/>
<circle cx="584.0" cy="1654.7" r="3.3" class="s c1"/>
<circle cx="585.6" cy="1663.3" r="3.3" class="s c1"/>
<circle cx="614.1" cy="1625.1" r="3.3" class="s c1"/>
<circle cx="578.7" cy="1655.9" r="3.3" class="s c1"/>
<circle cx="569.8" cy="1620.4" r="3.3" class="s c1"/>
<circle cx="611.0" cy="1665.4" r="3.3" class="s c1"/>
<circle cx="615.6" cy="1624.2" r="3.3" class="s c1"/>
<circle cx="641.1" cy="1618.7" r="3.3" class="s c1"/>
<circle cx="565.4" cy="1623.4" r="3.3" class="s c1"/>
<circle cx="601.4" cy="1608.4" r="3.3" class="s c1"/>
<circle cx="578.8" cy="1630.6" r="3.3" class="s c1"/>
<circle cx="612.1" cy="1613.5" r="3.3" class="s c1"/>
<circle cx="594.4" cy="1668.1" r="3.3" class="s c1"/>
<circle cx="646.4" cy="1651.3" r="3.3" class="s c1"/>
<circle cx="622.1" cy="1646.1" r="3.3" class="s c1"/>
<circle cx="565.5" cy="1669.5" r="3.3" class="s c1"/>
<circle cx="622.9" cy="1673.3" r="3.3" class="s c1"/>
<circle cx="565.8" cy="1649.8" r="3.3" class="s c1"/>
<circle cx="604.5" cy="1656.6" r="3.3" class="s c1"/>
<circle cx="590.8" cy="1676.0" r="3.3" class="s c1"/>
<circle cx="570.3" cy="1643.3" r="3.3" class="s c1"/>
<circle cx="625.9" cy="1668.8" r="3.3" class="s c1"/>
<circle cx="625.9" cy="1654.7" r="3.3" class="s c1"/>
<circle cx="630.6" cy="1669.9" r="3.3" class="s c1"/>
<circle cx="593.6" cy="1653.3" r="3.3" class="s c1"/>
<circle cx="639.7" cy="1666.7" r="3.3" class="s c1"/>
<circle cx="599.0" cy="1660.9" r="3.3" class="s c1"/>
<circle cx="636.5" cy="1645.2" r="3.3" class="s c1"/>
<circle cx="616.5" cy="1631.5" r="3.3" class="s c1"/>
<circle cx="612.9" cy="1647.8" r="3.3" class="s c1"/>
<circle cx="570.7" cy="1650.0" r="3.3" class="s c1"/>
<circle cx="647.4" cy="1667.3" r="3.3" class="s c1"/>
<circle cx="625.2" cy="1632.0" r="3.3" class="s c1"/>
<circle cx="625.7" cy="1645.8" r="3.3" class="s c1"/>
<circle cx="601.0" cy="1664.4" r="3.3" class="s c1"/>
<circle cx="571.0" cy="1658.0" r="3.3" class="s c1"/>
<circle cx="566.5" cy="1647.3" r="3.3" class="s c1"/>
<circle cx="604.4" cy="1620.6" r="3.3" class="s c1"/>
<circle cx="622.7" cy="1639.8" r="3.3" class="s c1"/>
<circle cx="615.6" cy="1670.3" r="3.3" class="s c1"/>
<circle cx="589.3" cy="1652.8" r="3.3" class="s c1"/>
<circle cx="581.0" cy="1616.2" r="3.3" class="s c1"/>
<circle cx="640.1" cy="1651.5" r="3.3" class="s c1"/>
<circle cx="601.1" cy="1668.2" r="3.3" class="s c1"/>
<circle cx="591.5" cy="1651.9" r="3.3" class="s c1"/>
<circle cx="580.7" cy="1635.0" r="3.3" class="s c1"/>
<circle cx="631.7" cy="1669.8" r="3.3" class="s c1"/>
<circle cx="637.9" cy="1631.7" r="3.3" class="s c1"/>
<circle cx="613.0" cy="1626.8" r="3.3" class="s c1"/>
<circle cx="575.4" cy="1639.7" r="3.3" class="s c1"/>
<circle cx="634.3" cy="1665.1" r="3.3" class="s c1"/>
<circle cx="623.7" cy="1672.4" r="3.3" class="s c1"/>
<circle cx="587.3" cy="1616.2" r="3.3" class="s c1"/>
<circle cx="601.9" cy="1623.8" r="3.3" class="s c1"/>
<circle cx="582.0" cy="1633.8" r="3.3" class="s c1"/>
<circle cx="616.6" cy="1639.6" r="3.3" class="s c1"/>
<circle cx="590.5" cy="1664.4" r="3.3" class="s c1"/>
<circle cx="646.5" cy="1636.6" r="3.3" class="s c1"/>
<circle cx="637.3" cy="1607.0" r="3.3" class="s c1"/>
<circle cx="623.5" cy="1645.1" r="3.3" class="s c1"/>
<circle cx="590.0" cy="1661.0" r="3.3" class="s c1"/>
<circle cx="565.6" cy="1613.8" r="3.3" class="s c1"/>
<circle cx="633.7" cy="1621.1" r="3.3" class="s c1"/>
<circle cx="616.9" cy="1636.1" r="3.3" class="s c1"/>
<circle cx="616.9" cy="1651.2" r="3.3" class="s c1"/>
<circle cx="631.8" cy="1673.0" r="3.3" class="s c1"/>
<circle cx="621.5" cy="1618.4" r="3.3" class="s c1"/>
<circle cx="603.9" cy="1616.9" r="3.3" class="s c1"/>
<circle cx="564.9" cy="1638.0" r="3.3" class="s c1"/>
<circle cx="624.0" cy="1616.9" r="3.3" class="s c1"/>
<circle cx="586.9" cy="1628.9" r="3.3" class="s c1"/>
<circle cx="622.6" cy="1641.5" r="3.3" class="s c1"/>
<circle cx="615.6" cy="1658.4" r="3.3" class="s c1"/>
<circle cx="597.1" cy="1661.0" r="3.3" class="s c1"/>
<circle cx="640.1" cy="1610.3" r="3.3" class="s c1"/>
<circle cx="642.3" cy="1656.0" r="3.3" class="s c1"/>
<circle cx="574.9" cy="1636.7" r="3.3" class="s c1"/>
<circle cx="616.5" cy="1669.5" r="3.3" class="s c1"/>
<circle cx="595.7" cy="1645.0" r="3.3" class="s c1"/>
<circle cx="637.9" cy="1661.4" r="3.3" class="s c1"/>
<circle cx="643.3" cy="1637.4" r="3.3" class="s c1"/>
<circle cx="618.7" cy="1618.8" r="3.3" class="s c1"/>
<circle cx="624.6" cy="1662.9" r="3.3" class="s c1"/>
<circle cx="617.9" cy="1655.7" r="3.3" class="s c1"/>
<circle cx="581.9" cy="1668.8" r="3.3" class="s c1"/>
<circle cx="646.4" cy="1674.4" r="3.3" class="s c1"/>
<circle cx="609.1" cy="1660.9" r="3.3" class="s c1"/>
<circle cx="590.9" cy="1669.5" r="3.3" class="s c1"/>
<circle cx="635.9" cy="1629.1" r="3.3" class="s c1"/>
<circle cx="571.0" cy="1635.7" r="3.3" class="s c1"/>
<circle cx="610.2" cy="1659.3" r="3.3" class="s c1"/>
<circle cx="632.0" cy="1608.6" r="3.3" class="s c1"/>
<circle cx="631.2" cy="1616.4" r="3.3" class="s c1"/>
<circle cx="592.1" cy="1660.7" r="3.3" class="s c1"/>
<circle cx="575.8" cy="1614.7" r="3.3" class="s c1"/>
<circle cx="607.4" cy="1656.1" r="3.3" class="s c1"/>
<circle cx="634.6" cy="1653.6" r="3.3" class="s c1"/>
<circle cx="643.4" cy="1639.5" r="3.3" class="s c1"/>
<circle cx="643.7" cy="1610.2" r="3.3" class="s c1"/>
<circle cx="582.6" cy="1641.9" r="3.3" class="s c1"/>
<circle cx="588.4" cy="1656.5" r="3.3" class="s c1"/>
<circle cx="617.7" cy="1641.6" r="3.3" class="s c1"/>
<circle cx="634.9" cy="1644.3" r="3.3" class="s c1"/>
<circle cx="590.2" cy="1631.4" r="3.3" class="s c1"/>
<circle cx="635.0" cy="1668.8" r="3.3" class="s c1"/>
<circle cx="581.5" cy="1665.3" r="3.3" class="s c1"/>
<circle cx="645.3" cy="1641.7" r="3.3" class="s c1"/>
<circle cx="612.1" cy="1618.5" r="3.3" class="s c1"/>
<circle cx="609.0" cy="1640.2" r="3.3" class="s c1"/>
<circle cx="614.8" cy="1606.0" r="3.3" class="s c1"/>
<circle cx="645.4" cy="1641.2" r="3.3" class="s c1"/>
<circle cx="597.6" cy="1661.7" r="3.3" class="s c1"/>
<circle cx="611.3" cy="1639.4" r="3.3" class="s c1"/>
<circle cx="622.0" cy="1608.7" r="3.3" class="s c1"/>
<circle cx="609.3" cy="1633.8" r="3.3" class="s c1"/>
<circle cx="644.4" cy="1670.5" r="3.3" class="s c1"/>
<circle cx="586.6" cy="1638.1" r="3.3" class="s c1"/>
<circle cx="574.7" cy="1635.2" r="3.3" class="s c1"/>
<circle cx="632.5" cy="1668.8" r="3.3" class="s c1"/>
<circle cx="604.0" cy="1626.8" r="3.3" class="s c1"/>
<circle cx="580.1" cy="1648.5" r="3.3" class="s c1"/>
<circle cx="641.7" cy="1613.3" r="3.3" class="s c1"/>
<circle cx="629.5" cy="1605.6" r="3.3" class="s c1"/>
<circle cx="580.3" cy="1620.4" r="3.3" class="s c1"/>
<circle cx="621.7" cy="1627.2" r="3.3" class="s c1"/>
<circle cx="593.8" cy="1648.6" r="3.3" class="s c1"/>
<circle cx="572.8" cy="1656.6" r="3.3" class="s c1"/>
<circle cx="574.3" cy="1640.8" r="3.3" class="s c1"/>
<circle cx="585.0" cy="1618.2" r="3.3" class="s c1"/>
<circle cx="608.5" cy="1635.4" r="3.3" class="s c1"/>
<circle cx="595.6" cy="1633.8" r="3.3" class="s c1"/>
<circle cx="608.5" cy="1615.5" r="3.3" class="s c1"/>
<circle cx="581.2" cy="1649.5" r="3.3" class="s c1"/>
<circle cx="617.6" cy="1642.1" r="3.3" class="s c1"/>
<circle cx="635.5" cy="1648.0" r="3.3" class="s c1"/>
<circle cx="636.0" cy="1620.8" r="3.3" class="s c1"/>
<circle cx="626.2" cy="1662.4" r="3.3" class="s c1"/>
<circle cx="639.8" cy="1626.7" r="3.3" class="s c1"/>
<circle cx="590.5" cy="1670.4" r="3.3" class="s c1"/>
<circle cx="582.3" cy="1675.9" r="3.3" class="s c1"/>
<circle cx="638.6" cy="1613.6" r="3.3" class="s c1"/>
<circle cx="584.1" cy="1656.3" r="3.3" class="s c1"/>
<circle cx="585.8" cy="1611.0" r="3.3" class="s c1"/>
<circle cx="633.9" cy="1634.4" r="3.3" class="s c1"/>
<circle cx="630.4" cy="1613.1" r="3.3" class="s c1"/>
<circle cx="597.8" cy="1653.3" r="3.3" class="s c1"/>
<circle cx="565.5" cy="1618.5" r="3.3" class="s c1"/>
<circle cx="621.3" cy="1669.6" r="3.3" class="s c1"/>
<circle cx="645.3" cy="1612.3" r="3.3" class="s c1"/>
<circle cx="606.5" cy="1658.6" r="3.3" class="s c1"/>
<circle cx="606.2" cy="1653.4" r="3.3" class="s c1"/>
<circle cx="610.3" cy="1641.1" r="3.3" class="s c1"/>
<circle cx="611.8" cy="1614.6" r="3.3" class="s c1"/>
<circle cx="579.5" cy="1618.7" r="3.3" class="s c1"/>
<circle cx="634.6" cy="1675.3" r="3.3" class="s c1"/>
<circle cx="641.9" cy="1610.9" r="3.3" class="s c1"/>
<circle cx="569.2" cy="1672.5" r="3.3" class="s c1"/>
<circle cx="602.8" cy="1659.1" r="3.3" class="s c1"/>
<circle cx="591.5" cy="1637.6" r="3.3" class="s c1"/>
<circle cx="607.3" cy="1635.0" r="3.3" class="s c1"/>
<circle cx="622.9" cy="1664.8" r="3.3" class="s c1"/>
<circle cx="579.2" cy="1636.7" r="3.3" class="s c1"/>
<circle cx="626.1" cy="1633.2" r="3.3" class="s c1"/>
<circle cx="580.4" cy="1615.9" r="3.3" class="s c1"/>
<circle cx="639.0" cy="1661.7" r="3.3" class="s c1"/>
<circle cx="623.2" cy="1666.0" r="3.3" class="s c1"/>
<circle cx="616.9" cy="1633.1" r="3.3" class="s c1"/>
<circle cx="614.4" cy="1640.3" r="3.3" class="s c1"/>
<circle cx="646.5" cy="1661.9" r="3.3" class="s c1"/>
<circle cx="585.7" cy="1669.6" r="3.3" class="s c1"/>
<circle cx="626.5" cy="1660.0" r="3.3" class="s c1"/>
<circle cx="632.4" cy="1633.2" r="3.3" class="s c1"/>
<circle cx="639.3" cy="1667.3" r="3.3" class="s c1"/>
<circle cx="622.4" cy="1659.2" r="3.3" class="s c1"/>
<circle cx="628.3" cy="1633.2" r="3.3" class="s c1"/>
<circle cx="624.7" cy="1609.1" r="3.3" class="s c1"/>
<circle cx="592.7" cy="1637.8" r="3.3" class="s c1"/>
<circle cx="564.9" cy="1629.6" r="3.3" class="s c1"/>
<circle cx="617.7" cy="1648.9" r="3.3" class="s c1"/>
<circle cx="583.5" cy="1672.0" r="3.3" class="s c1"/>
<circle cx="620.0" cy="1628.3" r="3.3" class="s c1"/>
<circle cx="619.4" cy="1645.0" r="3.3" class="s c1"/>
<circle cx="611.4" cy="1519.3" r="3.3" class="s c1"/>
<circle cx="594.1" cy="1529.8" r="3.3" class="s c1"/>
<circle cx="619.2" cy="1529.8" r="3.3" class="s c1"/>
<circle cx="592.6" cy="1584.5" r="3.3" class="s c1"/>
<circle cx="612.0" cy="1584.5" r="3.3" class="s c1"/>
<circle cx="618.5" cy="1584.5" r="3.3" class="s c1"/>
<circle cx="584.6" cy="1595.0" r="3.3" class="s c1"/>
<circle cx="604.8" cy="1595.0" r="3.3" class="s c1"/>
<circle cx="574.0" cy="1605.0" r="3.3" class="s c1"/>
<circle cx="570.0" cy="1612.0" r="3.3" class="s c1"/>
<circle cx="568.0" cy="1620.0" r="3.3" class="s c1"/>
<circle cx="565.0" cy="1632.0" r="3.3" class="s c1"/>
<circle cx="568.0" cy="1666.0" r="3.3" class="s c1"/>
<circle cx="566.0" cy="1675.0" r="3.3" class="s c1"/>
<circle cx="631.2" cy="1567.9" r="3.3" class="s c9"/>
<circle cx="630.3" cy="1592.5" r="3.3" class="s c9"/>
<circle cx="634.0" cy="1584.5" r="3.3" class="s c6"/>
<circle cx="632.3" cy="1595.8" r="3.3" class="s c12"/>
<circle cx="645.1" cy="1599.1" r="3.3" class="s c12"/>
<circle cx="644.5" cy="1620.2" r="3.3" class="s c12"/>
<circle cx="621.0" cy="1613.0" r="3.3" class="s c9"/>
<circle cx="639.0" cy="1608.0" r="3.3" class="s c10"/>
<circle cx="645.0" cy="1645.0" r="3.3" class="s c11"/>
<circle cx="647.0" cy="1650.0" r="3.3" class="s c14"/>
<circle cx="645.0" cy="1652.0" r="3.3" class="s c12"/>
<circle cx="647.0" cy="1663.0" r="3.3" class="s c8"/>
<circle cx="642.0" cy="1672.0" r="3.3" class="s c6"/>
<circle cx="646.0" cy="1675.0" r="3.3" class="s c12"/>
<circle cx="649.0" cy="1680.0" r="3.3" class="s c11"/>
<circle cx="637.0" cy="1614.0" r="3.3" class="s c9"/>
<circle cx="640.0" cy="1618.0" r="3.3" class="s c12"/>
<circle cx="719.8" cy="1519.3" r="3.3" class="s c3"/>
<circle cx="680.2" cy="1551.9" r="3.3" class="s c3"/>
<circle cx="691.0" cy="1551.9" r="3.3" class="s c3"/>
<circle cx="699.4" cy="1561.2" r="3.3" class="s c3"/>
<circle cx="677.3" cy="1587.4" r="3.3" class="s c3"/>
<circle cx="683.3" cy="1584.5" r="3.3" class="s c3"/>
<circle cx="674.0" cy="1611.3" r="3.3" class="s c3"/>
<circle cx="688.8" cy="1612.2" r="3.3" class="s c3"/>
<circle cx="719.4" cy="1618.0" r="3.3" class="s c3"/>
<circle cx="741.6" cy="1618.0" r="3.3" class="s c3"/>
<circle cx="761.0" cy="1618.0" r="3.3" class="s c3"/>
<circle cx="718.7" cy="1631.7" r="3.3" class="s c3"/>
<circle cx="721.6" cy="1637.3" r="3.3" class="s c3"/>
<circle cx="726.0" cy="1638.8" r="3.3" class="s c3"/>
<circle cx="687.2" cy="1634.4" r="3.3" class="s c3"/>
<circle cx="705.4" cy="1649.0" r="3.3" class="s c3"/>
<circle cx="707.2" cy="1655.7" r="3.3" class="s c3"/>
<circle cx="731.6" cy="1663.9" r="3.3" class="s c3"/>
<circle cx="689.0" cy="1669.4" r="3.3" class="s c3"/>
<circle cx="690.0" cy="1662.0" r="3.3" class="s c3"/>
<circle cx="706.8" cy="1621.0" r="3.3" class="s c3"/>
<circle cx="714.5" cy="1559.0" r="3.3" class="s c4"/>
<circle cx="697.7" cy="1598.9" r="3.3" class="s c5"/>
<circle cx="706.8" cy="1610.7" r="3.3" class="s c5"/>
<circle cx="694.3" cy="1620.2" r="3.3" class="s c5"/>
<circle cx="699.9" cy="1632.4" r="3.3" class="s c5"/>
<circle cx="703.4" cy="1671.6" r="3.3" class="s c5"/>
<circle cx="670.6" cy="1592.5" r="3.3" class="s c11"/>
<circle cx="670.0" cy="1618.0" r="3.3" class="s c9"/>
<circle cx="670.6" cy="1625.0" r="3.3" class="s c9"/>
<circle cx="658.4" cy="1663.9" r="3.3" class="s c9"/>
<circle cx="665.0" cy="1658.8" r="3.3" class="s c9"/>
<circle cx="666.2" cy="1655.0" r="3.3" class="s c9"/>
<circle cx="660.6" cy="1671.6" r="3.3" class="s c9"/>
<circle cx="665.0" cy="1665.4" r="3.3" class="s c10"/>
<circle cx="685.0" cy="1618.0" r="3.3" class="s c8"/>
<circle cx="671.3" cy="1638.0" r="3.3" class="s c7"/>
<circle cx="683.3" cy="1630.0" r="3.3" class="s c7"/>
<circle cx="681.7" cy="1644.0" r="3.3" class="s c7"/>
<circle cx="674.0" cy="1651.7" r="3.3" class="s c7"/>
<circle cx="677.3" cy="1649.5" r="3.3" class="s c7"/>
<circle cx="695.0" cy="1652.8" r="3.3" class="s c7"/>
<circle cx="687.2" cy="1660.5" r="3.3" class="s c7"/>
<circle cx="698.3" cy="1664.3" r="3.3" class="s c7"/>
<circle cx="725.0" cy="1660.5" r="3.3" class="s c7"/>
<circle cx="675.0" cy="1669.4" r="3.3" class="s c7"/>
<circle cx="675.0" cy="1663.9" r="3.3" class="s c8"/>
<circle cx="706.8" cy="1618.0" r="3.3" class="s c2"/>
<circle cx="686.1" cy="1650.6" r="3.3" class="s c2"/>
<circle cx="706.8" cy="1663.9" r="3.3" class="s c2"/>
<circle cx="498.2" cy="1613.5" r="3.3" class="s c2"/>
<circle cx="498.2" cy="1651.7" r="3.3" class="s c1"/>
<circle cx="498.2" cy="1657.0" r="3.3" class="s c1"/>
<circle cx="498.2" cy="1664.0" r="3.3" class="s c1"/>
<circle cx="498.2" cy="1676.0" r="3.3" class="s c1"/>
<circle cx="809.2" cy="1615.1" r="3.3" class="s c1"/>
<circle cx="809.2" cy="1649.5" r="3.3" class="s c2"/>
<circle cx="809.2" cy="1657.9" r="3.3" class="s c11"/>
<circle cx="809.2" cy="1663.2" r="3.3" class="s c9"/>
<text x="1069.0" y="1355.5" font-size="24.7" text-anchor="middle" font-weight="bold">iAstrocytes (BIONi037) III</text>
<text x="967.0" y="1395.2" font-size="21.2" text-anchor="middle">Down in Chol treated</text>
<text x="1166.8" y="1395.2" font-size="21.2" text-anchor="middle">Up in Chol treated</text>
<line x1="1044.0" y1="1418.7" x2="967.8" y2="1418.7" stroke="#000" stroke-width="1.9"/>
<path d="M960.0,1418.7L973.0,1413.2L969.1,1418.7L973.0,1424.2Z" fill="#000"/>
<line x1="1077.7" y1="1418.7" x2="1154.1" y2="1418.7" stroke="#000" stroke-width="1.9"/>
<path d="M1161.9,1418.7L1148.9,1413.2L1152.8,1418.7L1148.9,1424.2Z" fill="#000"/>
<line x1="897.3" y1="1437.5" x2="897.3" y2="1804.5" stroke="#333" stroke-width="1.9"/>
<line x1="897.3" y1="1803.7" x2="910.8" y2="1803.7" stroke="#333" stroke-width="1.9"/>
<line x1="917.5" y1="1803.7" x2="1202.5" y2="1803.7" stroke="#333" stroke-width="1.9"/>
<line x1="1208.5" y1="1803.7" x2="1222.5" y2="1803.7" stroke="#333" stroke-width="1.9"/>
<line x1="894.0" y1="1787.2" x2="897.3" y2="1787.2" stroke="#333" stroke-width="1.2"/>
<text x="892.3" y="1791.8" font-size="13" text-anchor="end" fill="#4d4d4d">0</text>
<line x1="894.0" y1="1703.9" x2="897.3" y2="1703.9" stroke="#333" stroke-width="1.2"/>
<text x="892.3" y="1708.5" font-size="13" text-anchor="end" fill="#4d4d4d">1</text>
<line x1="894.0" y1="1620.5" x2="897.3" y2="1620.5" stroke="#333" stroke-width="1.2"/>
<text x="892.3" y="1625.1" font-size="13" text-anchor="end" fill="#4d4d4d">2</text>
<line x1="894.0" y1="1537.2" x2="897.3" y2="1537.2" stroke="#333" stroke-width="1.2"/>
<text x="892.3" y="1541.8" font-size="13" text-anchor="end" fill="#4d4d4d">3</text>
<line x1="894.0" y1="1453.8" x2="897.3" y2="1453.8" stroke="#333" stroke-width="1.2"/>
<text x="892.3" y="1458.4" font-size="13" text-anchor="end" fill="#4d4d4d">4</text>
<line x1="904.3" y1="1803.7" x2="904.3" y2="1807.2" stroke="#333" stroke-width="1.2"/>
<line x1="930.2" y1="1803.7" x2="930.2" y2="1807.2" stroke="#333" stroke-width="1.2"/>
<text x="930.2" y="1817.6" font-size="13.3" text-anchor="middle" fill="#4d4d4d">-5</text>
<line x1="956.2" y1="1803.7" x2="956.2" y2="1807.2" stroke="#333" stroke-width="1.2"/>
<text x="956.2" y="1817.6" font-size="13.3" text-anchor="middle" fill="#4d4d4d">-4</text>
<line x1="982.1" y1="1803.7" x2="982.1" y2="1807.2" stroke="#333" stroke-width="1.2"/>
<text x="982.1" y="1817.6" font-size="13.3" text-anchor="middle" fill="#4d4d4d">-3</text>
<line x1="1008.0" y1="1803.7" x2="1008.0" y2="1807.2" stroke="#333" stroke-width="1.2"/>
<text x="1008.0" y="1817.6" font-size="13.3" text-anchor="middle" fill="#4d4d4d">-2</text>
<line x1="1034.0" y1="1803.7" x2="1034.0" y2="1807.2" stroke="#333" stroke-width="1.2"/>
<text x="1034.0" y="1817.6" font-size="13.3" text-anchor="middle" fill="#4d4d4d">-1</text>
<line x1="1059.9" y1="1803.7" x2="1059.9" y2="1807.2" stroke="#333" stroke-width="1.2"/>
<text x="1059.9" y="1817.6" font-size="13.3" text-anchor="middle" fill="#4d4d4d">0</text>
<line x1="1085.8" y1="1803.7" x2="1085.8" y2="1807.2" stroke="#333" stroke-width="1.2"/>
<text x="1085.8" y="1817.6" font-size="13.3" text-anchor="middle" fill="#4d4d4d">1</text>
<line x1="1111.8" y1="1803.7" x2="1111.8" y2="1807.2" stroke="#333" stroke-width="1.2"/>
<text x="1111.8" y="1817.6" font-size="13.3" text-anchor="middle" fill="#4d4d4d">2</text>
<line x1="1137.7" y1="1803.7" x2="1137.7" y2="1807.2" stroke="#333" stroke-width="1.2"/>
<text x="1137.7" y="1817.6" font-size="13.3" text-anchor="middle" fill="#4d4d4d">3</text>
<line x1="1163.6" y1="1803.7" x2="1163.6" y2="1807.2" stroke="#333" stroke-width="1.2"/>
<text x="1163.6" y="1817.6" font-size="13.3" text-anchor="middle" fill="#4d4d4d">4</text>
<line x1="1189.5" y1="1803.7" x2="1189.5" y2="1807.2" stroke="#333" stroke-width="1.2"/>
<text x="1189.5" y="1817.6" font-size="13.3" text-anchor="middle" fill="#4d4d4d">5</text>
<line x1="1215.5" y1="1803.7" x2="1215.5" y2="1807.2" stroke="#333" stroke-width="1.2"/>
<text x="907.8" y="1817.6" font-size="14" text-anchor="middle" fill="#4d4d4d">only</text>
<text x="907.8" y="1830.3" font-size="14" text-anchor="middle" fill="#4d4d4d">present in</text>
<text x="907.8" y="1843.2" font-size="14" text-anchor="middle" fill="#4d4d4d">control</text>
<text x="1219.3" y="1817.6" font-size="14" text-anchor="middle" fill="#4d4d4d">only</text>
<text x="1219.3" y="1830.3" font-size="14" text-anchor="middle" fill="#4d4d4d">present in</text>
<text x="1219.3" y="1843.2" font-size="14" text-anchor="middle" fill="#4d4d4d">cholesterol</text>
<text x="1060.4" y="1857.5" font-size="14.9" text-anchor="middle">log2(fold change)</text>
<text x="881.8" y="1621.0" font-size="14.7" text-anchor="middle" transform="rotate(-90 881.8 1621.0)">-log10(BH adjusted p-value)</text>
<polygon points="904.4,1733.0 901.4,1735.0 898.4,1738.0 898.9,1742.0 902.4,1745.0 904.4,1746.0 904.4,1746.0 906.4,1745.0 909.9,1742.0 910.4,1738.0 907.4,1735.0 904.4,1733.0" fill="none" stroke="#a6abab" stroke-width="1.9" stroke-linejoin="round"/>
<polygon points="1216.3,1724.0 1214.3,1730.0 1210.7,1736.0 1210.1,1742.0 1213.3,1748.0 1215.1,1756.0 1216.3,1773.0 1216.3,1773.0 1217.5,1756.0 1219.3,1748.0 1222.5,1742.0 1221.9,1736.0 1218.3,1730.0 1216.3,1724.0" fill="none" stroke="#a6abab" stroke-width="1.9" stroke-linejoin="round"/>
<circle cx="1006.9" cy="1752.2" r="3.3" class="n c1"/>
<circle cx="1028.7" cy="1765.3" r="3.3" class="n c1"/>
<circle cx="1019.7" cy="1746.0" r="3.3" class="n c1"/>
<circle cx="1030.9" cy="1738.3" r="3.3" class="n c1"/>
<circle cx="1047.9" cy="1767.9" r="3.3" class="n c1"/>
<circle cx="1052.7" cy="1778.5" r="3.3" class="n c0"/>
<circle cx="1057.3" cy="1783.7" r="3.3" class="n c12"/>
<circle cx="1050.1" cy="1767.0" r="3.3" class="n c1"/>
<circle cx="1050.2" cy="1772.1" r="3.3" class="n c6"/>
<circle cx="1020.5" cy="1754.4" r="3.3" class="n c1"/>
<circle cx="1009.0" cy="1751.0" r="3.3" class="n c12"/>
<circle cx="1048.7" cy="1769.5" r="3.3" class="n c9"/>
<circle cx="994.3" cy="1742.4" r="3.3" class="n c12"/>
<circle cx="1031.3" cy="1733.3" r="3.3" class="n c1"/>
<circle cx="1059.3" cy="1752.9" r="3.3" class="n c1"/>
<circle cx="1037.1" cy="1756.1" r="3.3" class="n c1"/>
<circle cx="1055.2" cy="1743.0" r="3.3" class="n c1"/>
<circle cx="1023.4" cy="1749.0" r="3.3" class="n c1"/>
<circle cx="1027.1" cy="1734.3" r="3.3" class="n c12"/>
<circle cx="1057.6" cy="1779.4" r="3.3" class="n c7"/>
<circle cx="1019.1" cy="1735.4" r="3.3" class="n c0"/>
<circle cx="1021.3" cy="1754.5" r="3.3" class="n c1"/>
<circle cx="1052.6" cy="1777.6" r="3.3" class="n c8"/>
<circle cx="1023.0" cy="1752.3" r="3.3" class="n c5"/>
<circle cx="1000.1" cy="1747.0" r="3.3" class="n c1"/>
<circle cx="1032.4" cy="1757.5" r="3.3" class="n c1"/>
<circle cx="1059.7" cy="1757.5" r="3.3" class="n c9"/>
<circle cx="1044.5" cy="1734.9" r="3.3" class="n c8"/>
<circle cx="1025.9" cy="1747.1" r="3.3" class="n c5"/>
<circle cx="1011.8" cy="1745.1" r="3.3" class="n c12"/>
<circle cx="1040.2" cy="1748.2" r="3.3" class="n c1"/>
<circle cx="1011.8" cy="1752.2" r="3.3" class="n c1"/>
<circle cx="1046.9" cy="1751.1" r="3.3" class="n c6"/>
<circle cx="1048.6" cy="1760.2" r="3.3" class="n c6"/>
<circle cx="1016.6" cy="1753.9" r="3.3" class="n c1"/>
<circle cx="1030.5" cy="1759.9" r="3.3" class="n c1"/>
<circle cx="1011.8" cy="1740.4" r="3.3" class="n c12"/>
<circle cx="1042.1" cy="1750.9" r="3.3" class="n c1"/>
<circle cx="1046.8" cy="1776.5" r="3.3" class="n c7"/>
<circle cx="1043.0" cy="1776.0" r="3.3" class="n c7"/>
<circle cx="1019.6" cy="1760.9" r="3.3" class="n c1"/>
<circle cx="986.8" cy="1738.6" r="3.3" class="n c1"/>
<circle cx="1054.5" cy="1736.5" r="3.3" class="n c8"/>
<circle cx="1044.8" cy="1733.3" r="3.3" class="n c10"/>
<circle cx="1030.3" cy="1764.3" r="3.3" class="n c1"/>
<circle cx="1028.3" cy="1752.4" r="3.3" class="n c1"/>
<circle cx="1034.5" cy="1745.8" r="3.3" class="n c5"/>
<circle cx="1048.8" cy="1759.9" r="3.3" class="n c1"/>
<circle cx="1058.0" cy="1777.4" r="3.3" class="n c1"/>
<circle cx="1009.3" cy="1746.7" r="3.3" class="n c1"/>
<circle cx="1003.7" cy="1748.5" r="3.3" class="n c1"/>
<circle cx="1050.5" cy="1742.8" r="3.3" class="n c7"/>
<circle cx="1046.6" cy="1755.7" r="3.3" class="n c1"/>
<circle cx="1022.3" cy="1740.5" r="3.3" class="n c1"/>
<circle cx="1059.1" cy="1783.6" r="3.3" class="n c6"/>
<circle cx="1056.7" cy="1738.5" r="3.3" class="n c6"/>
<circle cx="1058.3" cy="1741.8" r="3.3" class="n c1"/>
<circle cx="1030.5" cy="1760.5" r="3.3" class="n c1"/>
<circle cx="1010.6" cy="1733.2" r="3.3" class="n c1"/>
<circle cx="1021.8" cy="1735.3" r="3.3" class="n c1"/>
<circle cx="1048.2" cy="1736.5" r="3.3" class="n c7"/>
<circle cx="1033.6" cy="1767.0" r="3.3" class="n c1"/>
<circle cx="1045.0" cy="1774.1" r="3.3" class="n c1"/>
<circle cx="1053.9" cy="1771.0" r="3.3" class="n c7"/>
<circle cx="988.9" cy="1740.6" r="3.3" class="n c1"/>
<circle cx="1027.5" cy="1752.1" r="3.3" class="n c1"/>
<circle cx="1026.1" cy="1733.4" r="3.3" class="n c1"/>
<circle cx="1039.3" cy="1747.4" r="3.3" class="n c1"/>
<circle cx="1035.0" cy="1760.3" r="3.3" class="n c1"/>
<circle cx="1005.8" cy="1745.9" r="3.3" class="n c1"/>
<circle cx="1004.4" cy="1748.0" r="3.3" class="n c1"/>
<circle cx="1052.6" cy="1774.2" r="3.3" class="n c1"/>
<circle cx="1057.8" cy="1773.2" r="3.3" class="n c6"/>
<circle cx="1022.9" cy="1743.3" r="3.3" class="n c1"/>
<circle cx="1055.3" cy="1749.0" r="3.3" class="n c1"/>
<circle cx="1046.2" cy="1767.1" r="3.3" class="n c1"/>
<circle cx="1054.1" cy="1748.7" r="3.3" class="n c7"/>
<circle cx="1026.3" cy="1762.8" r="3.3" class="n c1"/>
<circle cx="1032.4" cy="1735.9" r="3.3" class="n c1"/>
<circle cx="1022.3" cy="1755.4" r="3.3" class="n c1"/>
<circle cx="1025.6" cy="1743.6" r="3.3" class="n c1"/>
<circle cx="1026.0" cy="1763.3" r="3.3" class="n c1"/>
<circle cx="1045.8" cy="1741.4" r="3.3" class="n c7"/>
<circle cx="1026.9" cy="1744.2" r="3.3" class="n c1"/>
<circle cx="1045.1" cy="1746.5" r="3.3" class="n c1"/>
<circle cx="1008.6" cy="1737.2" r="3.3" class="n c1"/>
<circle cx="1044.9" cy="1741.9" r="3.3" class="n c6"/>
<circle cx="1013.1" cy="1748.7" r="3.3" class="n c1"/>
<circle cx="1033.0" cy="1739.3" r="3.3" class="n c1"/>
<circle cx="1053.5" cy="1734.1" r="3.3" class="n c9"/>
<circle cx="1033.5" cy="1765.3" r="3.3" class="n c1"/>
<circle cx="1049.8" cy="1750.3" r="3.3" class="n c7"/>
<circle cx="993.2" cy="1736.2" r="3.3" class="n c1"/>
<circle cx="1054.6" cy="1772.6" r="3.3" class="n c8"/>
<circle cx="1046.1" cy="1774.5" r="3.3" class="n c8"/>
<circle cx="1027.9" cy="1747.8" r="3.3" class="n c12"/>
<circle cx="1013.9" cy="1743.2" r="3.3" class="n c5"/>
<circle cx="1009.3" cy="1742.4" r="3.3" class="n c1"/>
<circle cx="995.4" cy="1741.8" r="3.3" class="n c1"/>
<circle cx="1029.5" cy="1754.7" r="3.3" class="n c1"/>
<circle cx="1056.6" cy="1756.0" r="3.3" class="n c1"/>
<circle cx="1053.1" cy="1757.7" r="3.3" class="n c7"/>
<circle cx="1020.6" cy="1760.7" r="3.3" class="n c1"/>
<circle cx="1050.6" cy="1747.3" r="3.3" class="n c1"/>
<circle cx="1002.9" cy="1742.2" r="3.3" class="n c1"/>
<circle cx="1023.9" cy="1752.4" r="3.3" class="n c1"/>
<circle cx="1041.7" cy="1763.1" r="3.3" class="n c1"/>
<circle cx="1043.9" cy="1755.7" r="3.3" class="n c1"/>
<circle cx="999.7" cy="1737.2" r="3.3" class="n c1"/>
<circle cx="1041.8" cy="1760.3" r="3.3" class="n c1"/>
<circle cx="1037.4" cy="1746.8" r="3.3" class="n c1"/>
<circle cx="1053.9" cy="1750.4" r="3.3" class="n c1"/>
<circle cx="1001.2" cy="1743.4" r="3.3" class="n c1"/>
<circle cx="1058.2" cy="1767.0" r="3.3" class="n c7"/>
<circle cx="1048.1" cy="1742.1" r="3.3" class="n c8"/>
<circle cx="1007.0" cy="1738.3" r="3.3" class="n c1"/>
<circle cx="1050.6" cy="1757.7" r="3.3" class="n c7"/>
<circle cx="1051.9" cy="1775.6" r="3.3" class="n c10"/>
<circle cx="1053.8" cy="1739.7" r="3.3" class="n c10"/>
<circle cx="1049.0" cy="1749.9" r="3.3" class="n c1"/>
<circle cx="1043.8" cy="1764.5" r="3.3" class="n c1"/>
<circle cx="1059.6" cy="1777.7" r="3.3" class="n c10"/>
<circle cx="1050.7" cy="1772.0" r="3.3" class="n c1"/>
<circle cx="1043.5" cy="1764.8" r="3.3" class="n c1"/>
<circle cx="1058.9" cy="1733.6" r="3.3" class="n c1"/>
<circle cx="1034.5" cy="1770.5" r="3.3" class="n c1"/>
<circle cx="1038.9" cy="1769.1" r="3.3" class="n c1"/>
<circle cx="1034.6" cy="1747.3" r="3.3" class="n c1"/>
<circle cx="1015.8" cy="1753.5" r="3.3" class="n c1"/>
<circle cx="1038.7" cy="1761.7" r="3.3" class="n c1"/>
<circle cx="1018.7" cy="1741.1" r="3.3" class="n c1"/>
<circle cx="1039.2" cy="1749.9" r="3.3" class="n c1"/>
<circle cx="1046.6" cy="1738.4" r="3.3" class="n c8"/>
<circle cx="994.5" cy="1744.1" r="3.3" class="n c1"/>
<circle cx="1053.3" cy="1776.8" r="3.3" class="n c7"/>
<circle cx="1056.7" cy="1784.3" r="3.3" class="n c8"/>
<circle cx="1035.0" cy="1738.5" r="3.3" class="n c1"/>
<circle cx="1057.8" cy="1768.2" r="3.3" class="n c9"/>
<circle cx="1017.6" cy="1751.8" r="3.3" class="n c1"/>
<circle cx="1054.6" cy="1744.4" r="3.3" class="n c9"/>
<circle cx="1028.8" cy="1759.4" r="3.3" class="n c1"/>
<circle cx="1048.9" cy="1771.8" r="3.3" class="n c1"/>
<circle cx="1028.1" cy="1739.8" r="3.3" class="n c1"/>
<circle cx="1049.9" cy="1734.0" r="3.3" class="n c1"/>
<circle cx="1021.1" cy="1759.6" r="3.3" class="n c1"/>
<circle cx="1024.1" cy="1762.1" r="3.3" class="n c0"/>
<circle cx="1022.4" cy="1760.4" r="3.3" class="n c1"/>
<circle cx="1025.3" cy="1750.4" r="3.3" class="n c12"/>
<circle cx="1058.9" cy="1749.0" r="3.3" class="n c1"/>
<circle cx="1040.3" cy="1754.1" r="3.3" class="n c1"/>
<circle cx="1024.7" cy="1755.4" r="3.3" class="n c1"/>
<circle cx="1042.5" cy="1760.6" r="3.3" class="n c7"/>
<circle cx="993.0" cy="1741.0" r="3.3" class="n c1"/>
<circle cx="1020.5" cy="1737.5" r="3.3" class="n c1"/>
<circle cx="1023.7" cy="1743.6" r="3.3" class="n c1"/>
<circle cx="1048.4" cy="1748.3" r="3.3" class="n c7"/>
<circle cx="1045.6" cy="1759.2" r="3.3" class="n c1"/>
<circle cx="1059.4" cy="1733.1" r="3.3" class="n c12"/>
<circle cx="1057.1" cy="1766.5" r="3.3" class="n c7"/>
<circle cx="1050.6" cy="1741.1" r="3.3" class="n c9"/>
<circle cx="1023.8" cy="1763.1" r="3.3" class="n c1"/>
<circle cx="1037.4" cy="1756.8" r="3.3" class="n c1"/>
<circle cx="1040.6" cy="1754.0" r="3.3" class="n c1"/>
<circle cx="1046.7" cy="1775.6" r="3.3" class="n c7"/>
<circle cx="1019.9" cy="1754.1" r="3.3" class="n c1"/>
<circle cx="1007.4" cy="1737.7" r="3.3" class="n c1"/>
<circle cx="1059.3" cy="1759.4" r="3.3" class="n c7"/>
<circle cx="1048.5" cy="1774.6" r="3.3" class="n c7"/>
<circle cx="1006.3" cy="1739.4" r="3.3" class="n c1"/>
<circle cx="1001.4" cy="1734.0" r="3.3" class="n c1"/>
<circle cx="1050.1" cy="1770.3" r="3.3" class="n c8"/>
<circle cx="1008.4" cy="1746.4" r="3.3" class="n c1"/>
<circle cx="1037.0" cy="1750.8" r="3.3" class="n c1"/>
<circle cx="1038.4" cy="1769.1" r="3.3" class="n c1"/>
<circle cx="1015.8" cy="1742.7" r="3.3" class="n c1"/>
<circle cx="1023.5" cy="1741.4" r="3.3" class="n c1"/>
<circle cx="1055.4" cy="1737.9" r="3.3" class="n c1"/>
<circle cx="1047.8" cy="1778.7" r="3.3" class="n c1"/>
<circle cx="1006.0" cy="1743.7" r="3.3" class="n c1"/>
<circle cx="1027.2" cy="1737.6" r="3.3" class="n c1"/>
<circle cx="1041.2" cy="1749.7" r="3.3" class="n c1"/>
<circle cx="1015.9" cy="1750.2" r="3.3" class="n c1"/>
<circle cx="1053.8" cy="1747.1" r="3.3" class="n c7"/>
<circle cx="1056.0" cy="1750.0" r="3.3" class="n c6"/>
<circle cx="990.0" cy="1738.2" r="3.3" class="n c1"/>
<circle cx="1017.8" cy="1760.0" r="3.3" class="n c1"/>
<circle cx="1052.1" cy="1746.2" r="3.3" class="n c6"/>
<circle cx="1012.8" cy="1745.4" r="3.3" class="n c1"/>
<circle cx="1044.3" cy="1739.1" r="3.3" class="n c12"/>
<circle cx="1016.3" cy="1737.5" r="3.3" class="n c5"/>
<circle cx="1017.2" cy="1734.2" r="3.3" class="n c1"/>
<circle cx="1049.0" cy="1756.1" r="3.3" class="n c7"/>
<circle cx="1040.8" cy="1765.8" r="3.3" class="n c5"/>
<circle cx="1045.3" cy="1742.4" r="3.3" class="n c8"/>
<circle cx="1052.1" cy="1745.1" r="3.3" class="n c0"/>
<circle cx="1059.8" cy="1748.8" r="3.3" class="n c7"/>
<circle cx="1028.5" cy="1744.6" r="3.3" class="n c1"/>
<circle cx="1015.1" cy="1754.4" r="3.3" class="n c1"/>
<circle cx="1017.1" cy="1747.1" r="3.3" class="n c1"/>
<circle cx="997.7" cy="1744.2" r="3.3" class="n c5"/>
<circle cx="1042.5" cy="1760.8" r="3.3" class="n c1"/>
<circle cx="1008.8" cy="1748.7" r="3.3" class="n c1"/>
<circle cx="1034.4" cy="1756.6" r="3.3" class="n c1"/>
<circle cx="1030.8" cy="1738.6" r="3.3" class="n c1"/>
<circle cx="1058.0" cy="1743.7" r="3.3" class="n c7"/>
<circle cx="1059.1" cy="1757.1" r="3.3" class="n c1"/>
<circle cx="1018.1" cy="1755.7" r="3.3" class="n c1"/>
<circle cx="1028.4" cy="1737.7" r="3.3" class="n c1"/>
<circle cx="1024.5" cy="1749.8" r="3.3" class="n c1"/>
<circle cx="1053.3" cy="1749.3" r="3.3" class="n c1"/>
<circle cx="1048.6" cy="1771.8" r="3.3" class="n c1"/>
<circle cx="1043.8" cy="1767.2" r="3.3" class="n c1"/>
<circle cx="1057.2" cy="1747.6" r="3.3" class="n c1"/>
<circle cx="1044.7" cy="1756.3" r="3.3" class="n c1"/>
<circle cx="1036.2" cy="1768.1" r="3.3" class="n c12"/>
<circle cx="1029.0" cy="1737.4" r="3.3" class="n c1"/>
<circle cx="1004.0" cy="1740.9" r="3.3" class="n c1"/>
<circle cx="1046.2" cy="1758.6" r="3.3" class="n c1"/>
<circle cx="1029.0" cy="1735.1" r="3.3" class="n c1"/>
<circle cx="1026.8" cy="1744.6" r="3.3" class="n c1"/>
<circle cx="1011.4" cy="1733.5" r="3.3" class="n c1"/>
<circle cx="1022.6" cy="1742.4" r="3.3" class="n c1"/>
<circle cx="1058.9" cy="1743.7" r="3.3" class="n c9"/>
<circle cx="998.2" cy="1744.7" r="3.3" class="n c1"/>
<circle cx="1037.7" cy="1769.5" r="3.3" class="n c1"/>
<circle cx="1046.9" cy="1770.5" r="3.3" class="n c12"/>
<circle cx="1055.7" cy="1739.3" r="3.3" class="n c6"/>
<circle cx="1035.1" cy="1738.2" r="3.3" class="n c1"/>
<circle cx="1052.2" cy="1747.9" r="3.3" class="n c1"/>
<circle cx="1045.7" cy="1768.7" r="3.3" class="n c10"/>
<circle cx="993.6" cy="1740.0" r="3.3" class="n c1"/>
<circle cx="1018.8" cy="1749.2" r="3.3" class="n c1"/>
<circle cx="1021.7" cy="1749.6" r="3.3" class="n c1"/>
<circle cx="1046.9" cy="1752.0" r="3.3" class="n c1"/>
<circle cx="1039.0" cy="1757.2" r="3.3" class="n c0"/>
<circle cx="1056.7" cy="1742.4" r="3.3" class="n c9"/>
<circle cx="1025.0" cy="1746.5" r="3.3" class="n c1"/>
<circle cx="1046.2" cy="1733.2" r="3.3" class="n c1"/>
<circle cx="1031.5" cy="1737.3" r="3.3" class="n c1"/>
<circle cx="1044.3" cy="1776.6" r="3.3" class="n c1"/>
<circle cx="1047.8" cy="1741.5" r="3.3" class="n c1"/>
<circle cx="1041.4" cy="1745.2" r="3.3" class="n c1"/>
<circle cx="1042.8" cy="1759.2" r="3.3" class="n c7"/>
<circle cx="1052.3" cy="1781.2" r="3.3" class="n c8"/>
<circle cx="1035.6" cy="1769.0" r="3.3" class="n c1"/>
<circle cx="1056.9" cy="1750.2" r="3.3" class="n c7"/>
<circle cx="1045.4" cy="1741.6" r="3.3" class="n c6"/>
<circle cx="1020.1" cy="1733.1" r="3.3" class="n c1"/>
<circle cx="1006.5" cy="1745.5" r="3.3" class="n c1"/>
<circle cx="1051.4" cy="1751.7" r="3.3" class="n c1"/>
<circle cx="1045.1" cy="1754.3" r="3.3" class="n c12"/>
<circle cx="1051.1" cy="1763.0" r="3.3" class="n c6"/>
<circle cx="1043.5" cy="1755.7" r="3.3" class="n c1"/>
<circle cx="1044.5" cy="1759.9" r="3.3" class="n c1"/>
<circle cx="1037.3" cy="1746.8" r="3.3" class="n c1"/>
<circle cx="1021.2" cy="1736.7" r="3.3" class="n c1"/>
<circle cx="1040.8" cy="1749.4" r="3.3" class="n c1"/>
<circle cx="1032.4" cy="1763.9" r="3.3" class="n c1"/>
<circle cx="1050.8" cy="1768.2" r="3.3" class="n c1"/>
<circle cx="1043.1" cy="1752.1" r="3.3" class="n c9"/>
<circle cx="1022.4" cy="1739.3" r="3.3" class="n c12"/>
<circle cx="1027.3" cy="1746.8" r="3.3" class="n c1"/>
<circle cx="1058.6" cy="1743.7" r="3.3" class="n c9"/>
<circle cx="1044.3" cy="1741.4" r="3.3" class="n c12"/>
<circle cx="1053.2" cy="1757.8" r="3.3" class="n c1"/>
<circle cx="1055.7" cy="1779.9" r="3.3" class="n c6"/>
<circle cx="1019.1" cy="1749.3" r="3.3" class="n c1"/>
<circle cx="1012.5" cy="1742.8" r="3.3" class="n c1"/>
<circle cx="1054.3" cy="1746.1" r="3.3" class="n c10"/>
<circle cx="1051.1" cy="1766.7" r="3.3" class="n c6"/>
<circle cx="1050.0" cy="1747.7" r="3.3" class="n c1"/>
<circle cx="1052.7" cy="1739.8" r="3.3" class="n c1"/>
<circle cx="1045.9" cy="1765.5" r="3.3" class="n c1"/>
<circle cx="1026.6" cy="1747.8" r="3.3" class="n c1"/>
<circle cx="1051.0" cy="1742.7" r="3.3" class="n c6"/>
<circle cx="1048.8" cy="1762.7" r="3.3" class="n c7"/>
<circle cx="1053.7" cy="1762.5" r="3.3" class="n c1"/>
<circle cx="1027.9" cy="1746.6" r="3.3" class="n c1"/>
<circle cx="995.8" cy="1733.8" r="3.3" class="n c1"/>
<circle cx="997.3" cy="1735.8" r="3.3" class="n c1"/>
<circle cx="1037.8" cy="1733.1" r="3.3" class="n c1"/>
<circle cx="1017.3" cy="1759.4" r="3.3" class="n c1"/>
<circle cx="1015.7" cy="1736.5" r="3.3" class="n c1"/>
<circle cx="1026.9" cy="1735.3" r="3.3" class="n c1"/>
<circle cx="1020.2" cy="1748.4" r="3.3" class="n c1"/>
<circle cx="1043.2" cy="1741.7" r="3.3" class="n c10"/>
<circle cx="1036.8" cy="1770.6" r="3.3" class="n c1"/>
<circle cx="1027.4" cy="1743.5" r="3.3" class="n c1"/>
<circle cx="1051.1" cy="1763.4" r="3.3" class="n c1"/>
<circle cx="1032.6" cy="1745.5" r="3.3" class="n c1"/>
<circle cx="1055.8" cy="1758.0" r="3.3" class="n c7"/>
<circle cx="1002.9" cy="1733.2" r="3.3" class="n c1"/>
<circle cx="1047.1" cy="1777.3" r="3.3" class="n c6"/>
<circle cx="1042.5" cy="1740.2" r="3.3" class="n c1"/>
<circle cx="1030.8" cy="1756.7" r="3.3" class="n c1"/>
<circle cx="1036.5" cy="1757.7" r="3.3" class="n c1"/>
<circle cx="1043.3" cy="1752.8" r="3.3" class="n c6"/>
<circle cx="1046.2" cy="1771.3" r="3.3" class="n c1"/>
<circle cx="993.1" cy="1738.4" r="3.3" class="n c1"/>
<circle cx="1050.8" cy="1746.7" r="3.3" class="n c8"/>
<circle cx="1032.6" cy="1766.6" r="3.3" class="n c1"/>
<circle cx="1054.7" cy="1763.8" r="3.3" class="n c10"/>
<circle cx="1052.8" cy="1760.8" r="3.3" class="n c1"/>
<circle cx="1022.8" cy="1763.3" r="3.3" class="n c5"/>
<circle cx="1027.6" cy="1758.4" r="3.3" class="n c1"/>
<circle cx="1048.4" cy="1775.1" r="3.3" class="n c1"/>
<circle cx="1052.6" cy="1760.3" r="3.3" class="n c9"/>
<circle cx="1047.2" cy="1761.9" r="3.3" class="n c0"/>
<circle cx="1028.3" cy="1746.9" r="3.3" class="n c1"/>
<circle cx="1012.1" cy="1739.8" r="3.3" class="n c1"/>
<circle cx="1030.9" cy="1763.3" r="3.3" class="n c1"/>
<circle cx="1034.1" cy="1764.8" r="3.3" class="n c1"/>
<circle cx="1029.7" cy="1762.2" r="3.3" class="n c1"/>
<circle cx="1052.7" cy="1747.5" r="3.3" class="n c1"/>
<circle cx="1044.2" cy="1758.0" r="3.3" class="n c7"/>
<circle cx="1033.8" cy="1749.2" r="3.3" class="n c1"/>
<circle cx="1021.9" cy="1747.7" r="3.3" class="n c1"/>
<circle cx="1048.2" cy="1764.1" r="3.3" class="n c12"/>
<circle cx="1035.4" cy="1760.9" r="3.3" class="n c1"/>
<circle cx="1050.7" cy="1743.7" r="3.3" class="n c12"/>
<circle cx="1017.2" cy="1735.2" r="3.3" class="n c1"/>
<circle cx="1051.0" cy="1751.4" r="3.3" class="n c1"/>
<circle cx="1057.6" cy="1748.5" r="3.3" class="n c6"/>
<circle cx="1009.2" cy="1744.0" r="3.3" class="n c1"/>
<circle cx="1048.4" cy="1745.8" r="3.3" class="n c9"/>
<circle cx="1031.8" cy="1746.3" r="3.3" class="n c1"/>
<circle cx="1055.4" cy="1761.4" r="3.3" class="n c9"/>
<circle cx="1049.2" cy="1779.5" r="3.3" class="n c10"/>
<circle cx="1045.6" cy="1767.6" r="3.3" class="n c9"/>
<circle cx="1059.5" cy="1755.3" r="3.3" class="n c7"/>
<circle cx="1036.0" cy="1769.6" r="3.3" class="n c0"/>
<circle cx="1034.4" cy="1751.7" r="3.3" class="n c1"/>
<circle cx="1002.2" cy="1742.7" r="3.3" class="n c1"/>
<circle cx="1046.1" cy="1763.1" r="3.3" class="n c6"/>
<circle cx="1023.7" cy="1737.4" r="3.3" class="n c1"/>
<circle cx="1004.7" cy="1738.7" r="3.3" class="n c5"/>
<circle cx="1049.1" cy="1762.4" r="3.3" class="n c10"/>
<circle cx="1048.9" cy="1750.6" r="3.3" class="n c6"/>
<circle cx="1018.7" cy="1757.8" r="3.3" class="n c1"/>
<circle cx="1059.8" cy="1765.3" r="3.3" class="n c10"/>
<circle cx="1045.7" cy="1772.9" r="3.3" class="n c1"/>
<circle cx="1016.6" cy="1739.2" r="3.3" class="n c1"/>
<circle cx="1059.3" cy="1739.6" r="3.3" class="n c1"/>
<circle cx="1049.6" cy="1748.8" r="3.3" class="n c12"/>
<circle cx="1039.8" cy="1750.5" r="3.3" class="n c1"/>
<circle cx="1044.3" cy="1772.6" r="3.3" class="n c1"/>
<circle cx="1037.4" cy="1751.2" r="3.3" class="n c12"/>
<circle cx="1039.7" cy="1740.2" r="3.3" class="n c1"/>
<circle cx="1022.6" cy="1733.3" r="3.3" class="n c1"/>
<circle cx="1037.4" cy="1755.6" r="3.3" class="n c0"/>
<circle cx="1008.5" cy="1733.7" r="3.3" class="n c1"/>
<circle cx="1042.4" cy="1744.5" r="3.3" class="n c9"/>
<circle cx="1037.1" cy="1772.0" r="3.3" class="n c1"/>
<circle cx="1046.8" cy="1743.8" r="3.3" class="n c7"/>
<circle cx="1009.2" cy="1737.3" r="3.3" class="n c1"/>
<circle cx="1053.0" cy="1745.7" r="3.3" class="n c1"/>
<circle cx="996.0" cy="1736.0" r="3.3" class="n c1"/>
<circle cx="988.2" cy="1734.8" r="3.3" class="n c5"/>
<circle cx="1016.5" cy="1756.6" r="3.3" class="n c1"/>
<circle cx="1026.8" cy="1754.5" r="3.3" class="n c1"/>
<circle cx="1056.6" cy="1761.7" r="3.3" class="n c5"/>
<circle cx="1048.0" cy="1778.7" r="3.3" class="n c12"/>
<circle cx="1043.6" cy="1740.1" r="3.3" class="n c6"/>
<circle cx="1054.3" cy="1767.1" r="3.3" class="n c10"/>
<circle cx="1040.8" cy="1745.6" r="3.3" class="n c1"/>
<circle cx="1038.5" cy="1737.9" r="3.3" class="n c1"/>
<circle cx="1047.2" cy="1772.4" r="3.3" class="n c1"/>
<circle cx="1021.9" cy="1759.2" r="3.3" class="n c0"/>
<circle cx="1002.8" cy="1746.5" r="3.3" class="n c1"/>
<circle cx="1037.1" cy="1770.4" r="3.3" class="n c12"/>
<circle cx="1052.9" cy="1744.6" r="3.3" class="n c1"/>
<circle cx="1046.3" cy="1754.8" r="3.3" class="n c1"/>
<circle cx="1042.3" cy="1768.0" r="3.3" class="n c1"/>
<circle cx="1057.4" cy="1749.6" r="3.3" class="n c1"/>
<circle cx="1002.1" cy="1739.7" r="3.3" class="n c1"/>
<circle cx="1040.3" cy="1769.0" r="3.3" class="n c1"/>
<circle cx="1046.5" cy="1746.9" r="3.3" class="n c6"/>
<circle cx="1046.0" cy="1769.1" r="3.3" class="n c9"/>
<circle cx="1054.6" cy="1769.5" r="3.3" class="n c1"/>
<circle cx="1045.5" cy="1741.7" r="3.3" class="n c1"/>
<circle cx="1035.4" cy="1737.6" r="3.3" class="n c1"/>
<circle cx="1040.5" cy="1766.1" r="3.3" class="n c12"/>
<circle cx="1059.6" cy="1751.0" r="3.3" class="n c6"/>
<circle cx="1045.2" cy="1757.4" r="3.3" class="n c10"/>
<circle cx="1048.1" cy="1761.1" r="3.3" class="n c10"/>
<circle cx="1048.0" cy="1746.3" r="3.3" class="n c1"/>
<circle cx="1017.3" cy="1736.3" r="3.3" class="n c1"/>
<circle cx="1009.8" cy="1748.6" r="3.3" class="n c1"/>
<circle cx="1055.5" cy="1761.9" r="3.3" class="n c6"/>
<circle cx="1043.6" cy="1739.0" r="3.3" class="n c1"/>
<circle cx="1044.3" cy="1773.2" r="3.3" class="n c6"/>
<circle cx="1015.5" cy="1744.1" r="3.3" class="n c1"/>
<circle cx="1024.5" cy="1752.0" r="3.3" class="n c1"/>
<circle cx="1042.6" cy="1754.5" r="3.3" class="n c1"/>
<circle cx="1038.0" cy="1772.9" r="3.3" class="n c0"/>
<circle cx="1058.4" cy="1765.9" r="3.3" class="n c0"/>
<circle cx="1033.3" cy="1749.4" r="3.3" class="n c1"/>
<circle cx="1019.6" cy="1740.4" r="3.3" class="n c12"/>
<circle cx="1044.6" cy="1759.2" r="3.3" class="n c8"/>
<circle cx="1047.6" cy="1758.7" r="3.3" class="n c12"/>
<circle cx="1024.1" cy="1758.8" r="3.3" class="n c1"/>
<circle cx="1029.5" cy="1745.5" r="3.3" class="n c1"/>
<circle cx="1007.2" cy="1737.1" r="3.3" class="n c1"/>
<circle cx="1054.6" cy="1740.8" r="3.3" class="n c1"/>
<circle cx="1011.0" cy="1746.1" r="3.3" class="n c1"/>
<circle cx="1011.8" cy="1745.4" r="3.3" class="n c1"/>
<circle cx="1052.9" cy="1748.8" r="3.3" class="n c6"/>
<circle cx="1008.2" cy="1747.5" r="3.3" class="n c1"/>
<circle cx="1021.9" cy="1736.3" r="3.3" class="n c5"/>
<circle cx="1037.3" cy="1754.7" r="3.3" class="n c1"/>
<circle cx="1049.2" cy="1777.1" r="3.3" class="n c1"/>
<circle cx="1047.9" cy="1744.7" r="3.3" class="n c12"/>
<circle cx="1033.1" cy="1754.5" r="3.3" class="n c1"/>
<circle cx="1043.7" cy="1766.3" r="3.3" class="n c1"/>
<circle cx="1025.7" cy="1757.1" r="3.3" class="n c1"/>
<circle cx="1050.5" cy="1733.0" r="3.3" class="n c1"/>
<circle cx="1016.9" cy="1754.1" r="3.3" class="n c1"/>
<circle cx="1054.3" cy="1742.5" r="3.3" class="n c7"/>
<circle cx="1045.6" cy="1767.4" r="3.3" class="n c1"/>
<circle cx="990.7" cy="1734.0" r="3.3" class="n c1"/>
<circle cx="1066.6" cy="1778.2" r="3.3" class="n c4"/>
<circle cx="1061.3" cy="1781.1" r="3.3" class="n c6"/>
<circle cx="1068.3" cy="1776.8" r="3.3" class="n c5"/>
<circle cx="1077.8" cy="1755.1" r="3.3" class="n c6"/>
<circle cx="1066.0" cy="1745.9" r="3.3" class="n c7"/>
<circle cx="1060.4" cy="1766.8" r="3.3" class="n c7"/>
<circle cx="1065.7" cy="1742.1" r="3.3" class="n c8"/>
<circle cx="1073.5" cy="1737.2" r="3.3" class="n c6"/>
<circle cx="1087.9" cy="1751.2" r="3.3" class="n c9"/>
<circle cx="1079.2" cy="1768.0" r="3.3" class="n c7"/>
<circle cx="1094.3" cy="1744.4" r="3.3" class="n c5"/>
<circle cx="1065.6" cy="1742.4" r="3.3" class="n c8"/>
<circle cx="1065.3" cy="1781.8" r="3.3" class="n c7"/>
<circle cx="1104.5" cy="1736.4" r="3.3" class="n c4"/>
<circle cx="1078.9" cy="1749.1" r="3.3" class="n c7"/>
<circle cx="1079.7" cy="1759.0" r="3.3" class="n c4"/>
<circle cx="1079.9" cy="1752.3" r="3.3" class="n c7"/>
<circle cx="1082.2" cy="1739.5" r="3.3" class="n c0"/>
<circle cx="1109.4" cy="1744.1" r="3.3" class="n c0"/>
<circle cx="1107.2" cy="1736.3" r="3.3" class="n c10"/>
<circle cx="1082.1" cy="1741.1" r="3.3" class="n c7"/>
<circle cx="1066.4" cy="1757.4" r="3.3" class="n c8"/>
<circle cx="1097.1" cy="1744.2" r="3.3" class="n c6"/>
<circle cx="1072.1" cy="1756.2" r="3.3" class="n c7"/>
<circle cx="1060.7" cy="1772.7" r="3.3" class="n c1"/>
<circle cx="1060.0" cy="1779.7" r="3.3" class="n c1"/>
<circle cx="1063.7" cy="1773.5" r="3.3" class="n c10"/>
<circle cx="1094.4" cy="1752.8" r="3.3" class="n c0"/>
<circle cx="1066.4" cy="1764.9" r="3.3" class="n c7"/>
<circle cx="1079.0" cy="1736.2" r="3.3" class="n c7"/>
<circle cx="1072.6" cy="1744.6" r="3.3" class="n c6"/>
<circle cx="1066.6" cy="1774.2" r="3.3" class="n c7"/>
<circle cx="1061.4" cy="1751.9" r="3.3" class="n c7"/>
<circle cx="1084.0" cy="1740.9" r="3.3" class="n c5"/>
<circle cx="1069.9" cy="1766.9" r="3.3" class="n c4"/>
<circle cx="1088.1" cy="1762.3" r="3.3" class="n c7"/>
<circle cx="1065.1" cy="1743.1" r="3.3" class="n c7"/>
<circle cx="1100.1" cy="1751.8" r="3.3" class="n c3"/>
<circle cx="1071.3" cy="1754.6" r="3.3" class="n c6"/>
<circle cx="1075.1" cy="1765.3" r="3.3" class="n c7"/>
<circle cx="1075.1" cy="1756.5" r="3.3" class="n c7"/>
<circle cx="1083.2" cy="1750.1" r="3.3" class="n c7"/>
<circle cx="1099.6" cy="1738.5" r="3.3" class="n c7"/>
<circle cx="1066.4" cy="1761.1" r="3.3" class="n c7"/>
<circle cx="1084.4" cy="1755.1" r="3.3" class="n c6"/>
<circle cx="1069.9" cy="1767.4" r="3.3" class="n c8"/>
<circle cx="1103.2" cy="1734.9" r="3.3" class="n c6"/>
<circle cx="1090.8" cy="1755.0" r="3.3" class="n c9"/>
<circle cx="1062.0" cy="1741.7" r="3.3" class="n c7"/>
<circle cx="1088.7" cy="1751.3" r="3.3" class="n c6"/>
<circle cx="1071.5" cy="1758.4" r="3.3" class="n c7"/>
<circle cx="1090.5" cy="1759.4" r="3.3" class="n c7"/>
<circle cx="1078.0" cy="1767.0" r="3.3" class="n c6"/>
<circle cx="1064.7" cy="1738.6" r="3.3" class="n c5"/>
<circle cx="1086.7" cy="1737.3" r="3.3" class="n c6"/>
<circle cx="1078.4" cy="1759.6" r="3.3" class="n c10"/>
<circle cx="1062.4" cy="1736.6" r="3.3" class="n c7"/>
<circle cx="1086.1" cy="1758.0" r="3.3" class="n c1"/>
<circle cx="1093.7" cy="1735.7" r="3.3" class="n c7"/>
<circle cx="1110.4" cy="1741.3" r="3.3" class="n c9"/>
<circle cx="1070.8" cy="1739.8" r="3.3" class="n c4"/>
<circle cx="1064.1" cy="1772.2" r="3.3" class="n c7"/>
<circle cx="1070.4" cy="1742.8" r="3.3" class="n c7"/>
<circle cx="1062.7" cy="1766.1" r="3.3" class="n c6"/>
<circle cx="1059.9" cy="1736.6" r="3.3" class="n c7"/>
<circle cx="1066.8" cy="1758.5" r="3.3" class="n c7"/>
<circle cx="1077.4" cy="1764.7" r="3.3" class="n c6"/>
<circle cx="1100.3" cy="1735.7" r="3.3" class="n c5"/>
<circle cx="1073.0" cy="1744.7" r="3.3" class="n c8"/>
<circle cx="1067.3" cy="1776.8" r="3.3" class="n c4"/>
<circle cx="1071.6" cy="1753.9" r="3.3" class="n c6"/>
<circle cx="1063.2" cy="1750.4" r="3.3" class="n c6"/>
<circle cx="1085.4" cy="1748.1" r="3.3" class="n c7"/>
<circle cx="1076.0" cy="1767.8" r="3.3" class="n c4"/>
<circle cx="1071.2" cy="1776.2" r="3.3" class="n c5"/>
<circle cx="1073.2" cy="1750.8" r="3.3" class="n c7"/>
<circle cx="1092.1" cy="1747.8" r="3.3" class="n c4"/>
<circle cx="1097.9" cy="1753.0" r="3.3" class="n c6"/>
<circle cx="1090.8" cy="1737.2" r="3.3" class="n c3"/>
<circle cx="1060.2" cy="1784.7" r="3.3" class="n c8"/>
<circle cx="1061.8" cy="1744.7" r="3.3" class="n c6"/>
<circle cx="1074.2" cy="1753.7" r="3.3" class="n c7"/>
<circle cx="1061.6" cy="1761.5" r="3.3" class="n c10"/>
<circle cx="1077.1" cy="1768.5" r="3.3" class="n c9"/>
<circle cx="1065.4" cy="1771.8" r="3.3" class="n c7"/>
<circle cx="1061.9" cy="1783.0" r="3.3" class="n c6"/>
<circle cx="1076.6" cy="1736.2" r="3.3" class="n c8"/>
<circle cx="1072.1" cy="1743.5" r="3.3" class="n c8"/>
<circle cx="1095.6" cy="1741.5" r="3.3" class="n c6"/>
<circle cx="1089.4" cy="1739.4" r="3.3" class="n c6"/>
<circle cx="1070.5" cy="1776.1" r="3.3" class="n c7"/>
<circle cx="1081.6" cy="1764.2" r="3.3" class="n c7"/>
<circle cx="1070.8" cy="1744.3" r="3.3" class="n c6"/>
<circle cx="1064.1" cy="1744.2" r="3.3" class="n c9"/>
<circle cx="1081.0" cy="1767.2" r="3.3" class="n c7"/>
<circle cx="1088.3" cy="1745.2" r="3.3" class="n c8"/>
<circle cx="1081.5" cy="1766.6" r="3.3" class="n c7"/>
<circle cx="1071.3" cy="1758.4" r="3.3" class="n c7"/>
<circle cx="1061.6" cy="1758.4" r="3.3" class="n c7"/>
<circle cx="1088.1" cy="1751.7" r="3.3" class="n c10"/>
<circle cx="1063.5" cy="1747.2" r="3.3" class="n c7"/>
<circle cx="1062.2" cy="1776.1" r="3.3" class="n c6"/>
<circle cx="1060.2" cy="1739.8" r="3.3" class="n c7"/>
<circle cx="1064.0" cy="1739.6" r="3.3" class="n c0"/>
<circle cx="1105.9" cy="1735.3" r="3.3" class="n c7"/>
<circle cx="1077.6" cy="1754.4" r="3.3" class="n c3"/>
<circle cx="1067.5" cy="1762.2" r="3.3" class="n c7"/>
<circle cx="1085.1" cy="1761.7" r="3.3" class="n c10"/>
<circle cx="1074.9" cy="1741.9" r="3.3" class="n c6"/>
<circle cx="1093.2" cy="1747.6" r="3.3" class="n c7"/>
<circle cx="1098.5" cy="1739.9" r="3.3" class="n c8"/>
<circle cx="1077.6" cy="1741.2" r="3.3" class="n c1"/>
<circle cx="1067.9" cy="1752.5" r="3.3" class="n c6"/>
<circle cx="1067.1" cy="1756.8" r="3.3" class="n c6"/>
<circle cx="1081.3" cy="1760.9" r="3.3" class="n c0"/>
<circle cx="1073.0" cy="1761.9" r="3.3" class="n c6"/>
<circle cx="1063.8" cy="1734.7" r="3.3" class="n c6"/>
<circle cx="1087.8" cy="1753.2" r="3.3" class="n c10"/>
<circle cx="1077.5" cy="1735.5" r="3.3" class="n c6"/>
<circle cx="1062.0" cy="1767.4" r="3.3" class="n c6"/>
<circle cx="1066.8" cy="1739.6" r="3.3" class="n c6"/>
<circle cx="1074.1" cy="1737.2" r="3.3" class="n c7"/>
<circle cx="1090.1" cy="1748.5" r="3.3" class="n c4"/>
<circle cx="1078.5" cy="1765.1" r="3.3" class="n c7"/>
<circle cx="1064.8" cy="1752.6" r="3.3" class="n c8"/>
<circle cx="1075.3" cy="1768.5" r="3.3" class="n c7"/>
<circle cx="1079.9" cy="1758.6" r="3.3" class="n c3"/>
<circle cx="1098.1" cy="1744.0" r="3.3" class="n c8"/>
<circle cx="1072.4" cy="1774.2" r="3.3" class="n c5"/>
<circle cx="1078.3" cy="1761.7" r="3.3" class="n c0"/>
<circle cx="1094.8" cy="1747.8" r="3.3" class="n c7"/>
<circle cx="1065.5" cy="1741.6" r="3.3" class="n c7"/>
<circle cx="1103.0" cy="1741.2" r="3.3" class="n c10"/>
<circle cx="1060.3" cy="1775.7" r="3.3" class="n c7"/>
<circle cx="1099.7" cy="1747.4" r="3.3" class="n c5"/>
<circle cx="1063.7" cy="1747.7" r="3.3" class="n c6"/>
<circle cx="1069.8" cy="1773.6" r="3.3" class="n c7"/>
<circle cx="1062.3" cy="1768.1" r="3.3" class="n c7"/>
<circle cx="1078.5" cy="1745.3" r="3.3" class="n c4"/>
<circle cx="1096.5" cy="1737.8" r="3.3" class="n c4"/>
<circle cx="1060.8" cy="1751.3" r="3.3" class="n c6"/>
<circle cx="1090.0" cy="1756.4" r="3.3" class="n c7"/>
<circle cx="1066.2" cy="1751.1" r="3.3" class="n c7"/>
<circle cx="1066.9" cy="1769.5" r="3.3" class="n c1"/>
<circle cx="1068.8" cy="1740.1" r="3.3" class="n c6"/>
<circle cx="1084.0" cy="1753.1" r="3.3" class="n c1"/>
<circle cx="1090.2" cy="1752.6" r="3.3" class="n c6"/>
<circle cx="1098.3" cy="1738.3" r="3.3" class="n c1"/>
<circle cx="1079.0" cy="1743.9" r="3.3" class="n c7"/>
<circle cx="1085.4" cy="1756.0" r="3.3" class="n c7"/>
<circle cx="1073.0" cy="1742.5" r="3.3" class="n c7"/>
<circle cx="1070.8" cy="1762.1" r="3.3" class="n c7"/>
<circle cx="1069.8" cy="1750.1" r="3.3" class="n c5"/>
<circle cx="1075.5" cy="1752.7" r="3.3" class="n c6"/>
<circle cx="1067.9" cy="1772.1" r="3.3" class="n c6"/>
<circle cx="1067.9" cy="1756.0" r="3.3" class="n c8"/>
<circle cx="1086.8" cy="1758.8" r="3.3" class="n c7"/>
<circle cx="1074.8" cy="1740.0" r="3.3" class="n c7"/>
<circle cx="1062.7" cy="1781.7" r="3.3" class="n c7"/>
<circle cx="1064.5" cy="1768.5" r="3.3" class="n c4"/>
<circle cx="1087.0" cy="1758.8" r="3.3" class="n c0"/>
<circle cx="1065.9" cy="1762.0" r="3.3" class="n c8"/>
<circle cx="1064.0" cy="1760.9" r="3.3" class="n c6"/>
<circle cx="1073.8" cy="1769.8" r="3.3" class="n c6"/>
<circle cx="1067.7" cy="1762.9" r="3.3" class="n c9"/>
<circle cx="1075.4" cy="1760.3" r="3.3" class="n c3"/>
<circle cx="1060.1" cy="1746.5" r="3.3" class="n c5"/>
<circle cx="1070.3" cy="1752.3" r="3.3" class="n c7"/>
<circle cx="1070.3" cy="1763.4" r="3.3" class="n c6"/>
<circle cx="1068.4" cy="1754.6" r="3.3" class="n c8"/>
<circle cx="1082.4" cy="1734.8" r="3.3" class="n c7"/>
<circle cx="1069.3" cy="1764.4" r="3.3" class="n c7"/>
<circle cx="1067.8" cy="1764.1" r="3.3" class="n c7"/>
<circle cx="1081.0" cy="1752.4" r="3.3" class="n c1"/>
<circle cx="1079.0" cy="1744.0" r="3.3" class="n c6"/>
<circle cx="1065.3" cy="1745.6" r="3.3" class="n c7"/>
<circle cx="1066.8" cy="1748.3" r="3.3" class="n c6"/>
<circle cx="1087.8" cy="1746.4" r="3.3" class="n c7"/>
<circle cx="1072.0" cy="1773.6" r="3.3" class="n c5"/>
<circle cx="1063.9" cy="1779.5" r="3.3" class="n c7"/>
<circle cx="1101.1" cy="1741.7" r="3.3" class="n c9"/>
<circle cx="1070.3" cy="1736.8" r="3.3" class="n c6"/>
<circle cx="1072.0" cy="1765.8" r="3.3" class="n c5"/>
<circle cx="1062.9" cy="1761.8" r="3.3" class="n c3"/>
<circle cx="1078.9" cy="1768.7" r="3.3" class="n c6"/>
<circle cx="1110.3" cy="1735.9" r="3.3" class="n c1"/>
<circle cx="1062.3" cy="1757.4" r="3.3" class="n c6"/>
<circle cx="1073.1" cy="1739.3" r="3.3" class="n c1"/>
<circle cx="1060.3" cy="1761.1" r="3.3" class="n c6"/>
<circle cx="1083.4" cy="1743.8" r="3.3" class="n c7"/>
<circle cx="1098.0" cy="1734.6" r="3.3" class="n c6"/>
<circle cx="1074.7" cy="1759.3" r="3.3" class="n c5"/>
<circle cx="1068.7" cy="1751.7" r="3.3" class="n c7"/>
<circle cx="1068.5" cy="1734.9" r="3.3" class="n c8"/>
<circle cx="1068.1" cy="1754.2" r="3.3" class="n c7"/>
<circle cx="1088.3" cy="1741.5" r="3.3" class="n c3"/>
<circle cx="1084.1" cy="1765.3" r="3.3" class="n c8"/>
<circle cx="1078.0" cy="1769.8" r="3.3" class="n c6"/>
<circle cx="1079.9" cy="1761.2" r="3.3" class="n c5"/>
<circle cx="1072.3" cy="1757.0" r="3.3" class="n c6"/>
<circle cx="1075.6" cy="1755.5" r="3.3" class="n c6"/>
<circle cx="1085.3" cy="1747.8" r="3.3" class="n c8"/>
<circle cx="1117.6" cy="1734.2" r="3.3" class="n c3"/>
<circle cx="1068.9" cy="1759.4" r="3.3" class="n c6"/>
<circle cx="1066.7" cy="1760.9" r="3.3" class="n c3"/>
<circle cx="1069.9" cy="1769.0" r="3.3" class="n c6"/>
<circle cx="1060.8" cy="1771.8" r="3.3" class="n c6"/>
<circle cx="1064.9" cy="1762.0" r="3.3" class="n c1"/>
<circle cx="1089.1" cy="1753.2" r="3.3" class="n c4"/>
<circle cx="1071.7" cy="1751.7" r="3.3" class="n c6"/>
<circle cx="1085.5" cy="1755.8" r="3.3" class="n c6"/>
<circle cx="1064.6" cy="1778.2" r="3.3" class="n c7"/>
<circle cx="1078.0" cy="1737.7" r="3.3" class="n c3"/>
<circle cx="1102.5" cy="1734.2" r="3.3" class="n c3"/>
<circle cx="1068.2" cy="1745.3" r="3.3" class="n c6"/>
<circle cx="1076.5" cy="1759.7" r="3.3" class="n c0"/>
<circle cx="1078.3" cy="1766.9" r="3.3" class="n c3"/>
<circle cx="1085.5" cy="1736.7" r="3.3" class="n c7"/>
<circle cx="1077.4" cy="1760.1" r="3.3" class="n c6"/>
<circle cx="1071.2" cy="1751.2" r="3.3" class="n c6"/>
<circle cx="1075.8" cy="1760.7" r="3.3" class="n c6"/>
<circle cx="1077.8" cy="1733.1" r="3.3" class="n c7"/>
<circle cx="1073.6" cy="1764.6" r="3.3" class="n c6"/>
<circle cx="1062.5" cy="1766.2" r="3.3" class="n c0"/>
<circle cx="1089.7" cy="1741.2" r="3.3" class="n c8"/>
<circle cx="1072.8" cy="1740.7" r="3.3" class="n c7"/>
<circle cx="1072.4" cy="1775.2" r="3.3" class="n c6"/>
<circle cx="1080.6" cy="1760.7" r="3.3" class="n c4"/>
<circle cx="1082.7" cy="1749.2" r="3.3" class="n c8"/>
<circle cx="1103.3" cy="1748.4" r="3.3" class="n c4"/>
<circle cx="1089.4" cy="1754.3" r="3.3" class="n c6"/>
<circle cx="1065.7" cy="1733.1" r="3.3" class="n c8"/>
<circle cx="1067.3" cy="1759.3" r="3.3" class="n c6"/>
<circle cx="1085.7" cy="1756.1" r="3.3" class="n c9"/>
<circle cx="1072.7" cy="1761.4" r="3.3" class="n c8"/>
<circle cx="1081.6" cy="1753.9" r="3.3" class="n c9"/>
<circle cx="1099.2" cy="1741.6" r="3.3" class="n c3"/>
<circle cx="1074.4" cy="1773.6" r="3.3" class="n c10"/>
<circle cx="1103.7" cy="1748.2" r="3.3" class="n c1"/>
<circle cx="1082.1" cy="1761.5" r="3.3" class="n c8"/>
<circle cx="1071.7" cy="1739.8" r="3.3" class="n c6"/>
<circle cx="1070.2" cy="1746.0" r="3.3" class="n c7"/>
<circle cx="1060.1" cy="1763.1" r="3.3" class="n c5"/>
<circle cx="1070.5" cy="1777.7" r="3.3" class="n c10"/>
<circle cx="1069.7" cy="1740.0" r="3.3" class="n c6"/>
<circle cx="1075.5" cy="1749.8" r="3.3" class="n c7"/>
<circle cx="1067.1" cy="1736.3" r="3.3" class="n c7"/>
<circle cx="1072.8" cy="1757.1" r="3.3" class="n c7"/>
<circle cx="1070.3" cy="1758.6" r="3.3" class="n c0"/>
<circle cx="1072.3" cy="1746.0" r="3.3" class="n c7"/>
<circle cx="1080.1" cy="1762.9" r="3.3" class="n c6"/>
<circle cx="1064.4" cy="1755.1" r="3.3" class="n c6"/>
<circle cx="1069.4" cy="1744.7" r="3.3" class="n c7"/>
<circle cx="1065.8" cy="1748.9" r="3.3" class="n c7"/>
<circle cx="1067.7" cy="1762.5" r="3.3" class="n c7"/>
<circle cx="1113.7" cy="1738.4" r="3.3" class="n c6"/>
<circle cx="1061.2" cy="1738.5" r="3.3" class="n c9"/>
<circle cx="1072.0" cy="1750.7" r="3.3" class="n c7"/>
<circle cx="1078.9" cy="1761.4" r="3.3" class="n c4"/>
<circle cx="1078.9" cy="1751.7" r="3.3" class="n c8"/>
<circle cx="1102.0" cy="1743.0" r="3.3" class="n c5"/>
<circle cx="1063.0" cy="1772.8" r="3.3" class="n c7"/>
<circle cx="1072.5" cy="1773.4" r="3.3" class="n c7"/>
<circle cx="1070.9" cy="1734.5" r="3.3" class="n c8"/>
<circle cx="1083.4" cy="1766.7" r="3.3" class="n c6"/>
<circle cx="1084.8" cy="1759.5" r="3.3" class="n c9"/>
<circle cx="1073.5" cy="1735.6" r="3.3" class="n c7"/>
<circle cx="1110.6" cy="1739.6" r="3.3" class="n c10"/>
<circle cx="1090.5" cy="1755.3" r="3.3" class="n c0"/>
<circle cx="1063.2" cy="1784.1" r="3.3" class="n c7"/>
<circle cx="1100.4" cy="1737.9" r="3.3" class="n c3"/>
<circle cx="1066.3" cy="1767.1" r="3.3" class="n c1"/>
<circle cx="1059.9" cy="1735.7" r="3.3" class="n c7"/>
<circle cx="1103.7" cy="1737.1" r="3.3" class="n c7"/>
<circle cx="1067.1" cy="1733.5" r="3.3" class="n c0"/>
<circle cx="1081.5" cy="1752.5" r="3.3" class="n c10"/>
<circle cx="1084.3" cy="1764.8" r="3.3" class="n c3"/>
<circle cx="1078.4" cy="1753.4" r="3.3" class="n c10"/>
<circle cx="1091.8" cy="1752.4" r="3.3" class="n c0"/>
<circle cx="1077.1" cy="1761.0" r="3.3" class="n c6"/>
<circle cx="1079.7" cy="1767.5" r="3.3" class="n c6"/>
<circle cx="1095.0" cy="1756.6" r="3.3" class="n c8"/>
<circle cx="1084.4" cy="1737.7" r="3.3" class="n c1"/>
<circle cx="1066.3" cy="1743.3" r="3.3" class="n c6"/>
<circle cx="1101.9" cy="1746.0" r="3.3" class="n c8"/>
<circle cx="1097.3" cy="1736.7" r="3.3" class="n c9"/>
<circle cx="1084.6" cy="1734.5" r="3.3" class="n c8"/>
<circle cx="1067.3" cy="1765.3" r="3.3" class="n c6"/>
<circle cx="1069.1" cy="1760.0" r="3.3" class="n c1"/>
<circle cx="1072.7" cy="1753.3" r="3.3" class="n c5"/>
<circle cx="1065.7" cy="1734.8" r="3.3" class="n c6"/>
<circle cx="1063.0" cy="1766.9" r="3.3" class="n c6"/>
<circle cx="1080.3" cy="1756.9" r="3.3" class="n c5"/>
<circle cx="1115.8" cy="1735.9" r="3.3" class="n c4"/>
<circle cx="1118.0" cy="1735.6" r="3.3" class="n c6"/>
<circle cx="1062.2" cy="1763.6" r="3.3" class="n c4"/>
<circle cx="1080.9" cy="1735.3" r="3.3" class="n c7"/>
<circle cx="1076.4" cy="1743.5" r="3.3" class="n c8"/>
<circle cx="1102.1" cy="1734.2" r="3.3" class="n c8"/>
<circle cx="1069.2" cy="1764.7" r="3.3" class="n c6"/>
<circle cx="1135.1" cy="1745.5" r="3.3" class="n c9"/>
<circle cx="1132.5" cy="1747.2" r="3.3" class="n c8"/>
<circle cx="1145.5" cy="1737.2" r="3.3" class="n c1"/>
<circle cx="1142.9" cy="1740.5" r="3.3" class="n c1"/>
<circle cx="1161.0" cy="1735.5" r="3.3" class="n c1"/>
<circle cx="1171.4" cy="1737.2" r="3.3" class="n c9"/>
<circle cx="1162.3" cy="1737.2" r="3.3" class="n c9"/>
<circle cx="1109.2" cy="1756.4" r="3.3" class="n c8"/>
<circle cx="1132.5" cy="1734.7" r="3.3" class="n c3"/>
<circle cx="956.2" cy="1738.9" r="3.3" class="n c1"/>
<circle cx="961.4" cy="1742.2" r="3.3" class="n c1"/>
<circle cx="984.7" cy="1740.5" r="3.3" class="n c1"/>
<circle cx="1127.3" cy="1753.9" r="3.3" class="n c5"/>
<circle cx="1140.3" cy="1738.9" r="3.3" class="n c3"/>
<circle cx="904.4" cy="1737.0" r="3.3" class="n c1"/>
<circle cx="904.4" cy="1740.0" r="3.3" class="n c7"/>
<circle cx="904.4" cy="1742.0" r="3.3" class="n c1"/>
<circle cx="1216.3" cy="1732.0" r="3.3" class="n c8"/>
<circle cx="1216.3" cy="1736.0" r="3.3" class="n c7"/>
<circle cx="1216.3" cy="1740.0" r="3.3" class="n c6"/>
<circle cx="1216.3" cy="1744.0" r="3.3" class="n c7"/>
<circle cx="1216.3" cy="1748.0" r="3.3" class="n c9"/>
<circle cx="1216.3" cy="1755.0" r="3.3" class="n c11"/>
<circle cx="1216.3" cy="1762.0" r="3.3" class="n c5"/>
<line x1="1059.9" y1="1438" x2="1059.9" y2="1792" stroke="#000" stroke-width="1.6" stroke-dasharray="1.6 3.6"/>
<line x1="899.3" y1="1678.8" x2="1222.5" y2="1678.8" stroke="#000" stroke-width="1.6" stroke-dasharray="1.6 3.6"/>
<text x="1229.0" y="1477.3" font-size="22.2">Lipid class</text>
<circle cx="1249.5" cy="1492.1" r="4.3" fill="#b3b3b3"/>
<text x="1262.6" y="1498.1" font-size="22.4">FA</text>
<circle cx="1249.5" cy="1510.5" r="4.3" fill="#80be80"/>
<text x="1262.6" y="1516.5" font-size="22.4">TG</text>
<circle cx="1249.5" cy="1528.9" r="4.3" fill="#12a14a"/>
<text x="1262.6" y="1534.9" font-size="22.4">DG</text>
<circle cx="1249.5" cy="1547.3" r="4.3" fill="#0b6130"/>
<text x="1262.6" y="1553.3" font-size="22.4">CE</text>
<circle cx="1249.5" cy="1565.7" r="4.3" fill="#7b5532"/>
<text x="1262.6" y="1571.7" font-size="22.4">LPE</text>
<circle cx="1249.5" cy="1584.1" r="4.3" fill="#a47947"/>
<text x="1262.6" y="1590.1" font-size="22.4">LPC</text>
<circle cx="1249.5" cy="1602.5" r="4.3" fill="#f2e319"/>
<text x="1262.6" y="1608.5" font-size="22.4">PS</text>
<circle cx="1249.5" cy="1620.9" r="4.3" fill="#f2922b"/>
<text x="1262.6" y="1626.9" font-size="22.4">PI</text>
<circle cx="1249.5" cy="1639.3" r="4.3" fill="#ec7339"/>
<text x="1262.6" y="1645.3" font-size="22.4">PG</text>
<circle cx="1249.5" cy="1657.7" r="4.3" fill="#ea3429"/>
<text x="1262.6" y="1663.7" font-size="22.4">PE</text>
<circle cx="1249.5" cy="1676.1" r="4.3" fill="#d42027"/>
<text x="1262.6" y="1682.1" font-size="22.4">PC</text>
<circle cx="1249.5" cy="1694.5" r="4.3" fill="#a81d1f"/>
<text x="1262.6" y="1700.5" font-size="22.4">PA</text>
<circle cx="1249.5" cy="1712.9" r="4.3" fill="#7fb5e3"/>
<text x="1262.6" y="1718.9" font-size="22.4">SM</text>
<circle cx="1249.5" cy="1731.3" r="4.3" fill="#3f87c9"/>
<text x="1262.6" y="1737.3" font-size="22.4">LacCER</text>
<circle cx="1249.5" cy="1749.7" r="4.3" fill="#2d63b4"/>
<text x="1262.6" y="1755.7" font-size="22.4">HexCER</text>
<circle cx="1249.5" cy="1768.1" r="4.3" fill="#2b3f7f"/>
<text x="1262.6" y="1774.1" font-size="22.4">Cer</text>
<text x="0" y="0" font-size="35.5" font-weight="bold" fill="#222" transform="translate(-2.0 1944.9) scale(0.97 1.08)">E</text>
<text x="447.8" y="1967.5" font-size="28.2" text-anchor="middle" font-weight="bold">iAstrocytes (BIONi037)</text>
<text x="282.0" y="2021.9" font-size="28.15" text-anchor="middle">Down in Chol treated</text>
<text x="595.9" y="2021.9" font-size="28.15" text-anchor="middle">Up in Chol treated</text>
<line x1="397.7" y1="2046.3" x2="323.1" y2="2046.3" stroke="#000" stroke-width="2.2"/>
<path d="M312.6,2046.3L330.1,2040.1L324.9,2046.3L330.1,2052.5Z" fill="#000"/>
<line x1="491.2" y1="2046.3" x2="565.8" y2="2046.3" stroke="#000" stroke-width="2.2"/>
<path d="M576.3,2046.3L558.8,2040.1L564.0,2046.3L558.8,2052.5Z" fill="#000"/>
<line x1="186.4" y1="2067.2" x2="186.4" y2="2621.4" stroke="#111" stroke-width="2.0"/>
<line x1="185.4" y1="2620.4" x2="692.3" y2="2620.4" stroke="#111" stroke-width="2.0"/>
<line x1="439.4" y1="2067.2" x2="439.4" y2="2620.4" stroke="#111" stroke-width="1.9"/>
<line x1="209.2" y1="2620.4" x2="209.2" y2="2624.0" stroke="#333" stroke-width="1.5"/>
<text x="209.2" y="2646.0" font-size="20" text-anchor="middle">-3</text>
<line x1="285.9" y1="2620.4" x2="285.9" y2="2624.0" stroke="#333" stroke-width="1.5"/>
<text x="285.9" y="2646.0" font-size="20" text-anchor="middle">-2</text>
<line x1="362.7" y1="2620.4" x2="362.7" y2="2624.0" stroke="#333" stroke-width="1.5"/>
<text x="362.7" y="2646.0" font-size="20" text-anchor="middle">-1</text>
<line x1="439.4" y1="2620.4" x2="439.4" y2="2624.0" stroke="#333" stroke-width="1.5"/>
<text x="439.4" y="2646.0" font-size="20" text-anchor="middle">0</text>
<line x1="516.1" y1="2620.4" x2="516.1" y2="2624.0" stroke="#333" stroke-width="1.5"/>
<text x="516.1" y="2646.0" font-size="20" text-anchor="middle">1</text>
<line x1="592.9" y1="2620.4" x2="592.9" y2="2624.0" stroke="#333" stroke-width="1.5"/>
<text x="592.9" y="2646.0" font-size="20" text-anchor="middle">2</text>
<line x1="669.6" y1="2620.4" x2="669.6" y2="2624.0" stroke="#333" stroke-width="1.5"/>
<text x="669.6" y="2646.0" font-size="20" text-anchor="middle">3</text>
<text x="437.8" y="2677.0" font-size="21.1" text-anchor="middle">log2(fold change)</text>
<line x1="181.9" y1="2087.2" x2="186.4" y2="2087.2" stroke="#333" stroke-width="1.5"/>
<text x="179.5" y="2096.5" font-size="21.3" text-anchor="end">FA</text>
<line x1="181.9" y1="2121.4" x2="186.4" y2="2121.4" stroke="#333" stroke-width="1.5"/>
<text x="179.5" y="2130.7" font-size="21.3" text-anchor="end">TG</text>
<line x1="181.9" y1="2155.6" x2="186.4" y2="2155.6" stroke="#333" stroke-width="1.5"/>
<text x="179.5" y="2164.9" font-size="21.3" text-anchor="end">DG</text>
<line x1="181.9" y1="2189.8" x2="186.4" y2="2189.8" stroke="#333" stroke-width="1.5"/>
<text x="179.5" y="2199.1" font-size="21.3" text-anchor="end">CE</text>
<line x1="181.9" y1="2224.0" x2="186.4" y2="2224.0" stroke="#333" stroke-width="1.5"/>
<text x="179.5" y="2233.3" font-size="21.3" text-anchor="end">LPE</text>
<line x1="181.9" y1="2258.2" x2="186.4" y2="2258.2" stroke="#333" stroke-width="1.5"/>
<text x="179.5" y="2267.5" font-size="21.3" text-anchor="end">LPC</text>
<line x1="181.9" y1="2292.4" x2="186.4" y2="2292.4" stroke="#333" stroke-width="1.5"/>
<text x="179.5" y="2301.7" font-size="21.3" text-anchor="end">PS</text>
<line x1="181.9" y1="2326.6" x2="186.4" y2="2326.6" stroke="#333" stroke-width="1.5"/>
<text x="179.5" y="2335.9" font-size="21.3" text-anchor="end">PI</text>
<line x1="181.9" y1="2360.8" x2="186.4" y2="2360.8" stroke="#333" stroke-width="1.5"/>
<text x="179.5" y="2370.1" font-size="21.3" text-anchor="end">PG</text>
<line x1="181.9" y1="2395.0" x2="186.4" y2="2395.0" stroke="#333" stroke-width="1.5"/>
<text x="179.5" y="2404.3" font-size="21.3" text-anchor="end">PE</text>
<line x1="181.9" y1="2429.2" x2="186.4" y2="2429.2" stroke="#333" stroke-width="1.5"/>
<text x="179.5" y="2438.5" font-size="21.3" text-anchor="end">PC</text>
<line x1="181.9" y1="2463.4" x2="186.4" y2="2463.4" stroke="#333" stroke-width="1.5"/>
<text x="179.5" y="2472.7" font-size="21.3" text-anchor="end">PA</text>
<line x1="181.9" y1="2497.6" x2="186.4" y2="2497.6" stroke="#333" stroke-width="1.5"/>
<text x="179.5" y="2506.9" font-size="21.3" text-anchor="end">SM</text>
<line x1="181.9" y1="2531.8" x2="186.4" y2="2531.8" stroke="#333" stroke-width="1.5"/>
<text x="179.5" y="2541.1" font-size="21.3" text-anchor="end">LacCER</text>
<line x1="181.9" y1="2566.0" x2="186.4" y2="2566.0" stroke="#333" stroke-width="1.5"/>
<text x="179.5" y="2575.3" font-size="21.3" text-anchor="end">HexCER</text>
<line x1="181.9" y1="2600.2" x2="186.4" y2="2600.2" stroke="#333" stroke-width="1.5"/>
<text x="179.5" y="2609.5" font-size="21.3" text-anchor="end">Cer</text>
<line x1="92.5" y1="2073.7" x2="92.5" y2="2117.0" stroke="#333" stroke-width="1.6"/>
<line x1="92.5" y1="2121.5" x2="92.5" y2="2212.6" stroke="#333" stroke-width="1.6"/>
<line x1="92.5" y1="2219.5" x2="92.5" y2="2283.0" stroke="#333" stroke-width="1.6"/>
<line x1="92.5" y1="2287.8" x2="92.5" y2="2474.6" stroke="#333" stroke-width="1.6"/>
<line x1="92.5" y1="2480.6" x2="92.5" y2="2613.6" stroke="#333" stroke-width="1.6"/>
<text x="58.1" y="2099.2" font-size="20.8" text-anchor="middle" transform="rotate(-90 58.1 2099.2)">Free</text>
<text x="83.1" y="2095.7" font-size="20.8" text-anchor="middle" transform="rotate(-90 83.1 2095.7)">FA</text>
<text x="58.8" y="2168.7" font-size="20.8" text-anchor="middle" transform="rotate(-90 58.8 2168.7)">Neutral</text>
<text x="80.6" y="2167.4" font-size="20.8" text-anchor="middle" transform="rotate(-90 80.6 2167.4)">lipids</text>
<text x="30.6" y="2251.7" font-size="20.8" text-anchor="middle" transform="rotate(-90 30.6 2251.7)">lyso-</text>
<text x="55.3" y="2252.7" font-size="20.8" text-anchor="middle" transform="rotate(-90 55.3 2252.7)">phospho</text>
<text x="80.6" y="2253.2" font-size="20.8" text-anchor="middle" transform="rotate(-90 80.6 2253.2)">lipids</text>
<text x="78.1" y="2380.7" font-size="20.8" text-anchor="middle" transform="rotate(-90 78.1 2380.7)">Phospholipids</text>
<text x="78.1" y="2546.7" font-size="20.8" text-anchor="middle" transform="rotate(-90 78.1 2546.7)">Sphingolipids</text>
<circle cx="410.5" cy="2084.1" r="3.4" fill="#b7a8cc"/>
<circle cx="426.6" cy="2087.7" r="3.4" fill="#b7a8cc"/>
<circle cx="466.0" cy="2085.6" r="3.4" fill="#b7a8cc"/>
<circle cx="504.4" cy="2088.4" r="3.4" fill="#b7a8cc"/>
<circle cx="538.6" cy="2088.7" r="3.4" fill="#b7a8cc"/>
<line x1="427.2" y1="2087.2" x2="460.2" y2="2087.2" stroke="#333" stroke-width="1.7"/>
<line x1="487.4" y1="2087.2" x2="504.4" y2="2087.2" stroke="#333" stroke-width="1.7"/>
<rect x="460.2" y="2078.6" width="27.2" height="17.2" fill="#c8cacb" stroke="#333" stroke-width="1.7"/>
<line x1="484.2" y1="2078.6" x2="484.2" y2="2095.8" stroke="#333" stroke-width="2.2"/>
<circle cx="458.6" cy="2087.2" r="4.0" fill="#fff" fill-opacity="0.0" stroke="#5b2d82" stroke-width="2.4"/>
<circle cx="484.2" cy="2087.2" r="4.0" fill="#fff" fill-opacity="0.0" stroke="#5b2d82" stroke-width="2.4"/>
<circle cx="486.5" cy="2087.2" r="4.0" fill="#fff" fill-opacity="0.0" stroke="#5b2d82" stroke-width="2.4"/>
<circle cx="484.2" cy="2087.2" r="3.9" fill="#5b2d82" fill-opacity="0.75"/>
<circle cx="376.0" cy="2116.2" r="3.4" fill="#b7a8cc"/>
<circle cx="346.0" cy="2115.6" r="3.4" fill="#b7a8cc"/>
<circle cx="318.5" cy="2125.4" r="3.4" fill="#b7a8cc"/>
<line x1="298.5" y1="2121.4" x2="317.7" y2="2121.4" stroke="#333" stroke-width="1.7"/>
<line x1="347.1" y1="2121.4" x2="376.0" y2="2121.4" stroke="#333" stroke-width="1.7"/>
<rect x="317.7" y="2112.8" width="29.4" height="17.2" fill="#c8cacb" stroke="#333" stroke-width="1.7"/>
<line x1="319.3" y1="2112.8" x2="319.3" y2="2130.0" stroke="#333" stroke-width="2.2"/>
<circle cx="298.5" cy="2121.4" r="4.0" fill="#fff" fill-opacity="0.0" stroke="#5b2d82" stroke-width="2.4"/>
<circle cx="318.6" cy="2121.4" r="4.0" fill="#fff" fill-opacity="0.0" stroke="#5b2d82" stroke-width="2.4"/>
<circle cx="356.8" cy="2121.4" r="4.0" fill="#fff" fill-opacity="0.0" stroke="#5b2d82" stroke-width="2.4"/>
<circle cx="318.6" cy="2121.4" r="3.9" fill="#5b2d82" fill-opacity="0.75"/>
<circle cx="434.0" cy="2152.7" r="3.4" fill="#b7a8cc"/>
<circle cx="478.0" cy="2152.4" r="3.4" fill="#b7a8cc"/>
<line x1="435.2" y1="2155.6" x2="452.2" y2="2155.6" stroke="#333" stroke-width="1.7"/>
<line x1="474.6" y1="2155.6" x2="479.4" y2="2155.6" stroke="#333" stroke-width="1.7"/>
<rect x="452.2" y="2147.0" width="22.4" height="17.2" fill="#c8cacb" stroke="#333" stroke-width="1.7"/>
<line x1="454.4" y1="2147.0" x2="454.4" y2="2164.2" stroke="#333" stroke-width="2.2"/>
<circle cx="446.7" cy="2155.6" r="4.0" fill="#fff" fill-opacity="0.0" stroke="#5b2d82" stroke-width="2.4"/>
<circle cx="462.7" cy="2155.6" r="4.0" fill="#fff" fill-opacity="0.0" stroke="#5b2d82" stroke-width="2.4"/>
<circle cx="479.4" cy="2155.6" r="4.0" fill="#fff" fill-opacity="0.0" stroke="#5b2d82" stroke-width="2.4"/>
<circle cx="605.9" cy="2195.7" r="3.4" fill="#b7a8cc"/>
<circle cx="631.5" cy="2189.4" r="3.4" fill="#b7a8cc"/>
<circle cx="655.5" cy="2193.8" r="3.4" fill="#b7a8cc"/>
<circle cx="618.0" cy="2189.5" r="3.4" fill="#b7a8cc"/>
<line x1="607.5" y1="2189.8" x2="612.9" y2="2189.8" stroke="#333" stroke-width="1.7"/>
<line x1="630.5" y1="2189.8" x2="655.5" y2="2189.8" stroke="#333" stroke-width="1.7"/>
<rect x="612.9" y="2181.2" width="17.6" height="17.2" fill="#c8cacb" stroke="#333" stroke-width="1.7"/>
<line x1="626.0" y1="2181.2" x2="626.0" y2="2198.4" stroke="#333" stroke-width="2.2"/>
<circle cx="611.3" cy="2189.8" r="4.0" fill="#fff" fill-opacity="0.0" stroke="#5b2d82" stroke-width="2.4"/>
<circle cx="626.0" cy="2189.8" r="4.0" fill="#fff" fill-opacity="0.0" stroke="#5b2d82" stroke-width="2.4"/>
<circle cx="655.5" cy="2189.8" r="4.0" fill="#fff" fill-opacity="0.0" stroke="#5b2d82" stroke-width="2.4"/>
<circle cx="485.8" cy="2225.7" r="3.4" fill="#b7a8cc"/>
<circle cx="497.6" cy="2219.8" r="3.4" fill="#b7a8cc"/>
<circle cx="468.0" cy="2225.6" r="3.4" fill="#b7a8cc"/>
<circle cx="480.0" cy="2228.4" r="3.4" fill="#b7a8cc"/>
<line x1="457.0" y1="2224.0" x2="462.7" y2="2224.0" stroke="#333" stroke-width="1.7"/>
<line x1="483.2" y1="2224.0" x2="497.6" y2="2224.0" stroke="#333" stroke-width="1.7"/>
<rect x="462.7" y="2215.4" width="20.5" height="17.2" fill="#c8cacb" stroke="#333" stroke-width="1.7"/>
<line x1="474.6" y1="2215.4" x2="474.6" y2="2232.6" stroke="#333" stroke-width="2.2"/>
<circle cx="461.8" cy="2224.0" r="4.0" fill="#fff" fill-opacity="0.0" stroke="#5b2d82" stroke-width="2.4"/>
<circle cx="477.8" cy="2224.0" r="4.0" fill="#fff" fill-opacity="0.0" stroke="#5b2d82" stroke-width="2.4"/>
<circle cx="477.8" cy="2224.0" r="3.9" fill="#5b2d82" fill-opacity="0.75"/>
<circle cx="525.8" cy="2258.5" r="3.4" fill="#b7a8cc"/>
<circle cx="551.4" cy="2261.1" r="3.4" fill="#b7a8cc"/>
<circle cx="633.1" cy="2260.3" r="3.4" fill="#b7a8cc"/>
<circle cx="661.3" cy="2253.0" r="3.4" fill="#b7a8cc"/>
<circle cx="655.0" cy="2261.3" r="3.4" fill="#b7a8cc"/>
<line x1="485.8" y1="2258.2" x2="529.7" y2="2258.2" stroke="#333" stroke-width="1.7"/>
<line x1="645.9" y1="2258.2" x2="660.3" y2="2258.2" stroke="#333" stroke-width="1.7"/>
<rect x="529.7" y="2249.6" width="116.2" height="17.2" fill="#c8cacb" stroke="#333" stroke-width="1.7"/>
<line x1="546.6" y1="2249.6" x2="546.6" y2="2266.8" stroke="#333" stroke-width="2.2"/>
<circle cx="485.8" cy="2258.2" r="4.0" fill="#fff" fill-opacity="0.0" stroke="#5b2d82" stroke-width="2.4"/>
<circle cx="539.6" cy="2258.2" r="4.0" fill="#fff" fill-opacity="0.0" stroke="#5b2d82" stroke-width="2.4"/>
<circle cx="650.0" cy="2258.2" r="4.0" fill="#fff" fill-opacity="0.0" stroke="#5b2d82" stroke-width="2.4"/>
<circle cx="401.9" cy="2293.5" r="3.4" fill="#b7a8cc"/>
<circle cx="453.1" cy="2290.0" r="3.4" fill="#b7a8cc"/>
<circle cx="460.8" cy="2286.8" r="3.4" fill="#b7a8cc"/>
<circle cx="426.0" cy="2296.8" r="3.4" fill="#b7a8cc"/>
<line x1="401.9" y1="2292.4" x2="417.9" y2="2292.4" stroke="#333" stroke-width="1.7"/>
<line x1="443.5" y1="2292.4" x2="460.2" y2="2292.4" stroke="#333" stroke-width="1.7"/>
<rect x="417.9" y="2283.8" width="25.6" height="17.2" fill="#c8cacb" stroke="#333" stroke-width="1.7"/>
<line x1="429.8" y1="2283.8" x2="429.8" y2="2301.0" stroke="#333" stroke-width="2.2"/>
<circle cx="412.8" cy="2292.4" r="4.0" fill="#fff" fill-opacity="0.0" stroke="#5b2d82" stroke-width="2.4"/>
<circle cx="435.2" cy="2292.4" r="4.0" fill="#fff" fill-opacity="0.0" stroke="#5b2d82" stroke-width="2.4"/>
<circle cx="446.7" cy="2292.4" r="4.0" fill="#fff" fill-opacity="0.0" stroke="#5b2d82" stroke-width="2.4"/>
<circle cx="420.8" cy="2326.3" r="3.4" fill="#b7a8cc"/>
<circle cx="459.5" cy="2329.2" r="3.4" fill="#b7a8cc"/>
<circle cx="485.8" cy="2331.1" r="3.4" fill="#b7a8cc"/>
<circle cx="446.0" cy="2329.2" r="3.4" fill="#b7a8cc"/>
<line x1="421.8" y1="2326.6" x2="439.4" y2="2326.6" stroke="#333" stroke-width="1.7"/>
<line x1="469.8" y1="2326.6" x2="485.2" y2="2326.6" stroke="#333" stroke-width="1.7"/>
<rect x="439.4" y="2318.0" width="30.4" height="17.2" fill="#c8cacb" stroke="#333" stroke-width="1.7"/>
<line x1="444.2" y1="2318.0" x2="444.2" y2="2335.2" stroke="#333" stroke-width="2.2"/>
<circle cx="435.2" cy="2326.6" r="4.0" fill="#fff" fill-opacity="0.0" stroke="#5b2d82" stroke-width="2.4"/>
<circle cx="441.6" cy="2326.6" r="4.0" fill="#fff" fill-opacity="0.0" stroke="#5b2d82" stroke-width="2.4"/>
<circle cx="474.0" cy="2326.6" r="4.0" fill="#fff" fill-opacity="0.0" stroke="#5b2d82" stroke-width="2.4"/>
<circle cx="380.8" cy="2365.9" r="3.4" fill="#b7a8cc"/>
<circle cx="435.5" cy="2359.5" r="3.4" fill="#b7a8cc"/>
<circle cx="393.0" cy="2364.4" r="3.4" fill="#b7a8cc"/>
<line x1="381.1" y1="2360.8" x2="398.4" y2="2360.8" stroke="#333" stroke-width="1.7"/>
<line x1="418.6" y1="2360.8" x2="436.2" y2="2360.8" stroke="#333" stroke-width="1.7"/>
<rect x="398.4" y="2352.2" width="20.2" height="17.2" fill="#c8cacb" stroke="#333" stroke-width="1.7"/>
<line x1="409.0" y1="2352.2" x2="409.0" y2="2369.4" stroke="#333" stroke-width="2.2"/>
<circle cx="398.7" cy="2360.8" r="4.0" fill="#fff" fill-opacity="0.0" stroke="#5b2d82" stroke-width="2.4"/>
<circle cx="403.2" cy="2360.8" r="4.0" fill="#fff" fill-opacity="0.0" stroke="#5b2d82" stroke-width="2.4"/>
<circle cx="417.6" cy="2360.8" r="4.0" fill="#fff" fill-opacity="0.0" stroke="#5b2d82" stroke-width="2.4"/>
<circle cx="368.0" cy="2394.3" r="3.4" fill="#b7a8cc"/>
<circle cx="413.7" cy="2400.2" r="3.4" fill="#b7a8cc"/>
<circle cx="392.0" cy="2399.5" r="3.4" fill="#b7a8cc"/>
<line x1="385.0" y1="2395.0" x2="392.3" y2="2395.0" stroke="#333" stroke-width="1.7"/>
<line x1="405.7" y1="2395.0" x2="415.4" y2="2395.0" stroke="#333" stroke-width="1.7"/>
<rect x="392.3" y="2386.4" width="13.4" height="17.2" fill="#c8cacb" stroke="#333" stroke-width="1.7"/>
<line x1="397.7" y1="2386.4" x2="397.7" y2="2403.6" stroke="#333" stroke-width="2.2"/>
<circle cx="385.0" cy="2395.0" r="4.0" fill="#fff" fill-opacity="0.0" stroke="#5b2d82" stroke-width="2.4"/>
<circle cx="397.7" cy="2395.0" r="4.0" fill="#fff" fill-opacity="0.0" stroke="#5b2d82" stroke-width="2.4"/>
<circle cx="408.0" cy="2395.0" r="4.0" fill="#fff" fill-opacity="0.0" stroke="#5b2d82" stroke-width="2.4"/>
<circle cx="397.7" cy="2395.0" r="3.9" fill="#5b2d82" fill-opacity="0.75"/>
<circle cx="427.2" cy="2424.4" r="3.4" fill="#b7a8cc"/>
<circle cx="444.0" cy="2424.8" r="3.4" fill="#b7a8cc"/>
<line x1="435.5" y1="2429.2" x2="437.8" y2="2429.2" stroke="#333" stroke-width="1.7"/>
<line x1="442.6" y1="2429.2" x2="445.8" y2="2429.2" stroke="#333" stroke-width="1.7"/>
<rect x="437.8" y="2420.6" width="4.8" height="17.2" fill="#c8cacb" stroke="#333" stroke-width="1.7"/>
<line x1="440.0" y1="2420.6" x2="440.0" y2="2437.8" stroke="#333" stroke-width="2.2"/>
<circle cx="435.5" cy="2429.2" r="4.0" fill="#fff" fill-opacity="0.0" stroke="#5b2d82" stroke-width="2.4"/>
<circle cx="445.8" cy="2429.2" r="4.0" fill="#fff" fill-opacity="0.0" stroke="#5b2d82" stroke-width="2.4"/>
<circle cx="440.5" cy="2429.2" r="4.0" fill="#fff" fill-opacity="0.0" stroke="#5b2d82" stroke-width="2.4"/>
<circle cx="440.5" cy="2429.2" r="3.9" fill="#5b2d82" fill-opacity="0.75"/>
<circle cx="594.7" cy="2460.0" r="3.4" fill="#b7a8cc"/>
<circle cx="616.1" cy="2469.0" r="3.4" fill="#b7a8cc"/>
<circle cx="668.0" cy="2462.6" r="3.4" fill="#b7a8cc"/>
<circle cx="656.0" cy="2464.9" r="3.4" fill="#b7a8cc"/>
<line x1="616.1" y1="2463.4" x2="637.9" y2="2463.4" stroke="#333" stroke-width="1.7"/>
<line x1="653.9" y1="2463.4" x2="669.3" y2="2463.4" stroke="#333" stroke-width="1.7"/>
<rect x="637.9" y="2454.8" width="16.0" height="17.2" fill="#c8cacb" stroke="#333" stroke-width="1.7"/>
<line x1="649.1" y1="2454.8" x2="649.1" y2="2472.0" stroke="#333" stroke-width="2.2"/>
<circle cx="639.5" cy="2463.4" r="4.0" fill="#fff" fill-opacity="0.0" stroke="#5b2d82" stroke-width="2.4"/>
<circle cx="668.3" cy="2463.4" r="4.0" fill="#fff" fill-opacity="0.0" stroke="#5b2d82" stroke-width="2.4"/>
<circle cx="639.5" cy="2463.4" r="3.9" fill="#5b2d82" fill-opacity="0.75"/>
<circle cx="355.5" cy="2495.2" r="3.4" fill="#b7a8cc"/>
<circle cx="366.0" cy="2497.7" r="3.4" fill="#b7a8cc"/>
<circle cx="394.5" cy="2496.2" r="3.4" fill="#b7a8cc"/>
<line x1="356.8" y1="2497.6" x2="368.9" y2="2497.6" stroke="#333" stroke-width="1.7"/>
<line x1="394.5" y1="2497.6" x2="398.7" y2="2497.6" stroke="#333" stroke-width="1.7"/>
<rect x="368.9" y="2489.0" width="25.6" height="17.2" fill="#c8cacb" stroke="#333" stroke-width="1.7"/>
<line x1="388.1" y1="2489.0" x2="388.1" y2="2506.2" stroke="#333" stroke-width="2.2"/>
<circle cx="365.1" cy="2497.6" r="4.0" fill="#fff" fill-opacity="0.0" stroke="#5b2d82" stroke-width="2.4"/>
<circle cx="377.9" cy="2497.6" r="4.0" fill="#fff" fill-opacity="0.0" stroke="#5b2d82" stroke-width="2.4"/>
<circle cx="392.9" cy="2497.6" r="4.0" fill="#fff" fill-opacity="0.0" stroke="#5b2d82" stroke-width="2.4"/>
<circle cx="392.9" cy="2497.6" r="3.9" fill="#5b2d82" fill-opacity="0.75"/>
<circle cx="397.7" cy="2530.0" r="3.4" fill="#b7a8cc"/>
<circle cx="419.5" cy="2532.8" r="3.4" fill="#b7a8cc"/>
<circle cx="458.0" cy="2532.8" r="3.4" fill="#b7a8cc"/>
<circle cx="405.0" cy="2536.7" r="3.4" fill="#b7a8cc"/>
<line x1="398.7" y1="2531.8" x2="411.2" y2="2531.8" stroke="#333" stroke-width="1.7"/>
<line x1="455.4" y1="2531.8" x2="458.6" y2="2531.8" stroke="#333" stroke-width="1.7"/>
<rect x="411.2" y="2523.2" width="44.2" height="17.2" fill="#c8cacb" stroke="#333" stroke-width="1.7"/>
<line x1="426.6" y1="2523.2" x2="426.6" y2="2540.4" stroke="#333" stroke-width="2.2"/>
<circle cx="408.0" cy="2531.8" r="4.0" fill="#fff" fill-opacity="0.0" stroke="#5b2d82" stroke-width="2.4"/>
<circle cx="426.6" cy="2531.8" r="4.0" fill="#fff" fill-opacity="0.0" stroke="#5b2d82" stroke-width="2.4"/>
<circle cx="455.4" cy="2531.8" r="4.0" fill="#fff" fill-opacity="0.0" stroke="#5b2d82" stroke-width="2.4"/>
<circle cx="426.6" cy="2531.8" r="3.9" fill="#5b2d82" fill-opacity="0.75"/>
<circle cx="394.5" cy="2568.2" r="3.4" fill="#b7a8cc"/>
<circle cx="417.0" cy="2571.1" r="3.4" fill="#b7a8cc"/>
<circle cx="421.8" cy="2570.3" r="3.4" fill="#b7a8cc"/>
<line x1="395.2" y1="2566.0" x2="408.0" y2="2566.0" stroke="#333" stroke-width="1.7"/>
<line x1="420.2" y1="2566.0" x2="434.6" y2="2566.0" stroke="#333" stroke-width="1.7"/>
<rect x="408.0" y="2557.4" width="12.2" height="17.2" fill="#c8cacb" stroke="#333" stroke-width="1.7"/>
<line x1="411.2" y1="2557.4" x2="411.2" y2="2574.6" stroke="#333" stroke-width="2.2"/>
<circle cx="409.6" cy="2566.0" r="4.0" fill="#fff" fill-opacity="0.0" stroke="#5b2d82" stroke-width="2.4"/>
<circle cx="434.6" cy="2566.0" r="4.0" fill="#fff" fill-opacity="0.0" stroke="#5b2d82" stroke-width="2.4"/>
<circle cx="409.6" cy="2566.0" r="3.9" fill="#5b2d82" fill-opacity="0.75"/>
<circle cx="377.9" cy="2606.1" r="3.4" fill="#b7a8cc"/>
<circle cx="437.8" cy="2602.3" r="3.4" fill="#b7a8cc"/>
<circle cx="417.0" cy="2596.2" r="3.4" fill="#b7a8cc"/>
<line x1="419.5" y1="2600.2" x2="419.5" y2="2600.2" stroke="#333" stroke-width="1.7"/>
<line x1="429.1" y1="2600.2" x2="437.8" y2="2600.2" stroke="#333" stroke-width="1.7"/>
<rect x="419.5" y="2591.6" width="9.6" height="17.2" fill="#c8cacb" stroke="#333" stroke-width="1.7"/>
<line x1="424.0" y1="2591.6" x2="424.0" y2="2608.8" stroke="#333" stroke-width="2.2"/>
<circle cx="377.9" cy="2600.2" r="4.0" fill="#fff" fill-opacity="0.0" stroke="#5b2d82" stroke-width="2.4"/>
<circle cx="425.0" cy="2600.2" r="4.0" fill="#fff" fill-opacity="0.0" stroke="#5b2d82" stroke-width="2.4"/>
<circle cx="429.1" cy="2600.2" r="4.0" fill="#fff" fill-opacity="0.0" stroke="#5b2d82" stroke-width="2.4"/>
<circle cx="425.0" cy="2600.2" r="3.9" fill="#5b2d82" fill-opacity="0.75"/>
<text x="0" y="0" font-size="35.5" font-weight="bold" fill="#222" transform="translate(803.0 1944.8) scale(0.97 1.08)">F</text>
<text x="1077.0" y="1941.6" font-size="28.2" text-anchor="middle" font-weight="bold">iAstrocytes (BIONi037)</text>
<text x="1077.8" y="1975.2" font-size="28.27" text-anchor="middle" font-weight="bold">Cholesterol vs control treated</text>
<line x1="846.0" y1="1990.6" x2="846.0" y2="2633.2" stroke="#111" stroke-width="2.0"/>
<line x1="845.0" y1="2632.2" x2="1292.6" y2="2632.2" stroke="#111" stroke-width="2.0"/>
<line x1="841.5" y1="2603.4" x2="846.0" y2="2603.4" stroke="#333" stroke-width="1.5"/>
<text x="837.0" y="2610.4" font-size="19.4" text-anchor="end">0</text>
<line x1="841.5" y1="2458.8" x2="846.0" y2="2458.8" stroke="#333" stroke-width="1.5"/>
<text x="837.0" y="2465.8" font-size="19.4" text-anchor="end">10</text>
<line x1="841.5" y1="2314.2" x2="846.0" y2="2314.2" stroke="#333" stroke-width="1.5"/>
<text x="837.0" y="2321.2" font-size="19.4" text-anchor="end">20</text>
<line x1="841.5" y1="2169.6" x2="846.0" y2="2169.6" stroke="#333" stroke-width="1.5"/>
<text x="837.0" y="2176.6" font-size="19.4" text-anchor="end">30</text>
<line x1="841.5" y1="2025.0" x2="846.0" y2="2025.0" stroke="#333" stroke-width="1.5"/>
<text x="837.0" y="2032.0" font-size="19.4" text-anchor="end">40</text>
<text x="805.5" y="2330.0" font-size="24.3" text-anchor="middle" transform="rotate(-90 805.5 2330.0)">% of total lipids</text>
<line x1="862.4" y1="2632.2" x2="862.4" y2="2636.6" stroke="#333" stroke-width="1.5"/>
<text x="874.4" y="2654.5" font-size="21.4" text-anchor="end" transform="rotate(-45 874.4 2654.5)">FA</text>
<rect x="851.4" y="2543.5" width="10.4" height="59.9" fill="#585a5c" stroke="#111" stroke-width="1.3"/>
<circle cx="856.6" cy="2534.7" r="2.3" fill="#5b2d82" fill-opacity="0.8"/>
<circle cx="856.6" cy="2520.5" r="2.3" fill="#5b2d82" fill-opacity="0.8"/>
<circle cx="856.6" cy="2525.1" r="2.3" fill="#5b2d82" fill-opacity="0.8"/>
<circle cx="856.6" cy="2583.7" r="2.4" fill="#b7a8cc"/>
<line x1="856.6" y1="2586.0" x2="856.6" y2="2503.6" stroke="#111" stroke-width="1.6"/>
<line x1="855.1" y1="2586.0" x2="858.1" y2="2586.0" stroke="#111" stroke-width="1.4"/>
<line x1="855.1" y1="2503.6" x2="858.1" y2="2503.6" stroke="#111" stroke-width="1.4"/>
<rect x="863.0" y="2508.0" width="10.4" height="95.4" fill="#c9cbcc" stroke="#111" stroke-width="1.3"/>
<circle cx="868.2" cy="2428.1" r="2.3" fill="#5b2d82" fill-opacity="0.8"/>
<circle cx="868.2" cy="2435.4" r="2.4" fill="#b7a8cc"/>
<circle cx="868.2" cy="2509.7" r="2.4" fill="#b7a8cc"/>
<circle cx="868.2" cy="2496.8" r="2.3" fill="#5b2d82" fill-opacity="0.8"/>
<line x1="868.2" y1="2590.4" x2="868.2" y2="2418.3" stroke="#111" stroke-width="1.6"/>
<line x1="866.7" y1="2590.4" x2="869.7" y2="2590.4" stroke="#111" stroke-width="1.4"/>
<line x1="866.7" y1="2418.3" x2="869.7" y2="2418.3" stroke="#111" stroke-width="1.4"/>
<line x1="890.1" y1="2632.2" x2="890.1" y2="2636.6" stroke="#333" stroke-width="1.5"/>
<text x="902.1" y="2654.5" font-size="21.4" text-anchor="end" transform="rotate(-45 902.1 2654.5)">TG</text>
<rect x="879.1" y="2574.5" width="10.4" height="28.9" fill="#585a5c" stroke="#111" stroke-width="1.3"/>
<circle cx="884.3" cy="2588.6" r="2.4" fill="#b7a8cc"/>
<circle cx="884.3" cy="2580.9" r="2.3" fill="#5b2d82" fill-opacity="0.8"/>
<circle cx="884.3" cy="2566.8" r="2.4" fill="#b7a8cc"/>
<circle cx="884.3" cy="2565.9" r="2.4" fill="#b7a8cc"/>
<line x1="884.3" y1="2588.9" x2="884.3" y2="2560.0" stroke="#111" stroke-width="1.6"/>
<line x1="882.8" y1="2588.9" x2="885.8" y2="2588.9" stroke="#111" stroke-width="1.4"/>
<line x1="882.8" y1="2560.0" x2="885.8" y2="2560.0" stroke="#111" stroke-width="1.4"/>
<rect x="890.7" y="2589.7" width="10.4" height="13.7" fill="#c9cbcc" stroke="#111" stroke-width="1.3"/>
<circle cx="895.9" cy="2588.1" r="2.4" fill="#b7a8cc"/>
<circle cx="895.9" cy="2596.1" r="2.3" fill="#5b2d82" fill-opacity="0.8"/>
<circle cx="895.9" cy="2593.4" r="2.4" fill="#b7a8cc"/>
<circle cx="895.9" cy="2583.4" r="2.3" fill="#5b2d82" fill-opacity="0.8"/>
<line x1="895.9" y1="2596.2" x2="895.9" y2="2583.2" stroke="#111" stroke-width="1.6"/>
<line x1="894.4" y1="2596.2" x2="897.4" y2="2596.2" stroke="#111" stroke-width="1.4"/>
<line x1="894.4" y1="2583.2" x2="897.4" y2="2583.2" stroke="#111" stroke-width="1.4"/>
<line x1="917.7" y1="2632.2" x2="917.7" y2="2636.6" stroke="#333" stroke-width="1.5"/>
<text x="929.7" y="2654.5" font-size="21.4" text-anchor="end" transform="rotate(-45 929.7 2654.5)">DG</text>
<rect x="906.7" y="2581.0" width="10.4" height="22.4" fill="#585a5c" stroke="#111" stroke-width="1.3"/>
<circle cx="911.9" cy="2581.9" r="2.3" fill="#5b2d82" fill-opacity="0.8"/>
<circle cx="911.9" cy="2580.8" r="2.3" fill="#5b2d82" fill-opacity="0.8"/>
<circle cx="911.9" cy="2582.3" r="2.3" fill="#5b2d82" fill-opacity="0.8"/>
<circle cx="911.9" cy="2580.2" r="2.3" fill="#5b2d82" fill-opacity="0.8"/>
<line x1="911.9" y1="2583.2" x2="911.9" y2="2578.8" stroke="#111" stroke-width="1.6"/>
<line x1="910.4" y1="2583.2" x2="913.4" y2="2583.2" stroke="#111" stroke-width="1.4"/>
<line x1="910.4" y1="2578.8" x2="913.4" y2="2578.8" stroke="#111" stroke-width="1.4"/>
<rect x="918.3" y="2576.6" width="10.4" height="26.8" fill="#c9cbcc" stroke="#111" stroke-width="1.3"/>
<circle cx="923.5" cy="2574.9" r="2.4" fill="#b7a8cc"/>
<circle cx="923.5" cy="2577.3" r="2.4" fill="#b7a8cc"/>
<circle cx="923.5" cy="2578.2" r="2.4" fill="#b7a8cc"/>
<circle cx="923.5" cy="2577.5" r="2.3" fill="#5b2d82" fill-opacity="0.8"/>
<line x1="923.5" y1="2578.8" x2="923.5" y2="2574.5" stroke="#111" stroke-width="1.6"/>
<line x1="922.0" y1="2578.8" x2="925.0" y2="2578.8" stroke="#111" stroke-width="1.4"/>
<line x1="922.0" y1="2574.5" x2="925.0" y2="2574.5" stroke="#111" stroke-width="1.4"/>
<line x1="945.4" y1="2632.2" x2="945.4" y2="2636.6" stroke="#333" stroke-width="1.5"/>
<text x="957.4" y="2654.5" font-size="21.4" text-anchor="end" transform="rotate(-45 957.4 2654.5)">CE</text>
<rect x="934.4" y="2579.5" width="10.4" height="23.9" fill="#585a5c" stroke="#111" stroke-width="1.3"/>
<circle cx="939.6" cy="2581.7" r="2.3" fill="#5b2d82" fill-opacity="0.8"/>
<circle cx="939.6" cy="2580.2" r="2.4" fill="#b7a8cc"/>
<circle cx="939.6" cy="2578.2" r="2.4" fill="#b7a8cc"/>
<circle cx="939.6" cy="2580.3" r="2.4" fill="#b7a8cc"/>
<line x1="939.6" y1="2581.7" x2="939.6" y2="2577.4" stroke="#111" stroke-width="1.6"/>
<line x1="938.1" y1="2581.7" x2="941.1" y2="2581.7" stroke="#111" stroke-width="1.4"/>
<line x1="938.1" y1="2577.4" x2="941.1" y2="2577.4" stroke="#111" stroke-width="1.4"/>
<rect x="946.0" y="2474.1" width="10.4" height="129.3" fill="#c9cbcc" stroke="#111" stroke-width="1.3"/>
<circle cx="951.2" cy="2471.7" r="2.4" fill="#b7a8cc"/>
<circle cx="951.2" cy="2467.8" r="2.4" fill="#b7a8cc"/>
<circle cx="951.2" cy="2471.1" r="2.3" fill="#5b2d82" fill-opacity="0.8"/>
<circle cx="951.2" cy="2481.7" r="2.3" fill="#5b2d82" fill-opacity="0.8"/>
<line x1="951.2" y1="2481.9" x2="951.2" y2="2467.5" stroke="#111" stroke-width="1.6"/>
<line x1="949.7" y1="2481.9" x2="952.7" y2="2481.9" stroke="#111" stroke-width="1.4"/>
<line x1="949.7" y1="2467.5" x2="952.7" y2="2467.5" stroke="#111" stroke-width="1.4"/>
<line x1="973.0" y1="2632.2" x2="973.0" y2="2636.6" stroke="#333" stroke-width="1.5"/>
<text x="985.0" y="2654.5" font-size="21.4" text-anchor="end" transform="rotate(-45 985.0 2654.5)">LPE</text>
<rect x="962.0" y="2590.7" width="10.4" height="12.7" fill="#585a5c" stroke="#111" stroke-width="1.3"/>
<circle cx="967.2" cy="2591.7" r="2.3" fill="#5b2d82" fill-opacity="0.8"/>
<circle cx="967.2" cy="2593.2" r="2.4" fill="#b7a8cc"/>
<circle cx="967.2" cy="2592.5" r="2.3" fill="#5b2d82" fill-opacity="0.8"/>
<circle cx="967.2" cy="2592.4" r="2.3" fill="#5b2d82" fill-opacity="0.8"/>
<line x1="967.2" y1="2593.3" x2="967.2" y2="2588.9" stroke="#111" stroke-width="1.6"/>
<line x1="965.7" y1="2593.3" x2="968.7" y2="2593.3" stroke="#111" stroke-width="1.4"/>
<line x1="965.7" y1="2588.9" x2="968.7" y2="2588.9" stroke="#111" stroke-width="1.4"/>
<rect x="973.6" y="2587.5" width="10.4" height="15.9" fill="#c9cbcc" stroke="#111" stroke-width="1.3"/>
<circle cx="978.8" cy="2585.0" r="2.3" fill="#5b2d82" fill-opacity="0.8"/>
<circle cx="978.8" cy="2588.4" r="2.4" fill="#b7a8cc"/>
<circle cx="978.8" cy="2587.4" r="2.3" fill="#5b2d82" fill-opacity="0.8"/>
<circle cx="978.8" cy="2589.8" r="2.3" fill="#5b2d82" fill-opacity="0.8"/>
<line x1="978.8" y1="2590.4" x2="978.8" y2="2584.6" stroke="#111" stroke-width="1.6"/>
<line x1="977.3" y1="2590.4" x2="980.3" y2="2590.4" stroke="#111" stroke-width="1.4"/>
<line x1="977.3" y1="2584.6" x2="980.3" y2="2584.6" stroke="#111" stroke-width="1.4"/>
<line x1="1000.7" y1="2632.2" x2="1000.7" y2="2636.6" stroke="#333" stroke-width="1.5"/>
<text x="1012.7" y="2654.5" font-size="21.4" text-anchor="end" transform="rotate(-45 1012.7 2654.5)">LPC</text>
<rect x="989.7" y="2593.1" width="10.4" height="10.3" fill="#585a5c" stroke="#111" stroke-width="1.3"/>
<circle cx="994.9" cy="2590.7" r="2.3" fill="#5b2d82" fill-opacity="0.8"/>
<circle cx="994.9" cy="2597.3" r="2.3" fill="#5b2d82" fill-opacity="0.8"/>
<circle cx="994.9" cy="2596.8" r="2.4" fill="#b7a8cc"/>
<circle cx="994.9" cy="2592.3" r="2.3" fill="#5b2d82" fill-opacity="0.8"/>
<line x1="994.9" y1="2597.6" x2="994.9" y2="2588.9" stroke="#111" stroke-width="1.6"/>
<line x1="993.4" y1="2597.6" x2="996.4" y2="2597.6" stroke="#111" stroke-width="1.4"/>
<line x1="993.4" y1="2588.9" x2="996.4" y2="2588.9" stroke="#111" stroke-width="1.4"/>
<rect x="1001.3" y="2578.0" width="10.4" height="25.4" fill="#c9cbcc" stroke="#111" stroke-width="1.3"/>
<circle cx="1006.5" cy="2579.3" r="2.3" fill="#5b2d82" fill-opacity="0.8"/>
<circle cx="1006.5" cy="2577.8" r="2.4" fill="#b7a8cc"/>
<circle cx="1006.5" cy="2579.4" r="2.4" fill="#b7a8cc"/>
<circle cx="1006.5" cy="2581.1" r="2.4" fill="#b7a8cc"/>
<line x1="1006.5" y1="2581.7" x2="1006.5" y2="2574.5" stroke="#111" stroke-width="1.6"/>
<line x1="1005.0" y1="2581.7" x2="1008.0" y2="2581.7" stroke="#111" stroke-width="1.4"/>
<line x1="1005.0" y1="2574.5" x2="1008.0" y2="2574.5" stroke="#111" stroke-width="1.4"/>
<line x1="1028.4" y1="2632.2" x2="1028.4" y2="2636.6" stroke="#333" stroke-width="1.5"/>
<text x="1040.4" y="2654.5" font-size="21.4" text-anchor="end" transform="rotate(-45 1040.4 2654.5)">PS</text>
<rect x="1017.4" y="2492.6" width="10.4" height="110.8" fill="#585a5c" stroke="#111" stroke-width="1.3"/>
<circle cx="1022.6" cy="2482.7" r="2.3" fill="#5b2d82" fill-opacity="0.8"/>
<circle cx="1022.6" cy="2510.9" r="2.4" fill="#b7a8cc"/>
<circle cx="1022.6" cy="2466.7" r="2.3" fill="#5b2d82" fill-opacity="0.8"/>
<circle cx="1022.6" cy="2497.8" r="2.4" fill="#b7a8cc"/>
<line x1="1022.6" y1="2519.5" x2="1022.6" y2="2466.0" stroke="#111" stroke-width="1.6"/>
<line x1="1021.1" y1="2519.5" x2="1024.1" y2="2519.5" stroke="#111" stroke-width="1.4"/>
<line x1="1021.1" y1="2466.0" x2="1024.1" y2="2466.0" stroke="#111" stroke-width="1.4"/>
<rect x="1029.0" y="2503.6" width="10.4" height="99.8" fill="#c9cbcc" stroke="#111" stroke-width="1.3"/>
<circle cx="1034.2" cy="2501.2" r="2.3" fill="#5b2d82" fill-opacity="0.8"/>
<circle cx="1034.2" cy="2504.8" r="2.4" fill="#b7a8cc"/>
<circle cx="1034.2" cy="2515.2" r="2.3" fill="#5b2d82" fill-opacity="0.8"/>
<circle cx="1034.2" cy="2515.8" r="2.4" fill="#b7a8cc"/>
<line x1="1034.2" y1="2516.6" x2="1034.2" y2="2490.6" stroke="#111" stroke-width="1.6"/>
<line x1="1032.7" y1="2516.6" x2="1035.7" y2="2516.6" stroke="#111" stroke-width="1.4"/>
<line x1="1032.7" y1="2490.6" x2="1035.7" y2="2490.6" stroke="#111" stroke-width="1.4"/>
<line x1="1056.0" y1="2632.2" x2="1056.0" y2="2636.6" stroke="#333" stroke-width="1.5"/>
<text x="1068.0" y="2654.5" font-size="21.4" text-anchor="end" transform="rotate(-45 1068.0 2654.5)">PI</text>
<rect x="1045.0" y="2474.7" width="10.4" height="128.7" fill="#585a5c" stroke="#111" stroke-width="1.3"/>
<circle cx="1050.2" cy="2468.8" r="2.4" fill="#b7a8cc"/>
<circle cx="1050.2" cy="2470.7" r="2.3" fill="#5b2d82" fill-opacity="0.8"/>
<circle cx="1050.2" cy="2472.4" r="2.3" fill="#5b2d82" fill-opacity="0.8"/>
<circle cx="1050.2" cy="2481.5" r="2.4" fill="#b7a8cc"/>
<line x1="1050.2" y1="2483.4" x2="1050.2" y2="2466.0" stroke="#111" stroke-width="1.6"/>
<line x1="1048.7" y1="2483.4" x2="1051.7" y2="2483.4" stroke="#111" stroke-width="1.4"/>
<line x1="1048.7" y1="2466.0" x2="1051.7" y2="2466.0" stroke="#111" stroke-width="1.4"/>
<rect x="1056.6" y="2460.8" width="10.4" height="142.6" fill="#c9cbcc" stroke="#111" stroke-width="1.3"/>
<circle cx="1061.8" cy="2473.6" r="2.3" fill="#5b2d82" fill-opacity="0.8"/>
<circle cx="1061.8" cy="2468.4" r="2.4" fill="#b7a8cc"/>
<circle cx="1061.8" cy="2442.9" r="2.3" fill="#5b2d82" fill-opacity="0.8"/>
<circle cx="1061.8" cy="2443.8" r="2.4" fill="#b7a8cc"/>
<line x1="1061.8" y1="2479.0" x2="1061.8" y2="2442.9" stroke="#111" stroke-width="1.6"/>
<line x1="1060.3" y1="2479.0" x2="1063.3" y2="2479.0" stroke="#111" stroke-width="1.4"/>
<line x1="1060.3" y1="2442.9" x2="1063.3" y2="2442.9" stroke="#111" stroke-width="1.4"/>
<line x1="1083.7" y1="2632.2" x2="1083.7" y2="2636.6" stroke="#333" stroke-width="1.5"/>
<text x="1095.7" y="2654.5" font-size="21.4" text-anchor="end" transform="rotate(-45 1095.7 2654.5)">PG</text>
<rect x="1072.7" y="2599.6" width="10.4" height="3.8" fill="#585a5c" stroke="#111" stroke-width="1.3"/>
<circle cx="1077.9" cy="2599.8" r="2.3" fill="#5b2d82" fill-opacity="0.8"/>
<circle cx="1077.9" cy="2599.8" r="2.4" fill="#b7a8cc"/>
<circle cx="1077.9" cy="2599.9" r="2.4" fill="#b7a8cc"/>
<circle cx="1077.9" cy="2600.0" r="2.3" fill="#5b2d82" fill-opacity="0.8"/>
<line x1="1077.9" y1="2600.5" x2="1077.9" y2="2599.1" stroke="#111" stroke-width="1.6"/>
<line x1="1076.4" y1="2600.5" x2="1079.4" y2="2600.5" stroke="#111" stroke-width="1.4"/>
<line x1="1076.4" y1="2599.1" x2="1079.4" y2="2599.1" stroke="#111" stroke-width="1.4"/>
<rect x="1084.3" y="2599.6" width="10.4" height="3.8" fill="#c9cbcc" stroke="#111" stroke-width="1.3"/>
<circle cx="1089.5" cy="2599.1" r="2.3" fill="#5b2d82" fill-opacity="0.8"/>
<circle cx="1089.5" cy="2599.8" r="2.4" fill="#b7a8cc"/>
<circle cx="1089.5" cy="2600.4" r="2.4" fill="#b7a8cc"/>
<circle cx="1089.5" cy="2599.4" r="2.3" fill="#5b2d82" fill-opacity="0.8"/>
<line x1="1089.5" y1="2600.5" x2="1089.5" y2="2599.1" stroke="#111" stroke-width="1.6"/>
<line x1="1088.0" y1="2600.5" x2="1091.0" y2="2600.5" stroke="#111" stroke-width="1.4"/>
<line x1="1088.0" y1="2599.1" x2="1091.0" y2="2599.1" stroke="#111" stroke-width="1.4"/>
<line x1="1111.3" y1="2632.2" x2="1111.3" y2="2636.6" stroke="#333" stroke-width="1.5"/>
<text x="1123.3" y="2654.5" font-size="21.4" text-anchor="end" transform="rotate(-45 1123.3 2654.5)">PE</text>
<rect x="1100.3" y="2213.6" width="10.4" height="389.8" fill="#585a5c" stroke="#111" stroke-width="1.3"/>
<circle cx="1105.5" cy="2223.1" r="2.3" fill="#5b2d82" fill-opacity="0.8"/>
<circle cx="1105.5" cy="2201.6" r="2.3" fill="#5b2d82" fill-opacity="0.8"/>
<circle cx="1105.5" cy="2207.3" r="2.3" fill="#5b2d82" fill-opacity="0.8"/>
<circle cx="1105.5" cy="2223.0" r="2.3" fill="#5b2d82" fill-opacity="0.8"/>
<line x1="1105.5" y1="2241.9" x2="1105.5" y2="2189.8" stroke="#111" stroke-width="1.6"/>
<line x1="1104.0" y1="2241.9" x2="1107.0" y2="2241.9" stroke="#111" stroke-width="1.4"/>
<line x1="1104.0" y1="2189.8" x2="1107.0" y2="2189.8" stroke="#111" stroke-width="1.4"/>
<rect x="1111.9" y="2338.8" width="10.4" height="264.6" fill="#c9cbcc" stroke="#111" stroke-width="1.3"/>
<circle cx="1117.1" cy="2351.2" r="2.4" fill="#b7a8cc"/>
<circle cx="1117.1" cy="2330.0" r="2.3" fill="#5b2d82" fill-opacity="0.8"/>
<circle cx="1117.1" cy="2350.6" r="2.3" fill="#5b2d82" fill-opacity="0.8"/>
<circle cx="1117.1" cy="2335.2" r="2.3" fill="#5b2d82" fill-opacity="0.8"/>
<line x1="1117.1" y1="2363.4" x2="1117.1" y2="2320.0" stroke="#111" stroke-width="1.6"/>
<line x1="1115.6" y1="2363.4" x2="1118.6" y2="2363.4" stroke="#111" stroke-width="1.4"/>
<line x1="1115.6" y1="2320.0" x2="1118.6" y2="2320.0" stroke="#111" stroke-width="1.4"/>
<line x1="1139.0" y1="2632.2" x2="1139.0" y2="2636.6" stroke="#333" stroke-width="1.5"/>
<text x="1151.0" y="2654.5" font-size="21.4" text-anchor="end" transform="rotate(-45 1151.0 2654.5)">PC</text>
<rect x="1128.0" y="2070.3" width="10.4" height="533.1" fill="#585a5c" stroke="#111" stroke-width="1.3"/>
<circle cx="1133.2" cy="2107.9" r="2.3" fill="#5b2d82" fill-opacity="0.8"/>
<circle cx="1133.2" cy="2088.9" r="2.3" fill="#5b2d82" fill-opacity="0.8"/>
<circle cx="1133.2" cy="2072.1" r="2.3" fill="#5b2d82" fill-opacity="0.8"/>
<circle cx="1133.2" cy="2057.4" r="2.3" fill="#5b2d82" fill-opacity="0.8"/>
<line x1="1133.2" y1="2108.9" x2="1133.2" y2="2029.3" stroke="#111" stroke-width="1.6"/>
<line x1="1131.7" y1="2108.9" x2="1134.7" y2="2108.9" stroke="#111" stroke-width="1.4"/>
<line x1="1131.7" y1="2029.3" x2="1134.7" y2="2029.3" stroke="#111" stroke-width="1.4"/>
<rect x="1139.6" y="2073.3" width="10.4" height="530.1" fill="#c9cbcc" stroke="#111" stroke-width="1.3"/>
<circle cx="1144.8" cy="2088.5" r="2.3" fill="#5b2d82" fill-opacity="0.8"/>
<circle cx="1144.8" cy="2046.2" r="2.3" fill="#5b2d82" fill-opacity="0.8"/>
<circle cx="1144.8" cy="2088.3" r="2.3" fill="#5b2d82" fill-opacity="0.8"/>
<circle cx="1144.8" cy="2031.9" r="2.3" fill="#5b2d82" fill-opacity="0.8"/>
<line x1="1144.8" y1="2126.2" x2="1144.8" y2="2017.8" stroke="#111" stroke-width="1.6"/>
<line x1="1143.3" y1="2126.2" x2="1146.3" y2="2126.2" stroke="#111" stroke-width="1.4"/>
<line x1="1143.3" y1="2017.8" x2="1146.3" y2="2017.8" stroke="#111" stroke-width="1.4"/>
<line x1="1166.7" y1="2632.2" x2="1166.7" y2="2636.6" stroke="#333" stroke-width="1.5"/>
<text x="1178.7" y="2654.5" font-size="21.4" text-anchor="end" transform="rotate(-45 1178.7 2654.5)">PA</text>
<rect x="1155.7" y="2599.1" width="10.4" height="4.3" fill="#585a5c" stroke="#111" stroke-width="1.3"/>
<circle cx="1160.9" cy="2597.7" r="2.3" fill="#5b2d82" fill-opacity="0.8"/>
<circle cx="1160.9" cy="2599.0" r="2.3" fill="#5b2d82" fill-opacity="0.8"/>
<circle cx="1160.9" cy="2600.0" r="2.3" fill="#5b2d82" fill-opacity="0.8"/>
<circle cx="1160.9" cy="2597.8" r="2.4" fill="#b7a8cc"/>
<line x1="1160.9" y1="2600.5" x2="1160.9" y2="2597.6" stroke="#111" stroke-width="1.6"/>
<line x1="1159.4" y1="2600.5" x2="1162.4" y2="2600.5" stroke="#111" stroke-width="1.4"/>
<line x1="1159.4" y1="2597.6" x2="1162.4" y2="2597.6" stroke="#111" stroke-width="1.4"/>
<rect x="1167.3" y="2574.6" width="10.4" height="28.8" fill="#c9cbcc" stroke="#111" stroke-width="1.3"/>
<circle cx="1172.5" cy="2572.3" r="2.3" fill="#5b2d82" fill-opacity="0.8"/>
<circle cx="1172.5" cy="2571.8" r="2.4" fill="#b7a8cc"/>
<circle cx="1172.5" cy="2571.2" r="2.3" fill="#5b2d82" fill-opacity="0.8"/>
<circle cx="1172.5" cy="2572.6" r="2.4" fill="#b7a8cc"/>
<line x1="1172.5" y1="2580.3" x2="1172.5" y2="2568.7" stroke="#111" stroke-width="1.6"/>
<line x1="1171.0" y1="2580.3" x2="1174.0" y2="2580.3" stroke="#111" stroke-width="1.4"/>
<line x1="1171.0" y1="2568.7" x2="1174.0" y2="2568.7" stroke="#111" stroke-width="1.4"/>
<line x1="1194.3" y1="2632.2" x2="1194.3" y2="2636.6" stroke="#333" stroke-width="1.5"/>
<text x="1206.3" y="2654.5" font-size="21.4" text-anchor="end" transform="rotate(-45 1206.3 2654.5)">SM</text>
<rect x="1183.3" y="2492.6" width="10.4" height="110.8" fill="#585a5c" stroke="#111" stroke-width="1.3"/>
<circle cx="1188.5" cy="2488.7" r="2.3" fill="#5b2d82" fill-opacity="0.8"/>
<circle cx="1188.5" cy="2488.2" r="2.3" fill="#5b2d82" fill-opacity="0.8"/>
<circle cx="1188.5" cy="2508.5" r="2.4" fill="#b7a8cc"/>
<circle cx="1188.5" cy="2494.7" r="2.3" fill="#5b2d82" fill-opacity="0.8"/>
<line x1="1188.5" y1="2509.4" x2="1188.5" y2="2476.2" stroke="#111" stroke-width="1.6"/>
<line x1="1187.0" y1="2509.4" x2="1190.0" y2="2509.4" stroke="#111" stroke-width="1.4"/>
<line x1="1187.0" y1="2476.2" x2="1190.0" y2="2476.2" stroke="#111" stroke-width="1.4"/>
<rect x="1194.9" y="2539.2" width="10.4" height="64.2" fill="#c9cbcc" stroke="#111" stroke-width="1.3"/>
<circle cx="1200.1" cy="2542.7" r="2.3" fill="#5b2d82" fill-opacity="0.8"/>
<circle cx="1200.1" cy="2537.3" r="2.4" fill="#b7a8cc"/>
<circle cx="1200.1" cy="2539.4" r="2.4" fill="#b7a8cc"/>
<circle cx="1200.1" cy="2544.9" r="2.4" fill="#b7a8cc"/>
<line x1="1200.1" y1="2545.6" x2="1200.1" y2="2532.5" stroke="#111" stroke-width="1.6"/>
<line x1="1198.6" y1="2545.6" x2="1201.6" y2="2545.6" stroke="#111" stroke-width="1.4"/>
<line x1="1198.6" y1="2532.5" x2="1201.6" y2="2532.5" stroke="#111" stroke-width="1.4"/>
<line x1="1222.0" y1="2632.2" x2="1222.0" y2="2636.6" stroke="#333" stroke-width="1.5"/>
<text x="1234.0" y="2654.5" font-size="21.4" text-anchor="end" transform="rotate(-45 1234.0 2654.5)">LacCER</text>
<rect x="1211.0" y="2602.2" width="10.4" height="1.2" fill="#585a5c" stroke="#111" stroke-width="1.3"/>
<circle cx="1216.2" cy="2602.4" r="2.4" fill="#b7a8cc"/>
<circle cx="1216.2" cy="2602.5" r="2.4" fill="#b7a8cc"/>
<circle cx="1216.2" cy="2602.3" r="2.4" fill="#b7a8cc"/>
<circle cx="1216.2" cy="2602.2" r="2.3" fill="#5b2d82" fill-opacity="0.8"/>
<line x1="1216.2" y1="2602.7" x2="1216.2" y2="2602.0" stroke="#111" stroke-width="1.6"/>
<line x1="1214.7" y1="2602.7" x2="1217.7" y2="2602.7" stroke="#111" stroke-width="1.4"/>
<line x1="1214.7" y1="2602.0" x2="1217.7" y2="2602.0" stroke="#111" stroke-width="1.4"/>
<rect x="1222.6" y="2602.2" width="10.4" height="1.2" fill="#c9cbcc" stroke="#111" stroke-width="1.3"/>
<circle cx="1227.8" cy="2602.5" r="2.3" fill="#5b2d82" fill-opacity="0.8"/>
<circle cx="1227.8" cy="2602.7" r="2.4" fill="#b7a8cc"/>
<circle cx="1227.8" cy="2602.5" r="2.4" fill="#b7a8cc"/>
<circle cx="1227.8" cy="2602.6" r="2.3" fill="#5b2d82" fill-opacity="0.8"/>
<line x1="1227.8" y1="2602.7" x2="1227.8" y2="2602.0" stroke="#111" stroke-width="1.6"/>
<line x1="1226.3" y1="2602.7" x2="1229.3" y2="2602.7" stroke="#111" stroke-width="1.4"/>
<line x1="1226.3" y1="2602.0" x2="1229.3" y2="2602.0" stroke="#111" stroke-width="1.4"/>
<line x1="1249.6" y1="2632.2" x2="1249.6" y2="2636.6" stroke="#333" stroke-width="1.5"/>
<text x="1261.6" y="2654.5" font-size="21.4" text-anchor="end" transform="rotate(-45 1261.6 2654.5)">HexCER</text>
<rect x="1238.6" y="2597.3" width="10.4" height="6.1" fill="#585a5c" stroke="#111" stroke-width="1.3"/>
<circle cx="1243.8" cy="2598.0" r="2.4" fill="#b7a8cc"/>
<circle cx="1243.8" cy="2597.3" r="2.4" fill="#b7a8cc"/>
<circle cx="1243.8" cy="2597.5" r="2.4" fill="#b7a8cc"/>
<circle cx="1243.8" cy="2597.4" r="2.3" fill="#5b2d82" fill-opacity="0.8"/>
<line x1="1243.8" y1="2599.1" x2="1243.8" y2="2596.2" stroke="#111" stroke-width="1.6"/>
<line x1="1242.3" y1="2599.1" x2="1245.3" y2="2599.1" stroke="#111" stroke-width="1.4"/>
<line x1="1242.3" y1="2596.2" x2="1245.3" y2="2596.2" stroke="#111" stroke-width="1.4"/>
<rect x="1250.2" y="2597.6" width="10.4" height="5.8" fill="#c9cbcc" stroke="#111" stroke-width="1.3"/>
<circle cx="1255.4" cy="2596.7" r="2.4" fill="#b7a8cc"/>
<circle cx="1255.4" cy="2596.7" r="2.3" fill="#5b2d82" fill-opacity="0.8"/>
<circle cx="1255.4" cy="2598.0" r="2.4" fill="#b7a8cc"/>
<circle cx="1255.4" cy="2597.3" r="2.3" fill="#5b2d82" fill-opacity="0.8"/>
<line x1="1255.4" y1="2599.1" x2="1255.4" y2="2596.2" stroke="#111" stroke-width="1.6"/>
<line x1="1253.9" y1="2599.1" x2="1256.9" y2="2599.1" stroke="#111" stroke-width="1.4"/>
<line x1="1253.9" y1="2596.2" x2="1256.9" y2="2596.2" stroke="#111" stroke-width="1.4"/>
<line x1="1277.3" y1="2632.2" x2="1277.3" y2="2636.6" stroke="#333" stroke-width="1.5"/>
<text x="1289.3" y="2654.5" font-size="21.4" text-anchor="end" transform="rotate(-45 1289.3 2654.5)">Cer</text>
<rect x="1266.3" y="2596.6" width="10.4" height="6.8" fill="#585a5c" stroke="#111" stroke-width="1.3"/>
<circle cx="1271.5" cy="2595.5" r="2.3" fill="#5b2d82" fill-opacity="0.8"/>
<circle cx="1271.5" cy="2596.3" r="2.4" fill="#b7a8cc"/>
<circle cx="1271.5" cy="2595.7" r="2.4" fill="#b7a8cc"/>
<circle cx="1271.5" cy="2597.4" r="2.3" fill="#5b2d82" fill-opacity="0.8"/>
<line x1="1271.5" y1="2597.6" x2="1271.5" y2="2595.4" stroke="#111" stroke-width="1.6"/>
<line x1="1270.0" y1="2597.6" x2="1273.0" y2="2597.6" stroke="#111" stroke-width="1.4"/>
<line x1="1270.0" y1="2595.4" x2="1273.0" y2="2595.4" stroke="#111" stroke-width="1.4"/>
<rect x="1277.9" y="2599.1" width="10.4" height="4.3" fill="#c9cbcc" stroke="#111" stroke-width="1.3"/>
<circle cx="1283.1" cy="2598.9" r="2.4" fill="#b7a8cc"/>
<circle cx="1283.1" cy="2598.9" r="2.3" fill="#5b2d82" fill-opacity="0.8"/>
<circle cx="1283.1" cy="2599.2" r="2.4" fill="#b7a8cc"/>
<circle cx="1283.1" cy="2599.5" r="2.4" fill="#b7a8cc"/>
<line x1="1283.1" y1="2599.8" x2="1283.1" y2="2598.3" stroke="#111" stroke-width="1.6"/>
<line x1="1281.6" y1="2599.8" x2="1284.6" y2="2599.8" stroke="#111" stroke-width="1.4"/>
<line x1="1281.6" y1="2598.3" x2="1284.6" y2="2598.3" stroke="#111" stroke-width="1.4"/>
<circle cx="868.2" cy="2317.9" r="2.4" fill="#b7a8cc"/>
<circle cx="856.6" cy="2477.0" r="2.4" fill="#b7a8cc"/>
<circle cx="880.0" cy="2442.3" r="2.4" fill="#b7a8cc"/>
<circle cx="1188.0" cy="2452.4" r="2.4" fill="#b7a8cc"/>
<circle cx="856.6" cy="2485.7" r="2.6" fill="#fff" fill-opacity="0.0" stroke="#5b2d82" stroke-width="1.5"/>
<circle cx="868.2" cy="2442.3" r="2.6" fill="#fff" fill-opacity="0.0" stroke="#5b2d82" stroke-width="1.5"/>
<circle cx="1188.0" cy="2472.7" r="2.6" fill="#fff" fill-opacity="0.0" stroke="#5b2d82" stroke-width="1.5"/>
<circle cx="883.4" cy="2552.2" r="2.6" fill="#fff" fill-opacity="0.0" stroke="#5b2d82" stroke-width="1.5"/>
<text x="1216.0" y="2240.5" font-size="24.67">Treatment</text>
<rect x="1217.5" y="2254.5" width="28.0" height="28.5" fill="#585a5c" stroke="#111" stroke-width="1.4"/>
<rect x="1217.5" y="2285.0" width="28.0" height="28.5" fill="#c9cbcc" stroke="#111" stroke-width="1.4"/>
<text x="1256.0" y="2276.5" font-size="21">Control</text>
<text x="1256.0" y="2306.5" font-size="21.2">Cholesterol</text>
<text x="0" y="0" font-size="35.5" font-weight="bold" fill="#222" transform="translate(1485.4 1584.3) scale(0.97 1.08)">G</text>
<text x="1602.7" y="1585.2" font-size="24.67">Cholesterol ester saturation</text>
<line x1="1602.1" y1="1588.6" x2="1602.1" y2="1981.6" stroke="#111" stroke-width="1.9"/>
<line x1="1601.1" y1="1980.6" x2="1938.0" y2="1980.6" stroke="#111" stroke-width="1.9"/>
<line x1="1597.6" y1="1683.6" x2="1602.1" y2="1683.6" stroke="#333" stroke-width="1.5"/>
<text x="1596.0" y="1690.8" font-size="20" text-anchor="end">15</text>
<line x1="1597.6" y1="1783.2" x2="1602.1" y2="1783.2" stroke="#333" stroke-width="1.5"/>
<text x="1596.0" y="1790.4" font-size="20" text-anchor="end">10</text>
<line x1="1597.6" y1="1882.7" x2="1602.1" y2="1882.7" stroke="#333" stroke-width="1.5"/>
<text x="1596.0" y="1889.9" font-size="20" text-anchor="end">5</text>
<text x="1565.8" y="1781.0" font-size="21" text-anchor="middle" transform="rotate(-90 1565.8 1781.0)">Fold change</text>
<line x1="1604.0" y1="1963.0" x2="1938.0" y2="1963.0" stroke="#333" stroke-width="1.6" stroke-dasharray="1.6 4"/>
<line x1="1630.3" y1="1980.6" x2="1630.3" y2="1984.5" stroke="#333" stroke-width="1.5"/>
<text x="1630.3" y="2001.3" font-size="20" text-anchor="middle">0</text>
<line x1="1676.9" y1="1980.6" x2="1676.9" y2="1984.5" stroke="#333" stroke-width="1.5"/>
<text x="1676.9" y="2001.3" font-size="20" text-anchor="middle">1</text>
<line x1="1723.5" y1="1980.6" x2="1723.5" y2="1984.5" stroke="#333" stroke-width="1.5"/>
<text x="1723.5" y="2001.3" font-size="20" text-anchor="middle">2</text>
<line x1="1770.1" y1="1980.6" x2="1770.1" y2="1984.5" stroke="#333" stroke-width="1.5"/>
<text x="1770.1" y="2001.3" font-size="20" text-anchor="middle">3</text>
<line x1="1816.7" y1="1980.6" x2="1816.7" y2="1984.5" stroke="#333" stroke-width="1.5"/>
<text x="1816.7" y="2001.3" font-size="20" text-anchor="middle">4</text>
<line x1="1863.3" y1="1980.6" x2="1863.3" y2="1984.5" stroke="#333" stroke-width="1.5"/>
<text x="1863.3" y="2001.3" font-size="20" text-anchor="middle">5</text>
<line x1="1909.9" y1="1980.6" x2="1909.9" y2="1984.5" stroke="#333" stroke-width="1.5"/>
<text x="1909.9" y="2001.3" font-size="20" text-anchor="middle">6</text>
<text x="1786.5" y="2019.5" font-size="21.07" text-anchor="middle">Double bonds</text>
<circle cx="1630.3" cy="1743.7" r="3.4" fill="#b7a8cc"/>
<circle cx="1630.3" cy="1776.1" r="3.4" fill="#b7a8cc"/>
<circle cx="1630.3" cy="1780.3" r="3.4" fill="#b7a8cc"/>
<circle cx="1630.3" cy="1804.3" r="3.4" fill="#b7a8cc"/>
<circle cx="1676.9" cy="1893.0" r="3.4" fill="#b7a8cc"/>
<circle cx="1676.9" cy="1910.0" r="3.4" fill="#b7a8cc"/>
<circle cx="1723.5" cy="1932.0" r="3.4" fill="#b7a8cc"/>
<circle cx="1770.1" cy="1945.0" r="3.4" fill="#b7a8cc"/>
<circle cx="1816.7" cy="1927.0" r="3.4" fill="#b7a8cc"/>
<circle cx="1816.7" cy="1932.0" r="3.4" fill="#b7a8cc"/>
<circle cx="1863.3" cy="1922.8" r="3.4" fill="#b7a8cc"/>
<circle cx="1909.9" cy="1905.8" r="3.4" fill="#b7a8cc"/>
<circle cx="1909.9" cy="1910.0" r="3.4" fill="#b7a8cc"/>
<circle cx="1630.3" cy="1606.0" r="3.7" fill="#fff" fill-opacity="0.0" stroke="#5b2d82" stroke-width="2.2"/>
<circle cx="1630.3" cy="1740.9" r="3.7" fill="#fff" fill-opacity="0.0" stroke="#5b2d82" stroke-width="2.2"/>
<circle cx="1630.3" cy="1787.4" r="3.7" fill="#fff" fill-opacity="0.0" stroke="#5b2d82" stroke-width="2.2"/>
<circle cx="1676.9" cy="1892.6" r="3.7" fill="#fff" fill-opacity="0.0" stroke="#5b2d82" stroke-width="2.2"/>
<circle cx="1676.9" cy="1903.0" r="3.7" fill="#fff" fill-opacity="0.0" stroke="#5b2d82" stroke-width="2.2"/>
<circle cx="1676.9" cy="1911.5" r="3.7" fill="#fff" fill-opacity="0.0" stroke="#5b2d82" stroke-width="2.2"/>
<circle cx="1676.9" cy="1915.7" r="3.7" fill="#fff" fill-opacity="0.0" stroke="#5b2d82" stroke-width="2.2"/>
<circle cx="1723.5" cy="1933.6" r="3.7" fill="#fff" fill-opacity="0.0" stroke="#5b2d82" stroke-width="2.2"/>
<circle cx="1723.5" cy="1936.3" r="3.7" fill="#fff" fill-opacity="0.0" stroke="#5b2d82" stroke-width="2.2"/>
<circle cx="1770.1" cy="1942.5" r="3.7" fill="#fff" fill-opacity="0.0" stroke="#5b2d82" stroke-width="2.2"/>
<circle cx="1770.1" cy="1948.0" r="3.7" fill="#fff" fill-opacity="0.0" stroke="#5b2d82" stroke-width="2.2"/>
<circle cx="1770.1" cy="1951.0" r="3.7" fill="#fff" fill-opacity="0.0" stroke="#5b2d82" stroke-width="2.2"/>
<circle cx="1816.7" cy="1931.2" r="3.7" fill="#fff" fill-opacity="0.0" stroke="#5b2d82" stroke-width="2.2"/>
<circle cx="1816.7" cy="1935.0" r="3.7" fill="#fff" fill-opacity="0.0" stroke="#5b2d82" stroke-width="2.2"/>
<circle cx="1816.7" cy="1938.3" r="3.7" fill="#fff" fill-opacity="0.0" stroke="#5b2d82" stroke-width="2.2"/>
<circle cx="1863.3" cy="1931.2" r="3.7" fill="#fff" fill-opacity="0.0" stroke="#5b2d82" stroke-width="2.2"/>
<circle cx="1863.3" cy="1943.9" r="3.7" fill="#fff" fill-opacity="0.0" stroke="#5b2d82" stroke-width="2.2"/>
<circle cx="1909.9" cy="1911.5" r="3.7" fill="#fff" fill-opacity="0.0" stroke="#5b2d82" stroke-width="2.2"/>
<circle cx="1909.9" cy="1915.7" r="3.7" fill="#fff" fill-opacity="0.0" stroke="#5b2d82" stroke-width="2.2"/>
<circle cx="1909.9" cy="1934.6" r="3.7" fill="#fff" fill-opacity="0.0" stroke="#5b2d82" stroke-width="2.2"/>
<circle cx="1630.3" cy="1740.9" r="3.7" fill="#8a70ab" stroke="#5b2d82" stroke-width="2.2"/>
<circle cx="1676.9" cy="1915.7" r="3.7" fill="#8a70ab" stroke="#5b2d82" stroke-width="2.2"/>
<circle cx="1723.5" cy="1936.3" r="3.7" fill="#8a70ab" stroke="#5b2d82" stroke-width="2.2"/>
<circle cx="1770.1" cy="1951.0" r="3.7" fill="#8a70ab" stroke="#5b2d82" stroke-width="2.2"/>
<circle cx="1816.7" cy="1938.3" r="3.7" fill="#8a70ab" stroke="#5b2d82" stroke-width="2.2"/>
<circle cx="1909.9" cy="1911.5" r="3.7" fill="#8a70ab" stroke="#5b2d82" stroke-width="2.2"/>
<line x1="1618.7" y1="1732.4" x2="1641.9" y2="1732.4" stroke="#111" stroke-width="3.0"/>
<line x1="1665.3" y1="1905.3" x2="1688.5" y2="1905.3" stroke="#111" stroke-width="3.0"/>
<line x1="1711.9" y1="1934.6" x2="1735.1" y2="1934.6" stroke="#111" stroke-width="3.0"/>
<line x1="1758.5" y1="1946.7" x2="1781.7" y2="1946.7" stroke="#111" stroke-width="3.0"/>
<line x1="1805.1" y1="1934.6" x2="1828.3" y2="1934.6" stroke="#111" stroke-width="3.0"/>
<line x1="1851.7" y1="1935.2" x2="1874.9" y2="1935.2" stroke="#111" stroke-width="3.0"/>
<line x1="1898.3" y1="1918.0" x2="1921.5" y2="1918.0" stroke="#111" stroke-width="3.0"/>
<text x="0" y="0" font-size="35.5" font-weight="bold" fill="#222" transform="translate(1484.7 2055.0) scale(0.97 1.08)">H</text>
<text x="1603.7" y="2080.5" font-size="24.67">Triacylglyceride saturation</text>
<line x1="1602.6" y1="2084.3" x2="1602.6" y2="2477.0" stroke="#111" stroke-width="1.9"/>
<line x1="1601.6" y1="2476.0" x2="1928.5" y2="2476.0" stroke="#111" stroke-width="1.9"/>
<line x1="1598.1" y1="2092.3" x2="1602.6" y2="2092.3" stroke="#333" stroke-width="1.5"/>
<text x="1598.0" y="2099.7" font-size="21" text-anchor="end">1.25</text>
<line x1="1598.1" y1="2176.9" x2="1602.6" y2="2176.9" stroke="#333" stroke-width="1.5"/>
<text x="1598.0" y="2184.3" font-size="21" text-anchor="end">1.00</text>
<line x1="1598.1" y1="2260.8" x2="1602.6" y2="2260.8" stroke="#333" stroke-width="1.5"/>
<text x="1598.0" y="2268.2" font-size="21" text-anchor="end">0.75</text>
<line x1="1598.1" y1="2345.0" x2="1602.6" y2="2345.0" stroke="#333" stroke-width="1.5"/>
<text x="1598.0" y="2352.4" font-size="21" text-anchor="end">0.50</text>
<line x1="1598.1" y1="2429.2" x2="1602.6" y2="2429.2" stroke="#333" stroke-width="1.5"/>
<text x="1598.0" y="2436.6" font-size="21" text-anchor="end">0.25</text>
<text x="1543.4" y="2276.0" font-size="21" text-anchor="middle" transform="rotate(-90 1543.4 2276.0)">Fold change</text>
<line x1="1604.0" y1="2176.9" x2="1926.0" y2="2176.9" stroke="#333" stroke-width="1.6" stroke-dasharray="1.6 4"/>
<line x1="1619.1" y1="2476.0" x2="1619.1" y2="2480.0" stroke="#333" stroke-width="1.5"/>
<text x="1619.1" y="2500.5" font-size="21" text-anchor="middle">0</text>
<line x1="1648.3" y1="2476.0" x2="1648.3" y2="2480.0" stroke="#333" stroke-width="1.5"/>
<text x="1648.3" y="2500.5" font-size="21" text-anchor="middle">1</text>
<line x1="1677.5" y1="2476.0" x2="1677.5" y2="2480.0" stroke="#333" stroke-width="1.5"/>
<text x="1677.5" y="2500.5" font-size="21" text-anchor="middle">2</text>
<line x1="1706.8" y1="2476.0" x2="1706.8" y2="2480.0" stroke="#333" stroke-width="1.5"/>
<text x="1706.8" y="2500.5" font-size="21" text-anchor="middle">3</text>
<line x1="1736.0" y1="2476.0" x2="1736.0" y2="2480.0" stroke="#333" stroke-width="1.5"/>
<text x="1736.0" y="2500.5" font-size="21" text-anchor="middle">4</text>
<line x1="1765.2" y1="2476.0" x2="1765.2" y2="2480.0" stroke="#333" stroke-width="1.5"/>
<text x="1765.2" y="2500.5" font-size="21" text-anchor="middle">5</text>
<line x1="1794.4" y1="2476.0" x2="1794.4" y2="2480.0" stroke="#333" stroke-width="1.5"/>
<text x="1794.4" y="2500.5" font-size="21" text-anchor="middle">6</text>
<line x1="1823.6" y1="2476.0" x2="1823.6" y2="2480.0" stroke="#333" stroke-width="1.5"/>
<text x="1823.6" y="2500.5" font-size="21" text-anchor="middle">7</text>
<line x1="1852.9" y1="2476.0" x2="1852.9" y2="2480.0" stroke="#333" stroke-width="1.5"/>
<text x="1852.9" y="2500.5" font-size="21" text-anchor="middle">8</text>
<line x1="1882.1" y1="2476.0" x2="1882.1" y2="2480.0" stroke="#333" stroke-width="1.5"/>
<text x="1882.1" y="2500.5" font-size="21" text-anchor="middle">9</text>
<line x1="1911.3" y1="2476.0" x2="1911.3" y2="2480.0" stroke="#333" stroke-width="1.5"/>
<text x="1911.3" y="2500.5" font-size="21" text-anchor="middle">10</text>
<text x="1786.6" y="2526.0" font-size="21.07" text-anchor="middle">Double bonds</text>
<circle cx="1619.1" cy="2235.1" r="3.2" fill="#b7a8cc"/>
<circle cx="1619.1" cy="2256.4" r="3.2" fill="#b7a8cc"/>
<circle cx="1619.1" cy="2327.4" r="3.2" fill="#b7a8cc"/>
<circle cx="1619.1" cy="2241.7" r="3.6" fill="#fff" fill-opacity="0.0" stroke="#5b2d82" stroke-width="2.1"/>
<circle cx="1619.1" cy="2340.6" r="3.6" fill="#8a70ab" stroke="#5b2d82" stroke-width="2.1"/>
<circle cx="1619.1" cy="2350.5" r="3.6" fill="#8a70ab" stroke="#5b2d82" stroke-width="2.1"/>
<circle cx="1648.3" cy="2335.8" r="3.2" fill="#b7a8cc"/>
<circle cx="1648.3" cy="2360.7" r="3.6" fill="#fff" fill-opacity="0.0" stroke="#5b2d82" stroke-width="2.1"/>
<circle cx="1648.3" cy="2372.4" r="3.6" fill="#8a70ab" stroke="#5b2d82" stroke-width="2.1"/>
<circle cx="1648.3" cy="2394.4" r="3.6" fill="#8a70ab" stroke="#5b2d82" stroke-width="2.1"/>
<circle cx="1677.5" cy="2329.6" r="3.2" fill="#b7a8cc"/>
<circle cx="1677.5" cy="2387.1" r="3.2" fill="#b7a8cc"/>
<circle cx="1677.5" cy="2368.0" r="3.6" fill="#fff" fill-opacity="0.0" stroke="#5b2d82" stroke-width="2.1"/>
<circle cx="1677.5" cy="2427.3" r="3.6" fill="#8a70ab" stroke="#5b2d82" stroke-width="2.1"/>
<circle cx="1677.5" cy="2432.8" r="3.6" fill="#8a70ab" stroke="#5b2d82" stroke-width="2.1"/>
<circle cx="1706.8" cy="2313.8" r="3.2" fill="#b7a8cc"/>
<circle cx="1706.8" cy="2369.9" r="3.2" fill="#b7a8cc"/>
<circle cx="1706.8" cy="2379.0" r="3.2" fill="#b7a8cc"/>
<circle cx="1706.8" cy="2354.1" r="3.6" fill="#fff" fill-opacity="0.0" stroke="#5b2d82" stroke-width="2.1"/>
<circle cx="1706.8" cy="2435.8" r="3.6" fill="#8a70ab" stroke="#5b2d82" stroke-width="2.1"/>
<circle cx="1706.8" cy="2442.7" r="3.6" fill="#8a70ab" stroke="#5b2d82" stroke-width="2.1"/>
<circle cx="1736.0" cy="2279.8" r="3.2" fill="#b7a8cc"/>
<circle cx="1736.0" cy="2338.4" r="3.2" fill="#b7a8cc"/>
<circle cx="1736.0" cy="2354.1" r="3.2" fill="#b7a8cc"/>
<circle cx="1736.0" cy="2324.1" r="3.6" fill="#fff" fill-opacity="0.0" stroke="#5b2d82" stroke-width="2.1"/>
<circle cx="1736.0" cy="2422.9" r="3.6" fill="#8a70ab" stroke="#5b2d82" stroke-width="2.1"/>
<circle cx="1736.0" cy="2438.3" r="3.6" fill="#8a70ab" stroke="#5b2d82" stroke-width="2.1"/>
<circle cx="1765.2" cy="2259.7" r="3.2" fill="#b7a8cc"/>
<circle cx="1765.2" cy="2304.0" r="3.2" fill="#b7a8cc"/>
<circle cx="1765.2" cy="2319.3" r="3.2" fill="#b7a8cc"/>
<circle cx="1765.2" cy="2432.1" r="3.2" fill="#b7a8cc"/>
<circle cx="1765.2" cy="2294.4" r="3.6" fill="#fff" fill-opacity="0.0" stroke="#5b2d82" stroke-width="2.1"/>
<circle cx="1765.2" cy="2425.5" r="3.6" fill="#8a70ab" stroke="#5b2d82" stroke-width="2.1"/>
<circle cx="1765.2" cy="2458.5" r="3.6" fill="#8a70ab" stroke="#5b2d82" stroke-width="2.1"/>
<circle cx="1794.4" cy="2272.5" r="3.2" fill="#b7a8cc"/>
<circle cx="1794.4" cy="2309.1" r="3.2" fill="#b7a8cc"/>
<circle cx="1794.4" cy="2315.7" r="3.2" fill="#b7a8cc"/>
<circle cx="1794.4" cy="2410.1" r="3.2" fill="#b7a8cc"/>
<circle cx="1794.4" cy="2299.2" r="3.6" fill="#fff" fill-opacity="0.0" stroke="#5b2d82" stroke-width="2.1"/>
<circle cx="1794.4" cy="2416.4" r="3.6" fill="#8a70ab" stroke="#5b2d82" stroke-width="2.1"/>
<circle cx="1794.4" cy="2446.7" r="3.6" fill="#8a70ab" stroke="#5b2d82" stroke-width="2.1"/>
<circle cx="1823.6" cy="2368.8" r="3.2" fill="#b7a8cc"/>
<circle cx="1823.6" cy="2377.9" r="3.2" fill="#b7a8cc"/>
<circle cx="1823.6" cy="2396.2" r="3.2" fill="#b7a8cc"/>
<circle cx="1823.6" cy="2409.0" r="3.2" fill="#b7a8cc"/>
<circle cx="1823.6" cy="2373.5" r="3.6" fill="#8a70ab" stroke="#5b2d82" stroke-width="2.1"/>
<circle cx="1823.6" cy="2402.8" r="3.6" fill="#8a70ab" stroke="#5b2d82" stroke-width="2.1"/>
<circle cx="1823.6" cy="2443.1" r="3.6" fill="#8a70ab" stroke="#5b2d82" stroke-width="2.1"/>
<circle cx="1852.9" cy="2336.9" r="3.2" fill="#b7a8cc"/>
<circle cx="1852.9" cy="2359.6" r="3.2" fill="#b7a8cc"/>
<circle cx="1852.9" cy="2368.8" r="3.2" fill="#b7a8cc"/>
<circle cx="1852.9" cy="2377.9" r="3.2" fill="#b7a8cc"/>
<circle cx="1852.9" cy="2382.3" r="3.2" fill="#b7a8cc"/>
<circle cx="1852.9" cy="2345.7" r="3.6" fill="#fff" fill-opacity="0.0" stroke="#5b2d82" stroke-width="2.1"/>
<circle cx="1852.9" cy="2445.6" r="3.6" fill="#8a70ab" stroke="#5b2d82" stroke-width="2.1"/>
<circle cx="1882.1" cy="2101.5" r="3.2" fill="#b7a8cc"/>
<circle cx="1882.1" cy="2177.3" r="3.2" fill="#b7a8cc"/>
<circle cx="1882.1" cy="2290.0" r="3.2" fill="#b7a8cc"/>
<circle cx="1882.1" cy="2325.9" r="3.2" fill="#b7a8cc"/>
<circle cx="1882.1" cy="2345.0" r="3.2" fill="#b7a8cc"/>
<circle cx="1882.1" cy="2201.4" r="3.6" fill="#fff" fill-opacity="0.0" stroke="#5b2d82" stroke-width="2.1"/>
<circle cx="1882.1" cy="2309.1" r="3.6" fill="#fff" fill-opacity="0.0" stroke="#5b2d82" stroke-width="2.1"/>
<circle cx="1882.1" cy="2376.1" r="3.6" fill="#8a70ab" stroke="#5b2d82" stroke-width="2.1"/>
<circle cx="1911.3" cy="2129.0" r="3.2" fill="#b7a8cc"/>
<circle cx="1911.3" cy="2151.7" r="3.2" fill="#b7a8cc"/>
<circle cx="1911.3" cy="2235.9" r="3.2" fill="#b7a8cc"/>
<circle cx="1911.3" cy="2254.2" r="3.2" fill="#b7a8cc"/>
<circle cx="1911.3" cy="2302.9" r="3.2" fill="#b7a8cc"/>
<circle cx="1911.3" cy="2312.0" r="3.2" fill="#b7a8cc"/>
<circle cx="1911.3" cy="2178.4" r="3.6" fill="#fff" fill-opacity="0.0" stroke="#5b2d82" stroke-width="2.1"/>
<circle cx="1911.3" cy="2283.8" r="3.6" fill="#8a70ab" stroke="#5b2d82" stroke-width="2.1"/>
<line x1="1611.3" y1="2302.9" x2="1626.9" y2="2302.9" stroke="#111" stroke-width="3.0"/>
<line x1="1640.5" y1="2372.4" x2="1656.1" y2="2372.4" stroke="#111" stroke-width="3.0"/>
<line x1="1669.7" y1="2404.3" x2="1685.3" y2="2404.3" stroke="#111" stroke-width="3.0"/>
<line x1="1699.0" y1="2406.1" x2="1714.6" y2="2406.1" stroke="#111" stroke-width="3.0"/>
<line x1="1728.2" y1="2388.9" x2="1743.8" y2="2388.9" stroke="#111" stroke-width="3.0"/>
<line x1="1757.4" y1="2379.0" x2="1773.0" y2="2379.0" stroke="#111" stroke-width="3.0"/>
<line x1="1786.6" y1="2375.4" x2="1802.2" y2="2375.4" stroke="#111" stroke-width="3.0"/>
<line x1="1815.8" y1="2398.0" x2="1831.4" y2="2398.0" stroke="#111" stroke-width="3.0"/>
<line x1="1845.1" y1="2376.8" x2="1860.7" y2="2376.8" stroke="#111" stroke-width="3.0"/>
<line x1="1874.3" y1="2279.1" x2="1889.9" y2="2279.1" stroke="#111" stroke-width="3.0"/>
<line x1="1903.5" y1="2241.4" x2="1919.1" y2="2241.4" stroke="#111" stroke-width="3.0"/>
</svg>
</body></html>
